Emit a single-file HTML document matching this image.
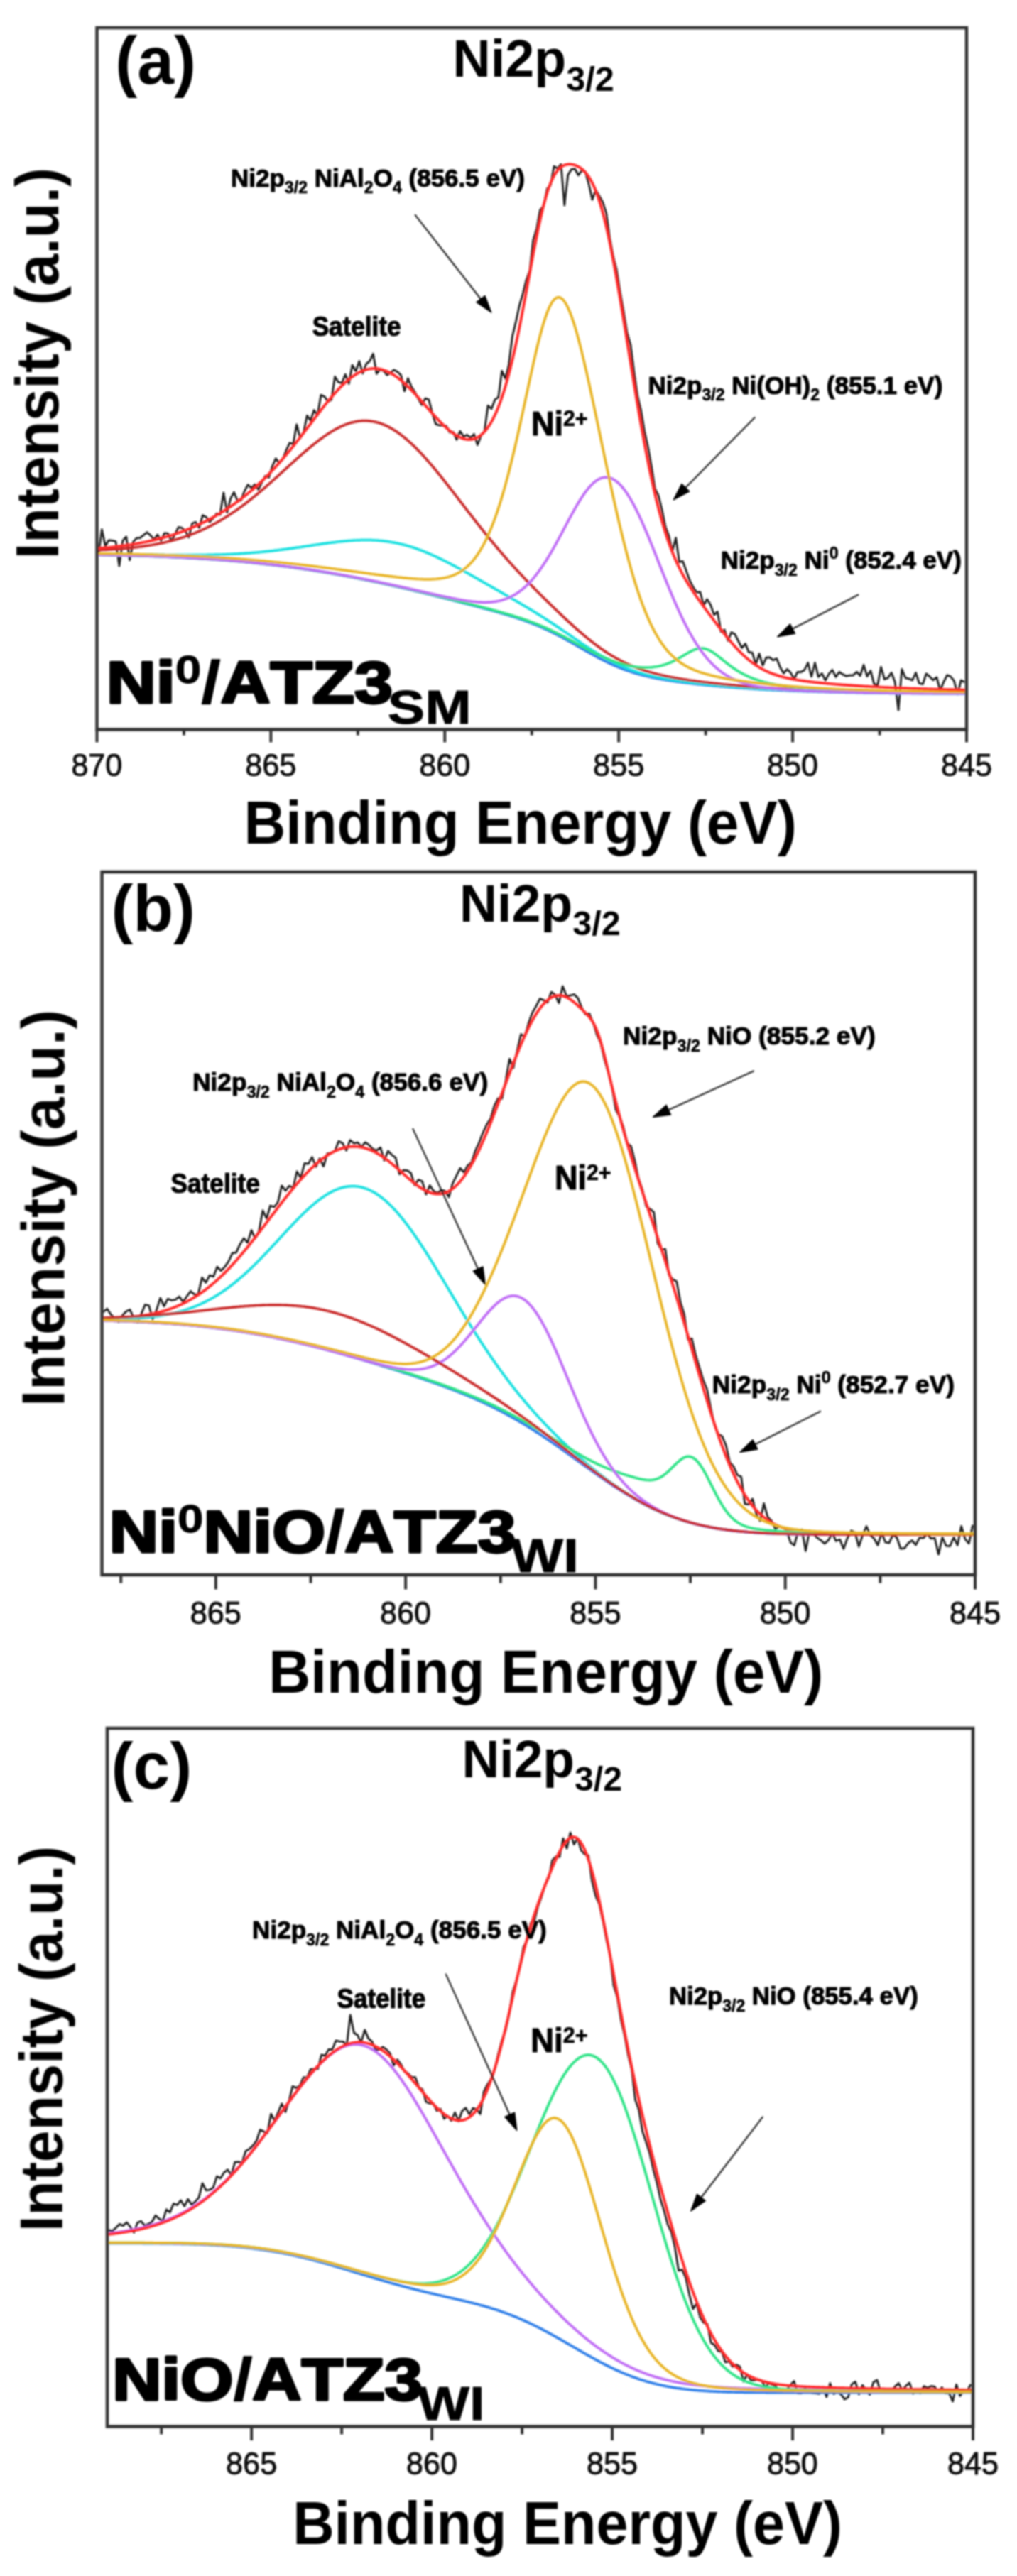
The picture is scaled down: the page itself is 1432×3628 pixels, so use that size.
<!DOCTYPE html><html><head><meta charset="utf-8"><style>html,body{margin:0;padding:0;background:#fff;overflow:hidden;}svg{display:block} text{font-family:"Liberation Sans",sans-serif;font-kerning:none;}</style></head><body>
<svg width="1432" height="3628" viewBox="0 0 1432 3628">
<defs><filter id="soft" x="0" y="0" width="1" height="1"><feGaussianBlur stdDeviation="0.8"/></filter></defs>
<rect width="1432" height="3628" fill="#fff"/>
<g filter="url(#soft)">
<g clip-path="url(#clipa)">
<path d="M138.5,782.7 L143.4,745.6 L148.3,769.1 L153.2,760.8 L158.1,761.3 L163.0,762.7 L167.9,797.0 L172.8,761.6 L177.7,755.9 L182.6,788.8 L187.5,763.3 L192.4,757.9 L197.3,757.7 L202.2,753.7 L207.1,749.7 L212.0,754.1 L216.9,760.0 L221.8,753.1 L226.7,761.5 L231.6,750.9 L236.5,751.4 L241.4,762.1 L246.3,752.6 L251.2,742.6 L256.1,743.5 L260.9,747.5 L265.8,756.8 L270.7,737.2 L275.6,735.4 L280.5,743.2 L285.4,725.8 L290.3,728.2 L295.2,735.1 L300.1,730.1 L305.0,723.4 L309.9,725.0 L314.8,694.0 L319.7,721.6 L324.6,702.4 L329.5,693.2 L334.4,705.2 L339.3,704.8 L344.2,691.8 L349.1,682.7 L354.0,687.3 L358.9,682.3 L363.8,689.5 L368.7,679.5 L373.6,670.3 L378.5,672.6 L383.4,656.9 L388.3,645.7 L393.2,652.3 L398.1,646.6 L403.0,634.4 L407.9,623.8 L412.8,625.8 L417.7,597.8 L422.6,616.9 L427.5,608.9 L432.4,585.3 L437.3,592.4 L442.2,577.7 L447.1,585.0 L452.0,556.2 L456.9,558.7 L461.8,565.4 L466.7,562.9 L471.6,530.5 L476.5,538.2 L481.4,539.6 L486.3,527.2 L491.2,540.3 L496.1,514.1 L501.0,522.9 L505.8,508.7 L510.7,525.9 L515.6,512.6 L520.5,508.6 L525.4,498.2 L530.3,526.3 L535.2,520.3 L540.1,522.4 L545.0,528.2 L549.9,525.0 L554.8,520.9 L559.7,523.8 L564.6,528.4 L569.5,550.9 L574.4,532.9 L579.3,544.8 L584.2,552.1 L589.1,561.9 L594.0,570.2 L598.9,561.1 L603.8,562.8 L608.7,582.2 L613.6,597.3 L618.5,598.8 L623.4,599.4 L628.3,599.8 L633.2,608.9 L638.1,608.3 L643.0,619.1 L647.9,607.3 L652.8,615.0 L657.7,612.6 L662.6,616.5 L667.5,611.5 L672.4,626.6 L677.3,613.4 L682.2,607.3 L687.1,571.3 L692.0,575.8 L696.9,562.9 L701.8,559.4 L706.7,522.3 L711.6,533.3 L716.5,513.7 L721.4,473.9 L726.3,453.6 L731.2,431.0 L736.1,414.4 L741.0,394.7 L745.9,381.0 L750.7,338.4 L755.6,322.5 L760.5,295.9 L765.4,289.8 L770.3,266.0 L775.2,260.7 L780.1,234.2 L785.0,237.5 L789.9,231.4 L794.8,289.0 L799.7,246.5 L804.6,238.5 L809.5,237.8 L814.4,246.7 L819.3,239.9 L824.2,242.1 L829.1,259.2 L834.0,281.1 L838.9,267.6 L843.8,276.0 L848.7,284.8 L853.6,300.2 L858.5,334.4 L863.4,360.7 L868.3,380.6 L873.2,411.4 L878.1,438.9 L883.0,469.0 L887.9,485.7 L892.8,524.0 L897.7,557.5 L902.6,578.4 L907.5,607.5 L912.4,629.8 L917.3,657.1 L922.2,688.2 L927.1,697.9 L932.0,717.9 L936.9,741.7 L941.8,754.8 L946.7,776.1 L951.6,757.5 L956.5,791.6 L961.4,790.4 L966.3,804.0 L971.2,817.7 L976.1,827.2 L981.0,834.1 L985.9,834.0 L990.8,852.5 L995.6,844.0 L1000.5,851.8 L1005.4,865.9 L1010.3,861.6 L1015.2,889.8 L1020.1,886.9 L1025.0,902.3 L1029.9,890.5 L1034.8,893.3 L1039.7,903.0 L1044.6,912.5 L1049.5,906.6 L1054.4,918.6 L1059.3,919.2 L1064.2,935.8 L1069.1,920.7 L1074.0,937.2 L1078.9,926.1 L1083.8,925.8 L1088.7,929.8 L1093.6,927.6 L1098.5,939.8 L1103.4,948.3 L1108.3,942.5 L1113.2,947.3 L1118.1,956.3 L1123.0,946.3 L1127.9,946.5 L1132.8,943.5 L1137.7,933.5 L1142.6,953.0 L1147.5,933.5 L1152.4,953.3 L1157.3,948.5 L1162.2,958.2 L1167.1,949.1 L1172.0,943.5 L1176.9,953.4 L1181.8,946.5 L1186.7,949.9 L1191.6,952.1 L1196.5,951.1 L1201.4,951.0 L1206.3,946.2 L1211.2,951.7 L1216.1,936.5 L1221.0,952.6 L1225.9,944.6 L1230.8,963.4 L1235.7,964.9 L1240.5,939.4 L1245.4,956.5 L1250.3,954.6 L1255.2,947.4 L1260.1,960.3 L1265.0,1000.0 L1269.9,942.4 L1274.8,954.6 L1279.7,955.8 L1284.6,958.0 L1289.5,947.5 L1294.4,962.5 L1299.3,963.6 L1304.2,948.8 L1309.1,952.9 L1314.0,957.7 L1318.9,953.9 L1323.8,972.6 L1328.7,960.5 L1333.6,950.9 L1338.5,952.8 L1343.4,958.8 L1348.3,977.8 L1353.2,958.1 L1358.1,960.7" fill="none" stroke="#1a1a1a" stroke-width="2.8" stroke-linejoin="round"/>
<path d="M137.5,781.4 L139.0,781.4 L140.5,781.5 L142.0,781.5 L143.5,781.5 L145.0,781.6 L146.5,781.6 L148.0,781.6 L149.5,781.6 L151.0,781.7 L152.5,781.7 L154.0,781.7 L155.5,781.8 L157.0,781.8 L158.5,781.8 L160.0,781.9 L161.5,781.9 L163.0,781.9 L164.5,782.0 L166.0,782.0 L167.5,782.0 L169.0,782.1 L170.5,782.1 L172.0,782.1 L173.5,782.2 L175.0,782.2 L176.5,782.3 L178.0,782.3 L179.5,782.3 L181.0,782.4 L182.5,782.4 L184.0,782.5 L185.5,782.5 L187.0,782.5 L188.5,782.6 L190.0,782.6 L191.5,782.7 L193.0,782.7 L194.5,782.8 L196.0,782.8 L197.5,782.9 L199.0,782.9 L200.5,782.9 L202.0,783.0 L203.5,783.0 L205.0,783.1 L206.5,783.1 L208.0,783.2 L209.5,783.2 L211.0,783.3 L212.5,783.4 L214.0,783.4 L215.5,783.5 L217.0,783.5 L218.5,783.6 L220.0,783.6 L221.5,783.7 L223.0,783.7 L224.5,783.8 L226.0,783.9 L227.5,783.9 L229.0,784.0 L230.5,784.0 L232.0,784.1 L233.5,784.2 L235.0,784.2 L236.5,784.3 L238.0,784.4 L239.5,784.4 L241.0,784.5 L242.5,784.6 L244.0,784.6 L245.5,784.7 L247.0,784.8 L248.5,784.8 L250.0,784.9 L251.5,785.0 L253.0,785.1 L254.5,785.1 L256.0,785.2 L257.5,785.3 L259.0,785.4 L260.5,785.4 L262.0,785.5 L263.5,785.6 L265.0,785.7 L266.5,785.8 L268.0,785.9 L269.5,785.9 L271.0,786.0 L272.5,786.1 L274.0,786.2 L275.5,786.3 L277.0,786.4 L278.5,786.5 L280.0,786.6 L281.5,786.6 L283.0,786.7 L284.5,786.8 L286.0,786.9 L287.5,787.0 L289.0,787.1 L290.5,787.2 L292.0,787.3 L293.5,787.4 L295.0,787.5 L296.5,787.6 L298.0,787.7 L299.5,787.8 L301.0,787.9 L302.5,788.0 L304.0,788.1 L305.5,788.3 L307.0,788.4 L308.5,788.5 L310.0,788.6 L311.5,788.7 L313.0,788.8 L314.5,788.9 L316.0,789.0 L317.5,789.2 L319.0,789.3 L320.5,789.4 L322.0,789.5 L323.5,789.7 L325.0,789.8 L326.5,789.9 L328.0,790.0 L329.5,790.2 L331.0,790.3 L332.5,790.4 L334.0,790.5 L335.5,790.7 L337.0,790.8 L338.5,790.9 L340.0,791.1 L341.5,791.2 L343.0,791.4 L344.5,791.5 L346.0,791.6 L347.5,791.8 L349.0,791.9 L350.5,792.1 L352.0,792.2 L353.5,792.4 L355.0,792.5 L356.5,792.7 L358.0,792.8 L359.5,793.0 L361.0,793.1 L362.5,793.3 L364.0,793.4 L365.5,793.6 L367.0,793.8 L368.5,793.9 L370.0,794.1 L371.5,794.3 L373.0,794.4 L374.5,794.6 L376.0,794.8 L377.5,794.9 L379.0,795.1 L380.5,795.3 L382.0,795.4 L383.5,795.6 L385.0,795.8 L386.5,796.0 L388.0,796.2 L389.5,796.3 L391.0,796.5 L392.5,796.7 L394.0,796.9 L395.5,797.1 L397.0,797.3 L398.5,797.5 L400.0,797.6 L401.5,797.8 L403.0,798.0 L404.5,798.2 L406.0,798.4 L407.5,798.6 L409.0,798.8 L410.5,799.0 L412.0,799.2 L413.5,799.4 L415.0,799.6 L416.5,799.8 L418.0,800.1 L419.5,800.3 L421.0,800.5 L422.5,800.7 L424.0,800.9 L425.5,801.1 L427.0,801.3 L428.5,801.6 L430.0,801.8 L431.5,802.0 L433.0,802.2 L434.5,802.5 L436.0,802.7 L437.5,802.9 L439.0,803.1 L440.5,803.4 L442.0,803.6 L443.5,803.8 L445.0,804.1 L446.5,804.3 L448.0,804.6 L449.5,804.8 L451.0,805.0 L452.5,805.3 L454.0,805.5 L455.5,805.8 L457.0,806.0 L458.5,806.3 L460.0,806.5 L461.5,806.8 L463.0,807.0 L464.5,807.3 L466.0,807.6 L467.5,807.8 L469.0,808.1 L470.5,808.3 L472.0,808.6 L473.5,808.9 L475.0,809.1 L476.5,809.4 L478.0,809.7 L479.5,809.9 L481.0,810.2 L482.5,810.5 L484.0,810.8 L485.5,811.0 L487.0,811.3 L488.5,811.6 L490.0,811.9 L491.5,812.2 L493.0,812.4 L494.5,812.7 L496.0,813.0 L497.5,813.3 L499.0,813.6 L500.5,813.9 L502.0,814.2 L503.5,814.5 L505.0,814.8 L506.5,815.1 L508.0,815.4 L509.5,815.7 L511.0,816.0 L512.5,816.3 L514.0,816.6 L515.5,816.9 L517.0,817.2 L518.5,817.5 L520.0,817.8 L521.5,818.1 L523.0,818.4 L524.5,818.7 L526.0,819.1 L527.5,819.4 L529.0,819.7 L530.5,820.0 L532.0,820.3 L533.5,820.6 L535.0,821.0 L536.5,821.3 L538.0,821.6 L539.5,821.9 L541.0,822.3 L542.5,822.6 L544.0,822.9 L545.5,823.3 L547.0,823.6 L548.5,823.9 L550.0,824.3 L551.5,824.6 L553.0,824.9 L554.5,825.3 L556.0,825.6 L557.5,825.9 L559.0,826.3 L560.5,826.6 L562.0,827.0 L563.5,827.3 L565.0,827.7 L566.5,828.0 L568.0,828.4 L569.5,828.7 L571.0,829.0 L572.5,829.4 L574.0,829.7 L575.5,830.1 L577.0,830.5 L578.5,830.8 L580.0,831.2 L581.5,831.5 L583.0,831.9 L584.5,832.2 L586.0,832.6 L587.5,833.0 L589.0,833.3 L590.5,833.7 L592.0,834.0 L593.5,834.4 L595.0,834.8 L596.5,835.1 L598.0,835.5 L599.5,835.9 L601.0,836.2 L602.5,836.6 L604.0,837.0 L605.5,837.3 L607.0,837.7 L608.5,838.1 L610.0,838.4 L611.5,838.8 L613.0,839.2 L614.5,839.6 L616.0,839.9 L617.5,840.3 L619.0,840.7 L620.5,841.1 L622.0,841.4 L623.5,841.8 L625.0,842.2 L626.5,842.6 L628.0,842.9 L629.5,843.3 L631.0,843.7 L632.5,844.1 L634.0,844.5 L635.5,844.8 L637.0,845.2 L638.5,845.6 L640.0,846.0 L641.5,846.4 L643.0,846.8 L644.5,847.1 L646.0,847.5 L647.5,847.9 L649.0,848.3 L650.5,848.7 L652.0,849.1 L653.5,849.5 L655.0,849.9 L656.5,850.2 L658.0,850.6 L659.5,851.0 L661.0,851.4 L662.5,851.8 L664.0,852.2 L665.5,852.6 L667.0,853.0 L668.5,853.4 L670.0,853.8 L671.5,854.2 L673.0,854.6 L674.5,855.0 L676.0,855.4 L677.5,855.8 L679.0,856.2 L680.5,856.6 L682.0,857.0 L683.5,857.4 L685.0,857.8 L686.5,858.2 L688.0,858.6 L689.5,859.0 L691.0,859.4 L692.5,859.8 L694.0,860.2 L695.5,860.6 L697.0,861.1 L698.5,861.5 L700.0,861.9 L701.5,862.3 L703.0,862.8 L704.5,863.2 L706.0,863.6 L707.5,864.1 L709.0,864.5 L710.5,864.9 L712.0,865.4 L713.5,865.8 L715.0,866.3 L716.5,866.7 L718.0,867.2 L719.5,867.7 L721.0,868.1 L722.5,868.6 L724.0,869.1 L725.5,869.6 L727.0,870.1 L728.5,870.6 L730.0,871.0 L731.5,871.6 L733.0,872.1 L734.5,872.6 L736.0,873.1 L737.5,873.6 L739.0,874.2 L740.5,874.7 L742.0,875.2 L743.5,875.8 L745.0,876.4 L746.5,876.9 L748.0,877.5 L749.5,878.1 L751.0,878.7 L752.5,879.3 L754.0,879.9 L755.5,880.5 L757.0,881.1 L758.5,881.8 L760.0,882.4 L761.5,883.0 L763.0,883.7 L764.5,884.4 L766.0,885.0 L767.5,885.7 L769.0,886.4 L770.5,887.1 L772.0,887.8 L773.5,888.5 L775.0,889.2 L776.5,890.0 L778.0,890.7 L779.5,891.5 L781.0,892.2 L782.5,893.0 L784.0,893.8 L785.5,894.5 L787.0,895.3 L788.5,896.1 L790.0,896.9 L791.5,897.7 L793.0,898.5 L794.5,899.3 L796.0,900.2 L797.5,901.0 L799.0,901.8 L800.5,902.6 L802.0,903.5 L803.5,904.3 L805.0,905.2 L806.5,906.0 L808.0,906.9 L809.5,907.7 L811.0,908.6 L812.5,909.5 L814.0,910.3 L815.5,911.2 L817.0,912.0 L818.5,912.9 L820.0,913.8 L821.5,914.6 L823.0,915.5 L824.5,916.3 L826.0,917.2 L827.5,918.0 L829.0,918.9 L830.5,919.7 L832.0,920.6 L833.5,921.4 L835.0,922.2 L836.5,923.0 L838.0,923.9 L839.5,924.7 L841.0,925.5 L842.5,926.3 L844.0,927.1 L845.5,927.8 L847.0,928.6 L848.5,929.4 L850.0,930.1 L851.5,930.9 L853.0,931.6 L854.5,932.4 L856.0,933.1 L857.5,933.8 L859.0,934.5 L860.5,935.2 L862.0,935.9 L863.5,936.5 L865.0,937.2 L866.5,937.8 L868.0,938.5 L869.5,939.1 L871.0,939.7 L872.5,940.3 L874.0,940.9 L875.5,941.5 L877.0,942.1 L878.5,942.7 L880.0,943.2 L881.5,943.7 L883.0,944.3 L884.5,944.8 L886.0,945.3 L887.5,945.8 L889.0,946.3 L890.5,946.8 L892.0,947.3 L893.5,947.7 L895.0,948.2 L896.5,948.6 L898.0,949.0 L899.5,949.5 L901.0,949.9 L902.5,950.3 L904.0,950.7 L905.5,951.1 L907.0,951.4 L908.5,951.8 L910.0,952.2 L911.5,952.5 L913.0,952.9 L914.5,953.2 L916.0,953.5 L917.5,953.9 L919.0,954.2 L920.5,954.5 L922.0,954.8 L923.5,955.1 L925.0,955.4 L926.5,955.7 L928.0,956.0 L929.5,956.2 L931.0,956.5 L932.5,956.8 L934.0,957.0 L935.5,957.3 L937.0,957.6 L938.5,957.8 L940.0,958.0 L941.5,958.3 L943.0,958.5 L944.5,958.8 L946.0,959.0 L947.5,959.2 L949.0,959.4 L950.5,959.6 L952.0,959.9 L953.5,960.1 L955.0,960.3 L956.5,960.5 L958.0,960.7 L959.5,960.9 L961.0,961.1 L962.5,961.3 L964.0,961.4 L965.5,961.6 L967.0,961.8 L968.5,962.0 L970.0,962.2 L971.5,962.4 L973.0,962.5 L974.5,962.7 L976.0,962.9 L977.5,963.1 L979.0,963.2 L980.5,963.4 L982.0,963.6 L983.5,963.7 L985.0,963.9 L986.5,964.0 L988.0,964.2 L989.5,964.3 L991.0,964.5 L992.5,964.7 L994.0,964.8 L995.5,965.0 L997.0,965.1 L998.5,965.2 L1000.0,965.4 L1001.5,965.5 L1003.0,965.7 L1004.5,965.8 L1006.0,966.0 L1007.5,966.1 L1009.0,966.2 L1010.5,966.4 L1012.0,966.5 L1013.5,966.6 L1015.0,966.8 L1016.5,966.9 L1018.0,967.0 L1019.5,967.1 L1021.0,967.3 L1022.5,967.4 L1024.0,967.5 L1025.5,967.6 L1027.0,967.8 L1028.5,967.9 L1030.0,968.0 L1031.5,968.1 L1033.0,968.2 L1034.5,968.3 L1036.0,968.5 L1037.5,968.6 L1039.0,968.7 L1040.5,968.8 L1042.0,968.9 L1043.5,969.0 L1045.0,969.1 L1046.5,969.2 L1048.0,969.3 L1049.5,969.4 L1051.0,969.5 L1052.5,969.6 L1054.0,969.7 L1055.5,969.8 L1057.0,969.9 L1058.5,970.0 L1060.0,970.1 L1061.5,970.2 L1063.0,970.3 L1064.5,970.4 L1066.0,970.5 L1067.5,970.6 L1069.0,970.7 L1070.5,970.8 L1072.0,970.9 L1073.5,970.9 L1075.0,971.0 L1076.5,971.1 L1078.0,971.2 L1079.5,971.3 L1081.0,971.4 L1082.5,971.4 L1084.0,971.5 L1085.5,971.6 L1087.0,971.7 L1088.5,971.8 L1090.0,971.8 L1091.5,971.9 L1093.0,972.0 L1094.5,972.1 L1096.0,972.1 L1097.5,972.2 L1099.0,972.3 L1100.5,972.3 L1102.0,972.4 L1103.5,972.5 L1105.0,972.5 L1106.5,972.6 L1108.0,972.7 L1109.5,972.7 L1111.0,972.8 L1112.5,972.9 L1114.0,972.9 L1115.5,973.0 L1117.0,973.1 L1118.5,973.1 L1120.0,973.2 L1121.5,973.2 L1123.0,973.3 L1124.5,973.4 L1126.0,973.4 L1127.5,973.5 L1129.0,973.5 L1130.5,973.6 L1132.0,973.6 L1133.5,973.7 L1135.0,973.7 L1136.5,973.8 L1138.0,973.9 L1139.5,973.9 L1141.0,974.0 L1142.5,974.0 L1144.0,974.0 L1145.5,974.1 L1147.0,974.1 L1148.5,974.2 L1150.0,974.2 L1151.5,974.3 L1153.0,974.3 L1154.5,974.4 L1156.0,974.4 L1157.5,974.5 L1159.0,974.5 L1160.5,974.5 L1162.0,974.6 L1163.5,974.6 L1165.0,974.7 L1166.5,974.7 L1168.0,974.8 L1169.5,974.8 L1171.0,974.8 L1172.5,974.9 L1174.0,974.9 L1175.5,974.9 L1177.0,975.0 L1178.5,975.0 L1180.0,975.0 L1181.5,975.1 L1183.0,975.1 L1184.5,975.2 L1186.0,975.2 L1187.5,975.2 L1189.0,975.2 L1190.5,975.3 L1192.0,975.3 L1193.5,975.3 L1195.0,975.4 L1196.5,975.4 L1198.0,975.4 L1199.5,975.5 L1201.0,975.5 L1202.5,975.5 L1204.0,975.5 L1205.5,975.6 L1207.0,975.6 L1208.5,975.6 L1210.0,975.7 L1211.5,975.7 L1213.0,975.7 L1214.5,975.7 L1216.0,975.8 L1217.5,975.8 L1219.0,975.8 L1220.5,975.8 L1222.0,975.9 L1223.5,975.9 L1225.0,975.9 L1226.5,975.9 L1228.0,975.9 L1229.5,976.0 L1231.0,976.0 L1232.5,976.0 L1234.0,976.0 L1235.5,976.0 L1237.0,976.1 L1238.5,976.1 L1240.0,976.1 L1241.5,976.1 L1243.0,976.1 L1244.5,976.2 L1246.0,976.2 L1247.5,976.2 L1249.0,976.2 L1250.5,976.2 L1252.0,976.3 L1253.5,976.3 L1255.0,976.3 L1256.5,976.3 L1258.0,976.3 L1259.5,976.3 L1261.0,976.3 L1262.5,976.4 L1264.0,976.4 L1265.5,976.4 L1267.0,976.4 L1268.5,976.4 L1270.0,976.4 L1271.5,976.4 L1273.0,976.5 L1274.5,976.5 L1276.0,976.5 L1277.5,976.5 L1279.0,976.5 L1280.5,976.5 L1282.0,976.5 L1283.5,976.6 L1285.0,976.6 L1286.5,976.6 L1288.0,976.6 L1289.5,976.6 L1291.0,976.6 L1292.5,976.6 L1294.0,976.6 L1295.5,976.6 L1297.0,976.7 L1298.5,976.7 L1300.0,976.7 L1301.5,976.7 L1303.0,976.7 L1304.5,976.7 L1306.0,976.7 L1307.5,976.7 L1309.0,976.7 L1310.5,976.7 L1312.0,976.7 L1313.5,976.8 L1315.0,976.8 L1316.5,976.8 L1318.0,976.8 L1319.5,976.8 L1321.0,976.8 L1322.5,976.8 L1324.0,976.8 L1325.5,976.8 L1327.0,976.8 L1328.5,976.8 L1330.0,976.8 L1331.5,976.8 L1333.0,976.8 L1334.5,976.9 L1336.0,976.9 L1337.5,976.9 L1339.0,976.9 L1340.5,976.9 L1342.0,976.9 L1343.5,976.9 L1345.0,976.9 L1346.5,976.9 L1348.0,976.9 L1349.5,976.9 L1351.0,976.9 L1352.5,976.9 L1354.0,976.9 L1355.5,976.9 L1357.0,976.9 L1358.5,976.9" fill="none" stroke="#2f7ee8" stroke-width="3.7"/>
<path d="M137.5,780.2 L139.0,780.3 L140.5,780.3 L142.0,780.3 L143.5,780.3 L145.0,780.3 L146.5,780.3 L148.0,780.4 L149.5,780.4 L151.0,780.4 L152.5,780.4 L154.0,780.4 L155.5,780.5 L157.0,780.5 L158.5,780.5 L160.0,780.5 L161.5,780.5 L163.0,780.5 L164.5,780.6 L166.0,780.6 L167.5,780.6 L169.0,780.6 L170.5,780.6 L172.0,780.7 L173.5,780.7 L175.0,780.7 L176.5,780.7 L178.0,780.7 L179.5,780.8 L181.0,780.8 L182.5,780.8 L184.0,780.8 L185.5,780.8 L187.0,780.9 L188.5,780.9 L190.0,780.9 L191.5,780.9 L193.0,781.0 L194.5,781.0 L196.0,781.0 L197.5,781.0 L199.0,781.0 L200.5,781.1 L202.0,781.1 L203.5,781.1 L205.0,781.1 L206.5,781.1 L208.0,781.2 L209.5,781.2 L211.0,781.2 L212.5,781.2 L214.0,781.2 L215.5,781.3 L217.0,781.3 L218.5,781.3 L220.0,781.3 L221.5,781.3 L223.0,781.3 L224.5,781.4 L226.0,781.4 L227.5,781.4 L229.0,781.4 L230.5,781.4 L232.0,781.4 L233.5,781.5 L235.0,781.5 L236.5,781.5 L238.0,781.5 L239.5,781.5 L241.0,781.5 L242.5,781.5 L244.0,781.6 L245.5,781.6 L247.0,781.6 L248.5,781.6 L250.0,781.6 L251.5,781.6 L253.0,781.6 L254.5,781.6 L256.0,781.6 L257.5,781.6 L259.0,781.6 L260.5,781.6 L262.0,781.6 L263.5,781.6 L265.0,781.6 L266.5,781.6 L268.0,781.6 L269.5,781.6 L271.0,781.6 L272.5,781.6 L274.0,781.6 L275.5,781.6 L277.0,781.6 L278.5,781.6 L280.0,781.6 L281.5,781.6 L283.0,781.6 L284.5,781.5 L286.0,781.5 L287.5,781.5 L289.0,781.5 L290.5,781.5 L292.0,781.4 L293.5,781.4 L295.0,781.4 L296.5,781.4 L298.0,781.3 L299.5,781.3 L301.0,781.3 L302.5,781.2 L304.0,781.2 L305.5,781.1 L307.0,781.1 L308.5,781.1 L310.0,781.0 L311.5,781.0 L313.0,780.9 L314.5,780.9 L316.0,780.8 L317.5,780.8 L319.0,780.7 L320.5,780.6 L322.0,780.6 L323.5,780.5 L325.0,780.4 L326.5,780.4 L328.0,780.3 L329.5,780.2 L331.0,780.1 L332.5,780.1 L334.0,780.0 L335.5,779.9 L337.0,779.8 L338.5,779.7 L340.0,779.6 L341.5,779.5 L343.0,779.4 L344.5,779.3 L346.0,779.2 L347.5,779.1 L349.0,779.0 L350.5,778.9 L352.0,778.8 L353.5,778.7 L355.0,778.5 L356.5,778.4 L358.0,778.3 L359.5,778.2 L361.0,778.0 L362.5,777.9 L364.0,777.8 L365.5,777.6 L367.0,777.5 L368.5,777.3 L370.0,777.2 L371.5,777.1 L373.0,776.9 L374.5,776.7 L376.0,776.6 L377.5,776.4 L379.0,776.3 L380.5,776.1 L382.0,775.9 L383.5,775.8 L385.0,775.6 L386.5,775.4 L388.0,775.2 L389.5,775.1 L391.0,774.9 L392.5,774.7 L394.0,774.5 L395.5,774.3 L397.0,774.1 L398.5,773.9 L400.0,773.7 L401.5,773.5 L403.0,773.3 L404.5,773.1 L406.0,772.9 L407.5,772.7 L409.0,772.5 L410.5,772.3 L412.0,772.1 L413.5,771.9 L415.0,771.7 L416.5,771.4 L418.0,771.2 L419.5,771.0 L421.0,770.8 L422.5,770.6 L424.0,770.4 L425.5,770.1 L427.0,769.9 L428.5,769.7 L430.0,769.5 L431.5,769.2 L433.0,769.0 L434.5,768.8 L436.0,768.6 L437.5,768.4 L439.0,768.1 L440.5,767.9 L442.0,767.7 L443.5,767.5 L445.0,767.2 L446.5,767.0 L448.0,766.8 L449.5,766.6 L451.0,766.4 L452.5,766.2 L454.0,765.9 L455.5,765.7 L457.0,765.5 L458.5,765.3 L460.0,765.1 L461.5,764.9 L463.0,764.7 L464.5,764.5 L466.0,764.3 L467.5,764.1 L469.0,763.9 L470.5,763.8 L472.0,763.6 L473.5,763.4 L475.0,763.2 L476.5,763.0 L478.0,762.9 L479.5,762.7 L481.0,762.6 L482.5,762.4 L484.0,762.3 L485.5,762.1 L487.0,762.0 L488.5,761.9 L490.0,761.7 L491.5,761.6 L493.0,761.5 L494.5,761.4 L496.0,761.3 L497.5,761.2 L499.0,761.1 L500.5,761.0 L502.0,760.9 L503.5,760.9 L505.0,760.8 L506.5,760.8 L508.0,760.7 L509.5,760.7 L511.0,760.7 L512.5,760.6 L514.0,760.6 L515.5,760.6 L517.0,760.6 L518.5,760.6 L520.0,760.7 L521.5,760.7 L523.0,760.7 L524.5,760.8 L526.0,760.9 L527.5,760.9 L529.0,761.0 L530.5,761.1 L532.0,761.2 L533.5,761.3 L535.0,761.5 L536.5,761.6 L538.0,761.7 L539.5,761.9 L541.0,762.1 L542.5,762.3 L544.0,762.4 L545.5,762.6 L547.0,762.9 L548.5,763.1 L550.0,763.3 L551.5,763.6 L553.0,763.8 L554.5,764.1 L556.0,764.4 L557.5,764.7 L559.0,765.0 L560.5,765.3 L562.0,765.7 L563.5,766.0 L565.0,766.4 L566.5,766.7 L568.0,767.1 L569.5,767.5 L571.0,767.9 L572.5,768.3 L574.0,768.8 L575.5,769.2 L577.0,769.6 L578.5,770.1 L580.0,770.6 L581.5,771.1 L583.0,771.6 L584.5,772.1 L586.0,772.6 L587.5,773.1 L589.0,773.7 L590.5,774.2 L592.0,774.8 L593.5,775.3 L595.0,775.9 L596.5,776.5 L598.0,777.1 L599.5,777.7 L601.0,778.3 L602.5,779.0 L604.0,779.6 L605.5,780.3 L607.0,780.9 L608.5,781.6 L610.0,782.3 L611.5,782.9 L613.0,783.6 L614.5,784.3 L616.0,785.0 L617.5,785.7 L619.0,786.5 L620.5,787.2 L622.0,787.9 L623.5,788.7 L625.0,789.4 L626.5,790.1 L628.0,790.9 L629.5,791.7 L631.0,792.4 L632.5,793.2 L634.0,794.0 L635.5,794.8 L637.0,795.6 L638.5,796.4 L640.0,797.2 L641.5,798.0 L643.0,798.8 L644.5,799.6 L646.0,800.4 L647.5,801.2 L649.0,802.0 L650.5,802.9 L652.0,803.7 L653.5,804.5 L655.0,805.4 L656.5,806.2 L658.0,807.0 L659.5,807.9 L661.0,808.7 L662.5,809.6 L664.0,810.4 L665.5,811.3 L667.0,812.1 L668.5,813.0 L670.0,813.8 L671.5,814.7 L673.0,815.5 L674.5,816.4 L676.0,817.2 L677.5,818.1 L679.0,819.0 L680.5,819.8 L682.0,820.7 L683.5,821.5 L685.0,822.4 L686.5,823.3 L688.0,824.1 L689.5,825.0 L691.0,825.8 L692.5,826.7 L694.0,827.6 L695.5,828.4 L697.0,829.3 L698.5,830.2 L700.0,831.0 L701.5,831.9 L703.0,832.7 L704.5,833.6 L706.0,834.5 L707.5,835.3 L709.0,836.2 L710.5,837.1 L712.0,837.9 L713.5,838.8 L715.0,839.7 L716.5,840.5 L718.0,841.4 L719.5,842.3 L721.0,843.1 L722.5,844.0 L724.0,844.9 L725.5,845.7 L727.0,846.6 L728.5,847.5 L730.0,848.4 L731.5,849.2 L733.0,850.1 L734.5,851.0 L736.0,851.9 L737.5,852.8 L739.0,853.7 L740.5,854.6 L742.0,855.5 L743.5,856.4 L745.0,857.3 L746.5,858.2 L748.0,859.1 L749.5,860.0 L751.0,860.9 L752.5,861.8 L754.0,862.8 L755.5,863.7 L757.0,864.6 L758.5,865.6 L760.0,866.5 L761.5,867.4 L763.0,868.4 L764.5,869.3 L766.0,870.3 L767.5,871.3 L769.0,872.2 L770.5,873.2 L772.0,874.2 L773.5,875.1 L775.0,876.1 L776.5,877.1 L778.0,878.1 L779.5,879.1 L781.0,880.1 L782.5,881.1 L784.0,882.1 L785.5,883.1 L787.0,884.1 L788.5,885.1 L790.0,886.2 L791.5,887.2 L793.0,888.2 L794.5,889.2 L796.0,890.3 L797.5,891.3 L799.0,892.3 L800.5,893.3 L802.0,894.4 L803.5,895.4 L805.0,896.4 L806.5,897.5 L808.0,898.5 L809.5,899.5 L811.0,900.6 L812.5,901.6 L814.0,902.6 L815.5,903.6 L817.0,904.7 L818.5,905.7 L820.0,906.7 L821.5,907.7 L823.0,908.7 L824.5,909.7 L826.0,910.7 L827.5,911.7 L829.0,912.6 L830.5,913.6 L832.0,914.6 L833.5,915.5 L835.0,916.5 L836.5,917.4 L838.0,918.4 L839.5,919.3 L841.0,920.2 L842.5,921.1 L844.0,922.0 L845.5,922.9 L847.0,923.8 L848.5,924.6 L850.0,925.5 L851.5,926.3 L853.0,927.2 L854.5,928.0 L856.0,928.8 L857.5,929.6 L859.0,930.4 L860.5,931.1 L862.0,931.9 L863.5,932.7 L865.0,933.4 L866.5,934.1 L868.0,934.8 L869.5,935.5 L871.0,936.2 L872.5,936.9 L874.0,937.6 L875.5,938.2 L877.0,938.8 L878.5,939.5 L880.0,940.1 L881.5,940.7 L883.0,941.3 L884.5,941.9 L886.0,942.4 L887.5,943.0 L889.0,943.5 L890.5,944.0 L892.0,944.6 L893.5,945.1 L895.0,945.6 L896.5,946.0 L898.0,946.5 L899.5,947.0 L901.0,947.4 L902.5,947.9 L904.0,948.3 L905.5,948.8 L907.0,949.2 L908.5,949.6 L910.0,950.0 L911.5,950.4 L913.0,950.7 L914.5,951.1 L916.0,951.5 L917.5,951.8 L919.0,952.2 L920.5,952.5 L922.0,952.9 L923.5,953.2 L925.0,953.5 L926.5,953.8 L928.0,954.1 L929.5,954.4 L931.0,954.7 L932.5,955.0 L934.0,955.3 L935.5,955.6 L937.0,955.9 L938.5,956.1 L940.0,956.4 L941.5,956.7 L943.0,956.9 L944.5,957.2 L946.0,957.4 L947.5,957.7 L949.0,957.9 L950.5,958.1 L952.0,958.4 L953.5,958.6 L955.0,958.8 L956.5,959.0 L958.0,959.2 L959.5,959.5 L961.0,959.7 L962.5,959.9 L964.0,960.1 L965.5,960.3 L967.0,960.5 L968.5,960.7 L970.0,960.9 L971.5,961.1 L973.0,961.3 L974.5,961.4 L976.0,961.6 L977.5,961.8 L979.0,962.0 L980.5,962.2 L982.0,962.3 L983.5,962.5 L985.0,962.7 L986.5,962.9 L988.0,963.0 L989.5,963.2 L991.0,963.4 L992.5,963.5 L994.0,963.7 L995.5,963.8 L997.0,964.0 L998.5,964.1 L1000.0,964.3 L1001.5,964.5 L1003.0,964.6 L1004.5,964.8 L1006.0,964.9 L1007.5,965.0 L1009.0,965.2 L1010.5,965.3 L1012.0,965.5 L1013.5,965.6 L1015.0,965.7 L1016.5,965.9 L1018.0,966.0 L1019.5,966.2 L1021.0,966.3 L1022.5,966.4 L1024.0,966.5 L1025.5,966.7 L1027.0,966.8 L1028.5,966.9 L1030.0,967.1 L1031.5,967.2 L1033.0,967.3 L1034.5,967.4 L1036.0,967.5 L1037.5,967.7 L1039.0,967.8 L1040.5,967.9 L1042.0,968.0 L1043.5,968.1 L1045.0,968.2 L1046.5,968.3 L1048.0,968.5 L1049.5,968.6 L1051.0,968.7 L1052.5,968.8 L1054.0,968.9 L1055.5,969.0 L1057.0,969.1 L1058.5,969.2 L1060.0,969.3 L1061.5,969.4 L1063.0,969.5 L1064.5,969.6 L1066.0,969.7 L1067.5,969.8 L1069.0,969.9 L1070.5,970.0 L1072.0,970.1 L1073.5,970.2 L1075.0,970.2 L1076.5,970.3 L1078.0,970.4 L1079.5,970.5 L1081.0,970.6 L1082.5,970.7 L1084.0,970.8 L1085.5,970.8 L1087.0,970.9 L1088.5,971.0 L1090.0,971.1 L1091.5,971.2 L1093.0,971.2 L1094.5,971.3 L1096.0,971.4 L1097.5,971.5 L1099.0,971.6 L1100.5,971.6 L1102.0,971.7 L1103.5,971.8 L1105.0,971.8 L1106.5,971.9 L1108.0,972.0 L1109.5,972.1 L1111.0,972.1 L1112.5,972.2 L1114.0,972.3 L1115.5,972.3 L1117.0,972.4 L1118.5,972.5 L1120.0,972.5 L1121.5,972.6 L1123.0,972.6 L1124.5,972.7 L1126.0,972.8 L1127.5,972.8 L1129.0,972.9 L1130.5,972.9 L1132.0,973.0 L1133.5,973.1 L1135.0,973.1 L1136.5,973.2 L1138.0,973.2 L1139.5,973.3 L1141.0,973.3 L1142.5,973.4 L1144.0,973.4 L1145.5,973.5 L1147.0,973.5 L1148.5,973.6 L1150.0,973.6 L1151.5,973.7 L1153.0,973.7 L1154.5,973.8 L1156.0,973.8 L1157.5,973.9 L1159.0,973.9 L1160.5,974.0 L1162.0,974.0 L1163.5,974.1 L1165.0,974.1 L1166.5,974.1 L1168.0,974.2 L1169.5,974.2 L1171.0,974.3 L1172.5,974.3 L1174.0,974.3 L1175.5,974.4 L1177.0,974.4 L1178.5,974.5 L1180.0,974.5 L1181.5,974.5 L1183.0,974.6 L1184.5,974.6 L1186.0,974.6 L1187.5,974.7 L1189.0,974.7 L1190.5,974.7 L1192.0,974.8 L1193.5,974.8 L1195.0,974.8 L1196.5,974.9 L1198.0,974.9 L1199.5,974.9 L1201.0,975.0 L1202.5,975.0 L1204.0,975.0 L1205.5,975.1 L1207.0,975.1 L1208.5,975.1 L1210.0,975.2 L1211.5,975.2 L1213.0,975.2 L1214.5,975.2 L1216.0,975.3 L1217.5,975.3 L1219.0,975.3 L1220.5,975.3 L1222.0,975.4 L1223.5,975.4 L1225.0,975.4 L1226.5,975.4 L1228.0,975.5 L1229.5,975.5 L1231.0,975.5 L1232.5,975.5 L1234.0,975.6 L1235.5,975.6 L1237.0,975.6 L1238.5,975.6 L1240.0,975.6 L1241.5,975.7 L1243.0,975.7 L1244.5,975.7 L1246.0,975.7 L1247.5,975.7 L1249.0,975.8 L1250.5,975.8 L1252.0,975.8 L1253.5,975.8 L1255.0,975.8 L1256.5,975.9 L1258.0,975.9 L1259.5,975.9 L1261.0,975.9 L1262.5,975.9 L1264.0,975.9 L1265.5,976.0 L1267.0,976.0 L1268.5,976.0 L1270.0,976.0 L1271.5,976.0 L1273.0,976.0 L1274.5,976.1 L1276.0,976.1 L1277.5,976.1 L1279.0,976.1 L1280.5,976.1 L1282.0,976.1 L1283.5,976.1 L1285.0,976.2 L1286.5,976.2 L1288.0,976.2 L1289.5,976.2 L1291.0,976.2 L1292.5,976.2 L1294.0,976.2 L1295.5,976.2 L1297.0,976.3 L1298.5,976.3 L1300.0,976.3 L1301.5,976.3 L1303.0,976.3 L1304.5,976.3 L1306.0,976.3 L1307.5,976.3 L1309.0,976.3 L1310.5,976.4 L1312.0,976.4 L1313.5,976.4 L1315.0,976.4 L1316.5,976.4 L1318.0,976.4 L1319.5,976.4 L1321.0,976.4 L1322.5,976.4 L1324.0,976.4 L1325.5,976.4 L1327.0,976.5 L1328.5,976.5 L1330.0,976.5 L1331.5,976.5 L1333.0,976.5 L1334.5,976.5 L1336.0,976.5 L1337.5,976.5 L1339.0,976.5 L1340.5,976.5 L1342.0,976.5 L1343.5,976.5 L1345.0,976.6 L1346.5,976.6 L1348.0,976.6 L1349.5,976.6 L1351.0,976.6 L1352.5,976.6 L1354.0,976.6 L1355.5,976.6 L1357.0,976.6 L1358.5,976.6" fill="none" stroke="#16e0e0" stroke-width="3.7" stroke-linejoin="round"/>
<path d="M137.5,774.9 L139.0,774.8 L140.5,774.7 L142.0,774.7 L143.5,774.6 L145.0,774.5 L146.5,774.4 L148.0,774.3 L149.5,774.3 L151.0,774.2 L152.5,774.1 L154.0,774.0 L155.5,773.9 L157.0,773.8 L158.5,773.7 L160.0,773.6 L161.5,773.5 L163.0,773.4 L164.5,773.3 L166.0,773.2 L167.5,773.1 L169.0,773.0 L170.5,772.8 L172.0,772.7 L173.5,772.6 L175.0,772.4 L176.5,772.3 L178.0,772.2 L179.5,772.0 L181.0,771.9 L182.5,771.7 L184.0,771.6 L185.5,771.4 L187.0,771.3 L188.5,771.1 L190.0,770.9 L191.5,770.7 L193.0,770.6 L194.5,770.4 L196.0,770.2 L197.5,770.0 L199.0,769.8 L200.5,769.6 L202.0,769.4 L203.5,769.2 L205.0,768.9 L206.5,768.7 L208.0,768.5 L209.5,768.2 L211.0,768.0 L212.5,767.7 L214.0,767.5 L215.5,767.2 L217.0,766.9 L218.5,766.7 L220.0,766.4 L221.5,766.1 L223.0,765.8 L224.5,765.5 L226.0,765.2 L227.5,764.9 L229.0,764.6 L230.5,764.2 L232.0,763.9 L233.5,763.5 L235.0,763.2 L236.5,762.8 L238.0,762.4 L239.5,762.1 L241.0,761.7 L242.5,761.3 L244.0,760.9 L245.5,760.5 L247.0,760.0 L248.5,759.6 L250.0,759.2 L251.5,758.7 L253.0,758.3 L254.5,757.8 L256.0,757.3 L257.5,756.9 L259.0,756.4 L260.5,755.9 L262.0,755.3 L263.5,754.8 L265.0,754.3 L266.5,753.7 L268.0,753.2 L269.5,752.6 L271.0,752.0 L272.5,751.5 L274.0,750.9 L275.5,750.3 L277.0,749.6 L278.5,749.0 L280.0,748.4 L281.5,747.7 L283.0,747.1 L284.5,746.4 L286.0,745.7 L287.5,745.0 L289.0,744.3 L290.5,743.6 L292.0,742.9 L293.5,742.1 L295.0,741.4 L296.5,740.6 L298.0,739.8 L299.5,739.0 L301.0,738.2 L302.5,737.4 L304.0,736.6 L305.5,735.8 L307.0,734.9 L308.5,734.1 L310.0,733.2 L311.5,732.3 L313.0,731.4 L314.5,730.5 L316.0,729.6 L317.5,728.7 L319.0,727.7 L320.5,726.8 L322.0,725.8 L323.5,724.8 L325.0,723.8 L326.5,722.8 L328.0,721.8 L329.5,720.8 L331.0,719.8 L332.5,718.7 L334.0,717.7 L335.5,716.6 L337.0,715.5 L338.5,714.4 L340.0,713.3 L341.5,712.2 L343.0,711.1 L344.5,710.0 L346.0,708.8 L347.5,707.7 L349.0,706.5 L350.5,705.3 L352.0,704.1 L353.5,703.0 L355.0,701.7 L356.5,700.5 L358.0,699.3 L359.5,698.1 L361.0,696.8 L362.5,695.6 L364.0,694.3 L365.5,693.1 L367.0,691.8 L368.5,690.5 L370.0,689.2 L371.5,688.0 L373.0,686.7 L374.5,685.3 L376.0,684.0 L377.5,682.7 L379.0,681.4 L380.5,680.1 L382.0,678.7 L383.5,677.4 L385.0,676.0 L386.5,674.7 L388.0,673.3 L389.5,672.0 L391.0,670.6 L392.5,669.3 L394.0,667.9 L395.5,666.5 L397.0,665.2 L398.5,663.8 L400.0,662.4 L401.5,661.1 L403.0,659.7 L404.5,658.3 L406.0,657.0 L407.5,655.6 L409.0,654.2 L410.5,652.9 L412.0,651.5 L413.5,650.1 L415.0,648.8 L416.5,647.4 L418.0,646.1 L419.5,644.8 L421.0,643.4 L422.5,642.1 L424.0,640.8 L425.5,639.5 L427.0,638.1 L428.5,636.8 L430.0,635.5 L431.5,634.3 L433.0,633.0 L434.5,631.7 L436.0,630.5 L437.5,629.2 L439.0,628.0 L440.5,626.8 L442.0,625.6 L443.5,624.4 L445.0,623.2 L446.5,622.0 L448.0,620.9 L449.5,619.7 L451.0,618.6 L452.5,617.5 L454.0,616.4 L455.5,615.3 L457.0,614.3 L458.5,613.3 L460.0,612.2 L461.5,611.2 L463.0,610.3 L464.5,609.3 L466.0,608.4 L467.5,607.5 L469.0,606.6 L470.5,605.7 L472.0,604.9 L473.5,604.0 L475.0,603.3 L476.5,602.5 L478.0,601.7 L479.5,601.0 L481.0,600.3 L482.5,599.7 L484.0,599.0 L485.5,598.4 L487.0,597.8 L488.5,597.3 L490.0,596.7 L491.5,596.2 L493.0,595.8 L494.5,595.3 L496.0,594.9 L497.5,594.6 L499.0,594.2 L500.5,593.9 L502.0,593.6 L503.5,593.4 L505.0,593.2 L506.5,593.0 L508.0,592.9 L509.5,592.7 L511.0,592.7 L512.5,592.6 L514.0,592.6 L515.5,592.6 L517.0,592.7 L518.5,592.8 L520.0,592.9 L521.5,593.1 L523.0,593.3 L524.5,593.5 L526.0,593.8 L527.5,594.1 L529.0,594.4 L530.5,594.8 L532.0,595.2 L533.5,595.6 L535.0,596.1 L536.5,596.6 L538.0,597.2 L539.5,597.8 L541.0,598.4 L542.5,599.0 L544.0,599.7 L545.5,600.4 L547.0,601.2 L548.5,602.0 L550.0,602.8 L551.5,603.6 L553.0,604.5 L554.5,605.5 L556.0,606.4 L557.5,607.4 L559.0,608.4 L560.5,609.4 L562.0,610.5 L563.5,611.6 L565.0,612.7 L566.5,613.9 L568.0,615.1 L569.5,616.3 L571.0,617.5 L572.5,618.8 L574.0,620.1 L575.5,621.4 L577.0,622.8 L578.5,624.2 L580.0,625.6 L581.5,627.0 L583.0,628.4 L584.5,629.9 L586.0,631.4 L587.5,632.9 L589.0,634.5 L590.5,636.0 L592.0,637.6 L593.5,639.2 L595.0,640.8 L596.5,642.5 L598.0,644.1 L599.5,645.8 L601.0,647.5 L602.5,649.2 L604.0,650.9 L605.5,652.6 L607.0,654.4 L608.5,656.2 L610.0,657.9 L611.5,659.7 L613.0,661.5 L614.5,663.4 L616.0,665.2 L617.5,667.0 L619.0,668.9 L620.5,670.7 L622.0,672.6 L623.5,674.5 L625.0,676.4 L626.5,678.3 L628.0,680.2 L629.5,682.1 L631.0,684.0 L632.5,685.9 L634.0,687.8 L635.5,689.8 L637.0,691.7 L638.5,693.6 L640.0,695.6 L641.5,697.5 L643.0,699.5 L644.5,701.4 L646.0,703.4 L647.5,705.3 L649.0,707.3 L650.5,709.2 L652.0,711.2 L653.5,713.1 L655.0,715.1 L656.5,717.0 L658.0,719.0 L659.5,720.9 L661.0,722.9 L662.5,724.8 L664.0,726.7 L665.5,728.7 L667.0,730.6 L668.5,732.5 L670.0,734.4 L671.5,736.4 L673.0,738.3 L674.5,740.2 L676.0,742.1 L677.5,744.0 L679.0,745.8 L680.5,747.7 L682.0,749.6 L683.5,751.5 L685.0,753.3 L686.5,755.2 L688.0,757.0 L689.5,758.9 L691.0,760.7 L692.5,762.5 L694.0,764.3 L695.5,766.1 L697.0,767.9 L698.5,769.7 L700.0,771.5 L701.5,773.3 L703.0,775.1 L704.5,776.8 L706.0,778.6 L707.5,780.3 L709.0,782.0 L710.5,783.8 L712.0,785.5 L713.5,787.2 L715.0,788.9 L716.5,790.6 L718.0,792.3 L719.5,793.9 L721.0,795.6 L722.5,797.3 L724.0,798.9 L725.5,800.5 L727.0,802.2 L728.5,803.8 L730.0,805.4 L731.5,807.0 L733.0,808.6 L734.5,810.2 L736.0,811.8 L737.5,813.4 L739.0,815.0 L740.5,816.6 L742.0,818.1 L743.5,819.7 L745.0,821.2 L746.5,822.8 L748.0,824.3 L749.5,825.9 L751.0,827.4 L752.5,828.9 L754.0,830.5 L755.5,832.0 L757.0,833.5 L758.5,835.0 L760.0,836.5 L761.5,838.0 L763.0,839.5 L764.5,841.0 L766.0,842.5 L767.5,843.9 L769.0,845.4 L770.5,846.9 L772.0,848.3 L773.5,849.8 L775.0,851.3 L776.5,852.7 L778.0,854.2 L779.5,855.6 L781.0,857.1 L782.5,858.5 L784.0,860.0 L785.5,861.4 L787.0,862.8 L788.5,864.2 L790.0,865.7 L791.5,867.1 L793.0,868.5 L794.5,869.9 L796.0,871.3 L797.5,872.7 L799.0,874.1 L800.5,875.5 L802.0,876.8 L803.5,878.2 L805.0,879.6 L806.5,880.9 L808.0,882.3 L809.5,883.6 L811.0,885.0 L812.5,886.3 L814.0,887.6 L815.5,888.9 L817.0,890.2 L818.5,891.5 L820.0,892.8 L821.5,894.1 L823.0,895.4 L824.5,896.6 L826.0,897.9 L827.5,899.1 L829.0,900.3 L830.5,901.5 L832.0,902.7 L833.5,903.9 L835.0,905.1 L836.5,906.2 L838.0,907.4 L839.5,908.5 L841.0,909.6 L842.5,910.7 L844.0,911.8 L845.5,912.9 L847.0,914.0 L848.5,915.0 L850.0,916.0 L851.5,917.1 L853.0,918.1 L854.5,919.1 L856.0,920.0 L857.5,921.0 L859.0,921.9 L860.5,922.9 L862.0,923.8 L863.5,924.7 L865.0,925.5 L866.5,926.4 L868.0,927.3 L869.5,928.1 L871.0,928.9 L872.5,929.7 L874.0,930.5 L875.5,931.3 L877.0,932.0 L878.5,932.8 L880.0,933.5 L881.5,934.2 L883.0,934.9 L884.5,935.6 L886.0,936.2 L887.5,936.9 L889.0,937.5 L890.5,938.2 L892.0,938.8 L893.5,939.4 L895.0,940.0 L896.5,940.5 L898.0,941.1 L899.5,941.6 L901.0,942.2 L902.5,942.7 L904.0,943.2 L905.5,943.7 L907.0,944.2 L908.5,944.7 L910.0,945.2 L911.5,945.6 L913.0,946.1 L914.5,946.5 L916.0,946.9 L917.5,947.3 L919.0,947.8 L920.5,948.2 L922.0,948.6 L923.5,948.9 L925.0,949.3 L926.5,949.7 L928.0,950.0 L929.5,950.4 L931.0,950.7 L932.5,951.1 L934.0,951.4 L935.5,951.7 L937.0,952.1 L938.5,952.4 L940.0,952.7 L941.5,953.0 L943.0,953.3 L944.5,953.6 L946.0,953.9 L947.5,954.2 L949.0,954.4 L950.5,954.7 L952.0,955.0 L953.5,955.2 L955.0,955.5 L956.5,955.7 L958.0,956.0 L959.5,956.2 L961.0,956.5 L962.5,956.7 L964.0,957.0 L965.5,957.2 L967.0,957.4 L968.5,957.6 L970.0,957.9 L971.5,958.1 L973.0,958.3 L974.5,958.5 L976.0,958.7 L977.5,958.9 L979.0,959.1 L980.5,959.3 L982.0,959.5 L983.5,959.7 L985.0,959.9 L986.5,960.1 L988.0,960.3 L989.5,960.5 L991.0,960.7 L992.5,960.9 L994.0,961.0 L995.5,961.2 L997.0,961.4 L998.5,961.6 L1000.0,961.8 L1001.5,961.9 L1003.0,962.1 L1004.5,962.3 L1006.0,962.4 L1007.5,962.6 L1009.0,962.7 L1010.5,962.9 L1012.0,963.1 L1013.5,963.2 L1015.0,963.4 L1016.5,963.5 L1018.0,963.7 L1019.5,963.8 L1021.0,964.0 L1022.5,964.1 L1024.0,964.3 L1025.5,964.4 L1027.0,964.6 L1028.5,964.7 L1030.0,964.8 L1031.5,965.0 L1033.0,965.1 L1034.5,965.2 L1036.0,965.4 L1037.5,965.5 L1039.0,965.6 L1040.5,965.8 L1042.0,965.9 L1043.5,966.0 L1045.0,966.1 L1046.5,966.3 L1048.0,966.4 L1049.5,966.5 L1051.0,966.6 L1052.5,966.7 L1054.0,966.9 L1055.5,967.0 L1057.0,967.1 L1058.5,967.2 L1060.0,967.3 L1061.5,967.4 L1063.0,967.5 L1064.5,967.6 L1066.0,967.8 L1067.5,967.9 L1069.0,968.0 L1070.5,968.1 L1072.0,968.2 L1073.5,968.3 L1075.0,968.4 L1076.5,968.5 L1078.0,968.6 L1079.5,968.7 L1081.0,968.8 L1082.5,968.9 L1084.0,968.9 L1085.5,969.0 L1087.0,969.1 L1088.5,969.2 L1090.0,969.3 L1091.5,969.4 L1093.0,969.5 L1094.5,969.6 L1096.0,969.7 L1097.5,969.7 L1099.0,969.8 L1100.5,969.9 L1102.0,970.0 L1103.5,970.1 L1105.0,970.2 L1106.5,970.2 L1108.0,970.3 L1109.5,970.4 L1111.0,970.5 L1112.5,970.5 L1114.0,970.6 L1115.5,970.7 L1117.0,970.8 L1118.5,970.8 L1120.0,970.9 L1121.5,971.0 L1123.0,971.0 L1124.5,971.1 L1126.0,971.2 L1127.5,971.2 L1129.0,971.3 L1130.5,971.4 L1132.0,971.4 L1133.5,971.5 L1135.0,971.6 L1136.5,971.6 L1138.0,971.7 L1139.5,971.8 L1141.0,971.8 L1142.5,971.9 L1144.0,971.9 L1145.5,972.0 L1147.0,972.1 L1148.5,972.1 L1150.0,972.2 L1151.5,972.2 L1153.0,972.3 L1154.5,972.3 L1156.0,972.4 L1157.5,972.4 L1159.0,972.5 L1160.5,972.5 L1162.0,972.6 L1163.5,972.6 L1165.0,972.7 L1166.5,972.7 L1168.0,972.8 L1169.5,972.8 L1171.0,972.9 L1172.5,972.9 L1174.0,973.0 L1175.5,973.0 L1177.0,973.1 L1178.5,973.1 L1180.0,973.1 L1181.5,973.2 L1183.0,973.2 L1184.5,973.3 L1186.0,973.3 L1187.5,973.4 L1189.0,973.4 L1190.5,973.4 L1192.0,973.5 L1193.5,973.5 L1195.0,973.6 L1196.5,973.6 L1198.0,973.6 L1199.5,973.7 L1201.0,973.7 L1202.5,973.7 L1204.0,973.8 L1205.5,973.8 L1207.0,973.8 L1208.5,973.9 L1210.0,973.9 L1211.5,973.9 L1213.0,974.0 L1214.5,974.0 L1216.0,974.0 L1217.5,974.1 L1219.0,974.1 L1220.5,974.1 L1222.0,974.2 L1223.5,974.2 L1225.0,974.2 L1226.5,974.3 L1228.0,974.3 L1229.5,974.3 L1231.0,974.3 L1232.5,974.4 L1234.0,974.4 L1235.5,974.4 L1237.0,974.5 L1238.5,974.5 L1240.0,974.5 L1241.5,974.5 L1243.0,974.6 L1244.5,974.6 L1246.0,974.6 L1247.5,974.6 L1249.0,974.7 L1250.5,974.7 L1252.0,974.7 L1253.5,974.7 L1255.0,974.7 L1256.5,974.8 L1258.0,974.8 L1259.5,974.8 L1261.0,974.8 L1262.5,974.9 L1264.0,974.9 L1265.5,974.9 L1267.0,974.9 L1268.5,974.9 L1270.0,975.0 L1271.5,975.0 L1273.0,975.0 L1274.5,975.0 L1276.0,975.0 L1277.5,975.0 L1279.0,975.1 L1280.5,975.1 L1282.0,975.1 L1283.5,975.1 L1285.0,975.1 L1286.5,975.2 L1288.0,975.2 L1289.5,975.2 L1291.0,975.2 L1292.5,975.2 L1294.0,975.2 L1295.5,975.3 L1297.0,975.3 L1298.5,975.3 L1300.0,975.3 L1301.5,975.3 L1303.0,975.3 L1304.5,975.3 L1306.0,975.4 L1307.5,975.4 L1309.0,975.4 L1310.5,975.4 L1312.0,975.4 L1313.5,975.4 L1315.0,975.4 L1316.5,975.5 L1318.0,975.5 L1319.5,975.5 L1321.0,975.5 L1322.5,975.5 L1324.0,975.5 L1325.5,975.5 L1327.0,975.5 L1328.5,975.5 L1330.0,975.6 L1331.5,975.6 L1333.0,975.6 L1334.5,975.6 L1336.0,975.6 L1337.5,975.6 L1339.0,975.6 L1340.5,975.6 L1342.0,975.6 L1343.5,975.7 L1345.0,975.7 L1346.5,975.7 L1348.0,975.7 L1349.5,975.7 L1351.0,975.7 L1352.5,975.7 L1354.0,975.7 L1355.5,975.7 L1357.0,975.7 L1358.5,975.8" fill="none" stroke="#c92a2a" stroke-width="3.7" stroke-linejoin="round"/>
<path d="M137.5,781.3 L139.0,781.3 L140.5,781.3 L142.0,781.4 L143.5,781.4 L145.0,781.4 L146.5,781.4 L148.0,781.5 L149.5,781.5 L151.0,781.5 L152.5,781.6 L154.0,781.6 L155.5,781.6 L157.0,781.7 L158.5,781.7 L160.0,781.7 L161.5,781.8 L163.0,781.8 L164.5,781.8 L166.0,781.9 L167.5,781.9 L169.0,781.9 L170.5,782.0 L172.0,782.0 L173.5,782.0 L175.0,782.1 L176.5,782.1 L178.0,782.1 L179.5,782.2 L181.0,782.2 L182.5,782.3 L184.0,782.3 L185.5,782.3 L187.0,782.4 L188.5,782.4 L190.0,782.5 L191.5,782.5 L193.0,782.6 L194.5,782.6 L196.0,782.7 L197.5,782.7 L199.0,782.7 L200.5,782.8 L202.0,782.8 L203.5,782.9 L205.0,782.9 L206.5,783.0 L208.0,783.0 L209.5,783.1 L211.0,783.1 L212.5,783.2 L214.0,783.2 L215.5,783.3 L217.0,783.4 L218.5,783.4 L220.0,783.5 L221.5,783.5 L223.0,783.6 L224.5,783.6 L226.0,783.7 L227.5,783.8 L229.0,783.8 L230.5,783.9 L232.0,783.9 L233.5,784.0 L235.0,784.1 L236.5,784.1 L238.0,784.2 L239.5,784.3 L241.0,784.3 L242.5,784.4 L244.0,784.5 L245.5,784.5 L247.0,784.6 L248.5,784.7 L250.0,784.7 L251.5,784.8 L253.0,784.9 L254.5,785.0 L256.0,785.0 L257.5,785.1 L259.0,785.2 L260.5,785.3 L262.0,785.3 L263.5,785.4 L265.0,785.5 L266.5,785.6 L268.0,785.7 L269.5,785.8 L271.0,785.8 L272.5,785.9 L274.0,786.0 L275.5,786.1 L277.0,786.2 L278.5,786.3 L280.0,786.4 L281.5,786.5 L283.0,786.5 L284.5,786.6 L286.0,786.7 L287.5,786.8 L289.0,786.9 L290.5,787.0 L292.0,787.1 L293.5,787.2 L295.0,787.3 L296.5,787.4 L298.0,787.5 L299.5,787.6 L301.0,787.7 L302.5,787.8 L304.0,787.9 L305.5,788.0 L307.0,788.2 L308.5,788.3 L310.0,788.4 L311.5,788.5 L313.0,788.6 L314.5,788.7 L316.0,788.8 L317.5,789.0 L319.0,789.1 L320.5,789.2 L322.0,789.3 L323.5,789.4 L325.0,789.6 L326.5,789.7 L328.0,789.8 L329.5,789.9 L331.0,790.1 L332.5,790.2 L334.0,790.3 L335.5,790.5 L337.0,790.6 L338.5,790.7 L340.0,790.9 L341.5,791.0 L343.0,791.1 L344.5,791.3 L346.0,791.4 L347.5,791.6 L349.0,791.7 L350.5,791.8 L352.0,792.0 L353.5,792.1 L355.0,792.3 L356.5,792.4 L358.0,792.6 L359.5,792.7 L361.0,792.9 L362.5,793.0 L364.0,793.2 L365.5,793.4 L367.0,793.5 L368.5,793.7 L370.0,793.8 L371.5,794.0 L373.0,794.2 L374.5,794.3 L376.0,794.5 L377.5,794.7 L379.0,794.8 L380.5,795.0 L382.0,795.2 L383.5,795.4 L385.0,795.5 L386.5,795.7 L388.0,795.9 L389.5,796.1 L391.0,796.2 L392.5,796.4 L394.0,796.6 L395.5,796.8 L397.0,797.0 L398.5,797.2 L400.0,797.4 L401.5,797.6 L403.0,797.8 L404.5,797.9 L406.0,798.1 L407.5,798.3 L409.0,798.5 L410.5,798.7 L412.0,798.9 L413.5,799.1 L415.0,799.4 L416.5,799.6 L418.0,799.8 L419.5,800.0 L421.0,800.2 L422.5,800.4 L424.0,800.6 L425.5,800.8 L427.0,801.0 L428.5,801.3 L430.0,801.5 L431.5,801.7 L433.0,801.9 L434.5,802.2 L436.0,802.4 L437.5,802.6 L439.0,802.8 L440.5,803.1 L442.0,803.3 L443.5,803.5 L445.0,803.8 L446.5,804.0 L448.0,804.2 L449.5,804.5 L451.0,804.7 L452.5,805.0 L454.0,805.2 L455.5,805.4 L457.0,805.7 L458.5,805.9 L460.0,806.2 L461.5,806.4 L463.0,806.7 L464.5,807.0 L466.0,807.2 L467.5,807.5 L469.0,807.7 L470.5,808.0 L472.0,808.2 L473.5,808.5 L475.0,808.8 L476.5,809.0 L478.0,809.3 L479.5,809.6 L481.0,809.8 L482.5,810.1 L484.0,810.4 L485.5,810.7 L487.0,810.9 L488.5,811.2 L490.0,811.5 L491.5,811.8 L493.0,812.1 L494.5,812.3 L496.0,812.6 L497.5,812.9 L499.0,813.2 L500.5,813.5 L502.0,813.8 L503.5,814.1 L505.0,814.4 L506.5,814.7 L508.0,815.0 L509.5,815.3 L511.0,815.6 L512.5,815.9 L514.0,816.2 L515.5,816.5 L517.0,816.8 L518.5,817.1 L520.0,817.4 L521.5,817.7 L523.0,818.0 L524.5,818.3 L526.0,818.6 L527.5,818.9 L529.0,819.2 L530.5,819.6 L532.0,819.9 L533.5,820.2 L535.0,820.5 L536.5,820.8 L538.0,821.1 L539.5,821.5 L541.0,821.8 L542.5,822.1 L544.0,822.4 L545.5,822.8 L547.0,823.1 L548.5,823.4 L550.0,823.8 L551.5,824.1 L553.0,824.4 L554.5,824.8 L556.0,825.1 L557.5,825.4 L559.0,825.8 L560.5,826.1 L562.0,826.4 L563.5,826.8 L565.0,827.1 L566.5,827.5 L568.0,827.8 L569.5,828.2 L571.0,828.5 L572.5,828.8 L574.0,829.2 L575.5,829.5 L577.0,829.9 L578.5,830.2 L580.0,830.6 L581.5,830.9 L583.0,831.3 L584.5,831.7 L586.0,832.0 L587.5,832.4 L589.0,832.7 L590.5,833.1 L592.0,833.4 L593.5,833.8 L595.0,834.2 L596.5,834.5 L598.0,834.9 L599.5,835.2 L601.0,835.6 L602.5,836.0 L604.0,836.3 L605.5,836.7 L607.0,837.1 L608.5,837.4 L610.0,837.8 L611.5,838.1 L613.0,838.5 L614.5,838.9 L616.0,839.3 L617.5,839.6 L619.0,840.0 L620.5,840.4 L622.0,840.7 L623.5,841.1 L625.0,841.5 L626.5,841.8 L628.0,842.2 L629.5,842.6 L631.0,843.0 L632.5,843.3 L634.0,843.7 L635.5,844.1 L637.0,844.5 L638.5,844.8 L640.0,845.2 L641.5,845.6 L643.0,846.0 L644.5,846.4 L646.0,846.7 L647.5,847.1 L649.0,847.5 L650.5,847.9 L652.0,848.2 L653.5,848.6 L655.0,849.0 L656.5,849.4 L658.0,849.8 L659.5,850.2 L661.0,850.5 L662.5,850.9 L664.0,851.3 L665.5,851.7 L667.0,852.1 L668.5,852.5 L670.0,852.8 L671.5,853.2 L673.0,853.6 L674.5,854.0 L676.0,854.4 L677.5,854.8 L679.0,855.2 L680.5,855.6 L682.0,856.0 L683.5,856.4 L685.0,856.7 L686.5,857.1 L688.0,857.5 L689.5,857.9 L691.0,858.3 L692.5,858.7 L694.0,859.2 L695.5,859.6 L697.0,860.0 L698.5,860.4 L700.0,860.8 L701.5,861.2 L703.0,861.6 L704.5,862.0 L706.0,862.5 L707.5,862.9 L709.0,863.3 L710.5,863.7 L712.0,864.2 L713.5,864.6 L715.0,865.0 L716.5,865.5 L718.0,865.9 L719.5,866.4 L721.0,866.8 L722.5,867.3 L724.0,867.8 L725.5,868.2 L727.0,868.7 L728.5,869.2 L730.0,869.7 L731.5,870.1 L733.0,870.6 L734.5,871.1 L736.0,871.6 L737.5,872.2 L739.0,872.7 L740.5,873.2 L742.0,873.7 L743.5,874.3 L745.0,874.8 L746.5,875.4 L748.0,875.9 L749.5,876.5 L751.0,877.0 L752.5,877.6 L754.0,878.2 L755.5,878.8 L757.0,879.4 L758.5,880.0 L760.0,880.6 L761.5,881.3 L763.0,881.9 L764.5,882.5 L766.0,883.2 L767.5,883.8 L769.0,884.5 L770.5,885.2 L772.0,885.9 L773.5,886.5 L775.0,887.2 L776.5,887.9 L778.0,888.7 L779.5,889.4 L781.0,890.1 L782.5,890.8 L784.0,891.6 L785.5,892.3 L787.0,893.1 L788.5,893.8 L790.0,894.6 L791.5,895.4 L793.0,896.1 L794.5,896.9 L796.0,897.7 L797.5,898.5 L799.0,899.3 L800.5,900.1 L802.0,900.9 L803.5,901.7 L805.0,902.5 L806.5,903.3 L808.0,904.1 L809.5,904.9 L811.0,905.8 L812.5,906.6 L814.0,907.4 L815.5,908.2 L817.0,909.0 L818.5,909.8 L820.0,910.6 L821.5,911.4 L823.0,912.2 L824.5,913.0 L826.0,913.8 L827.5,914.6 L829.0,915.4 L830.5,916.2 L832.0,917.0 L833.5,917.7 L835.0,918.5 L836.5,919.3 L838.0,920.0 L839.5,920.7 L841.0,921.5 L842.5,922.2 L844.0,922.9 L845.5,923.6 L847.0,924.3 L848.5,925.0 L850.0,925.7 L851.5,926.3 L853.0,927.0 L854.5,927.6 L856.0,928.2 L857.5,928.8 L859.0,929.4 L860.5,930.0 L862.0,930.6 L863.5,931.1 L865.0,931.7 L866.5,932.2 L868.0,932.7 L869.5,933.2 L871.0,933.7 L872.5,934.2 L874.0,934.6 L875.5,935.1 L877.0,935.5 L878.5,935.9 L880.0,936.3 L881.5,936.6 L883.0,937.0 L884.5,937.3 L886.0,937.7 L887.5,938.0 L889.0,938.2 L890.5,938.5 L892.0,938.7 L893.5,939.0 L895.0,939.2 L896.5,939.4 L898.0,939.5 L899.5,939.7 L901.0,939.8 L902.5,939.9 L904.0,940.0 L905.5,940.1 L907.0,940.1 L908.5,940.1 L910.0,940.1 L911.5,940.1 L913.0,940.0 L914.5,940.0 L916.0,939.9 L917.5,939.8 L919.0,939.6 L920.5,939.4 L922.0,939.2 L923.5,939.0 L925.0,938.8 L926.5,938.5 L928.0,938.2 L929.5,937.8 L931.0,937.5 L932.5,937.1 L934.0,936.6 L935.5,936.2 L937.0,935.7 L938.5,935.2 L940.0,934.6 L941.5,934.1 L943.0,933.5 L944.5,932.8 L946.0,932.2 L947.5,931.5 L949.0,930.7 L950.5,930.0 L952.0,929.2 L953.5,928.4 L955.0,927.6 L956.5,926.7 L958.0,925.9 L959.5,925.0 L961.0,924.1 L962.5,923.2 L964.0,922.3 L965.5,921.4 L967.0,920.5 L968.5,919.6 L970.0,918.8 L971.5,918.0 L973.0,917.2 L974.5,916.4 L976.0,915.8 L977.5,915.1 L979.0,914.6 L980.5,914.1 L982.0,913.7 L983.5,913.4 L985.0,913.2 L986.5,913.0 L988.0,913.0 L989.5,913.1 L991.0,913.3 L992.5,913.6 L994.0,914.0 L995.5,914.5 L997.0,915.1 L998.5,915.8 L1000.0,916.5 L1001.5,917.4 L1003.0,918.3 L1004.5,919.3 L1006.0,920.3 L1007.5,921.4 L1009.0,922.5 L1010.5,923.7 L1012.0,924.9 L1013.5,926.1 L1015.0,927.3 L1016.5,928.5 L1018.0,929.7 L1019.5,930.9 L1021.0,932.1 L1022.5,933.3 L1024.0,934.5 L1025.5,935.7 L1027.0,936.8 L1028.5,937.9 L1030.0,939.0 L1031.5,940.1 L1033.0,941.1 L1034.5,942.2 L1036.0,943.1 L1037.5,944.1 L1039.0,945.0 L1040.5,946.0 L1042.0,946.8 L1043.5,947.7 L1045.0,948.5 L1046.5,949.3 L1048.0,950.1 L1049.5,950.8 L1051.0,951.5 L1052.5,952.2 L1054.0,952.9 L1055.5,953.6 L1057.0,954.2 L1058.5,954.8 L1060.0,955.4 L1061.5,956.0 L1063.0,956.5 L1064.5,957.0 L1066.0,957.5 L1067.5,958.0 L1069.0,958.5 L1070.5,959.0 L1072.0,959.4 L1073.5,959.8 L1075.0,960.3 L1076.5,960.7 L1078.0,961.0 L1079.5,961.4 L1081.0,961.8 L1082.5,962.1 L1084.0,962.5 L1085.5,962.8 L1087.0,963.1 L1088.5,963.4 L1090.0,963.7 L1091.5,964.0 L1093.0,964.3 L1094.5,964.5 L1096.0,964.8 L1097.5,965.0 L1099.0,965.3 L1100.5,965.5 L1102.0,965.8 L1103.5,966.0 L1105.0,966.2 L1106.5,966.4 L1108.0,966.6 L1109.5,966.8 L1111.0,967.0 L1112.5,967.2 L1114.0,967.4 L1115.5,967.6 L1117.0,967.8 L1118.5,967.9 L1120.0,968.1 L1121.5,968.3 L1123.0,968.4 L1124.5,968.6 L1126.0,968.7 L1127.5,968.9 L1129.0,969.0 L1130.5,969.2 L1132.0,969.3 L1133.5,969.4 L1135.0,969.6 L1136.5,969.7 L1138.0,969.8 L1139.5,970.0 L1141.0,970.1 L1142.5,970.2 L1144.0,970.3 L1145.5,970.4 L1147.0,970.5 L1148.5,970.7 L1150.0,970.8 L1151.5,970.9 L1153.0,971.0 L1154.5,971.1 L1156.0,971.2 L1157.5,971.3 L1159.0,971.4 L1160.5,971.5 L1162.0,971.5 L1163.5,971.6 L1165.0,971.7 L1166.5,971.8 L1168.0,971.9 L1169.5,972.0 L1171.0,972.1 L1172.5,972.1 L1174.0,972.2 L1175.5,972.3 L1177.0,972.4 L1178.5,972.5 L1180.0,972.5 L1181.5,972.6 L1183.0,972.7 L1184.5,972.7 L1186.0,972.8 L1187.5,972.9 L1189.0,972.9 L1190.5,973.0 L1192.0,973.1 L1193.5,973.1 L1195.0,973.2 L1196.5,973.3 L1198.0,973.3 L1199.5,973.4 L1201.0,973.4 L1202.5,973.5 L1204.0,973.5 L1205.5,973.6 L1207.0,973.6 L1208.5,973.7 L1210.0,973.7 L1211.5,973.8 L1213.0,973.8 L1214.5,973.9 L1216.0,973.9 L1217.5,974.0 L1219.0,974.0 L1220.5,974.1 L1222.0,974.1 L1223.5,974.2 L1225.0,974.2 L1226.5,974.3 L1228.0,974.3 L1229.5,974.3 L1231.0,974.4 L1232.5,974.4 L1234.0,974.5 L1235.5,974.5 L1237.0,974.5 L1238.5,974.6 L1240.0,974.6 L1241.5,974.7 L1243.0,974.7 L1244.5,974.7 L1246.0,974.8 L1247.5,974.8 L1249.0,974.8 L1250.5,974.9 L1252.0,974.9 L1253.5,974.9 L1255.0,975.0 L1256.5,975.0 L1258.0,975.0 L1259.5,975.0 L1261.0,975.1 L1262.5,975.1 L1264.0,975.1 L1265.5,975.2 L1267.0,975.2 L1268.5,975.2 L1270.0,975.2 L1271.5,975.3 L1273.0,975.3 L1274.5,975.3 L1276.0,975.3 L1277.5,975.4 L1279.0,975.4 L1280.5,975.4 L1282.0,975.4 L1283.5,975.5 L1285.0,975.5 L1286.5,975.5 L1288.0,975.5 L1289.5,975.5 L1291.0,975.6 L1292.5,975.6 L1294.0,975.6 L1295.5,975.6 L1297.0,975.6 L1298.5,975.7 L1300.0,975.7 L1301.5,975.7 L1303.0,975.7 L1304.5,975.7 L1306.0,975.8 L1307.5,975.8 L1309.0,975.8 L1310.5,975.8 L1312.0,975.8 L1313.5,975.8 L1315.0,975.9 L1316.5,975.9 L1318.0,975.9 L1319.5,975.9 L1321.0,975.9 L1322.5,975.9 L1324.0,976.0 L1325.5,976.0 L1327.0,976.0 L1328.5,976.0 L1330.0,976.0 L1331.5,976.0 L1333.0,976.0 L1334.5,976.1 L1336.0,976.1 L1337.5,976.1 L1339.0,976.1 L1340.5,976.1 L1342.0,976.1 L1343.5,976.1 L1345.0,976.1 L1346.5,976.2 L1348.0,976.2 L1349.5,976.2 L1351.0,976.2 L1352.5,976.2 L1354.0,976.2 L1355.5,976.2 L1357.0,976.2 L1358.5,976.2" fill="none" stroke="#2fe386" stroke-width="3.7" stroke-linejoin="round"/>
<path d="M137.5,781.2 L139.0,781.3 L140.5,781.3 L142.0,781.3 L143.5,781.3 L145.0,781.4 L146.5,781.4 L148.0,781.4 L149.5,781.5 L151.0,781.5 L152.5,781.5 L154.0,781.6 L155.5,781.6 L157.0,781.6 L158.5,781.6 L160.0,781.7 L161.5,781.7 L163.0,781.7 L164.5,781.8 L166.0,781.8 L167.5,781.8 L169.0,781.9 L170.5,781.9 L172.0,782.0 L173.5,782.0 L175.0,782.0 L176.5,782.1 L178.0,782.1 L179.5,782.1 L181.0,782.2 L182.5,782.2 L184.0,782.3 L185.5,782.3 L187.0,782.3 L188.5,782.4 L190.0,782.4 L191.5,782.5 L193.0,782.5 L194.5,782.6 L196.0,782.6 L197.5,782.6 L199.0,782.7 L200.5,782.7 L202.0,782.8 L203.5,782.8 L205.0,782.9 L206.5,782.9 L208.0,783.0 L209.5,783.0 L211.0,783.1 L212.5,783.1 L214.0,783.2 L215.5,783.2 L217.0,783.3 L218.5,783.4 L220.0,783.4 L221.5,783.5 L223.0,783.5 L224.5,783.6 L226.0,783.6 L227.5,783.7 L229.0,783.8 L230.5,783.8 L232.0,783.9 L233.5,783.9 L235.0,784.0 L236.5,784.1 L238.0,784.1 L239.5,784.2 L241.0,784.3 L242.5,784.3 L244.0,784.4 L245.5,784.5 L247.0,784.5 L248.5,784.6 L250.0,784.7 L251.5,784.7 L253.0,784.8 L254.5,784.9 L256.0,785.0 L257.5,785.0 L259.0,785.1 L260.5,785.2 L262.0,785.3 L263.5,785.4 L265.0,785.4 L266.5,785.5 L268.0,785.6 L269.5,785.7 L271.0,785.8 L272.5,785.8 L274.0,785.9 L275.5,786.0 L277.0,786.1 L278.5,786.2 L280.0,786.3 L281.5,786.4 L283.0,786.5 L284.5,786.6 L286.0,786.6 L287.5,786.7 L289.0,786.8 L290.5,786.9 L292.0,787.0 L293.5,787.1 L295.0,787.2 L296.5,787.3 L298.0,787.4 L299.5,787.5 L301.0,787.6 L302.5,787.7 L304.0,787.9 L305.5,788.0 L307.0,788.1 L308.5,788.2 L310.0,788.3 L311.5,788.4 L313.0,788.5 L314.5,788.6 L316.0,788.7 L317.5,788.9 L319.0,789.0 L320.5,789.1 L322.0,789.2 L323.5,789.3 L325.0,789.5 L326.5,789.6 L328.0,789.7 L329.5,789.8 L331.0,790.0 L332.5,790.1 L334.0,790.2 L335.5,790.3 L337.0,790.5 L338.5,790.6 L340.0,790.7 L341.5,790.9 L343.0,791.0 L344.5,791.2 L346.0,791.3 L347.5,791.4 L349.0,791.6 L350.5,791.7 L352.0,791.9 L353.5,792.0 L355.0,792.2 L356.5,792.3 L358.0,792.5 L359.5,792.6 L361.0,792.8 L362.5,792.9 L364.0,793.1 L365.5,793.2 L367.0,793.4 L368.5,793.5 L370.0,793.7 L371.5,793.9 L373.0,794.0 L374.5,794.2 L376.0,794.4 L377.5,794.5 L379.0,794.7 L380.5,794.9 L382.0,795.0 L383.5,795.2 L385.0,795.4 L386.5,795.6 L388.0,795.7 L389.5,795.9 L391.0,796.1 L392.5,796.3 L394.0,796.5 L395.5,796.6 L397.0,796.8 L398.5,797.0 L400.0,797.2 L401.5,797.4 L403.0,797.6 L404.5,797.8 L406.0,798.0 L407.5,798.2 L409.0,798.4 L410.5,798.6 L412.0,798.8 L413.5,799.0 L415.0,799.2 L416.5,799.4 L418.0,799.6 L419.5,799.8 L421.0,800.0 L422.5,800.2 L424.0,800.4 L425.5,800.6 L427.0,800.8 L428.5,801.1 L430.0,801.3 L431.5,801.5 L433.0,801.7 L434.5,801.9 L436.0,802.2 L437.5,802.4 L439.0,802.6 L440.5,802.8 L442.0,803.1 L443.5,803.3 L445.0,803.5 L446.5,803.8 L448.0,804.0 L449.5,804.2 L451.0,804.5 L452.5,804.7 L454.0,805.0 L455.5,805.2 L457.0,805.5 L458.5,805.7 L460.0,805.9 L461.5,806.2 L463.0,806.4 L464.5,806.7 L466.0,806.9 L467.5,807.2 L469.0,807.5 L470.5,807.7 L472.0,808.0 L473.5,808.2 L475.0,808.5 L476.5,808.8 L478.0,809.0 L479.5,809.3 L481.0,809.6 L482.5,809.8 L484.0,810.1 L485.5,810.4 L487.0,810.6 L488.5,810.9 L490.0,811.2 L491.5,811.5 L493.0,811.7 L494.5,812.0 L496.0,812.3 L497.5,812.6 L499.0,812.9 L500.5,813.2 L502.0,813.4 L503.5,813.7 L505.0,814.0 L506.5,814.3 L508.0,814.6 L509.5,814.9 L511.0,815.2 L512.5,815.5 L514.0,815.8 L515.5,816.1 L517.0,816.4 L518.5,816.7 L520.0,817.0 L521.5,817.3 L523.0,817.6 L524.5,817.9 L526.0,818.2 L527.5,818.5 L529.0,818.8 L530.5,819.1 L532.0,819.4 L533.5,819.7 L535.0,820.1 L536.5,820.4 L538.0,820.7 L539.5,821.0 L541.0,821.3 L542.5,821.6 L544.0,822.0 L545.5,822.3 L547.0,822.6 L548.5,822.9 L550.0,823.2 L551.5,823.6 L553.0,823.9 L554.5,824.2 L556.0,824.5 L557.5,824.9 L559.0,825.2 L560.5,825.5 L562.0,825.9 L563.5,826.2 L565.0,826.5 L566.5,826.9 L568.0,827.2 L569.5,827.5 L571.0,827.9 L572.5,828.2 L574.0,828.5 L575.5,828.9 L577.0,829.2 L578.5,829.6 L580.0,829.9 L581.5,830.2 L583.0,830.6 L584.5,830.9 L586.0,831.3 L587.5,831.6 L589.0,831.9 L590.5,832.3 L592.0,832.6 L593.5,833.0 L595.0,833.3 L596.5,833.6 L598.0,834.0 L599.5,834.3 L601.0,834.7 L602.5,835.0 L604.0,835.3 L605.5,835.7 L607.0,836.0 L608.5,836.4 L610.0,836.7 L611.5,837.0 L613.0,837.4 L614.5,837.7 L616.0,838.1 L617.5,838.4 L619.0,838.7 L620.5,839.1 L622.0,839.4 L623.5,839.7 L625.0,840.0 L626.5,840.4 L628.0,840.7 L629.5,841.0 L631.0,841.3 L632.5,841.6 L634.0,841.9 L635.5,842.3 L637.0,842.6 L638.5,842.9 L640.0,843.2 L641.5,843.4 L643.0,843.7 L644.5,844.0 L646.0,844.3 L647.5,844.6 L649.0,844.8 L650.5,845.1 L652.0,845.3 L653.5,845.6 L655.0,845.8 L656.5,846.1 L658.0,846.3 L659.5,846.5 L661.0,846.7 L662.5,846.9 L664.0,847.1 L665.5,847.3 L667.0,847.4 L668.5,847.6 L670.0,847.7 L671.5,847.8 L673.0,848.0 L674.5,848.1 L676.0,848.1 L677.5,848.2 L679.0,848.3 L680.5,848.3 L682.0,848.3 L683.5,848.3 L685.0,848.3 L686.5,848.2 L688.0,848.2 L689.5,848.1 L691.0,848.0 L692.5,847.9 L694.0,847.7 L695.5,847.5 L697.0,847.3 L698.5,847.1 L700.0,846.8 L701.5,846.5 L703.0,846.2 L704.5,845.9 L706.0,845.5 L707.5,845.1 L709.0,844.6 L710.5,844.1 L712.0,843.6 L713.5,843.0 L715.0,842.4 L716.5,841.8 L718.0,841.1 L719.5,840.4 L721.0,839.6 L722.5,838.8 L724.0,838.0 L725.5,837.1 L727.0,836.2 L728.5,835.2 L730.0,834.1 L731.5,833.1 L733.0,831.9 L734.5,830.8 L736.0,829.5 L737.5,828.3 L739.0,826.9 L740.5,825.6 L742.0,824.1 L743.5,822.6 L745.0,821.1 L746.5,819.5 L748.0,817.9 L749.5,816.2 L751.0,814.4 L752.5,812.6 L754.0,810.8 L755.5,808.9 L757.0,806.9 L758.5,804.9 L760.0,802.8 L761.5,800.7 L763.0,798.5 L764.5,796.3 L766.0,794.1 L767.5,791.8 L769.0,789.4 L770.5,787.0 L772.0,784.6 L773.5,782.1 L775.0,779.5 L776.5,777.0 L778.0,774.4 L779.5,771.7 L781.0,769.1 L782.5,766.4 L784.0,763.7 L785.5,760.9 L787.0,758.2 L788.5,755.4 L790.0,752.6 L791.5,749.8 L793.0,746.9 L794.5,744.1 L796.0,741.3 L797.5,738.5 L799.0,735.6 L800.5,732.8 L802.0,730.0 L803.5,727.3 L805.0,724.5 L806.5,721.8 L808.0,719.1 L809.5,716.4 L811.0,713.8 L812.5,711.2 L814.0,708.7 L815.5,706.2 L817.0,703.8 L818.5,701.5 L820.0,699.2 L821.5,696.9 L823.0,694.8 L824.5,692.7 L826.0,690.8 L827.5,688.9 L829.0,687.0 L830.5,685.3 L832.0,683.7 L833.5,682.2 L835.0,680.7 L836.5,679.4 L838.0,678.2 L839.5,677.1 L841.0,676.1 L842.5,675.2 L844.0,674.4 L845.5,673.8 L847.0,673.2 L848.5,672.8 L850.0,672.5 L851.5,672.3 L853.0,672.2 L854.5,672.3 L856.0,672.4 L857.5,672.7 L859.0,673.1 L860.5,673.6 L862.0,674.3 L863.5,675.0 L865.0,675.9 L866.5,676.9 L868.0,678.0 L869.5,679.2 L871.0,680.6 L872.5,682.0 L874.0,683.6 L875.5,685.2 L877.0,687.0 L878.5,688.9 L880.0,690.9 L881.5,693.0 L883.0,695.2 L884.5,697.5 L886.0,699.9 L887.5,702.4 L889.0,705.0 L890.5,707.6 L892.0,710.4 L893.5,713.2 L895.0,716.1 L896.5,719.1 L898.0,722.2 L899.5,725.3 L901.0,728.5 L902.5,731.8 L904.0,735.1 L905.5,738.5 L907.0,741.9 L908.5,745.4 L910.0,748.9 L911.5,752.5 L913.0,756.1 L914.5,759.7 L916.0,763.4 L917.5,767.1 L919.0,770.8 L920.5,774.6 L922.0,778.3 L923.5,782.1 L925.0,785.9 L926.5,789.7 L928.0,793.5 L929.5,797.2 L931.0,801.0 L932.5,804.8 L934.0,808.6 L935.5,812.3 L937.0,816.0 L938.5,819.8 L940.0,823.4 L941.5,827.1 L943.0,830.7 L944.5,834.3 L946.0,837.9 L947.5,841.4 L949.0,844.9 L950.5,848.4 L952.0,851.8 L953.5,855.2 L955.0,858.5 L956.5,861.8 L958.0,865.0 L959.5,868.1 L961.0,871.3 L962.5,874.3 L964.0,877.3 L965.5,880.3 L967.0,883.2 L968.5,886.1 L970.0,888.8 L971.5,891.6 L973.0,894.2 L974.5,896.8 L976.0,899.4 L977.5,901.9 L979.0,904.3 L980.5,906.7 L982.0,909.0 L983.5,911.2 L985.0,913.4 L986.5,915.6 L988.0,917.7 L989.5,919.7 L991.0,921.6 L992.5,923.5 L994.0,925.4 L995.5,927.2 L997.0,928.9 L998.5,930.6 L1000.0,932.2 L1001.5,933.8 L1003.0,935.3 L1004.5,936.8 L1006.0,938.2 L1007.5,939.6 L1009.0,940.9 L1010.5,942.2 L1012.0,943.5 L1013.5,944.6 L1015.0,945.8 L1016.5,946.9 L1018.0,948.0 L1019.5,949.0 L1021.0,950.0 L1022.5,950.9 L1024.0,951.9 L1025.5,952.7 L1027.0,953.6 L1028.5,954.4 L1030.0,955.2 L1031.5,955.9 L1033.0,956.6 L1034.5,957.3 L1036.0,958.0 L1037.5,958.6 L1039.0,959.2 L1040.5,959.8 L1042.0,960.4 L1043.5,960.9 L1045.0,961.4 L1046.5,961.9 L1048.0,962.4 L1049.5,962.8 L1051.0,963.3 L1052.5,963.7 L1054.0,964.1 L1055.5,964.5 L1057.0,964.8 L1058.5,965.2 L1060.0,965.5 L1061.5,965.8 L1063.0,966.1 L1064.5,966.4 L1066.0,966.7 L1067.5,967.0 L1069.0,967.2 L1070.5,967.5 L1072.0,967.7 L1073.5,967.9 L1075.0,968.2 L1076.5,968.4 L1078.0,968.6 L1079.5,968.8 L1081.0,969.0 L1082.5,969.1 L1084.0,969.3 L1085.5,969.5 L1087.0,969.6 L1088.5,969.8 L1090.0,969.9 L1091.5,970.1 L1093.0,970.2 L1094.5,970.4 L1096.0,970.5 L1097.5,970.6 L1099.0,970.7 L1100.5,970.9 L1102.0,971.0 L1103.5,971.1 L1105.0,971.2 L1106.5,971.3 L1108.0,971.4 L1109.5,971.5 L1111.0,971.6 L1112.5,971.7 L1114.0,971.8 L1115.5,971.9 L1117.0,971.9 L1118.5,972.0 L1120.0,972.1 L1121.5,972.2 L1123.0,972.3 L1124.5,972.4 L1126.0,972.4 L1127.5,972.5 L1129.0,972.6 L1130.5,972.6 L1132.0,972.7 L1133.5,972.8 L1135.0,972.8 L1136.5,972.9 L1138.0,973.0 L1139.5,973.0 L1141.0,973.1 L1142.5,973.2 L1144.0,973.2 L1145.5,973.3 L1147.0,973.3 L1148.5,973.4 L1150.0,973.5 L1151.5,973.5 L1153.0,973.6 L1154.5,973.6 L1156.0,973.7 L1157.5,973.7 L1159.0,973.8 L1160.5,973.8 L1162.0,973.9 L1163.5,973.9 L1165.0,974.0 L1166.5,974.0 L1168.0,974.1 L1169.5,974.1 L1171.0,974.1 L1172.5,974.2 L1174.0,974.2 L1175.5,974.3 L1177.0,974.3 L1178.5,974.4 L1180.0,974.4 L1181.5,974.4 L1183.0,974.5 L1184.5,974.5 L1186.0,974.6 L1187.5,974.6 L1189.0,974.6 L1190.5,974.7 L1192.0,974.7 L1193.5,974.7 L1195.0,974.8 L1196.5,974.8 L1198.0,974.8 L1199.5,974.9 L1201.0,974.9 L1202.5,974.9 L1204.0,975.0 L1205.5,975.0 L1207.0,975.0 L1208.5,975.1 L1210.0,975.1 L1211.5,975.1 L1213.0,975.2 L1214.5,975.2 L1216.0,975.2 L1217.5,975.3 L1219.0,975.3 L1220.5,975.3 L1222.0,975.3 L1223.5,975.4 L1225.0,975.4 L1226.5,975.4 L1228.0,975.4 L1229.5,975.5 L1231.0,975.5 L1232.5,975.5 L1234.0,975.5 L1235.5,975.6 L1237.0,975.6 L1238.5,975.6 L1240.0,975.6 L1241.5,975.7 L1243.0,975.7 L1244.5,975.7 L1246.0,975.7 L1247.5,975.7 L1249.0,975.8 L1250.5,975.8 L1252.0,975.8 L1253.5,975.8 L1255.0,975.8 L1256.5,975.9 L1258.0,975.9 L1259.5,975.9 L1261.0,975.9 L1262.5,975.9 L1264.0,976.0 L1265.5,976.0 L1267.0,976.0 L1268.5,976.0 L1270.0,976.0 L1271.5,976.0 L1273.0,976.1 L1274.5,976.1 L1276.0,976.1 L1277.5,976.1 L1279.0,976.1 L1280.5,976.1 L1282.0,976.1 L1283.5,976.2 L1285.0,976.2 L1286.5,976.2 L1288.0,976.2 L1289.5,976.2 L1291.0,976.2 L1292.5,976.2 L1294.0,976.3 L1295.5,976.3 L1297.0,976.3 L1298.5,976.3 L1300.0,976.3 L1301.5,976.3 L1303.0,976.3 L1304.5,976.3 L1306.0,976.4 L1307.5,976.4 L1309.0,976.4 L1310.5,976.4 L1312.0,976.4 L1313.5,976.4 L1315.0,976.4 L1316.5,976.4 L1318.0,976.4 L1319.5,976.4 L1321.0,976.5 L1322.5,976.5 L1324.0,976.5 L1325.5,976.5 L1327.0,976.5 L1328.5,976.5 L1330.0,976.5 L1331.5,976.5 L1333.0,976.5 L1334.5,976.5 L1336.0,976.5 L1337.5,976.6 L1339.0,976.6 L1340.5,976.6 L1342.0,976.6 L1343.5,976.6 L1345.0,976.6 L1346.5,976.6 L1348.0,976.6 L1349.5,976.6 L1351.0,976.6 L1352.5,976.6 L1354.0,976.6 L1355.5,976.6 L1357.0,976.7 L1358.5,976.7" fill="none" stroke="#bf6cf5" stroke-width="3.7" stroke-linejoin="round"/>
<path d="M137.5,779.7 L139.0,779.7 L140.5,779.7 L142.0,779.8 L143.5,779.8 L145.0,779.8 L146.5,779.8 L148.0,779.8 L149.5,779.9 L151.0,779.9 L152.5,779.9 L154.0,779.9 L155.5,779.9 L157.0,780.0 L158.5,780.0 L160.0,780.0 L161.5,780.0 L163.0,780.1 L164.5,780.1 L166.0,780.1 L167.5,780.1 L169.0,780.2 L170.5,780.2 L172.0,780.2 L173.5,780.3 L175.0,780.3 L176.5,780.3 L178.0,780.3 L179.5,780.4 L181.0,780.4 L182.5,780.4 L184.0,780.5 L185.5,780.5 L187.0,780.5 L188.5,780.6 L190.0,780.6 L191.5,780.6 L193.0,780.7 L194.5,780.7 L196.0,780.7 L197.5,780.8 L199.0,780.8 L200.5,780.8 L202.0,780.9 L203.5,780.9 L205.0,781.0 L206.5,781.0 L208.0,781.0 L209.5,781.1 L211.0,781.1 L212.5,781.2 L214.0,781.2 L215.5,781.2 L217.0,781.3 L218.5,781.3 L220.0,781.4 L221.5,781.4 L223.0,781.5 L224.5,781.5 L226.0,781.6 L227.5,781.6 L229.0,781.7 L230.5,781.7 L232.0,781.8 L233.5,781.8 L235.0,781.9 L236.5,781.9 L238.0,782.0 L239.5,782.0 L241.0,782.1 L242.5,782.1 L244.0,782.2 L245.5,782.2 L247.0,782.3 L248.5,782.3 L250.0,782.4 L251.5,782.5 L253.0,782.5 L254.5,782.6 L256.0,782.6 L257.5,782.7 L259.0,782.8 L260.5,782.8 L262.0,782.9 L263.5,783.0 L265.0,783.0 L266.5,783.1 L268.0,783.2 L269.5,783.2 L271.0,783.3 L272.5,783.4 L274.0,783.4 L275.5,783.5 L277.0,783.6 L278.5,783.7 L280.0,783.7 L281.5,783.8 L283.0,783.9 L284.5,784.0 L286.0,784.0 L287.5,784.1 L289.0,784.2 L290.5,784.3 L292.0,784.4 L293.5,784.4 L295.0,784.5 L296.5,784.6 L298.0,784.7 L299.5,784.8 L301.0,784.9 L302.5,785.0 L304.0,785.0 L305.5,785.1 L307.0,785.2 L308.5,785.3 L310.0,785.4 L311.5,785.5 L313.0,785.6 L314.5,785.7 L316.0,785.8 L317.5,785.9 L319.0,786.0 L320.5,786.1 L322.0,786.2 L323.5,786.3 L325.0,786.4 L326.5,786.5 L328.0,786.6 L329.5,786.7 L331.0,786.8 L332.5,786.9 L334.0,787.0 L335.5,787.1 L337.0,787.2 L338.5,787.4 L340.0,787.5 L341.5,787.6 L343.0,787.7 L344.5,787.8 L346.0,787.9 L347.5,788.0 L349.0,788.2 L350.5,788.3 L352.0,788.4 L353.5,788.5 L355.0,788.6 L356.5,788.8 L358.0,788.9 L359.5,789.0 L361.0,789.1 L362.5,789.3 L364.0,789.4 L365.5,789.5 L367.0,789.7 L368.5,789.8 L370.0,789.9 L371.5,790.1 L373.0,790.2 L374.5,790.3 L376.0,790.5 L377.5,790.6 L379.0,790.8 L380.5,790.9 L382.0,791.0 L383.5,791.2 L385.0,791.3 L386.5,791.5 L388.0,791.6 L389.5,791.8 L391.0,791.9 L392.5,792.1 L394.0,792.2 L395.5,792.4 L397.0,792.5 L398.5,792.7 L400.0,792.8 L401.5,793.0 L403.0,793.1 L404.5,793.3 L406.0,793.5 L407.5,793.6 L409.0,793.8 L410.5,793.9 L412.0,794.1 L413.5,794.3 L415.0,794.4 L416.5,794.6 L418.0,794.8 L419.5,794.9 L421.0,795.1 L422.5,795.3 L424.0,795.5 L425.5,795.6 L427.0,795.8 L428.5,796.0 L430.0,796.1 L431.5,796.3 L433.0,796.5 L434.5,796.7 L436.0,796.9 L437.5,797.0 L439.0,797.2 L440.5,797.4 L442.0,797.6 L443.5,797.8 L445.0,797.9 L446.5,798.1 L448.0,798.3 L449.5,798.5 L451.0,798.7 L452.5,798.9 L454.0,799.1 L455.5,799.3 L457.0,799.4 L458.5,799.6 L460.0,799.8 L461.5,800.0 L463.0,800.2 L464.5,800.4 L466.0,800.6 L467.5,800.8 L469.0,801.0 L470.5,801.2 L472.0,801.4 L473.5,801.6 L475.0,801.8 L476.5,802.0 L478.0,802.2 L479.5,802.4 L481.0,802.6 L482.5,802.8 L484.0,803.0 L485.5,803.2 L487.0,803.4 L488.5,803.6 L490.0,803.8 L491.5,804.0 L493.0,804.2 L494.5,804.4 L496.0,804.6 L497.5,804.8 L499.0,805.0 L500.5,805.2 L502.0,805.4 L503.5,805.6 L505.0,805.8 L506.5,806.0 L508.0,806.2 L509.5,806.4 L511.0,806.6 L512.5,806.8 L514.0,807.0 L515.5,807.2 L517.0,807.5 L518.5,807.7 L520.0,807.9 L521.5,808.1 L523.0,808.3 L524.5,808.5 L526.0,808.7 L527.5,808.9 L529.0,809.1 L530.5,809.3 L532.0,809.5 L533.5,809.6 L535.0,809.8 L536.5,810.0 L538.0,810.2 L539.5,810.4 L541.0,810.6 L542.5,810.8 L544.0,811.0 L545.5,811.2 L547.0,811.4 L548.5,811.6 L550.0,811.7 L551.5,811.9 L553.0,812.1 L554.5,812.3 L556.0,812.4 L557.5,812.6 L559.0,812.8 L560.5,813.0 L562.0,813.1 L563.5,813.3 L565.0,813.4 L566.5,813.6 L568.0,813.8 L569.5,813.9 L571.0,814.1 L572.5,814.2 L574.0,814.3 L575.5,814.5 L577.0,814.6 L578.5,814.7 L580.0,814.8 L581.5,815.0 L583.0,815.1 L584.5,815.2 L586.0,815.3 L587.5,815.4 L589.0,815.5 L590.5,815.5 L592.0,815.6 L593.5,815.7 L595.0,815.7 L596.5,815.8 L598.0,815.8 L599.5,815.8 L601.0,815.8 L602.5,815.8 L604.0,815.8 L605.5,815.8 L607.0,815.8 L608.5,815.7 L610.0,815.7 L611.5,815.6 L613.0,815.5 L614.5,815.4 L616.0,815.2 L617.5,815.1 L619.0,814.9 L620.5,814.7 L622.0,814.5 L623.5,814.2 L625.0,814.0 L626.5,813.7 L628.0,813.3 L629.5,813.0 L631.0,812.6 L632.5,812.2 L634.0,811.7 L635.5,811.2 L637.0,810.7 L638.5,810.1 L640.0,809.5 L641.5,808.8 L643.0,808.1 L644.5,807.3 L646.0,806.5 L647.5,805.6 L649.0,804.7 L650.5,803.7 L652.0,802.7 L653.5,801.6 L655.0,800.4 L656.5,799.1 L658.0,797.8 L659.5,796.4 L661.0,795.0 L662.5,793.4 L664.0,791.8 L665.5,790.1 L667.0,788.3 L668.5,786.4 L670.0,784.4 L671.5,782.3 L673.0,780.1 L674.5,777.8 L676.0,775.4 L677.5,772.9 L679.0,770.3 L680.5,767.6 L682.0,764.8 L683.5,761.8 L685.0,758.8 L686.5,755.6 L688.0,752.3 L689.5,748.8 L691.0,745.3 L692.5,741.6 L694.0,737.7 L695.5,733.8 L697.0,729.7 L698.5,725.5 L700.0,721.2 L701.5,716.7 L703.0,712.1 L704.5,707.3 L706.0,702.4 L707.5,697.4 L709.0,692.3 L710.5,687.0 L712.0,681.6 L713.5,676.1 L715.0,670.5 L716.5,664.7 L718.0,658.8 L719.5,652.8 L721.0,646.7 L722.5,640.5 L724.0,634.2 L725.5,627.8 L727.0,621.3 L728.5,614.7 L730.0,608.0 L731.5,601.3 L733.0,594.5 L734.5,587.7 L736.0,580.8 L737.5,573.9 L739.0,566.9 L740.5,559.9 L742.0,553.0 L743.5,546.0 L745.0,539.1 L746.5,532.2 L748.0,525.3 L749.5,518.6 L751.0,511.9 L752.5,505.3 L754.0,498.8 L755.5,492.4 L757.0,486.2 L758.5,480.2 L760.0,474.3 L761.5,468.7 L763.0,463.2 L764.5,458.0 L766.0,453.1 L767.5,448.4 L769.0,444.1 L770.5,440.0 L772.0,436.3 L773.5,432.8 L775.0,429.8 L776.5,427.1 L778.0,424.7 L779.5,422.8 L781.0,421.2 L782.5,420.0 L784.0,419.2 L785.5,418.8 L787.0,418.7 L788.5,419.1 L790.0,419.8 L791.5,420.9 L793.0,422.4 L794.5,424.3 L796.0,426.5 L797.5,429.0 L799.0,431.9 L800.5,435.0 L802.0,438.5 L803.5,442.3 L805.0,446.4 L806.5,450.7 L808.0,455.2 L809.5,460.0 L811.0,465.1 L812.5,470.3 L814.0,475.7 L815.5,481.3 L817.0,487.1 L818.5,493.1 L820.0,499.1 L821.5,505.4 L823.0,511.7 L824.5,518.2 L826.0,524.7 L827.5,531.4 L829.0,538.1 L830.5,544.9 L832.0,551.8 L833.5,558.8 L835.0,565.8 L836.5,572.8 L838.0,579.9 L839.5,587.0 L841.0,594.2 L842.5,601.3 L844.0,608.5 L845.5,615.7 L847.0,622.8 L848.5,630.0 L850.0,637.1 L851.5,644.3 L853.0,651.4 L854.5,658.4 L856.0,665.5 L857.5,672.5 L859.0,679.4 L860.5,686.4 L862.0,693.2 L863.5,700.0 L865.0,706.7 L866.5,713.4 L868.0,720.0 L869.5,726.5 L871.0,733.0 L872.5,739.3 L874.0,745.6 L875.5,751.8 L877.0,757.9 L878.5,763.9 L880.0,769.8 L881.5,775.6 L883.0,781.3 L884.5,786.8 L886.0,792.3 L887.5,797.7 L889.0,803.0 L890.5,808.1 L892.0,813.2 L893.5,818.1 L895.0,822.9 L896.5,827.6 L898.0,832.2 L899.5,836.7 L901.0,841.0 L902.5,845.3 L904.0,849.4 L905.5,853.4 L907.0,857.3 L908.5,861.0 L910.0,864.7 L911.5,868.3 L913.0,871.7 L914.5,875.0 L916.0,878.3 L917.5,881.4 L919.0,884.4 L920.5,887.3 L922.0,890.1 L923.5,892.8 L925.0,895.4 L926.5,897.9 L928.0,900.4 L929.5,902.7 L931.0,905.0 L932.5,907.1 L934.0,909.2 L935.5,911.2 L937.0,913.1 L938.5,915.0 L940.0,916.7 L941.5,918.4 L943.0,920.0 L944.5,921.6 L946.0,923.1 L947.5,924.5 L949.0,925.9 L950.5,927.2 L952.0,928.5 L953.5,929.7 L955.0,930.9 L956.5,932.0 L958.0,933.1 L959.5,934.1 L961.0,935.1 L962.5,936.0 L964.0,936.9 L965.5,937.8 L967.0,938.6 L968.5,939.4 L970.0,940.2 L971.5,940.9 L973.0,941.6 L974.5,942.3 L976.0,942.9 L977.5,943.6 L979.0,944.2 L980.5,944.8 L982.0,945.3 L983.5,945.9 L985.0,946.4 L986.5,946.9 L988.0,947.4 L989.5,947.9 L991.0,948.3 L992.5,948.8 L994.0,949.2 L995.5,949.6 L997.0,950.0 L998.5,950.4 L1000.0,950.8 L1001.5,951.2 L1003.0,951.6 L1004.5,951.9 L1006.0,952.3 L1007.5,952.6 L1009.0,953.0 L1010.5,953.3 L1012.0,953.6 L1013.5,953.9 L1015.0,954.2 L1016.5,954.5 L1018.0,954.8 L1019.5,955.1 L1021.0,955.4 L1022.5,955.6 L1024.0,955.9 L1025.5,956.2 L1027.0,956.4 L1028.5,956.7 L1030.0,956.9 L1031.5,957.2 L1033.0,957.4 L1034.5,957.7 L1036.0,957.9 L1037.5,958.1 L1039.0,958.4 L1040.5,958.6 L1042.0,958.8 L1043.5,959.0 L1045.0,959.3 L1046.5,959.5 L1048.0,959.7 L1049.5,959.9 L1051.0,960.1 L1052.5,960.3 L1054.0,960.5 L1055.5,960.7 L1057.0,960.9 L1058.5,961.1 L1060.0,961.3 L1061.5,961.4 L1063.0,961.6 L1064.5,961.8 L1066.0,962.0 L1067.5,962.2 L1069.0,962.3 L1070.5,962.5 L1072.0,962.7 L1073.5,962.8 L1075.0,963.0 L1076.5,963.2 L1078.0,963.3 L1079.5,963.5 L1081.0,963.7 L1082.5,963.8 L1084.0,964.0 L1085.5,964.1 L1087.0,964.3 L1088.5,964.4 L1090.0,964.6 L1091.5,964.7 L1093.0,964.8 L1094.5,965.0 L1096.0,965.1 L1097.5,965.3 L1099.0,965.4 L1100.5,965.5 L1102.0,965.6 L1103.5,965.8 L1105.0,965.9 L1106.5,966.0 L1108.0,966.2 L1109.5,966.3 L1111.0,966.4 L1112.5,966.5 L1114.0,966.6 L1115.5,966.8 L1117.0,966.9 L1118.5,967.0 L1120.0,967.1 L1121.5,967.2 L1123.0,967.3 L1124.5,967.4 L1126.0,967.5 L1127.5,967.6 L1129.0,967.7 L1130.5,967.8 L1132.0,968.0 L1133.5,968.1 L1135.0,968.2 L1136.5,968.2 L1138.0,968.3 L1139.5,968.4 L1141.0,968.5 L1142.5,968.6 L1144.0,968.7 L1145.5,968.8 L1147.0,968.9 L1148.5,969.0 L1150.0,969.1 L1151.5,969.2 L1153.0,969.3 L1154.5,969.3 L1156.0,969.4 L1157.5,969.5 L1159.0,969.6 L1160.5,969.7 L1162.0,969.7 L1163.5,969.8 L1165.0,969.9 L1166.5,970.0 L1168.0,970.0 L1169.5,970.1 L1171.0,970.2 L1172.5,970.3 L1174.0,970.3 L1175.5,970.4 L1177.0,970.5 L1178.5,970.5 L1180.0,970.6 L1181.5,970.7 L1183.0,970.8 L1184.5,970.8 L1186.0,970.9 L1187.5,970.9 L1189.0,971.0 L1190.5,971.1 L1192.0,971.1 L1193.5,971.2 L1195.0,971.3 L1196.5,971.3 L1198.0,971.4 L1199.5,971.4 L1201.0,971.5 L1202.5,971.5 L1204.0,971.6 L1205.5,971.7 L1207.0,971.7 L1208.5,971.8 L1210.0,971.8 L1211.5,971.9 L1213.0,971.9 L1214.5,972.0 L1216.0,972.0 L1217.5,972.1 L1219.0,972.1 L1220.5,972.2 L1222.0,972.2 L1223.5,972.3 L1225.0,972.3 L1226.5,972.4 L1228.0,972.4 L1229.5,972.4 L1231.0,972.5 L1232.5,972.5 L1234.0,972.6 L1235.5,972.6 L1237.0,972.7 L1238.5,972.7 L1240.0,972.7 L1241.5,972.8 L1243.0,972.8 L1244.5,972.9 L1246.0,972.9 L1247.5,972.9 L1249.0,973.0 L1250.5,973.0 L1252.0,973.1 L1253.5,973.1 L1255.0,973.1 L1256.5,973.2 L1258.0,973.2 L1259.5,973.2 L1261.0,973.3 L1262.5,973.3 L1264.0,973.3 L1265.5,973.4 L1267.0,973.4 L1268.5,973.4 L1270.0,973.5 L1271.5,973.5 L1273.0,973.5 L1274.5,973.6 L1276.0,973.6 L1277.5,973.6 L1279.0,973.6 L1280.5,973.7 L1282.0,973.7 L1283.5,973.7 L1285.0,973.8 L1286.5,973.8 L1288.0,973.8 L1289.5,973.8 L1291.0,973.9 L1292.5,973.9 L1294.0,973.9 L1295.5,974.0 L1297.0,974.0 L1298.5,974.0 L1300.0,974.0 L1301.5,974.1 L1303.0,974.1 L1304.5,974.1 L1306.0,974.1 L1307.5,974.1 L1309.0,974.2 L1310.5,974.2 L1312.0,974.2 L1313.5,974.2 L1315.0,974.3 L1316.5,974.3 L1318.0,974.3 L1319.5,974.3 L1321.0,974.3 L1322.5,974.4 L1324.0,974.4 L1325.5,974.4 L1327.0,974.4 L1328.5,974.5 L1330.0,974.5 L1331.5,974.5 L1333.0,974.5 L1334.5,974.5 L1336.0,974.5 L1337.5,974.6 L1339.0,974.6 L1340.5,974.6 L1342.0,974.6 L1343.5,974.6 L1345.0,974.7 L1346.5,974.7 L1348.0,974.7 L1349.5,974.7 L1351.0,974.7 L1352.5,974.7 L1354.0,974.8 L1355.5,974.8 L1357.0,974.8 L1358.5,974.8" fill="none" stroke="#e8b426" stroke-width="3.7" stroke-linejoin="round"/>
<path d="M137.5,772.4 L139.0,772.3 L140.5,772.2 L142.0,772.1 L143.5,771.9 L145.0,771.8 L146.5,771.7 L148.0,771.5 L149.5,771.4 L151.0,771.2 L152.5,771.1 L154.0,770.9 L155.5,770.8 L157.0,770.6 L158.5,770.5 L160.0,770.3 L161.5,770.1 L163.0,770.0 L164.5,769.8 L166.0,769.6 L167.5,769.4 L169.0,769.2 L170.5,769.0 L172.0,768.8 L173.5,768.6 L175.0,768.4 L176.5,768.2 L178.0,768.0 L179.5,767.8 L181.0,767.6 L182.5,767.3 L184.0,767.1 L185.5,766.9 L187.0,766.6 L188.5,766.4 L190.0,766.1 L191.5,765.9 L193.0,765.6 L194.5,765.3 L196.0,765.1 L197.5,764.8 L199.0,764.5 L200.5,764.2 L202.0,763.9 L203.5,763.6 L205.0,763.3 L206.5,763.0 L208.0,762.7 L209.5,762.3 L211.0,762.0 L212.5,761.7 L214.0,761.3 L215.5,761.0 L217.0,760.6 L218.5,760.3 L220.0,759.9 L221.5,759.5 L223.0,759.1 L224.5,758.7 L226.0,758.3 L227.5,757.9 L229.0,757.5 L230.5,757.1 L232.0,756.7 L233.5,756.2 L235.0,755.8 L236.5,755.3 L238.0,754.9 L239.5,754.4 L241.0,754.0 L242.5,753.5 L244.0,753.0 L245.5,752.5 L247.0,752.0 L248.5,751.5 L250.0,751.0 L251.5,750.4 L253.0,749.9 L254.5,749.4 L256.0,748.8 L257.5,748.2 L259.0,747.7 L260.5,747.1 L262.0,746.5 L263.5,745.9 L265.0,745.3 L266.5,744.7 L268.0,744.1 L269.5,743.5 L271.0,742.8 L272.5,742.2 L274.0,741.5 L275.5,740.8 L277.0,740.2 L278.5,739.5 L280.0,738.8 L281.5,738.1 L283.0,737.4 L284.5,736.6 L286.0,735.9 L287.5,735.2 L289.0,734.4 L290.5,733.7 L292.0,732.9 L293.5,732.1 L295.0,731.3 L296.5,730.5 L298.0,729.7 L299.5,728.9 L301.0,728.0 L302.5,727.2 L304.0,726.3 L305.5,725.4 L307.0,724.6 L308.5,723.7 L310.0,722.8 L311.5,721.9 L313.0,720.9 L314.5,720.0 L316.0,719.1 L317.5,718.1 L319.0,717.1 L320.5,716.1 L322.0,715.1 L323.5,714.1 L325.0,713.1 L326.5,712.1 L328.0,711.0 L329.5,710.0 L331.0,708.9 L332.5,707.8 L334.0,706.7 L335.5,705.6 L337.0,704.5 L338.5,703.4 L340.0,702.2 L341.5,701.1 L343.0,699.9 L344.5,698.7 L346.0,697.5 L347.5,696.3 L349.0,695.0 L350.5,693.8 L352.0,692.5 L353.5,691.3 L355.0,690.0 L356.5,688.7 L358.0,687.3 L359.5,686.0 L361.0,684.6 L362.5,683.3 L364.0,681.9 L365.5,680.5 L367.0,679.1 L368.5,677.7 L370.0,676.2 L371.5,674.8 L373.0,673.3 L374.5,671.8 L376.0,670.3 L377.5,668.8 L379.0,667.2 L380.5,665.7 L382.0,664.1 L383.5,662.5 L385.0,660.9 L386.5,659.3 L388.0,657.6 L389.5,656.0 L391.0,654.3 L392.5,652.7 L394.0,651.0 L395.5,649.2 L397.0,647.5 L398.5,645.8 L400.0,644.0 L401.5,642.2 L403.0,640.5 L404.5,638.7 L406.0,636.8 L407.5,635.0 L409.0,633.2 L410.5,631.3 L412.0,629.5 L413.5,627.6 L415.0,625.7 L416.5,623.8 L418.0,621.9 L419.5,620.0 L421.0,618.1 L422.5,616.1 L424.0,614.2 L425.5,612.2 L427.0,610.3 L428.5,608.3 L430.0,606.3 L431.5,604.4 L433.0,602.4 L434.5,600.4 L436.0,598.5 L437.5,596.5 L439.0,594.5 L440.5,592.5 L442.0,590.5 L443.5,588.6 L445.0,586.6 L446.5,584.6 L448.0,582.7 L449.5,580.7 L451.0,578.8 L452.5,576.9 L454.0,574.9 L455.5,573.0 L457.0,571.1 L458.5,569.3 L460.0,567.4 L461.5,565.5 L463.0,563.7 L464.5,561.9 L466.0,560.1 L467.5,558.4 L469.0,556.6 L470.5,554.9 L472.0,553.2 L473.5,551.5 L475.0,549.9 L476.5,548.3 L478.0,546.7 L479.5,545.2 L481.0,543.6 L482.5,542.2 L484.0,540.7 L485.5,539.3 L487.0,538.0 L488.5,536.6 L490.0,535.3 L491.5,534.1 L493.0,532.9 L494.5,531.7 L496.0,530.6 L497.5,529.6 L499.0,528.5 L500.5,527.6 L502.0,526.6 L503.5,525.8 L505.0,524.9 L506.5,524.2 L508.0,523.4 L509.5,522.8 L511.0,522.2 L512.5,521.6 L514.0,521.1 L515.5,520.6 L517.0,520.2 L518.5,519.9 L520.0,519.6 L521.5,519.4 L523.0,519.2 L524.5,519.1 L526.0,519.0 L527.5,519.0 L529.0,519.1 L530.5,519.2 L532.0,519.3 L533.5,519.5 L535.0,519.8 L536.5,520.1 L538.0,520.5 L539.5,521.0 L541.0,521.5 L542.5,522.0 L544.0,522.6 L545.5,523.2 L547.0,523.9 L548.5,524.7 L550.0,525.5 L551.5,526.3 L553.0,527.2 L554.5,528.2 L556.0,529.2 L557.5,530.2 L559.0,531.3 L560.5,532.4 L562.0,533.6 L563.5,534.8 L565.0,536.0 L566.5,537.3 L568.0,538.6 L569.5,539.9 L571.0,541.3 L572.5,542.7 L574.0,544.2 L575.5,545.7 L577.0,547.2 L578.5,548.7 L580.0,550.2 L581.5,551.8 L583.0,553.4 L584.5,555.0 L586.0,556.6 L587.5,558.3 L589.0,559.9 L590.5,561.6 L592.0,563.3 L593.5,565.0 L595.0,566.7 L596.5,568.4 L598.0,570.1 L599.5,571.8 L601.0,573.5 L602.5,575.2 L604.0,576.9 L605.5,578.6 L607.0,580.3 L608.5,582.0 L610.0,583.6 L611.5,585.3 L613.0,586.9 L614.5,588.5 L616.0,590.1 L617.5,591.7 L619.0,593.3 L620.5,594.8 L622.0,596.3 L623.5,597.8 L625.0,599.3 L626.5,600.7 L628.0,602.0 L629.5,603.4 L631.0,604.7 L632.5,606.0 L634.0,607.2 L635.5,608.3 L637.0,609.5 L638.5,610.5 L640.0,611.6 L641.5,612.5 L643.0,613.4 L644.5,614.3 L646.0,615.1 L647.5,615.8 L649.0,616.5 L650.5,617.1 L652.0,617.6 L653.5,618.0 L655.0,618.4 L656.5,618.7 L658.0,618.9 L659.5,619.0 L661.0,619.0 L662.5,618.9 L664.0,618.7 L665.5,618.5 L667.0,618.1 L668.5,617.6 L670.0,617.1 L671.5,616.4 L673.0,615.6 L674.5,614.6 L676.0,613.6 L677.5,612.4 L679.0,611.1 L680.5,609.7 L682.0,608.1 L683.5,606.4 L685.0,604.6 L686.5,602.6 L688.0,600.4 L689.5,598.1 L691.0,595.7 L692.5,593.1 L694.0,590.3 L695.5,587.3 L697.0,584.2 L698.5,580.9 L700.0,577.4 L701.5,573.8 L703.0,569.9 L704.5,565.9 L706.0,561.7 L707.5,557.2 L709.0,552.6 L710.5,547.8 L712.0,542.8 L713.5,537.6 L715.0,532.2 L716.5,526.6 L718.0,520.9 L719.5,514.9 L721.0,508.7 L722.5,502.3 L724.0,495.8 L725.5,489.0 L727.0,482.1 L728.5,475.0 L730.0,467.8 L731.5,460.4 L733.0,452.8 L734.5,445.2 L736.0,437.4 L737.5,429.5 L739.0,421.5 L740.5,413.5 L742.0,405.4 L743.5,397.2 L745.0,389.1 L746.5,381.0 L748.0,372.9 L749.5,364.8 L751.0,356.9 L752.5,349.0 L754.0,341.3 L755.5,333.8 L757.0,326.4 L758.5,319.2 L760.0,312.2 L761.5,305.5 L763.0,299.1 L764.5,292.9 L766.0,287.1 L767.5,281.5 L769.0,276.2 L770.5,271.3 L772.0,266.7 L773.5,262.5 L775.0,258.5 L776.5,254.9 L778.0,251.6 L779.5,248.6 L781.0,245.9 L782.5,243.5 L784.0,241.4 L785.5,239.5 L787.0,237.8 L788.5,236.4 L790.0,235.2 L791.5,234.2 L793.0,233.3 L794.5,232.7 L796.0,232.1 L797.5,231.8 L799.0,231.5 L800.5,231.4 L802.0,231.3 L803.5,231.4 L805.0,231.6 L806.5,231.8 L808.0,232.2 L809.5,232.6 L811.0,233.2 L812.5,233.8 L814.0,234.6 L815.5,235.4 L817.0,236.3 L818.5,237.4 L820.0,238.6 L821.5,240.0 L823.0,241.4 L824.5,243.1 L826.0,244.9 L827.5,246.9 L829.0,249.0 L830.5,251.4 L832.0,254.0 L833.5,256.8 L835.0,259.8 L836.5,263.1 L838.0,266.6 L839.5,270.4 L841.0,274.4 L842.5,278.7 L844.0,283.3 L845.5,288.1 L847.0,293.3 L848.5,298.7 L850.0,304.3 L851.5,310.2 L853.0,316.4 L854.5,322.9 L856.0,329.6 L857.5,336.5 L859.0,343.7 L860.5,351.1 L862.0,358.7 L863.5,366.6 L865.0,374.6 L866.5,382.8 L868.0,391.1 L869.5,399.6 L871.0,408.3 L872.5,417.0 L874.0,425.9 L875.5,434.9 L877.0,444.0 L878.5,453.1 L880.0,462.2 L881.5,471.5 L883.0,480.7 L884.5,489.9 L886.0,499.2 L887.5,508.4 L889.0,517.6 L890.5,526.8 L892.0,535.9 L893.5,545.0 L895.0,554.0 L896.5,562.9 L898.0,571.7 L899.5,580.4 L901.0,589.0 L902.5,597.5 L904.0,605.9 L905.5,614.2 L907.0,622.3 L908.5,630.2 L910.0,638.0 L911.5,645.7 L913.0,653.2 L914.5,660.5 L916.0,667.7 L917.5,674.7 L919.0,681.6 L920.5,688.2 L922.0,694.7 L923.5,701.0 L925.0,707.2 L926.5,713.1 L928.0,718.9 L929.5,724.6 L931.0,730.0 L932.5,735.3 L934.0,740.4 L935.5,745.4 L937.0,750.2 L938.5,754.8 L940.0,759.3 L941.5,763.6 L943.0,767.8 L944.5,771.9 L946.0,775.8 L947.5,779.5 L949.0,783.2 L950.5,786.7 L952.0,790.1 L953.5,793.4 L955.0,796.6 L956.5,799.7 L958.0,802.7 L959.5,805.6 L961.0,808.5 L962.5,811.2 L964.0,813.9 L965.5,816.5 L967.0,819.0 L968.5,821.5 L970.0,824.0 L971.5,826.3 L973.0,828.7 L974.5,831.0 L976.0,833.2 L977.5,835.5 L979.0,837.7 L980.5,839.8 L982.0,842.0 L983.5,844.1 L985.0,846.2 L986.5,848.3 L988.0,850.4 L989.5,852.5 L991.0,854.5 L992.5,856.6 L994.0,858.6 L995.5,860.6 L997.0,862.7 L998.5,864.7 L1000.0,866.7 L1001.5,868.7 L1003.0,870.7 L1004.5,872.7 L1006.0,874.7 L1007.5,876.7 L1009.0,878.7 L1010.5,880.7 L1012.0,882.6 L1013.5,884.6 L1015.0,886.5 L1016.5,888.4 L1018.0,890.4 L1019.5,892.3 L1021.0,894.1 L1022.5,896.0 L1024.0,897.9 L1025.5,899.7 L1027.0,901.5 L1028.5,903.3 L1030.0,905.0 L1031.5,906.8 L1033.0,908.5 L1034.5,910.2 L1036.0,911.8 L1037.5,913.4 L1039.0,915.0 L1040.5,916.6 L1042.0,918.1 L1043.5,919.6 L1045.0,921.1 L1046.5,922.5 L1048.0,923.9 L1049.5,925.3 L1051.0,926.6 L1052.5,927.9 L1054.0,929.1 L1055.5,930.4 L1057.0,931.6 L1058.5,932.7 L1060.0,933.8 L1061.5,934.9 L1063.0,935.9 L1064.5,937.0 L1066.0,937.9 L1067.5,938.9 L1069.0,939.8 L1070.5,940.7 L1072.0,941.5 L1073.5,942.4 L1075.0,943.2 L1076.5,943.9 L1078.0,944.7 L1079.5,945.4 L1081.0,946.1 L1082.5,946.7 L1084.0,947.4 L1085.5,948.0 L1087.0,948.6 L1088.5,949.1 L1090.0,949.7 L1091.5,950.2 L1093.0,950.7 L1094.5,951.2 L1096.0,951.6 L1097.5,952.1 L1099.0,952.5 L1100.5,952.9 L1102.0,953.3 L1103.5,953.7 L1105.0,954.1 L1106.5,954.4 L1108.0,954.8 L1109.5,955.1 L1111.0,955.4 L1112.5,955.7 L1114.0,956.0 L1115.5,956.3 L1117.0,956.6 L1118.5,956.9 L1120.0,957.1 L1121.5,957.4 L1123.0,957.7 L1124.5,957.9 L1126.0,958.1 L1127.5,958.4 L1129.0,958.6 L1130.5,958.8 L1132.0,959.0 L1133.5,959.2 L1135.0,959.4 L1136.5,959.6 L1138.0,959.8 L1139.5,960.0 L1141.0,960.2 L1142.5,960.4 L1144.0,960.5 L1145.5,960.7 L1147.0,960.9 L1148.5,961.1 L1150.0,961.2 L1151.5,961.4 L1153.0,961.5 L1154.5,961.7 L1156.0,961.8 L1157.5,962.0 L1159.0,962.1 L1160.5,962.3 L1162.0,962.4 L1163.5,962.6 L1165.0,962.7 L1166.5,962.8 L1168.0,963.0 L1169.5,963.1 L1171.0,963.2 L1172.5,963.4 L1174.0,963.5 L1175.5,963.6 L1177.0,963.8 L1178.5,963.9 L1180.0,964.0 L1181.5,964.1 L1183.0,964.2 L1184.5,964.4 L1186.0,964.5 L1187.5,964.6 L1189.0,964.7 L1190.5,964.8 L1192.0,964.9 L1193.5,965.0 L1195.0,965.1 L1196.5,965.2 L1198.0,965.3 L1199.5,965.4 L1201.0,965.5 L1202.5,965.6 L1204.0,965.7 L1205.5,965.8 L1207.0,965.9 L1208.5,966.0 L1210.0,966.1 L1211.5,966.2 L1213.0,966.3 L1214.5,966.4 L1216.0,966.5 L1217.5,966.6 L1219.0,966.7 L1220.5,966.8 L1222.0,966.8 L1223.5,966.9 L1225.0,967.0 L1226.5,967.1 L1228.0,967.2 L1229.5,967.3 L1231.0,967.3 L1232.5,967.4 L1234.0,967.5 L1235.5,967.6 L1237.0,967.6 L1238.5,967.7 L1240.0,967.8 L1241.5,967.9 L1243.0,967.9 L1244.5,968.0 L1246.0,968.1 L1247.5,968.2 L1249.0,968.2 L1250.5,968.3 L1252.0,968.4 L1253.5,968.4 L1255.0,968.5 L1256.5,968.6 L1258.0,968.6 L1259.5,968.7 L1261.0,968.7 L1262.5,968.8 L1264.0,968.9 L1265.5,968.9 L1267.0,969.0 L1268.5,969.1 L1270.0,969.1 L1271.5,969.2 L1273.0,969.2 L1274.5,969.3 L1276.0,969.3 L1277.5,969.4 L1279.0,969.5 L1280.5,969.5 L1282.0,969.6 L1283.5,969.6 L1285.0,969.7 L1286.5,969.7 L1288.0,969.8 L1289.5,969.8 L1291.0,969.9 L1292.5,969.9 L1294.0,970.0 L1295.5,970.0 L1297.0,970.1 L1298.5,970.1 L1300.0,970.2 L1301.5,970.2 L1303.0,970.3 L1304.5,970.3 L1306.0,970.4 L1307.5,970.4 L1309.0,970.5 L1310.5,970.5 L1312.0,970.5 L1313.5,970.6 L1315.0,970.6 L1316.5,970.7 L1318.0,970.7 L1319.5,970.8 L1321.0,970.8 L1322.5,970.8 L1324.0,970.9 L1325.5,970.9 L1327.0,971.0 L1328.5,971.0 L1330.0,971.0 L1331.5,971.1 L1333.0,971.1 L1334.5,971.2 L1336.0,971.2 L1337.5,971.2 L1339.0,971.3 L1340.5,971.3 L1342.0,971.3 L1343.5,971.4 L1345.0,971.4 L1346.5,971.4 L1348.0,971.5 L1349.5,971.5 L1351.0,971.5 L1352.5,971.6 L1354.0,971.6 L1355.5,971.6 L1357.0,971.7 L1358.5,971.7" fill="none" stroke="#ff2a2a" stroke-width="3.9000000000000004" stroke-linejoin="round"/>
</g>
<defs><clipPath id="clipa"><rect x="136.5" y="39" width="1224.5" height="988.5"/></clipPath></defs>
<rect x="136.5" y="39" width="1224.5" height="988.5" fill="none" stroke="#333" stroke-width="4.5"/>
<line x1="1361.00" y1="1027.5" x2="1361.00" y2="1045.5" stroke="#333" stroke-width="4"/>
<g transform="translate(1324.90,1092.55) scale(1,1.0259)" fill="#111" >
<text x="0.00" y="0.00" font-size="43.23" font-weight="normal" stroke="#111" stroke-width="0.90" stroke-linejoin="round" xml:space="preserve">845</text>
</g>
<line x1="1238.55" y1="1027.5" x2="1238.55" y2="1035.5" stroke="#333" stroke-width="4"/>
<line x1="1116.10" y1="1027.5" x2="1116.10" y2="1045.5" stroke="#333" stroke-width="4"/>
<g transform="translate(1080.01,1092.55) scale(1,1.0292)" fill="#111" >
<text x="0.00" y="0.00" font-size="43.09" font-weight="normal" stroke="#111" stroke-width="0.90" stroke-linejoin="round" xml:space="preserve">850</text>
</g>
<line x1="993.65" y1="1027.5" x2="993.65" y2="1035.5" stroke="#333" stroke-width="4"/>
<line x1="871.20" y1="1027.5" x2="871.20" y2="1045.5" stroke="#333" stroke-width="4"/>
<g transform="translate(835.10,1092.55) scale(1,1.0259)" fill="#111" >
<text x="0.00" y="0.00" font-size="43.23" font-weight="normal" stroke="#111" stroke-width="0.90" stroke-linejoin="round" xml:space="preserve">855</text>
</g>
<line x1="748.75" y1="1027.5" x2="748.75" y2="1035.5" stroke="#333" stroke-width="4"/>
<line x1="626.30" y1="1027.5" x2="626.30" y2="1045.5" stroke="#333" stroke-width="4"/>
<g transform="translate(590.21,1092.55) scale(1,1.0292)" fill="#111" >
<text x="0.00" y="0.00" font-size="43.09" font-weight="normal" stroke="#111" stroke-width="0.90" stroke-linejoin="round" xml:space="preserve">860</text>
</g>
<line x1="503.85" y1="1027.5" x2="503.85" y2="1035.5" stroke="#333" stroke-width="4"/>
<line x1="381.40" y1="1027.5" x2="381.40" y2="1045.5" stroke="#333" stroke-width="4"/>
<g transform="translate(345.30,1092.55) scale(1,1.0259)" fill="#111" >
<text x="0.00" y="0.00" font-size="43.23" font-weight="normal" stroke="#111" stroke-width="0.90" stroke-linejoin="round" xml:space="preserve">865</text>
</g>
<line x1="258.95" y1="1027.5" x2="258.95" y2="1035.5" stroke="#333" stroke-width="4"/>
<line x1="136.50" y1="1027.5" x2="136.50" y2="1045.5" stroke="#333" stroke-width="4"/>
<g transform="translate(100.41,1092.55) scale(1,1.0292)" fill="#111" >
<text x="0.00" y="0.00" font-size="43.09" font-weight="normal" stroke="#111" stroke-width="0.90" stroke-linejoin="round" xml:space="preserve">870</text>
</g>
<g transform="translate(162.35,117.60) scale(1,1.0138)" fill="#000" >
<text x="0.00" y="0.00" font-size="93.07" font-weight="bold" xml:space="preserve">(a)</text>
</g>
<g transform="translate(637.61,107.80) scale(1,1.0076)" fill="#000" >
<text x="0.00" y="0.00" font-size="73.65" font-weight="bold" xml:space="preserve">Ni2p</text>
<text x="159.59" y="19.73" font-size="48.61" font-weight="bold" xml:space="preserve">3/2</text>
</g>
<g transform="translate(324.97,262.75) scale(1,1.0095)" fill="#000" >
<text x="0.00" y="0.00" font-size="35.03" font-weight="bold" stroke="#000" stroke-width="1.10" stroke-linejoin="round" xml:space="preserve">Ni2p</text>
<text x="75.91" y="9.37" font-size="23.12" font-weight="bold" stroke="#000" stroke-width="0.70" stroke-linejoin="round" xml:space="preserve">3/2</text>
<text x="108.05" y="0.00" font-size="35.03" font-weight="bold" stroke="#000" stroke-width="1.10" stroke-linejoin="round" xml:space="preserve"> NiAl</text>
<text x="187.84" y="9.37" font-size="23.12" font-weight="bold" stroke="#000" stroke-width="0.70" stroke-linejoin="round" xml:space="preserve">2</text>
<text x="200.70" y="0.00" font-size="35.03" font-weight="bold" stroke="#000" stroke-width="1.10" stroke-linejoin="round" xml:space="preserve">O</text>
<text x="227.94" y="9.37" font-size="23.12" font-weight="bold" stroke="#000" stroke-width="0.70" stroke-linejoin="round" xml:space="preserve">4</text>
<text x="240.80" y="0.00" font-size="35.03" font-weight="bold" stroke="#000" stroke-width="1.10" stroke-linejoin="round" xml:space="preserve"> (856.5 eV)</text>
</g>
<g transform="translate(439.70,472.95) scale(1,1.0909)" fill="#000" >
<text x="0.00" y="0.00" font-size="35.07" font-weight="bold" stroke="#000" stroke-width="1.10" stroke-linejoin="round" xml:space="preserve">Satelite</text>
</g>
<g transform="translate(747.92,613.05) scale(1,1.0500)" fill="#000" >
<text x="0.00" y="0.00" font-size="45.13" font-weight="bold" stroke="#000" stroke-width="1.10" stroke-linejoin="round" xml:space="preserve">Ni</text>
<text x="45.13" y="-12.47" font-size="30.24" font-weight="bold" stroke="#000" stroke-width="0.70" stroke-linejoin="round" xml:space="preserve">2+</text>
</g>
<g transform="translate(912.57,554.95) scale(1,1.0097)" fill="#000" >
<text x="0.00" y="0.00" font-size="35.02" font-weight="bold" stroke="#000" stroke-width="1.10" stroke-linejoin="round" xml:space="preserve">Ni2p</text>
<text x="75.89" y="9.36" font-size="23.11" font-weight="bold" stroke="#000" stroke-width="0.70" stroke-linejoin="round" xml:space="preserve">3/2</text>
<text x="108.02" y="0.00" font-size="35.02" font-weight="bold" stroke="#000" stroke-width="1.10" stroke-linejoin="round" xml:space="preserve"> Ni(OH)</text>
<text x="228.63" y="9.36" font-size="23.11" font-weight="bold" stroke="#000" stroke-width="0.70" stroke-linejoin="round" xml:space="preserve">2</text>
<text x="241.49" y="0.00" font-size="35.02" font-weight="bold" stroke="#000" stroke-width="1.10" stroke-linejoin="round" xml:space="preserve"> (855.1 eV)</text>
</g>
<g transform="translate(1014.67,801.25) scale(1,1.0085)" fill="#000" >
<text x="0.00" y="0.00" font-size="35.07" font-weight="bold" stroke="#000" stroke-width="1.10" stroke-linejoin="round" xml:space="preserve">Ni2p</text>
<text x="75.99" y="9.39" font-size="23.14" font-weight="bold" stroke="#000" stroke-width="0.70" stroke-linejoin="round" xml:space="preserve">3/2</text>
<text x="108.16" y="0.00" font-size="35.07" font-weight="bold" stroke="#000" stroke-width="1.10" stroke-linejoin="round" xml:space="preserve"> Ni</text>
<text x="152.96" y="-13.91" font-size="23.14" font-weight="bold" stroke="#000" stroke-width="0.70" stroke-linejoin="round" xml:space="preserve">0</text>
<text x="165.83" y="0.00" font-size="35.07" font-weight="bold" stroke="#000" stroke-width="1.10" stroke-linejoin="round" xml:space="preserve"> (852.4 eV)</text>
</g>
<g transform="translate(149.79,989.60) scale(1,0.8514)" fill="#000" >
<text x="0.00" y="0.00" font-size="97.02" font-weight="bold" stroke="#000" stroke-width="4.00" stroke-linejoin="round" xml:space="preserve">Ni</text>
<text x="97.02" y="-32.25" font-size="65.98" font-weight="bold" stroke="#000" stroke-width="1.00" stroke-linejoin="round" xml:space="preserve">0</text>
<text x="133.72" y="0.00" font-size="97.02" font-weight="bold" stroke="#000" stroke-width="1.50" stroke-linejoin="round" xml:space="preserve">/</text>
<text x="160.67" y="0.00" font-size="97.02" font-weight="bold" stroke="#000" stroke-width="4.00" stroke-linejoin="round" xml:space="preserve">ATZ3</text>
<text x="396.04" y="34.19" font-size="78.59" font-weight="bold" stroke="#000" stroke-width="1.00" stroke-linejoin="round" xml:space="preserve">SM</text>
</g>
<g transform="translate(343.40,1187.50) scale(1,1.0494)" fill="#000" >
<text x="0.00" y="0.00" font-size="81.48" font-weight="bold" xml:space="preserve">Binding Energy (eV)</text>
</g>
<line x1="584.7" y1="302.9" x2="678.2" y2="422.7" stroke="#222" stroke-width="2.2" stroke-linecap="round"/><path d="M691.7,440.0 L671.0,425.7 L682.8,416.5 Z" fill="#000" stroke="#000" stroke-width="1.5" stroke-linejoin="round"/>
<line x1="1062.7" y1="588.1" x2="963.9" y2="688.2" stroke="#222" stroke-width="2.2" stroke-linecap="round"/><path d="M948.4,703.9 L959.9,681.6 L970.6,692.1 Z" fill="#000" stroke="#000" stroke-width="1.5" stroke-linejoin="round"/>
<line x1="1208.3" y1="837.7" x2="1114.2" y2="886.6" stroke="#222" stroke-width="2.2" stroke-linecap="round"/><path d="M1094.7,896.7 L1112.5,879.0 L1119.5,892.3 Z" fill="#000" stroke="#000" stroke-width="1.5" stroke-linejoin="round"/>
<g transform="translate(81.8,782) rotate(-90)"><g transform="translate(-5.29,0.00) scale(1,1.0509)" fill="#000" >
<text x="0.00" y="0.00" font-size="81.37" font-weight="bold" xml:space="preserve">Intensity (a.u.)</text>
</g></g>
<g clip-path="url(#clipb)">
<path d="M145.5,1847.8 L150.8,1843.2 L156.2,1851.5 L161.5,1856.4 L166.9,1861.7 L172.2,1852.9 L177.6,1847.0 L182.9,1844.5 L188.3,1856.1 L193.6,1862.4 L199.0,1850.6 L204.3,1837.5 L209.6,1838.6 L215.0,1857.8 L220.3,1845.2 L225.7,1828.2 L231.0,1839.7 L236.4,1829.2 L241.7,1831.5 L247.1,1830.4 L252.4,1826.1 L257.8,1833.6 L263.1,1825.8 L268.4,1818.5 L273.8,1823.1 L279.1,1822.9 L284.5,1799.3 L289.8,1806.3 L295.2,1796.1 L300.5,1798.0 L305.9,1784.3 L311.2,1789.8 L316.6,1784.1 L321.9,1776.5 L327.3,1764.8 L332.6,1764.1 L337.9,1752.4 L343.3,1743.9 L348.6,1750.1 L354.0,1732.7 L359.3,1744.1 L364.7,1733.6 L370.0,1704.9 L375.4,1716.0 L380.7,1698.0 L386.1,1700.0 L391.4,1693.0 L396.7,1669.8 L402.1,1677.0 L407.4,1670.1 L412.8,1673.3 L418.1,1649.8 L423.5,1659.1 L428.8,1638.5 L434.2,1639.1 L439.5,1629.8 L444.9,1643.2 L450.2,1631.6 L455.5,1642.6 L460.9,1624.9 L466.2,1623.5 L471.6,1620.9 L476.9,1607.2 L482.3,1609.9 L487.6,1620.2 L493.0,1605.7 L498.3,1610.3 L503.7,1609.1 L509.0,1615.2 L514.3,1608.9 L519.7,1612.7 L525.0,1618.4 L530.4,1620.4 L535.7,1616.2 L541.1,1634.3 L546.4,1621.0 L551.8,1626.5 L557.1,1630.7 L562.5,1653.7 L567.8,1648.2 L573.2,1648.3 L578.5,1652.0 L583.8,1669.1 L589.2,1661.6 L594.5,1663.8 L599.9,1682.1 L605.2,1669.5 L610.6,1677.6 L615.9,1680.3 L621.3,1676.1 L626.6,1677.4 L632.0,1685.8 L637.3,1667.0 L642.6,1656.1 L648.0,1645.3 L653.3,1651.1 L658.7,1641.5 L664.0,1637.0 L669.4,1620.7 L674.7,1609.3 L680.1,1595.1 L685.4,1583.8 L690.8,1575.6 L696.1,1557.3 L701.4,1546.8 L706.8,1547.2 L712.1,1521.8 L717.5,1491.4 L722.8,1504.1 L728.2,1479.8 L733.5,1456.7 L738.9,1459.5 L744.2,1441.3 L749.6,1426.2 L754.9,1417.1 L760.2,1406.6 L765.6,1408.6 L770.9,1411.8 L776.3,1397.2 L781.6,1401.2 L787.0,1412.6 L792.3,1389.0 L797.7,1403.1 L803.0,1402.1 L808.4,1400.5 L813.7,1405.8 L819.1,1419.3 L824.4,1428.6 L829.7,1427.3 L835.1,1440.2 L840.4,1457.2 L845.8,1468.9 L851.1,1492.6 L856.5,1510.4 L861.8,1531.9 L867.2,1563.2 L872.5,1573.1 L877.9,1587.8 L883.2,1610.2 L888.5,1614.3 L893.9,1635.4 L899.2,1660.5 L904.6,1675.5 L909.9,1699.1 L915.3,1702.8 L920.6,1707.1 L926.0,1750.5 L931.3,1759.9 L936.7,1759.2 L942.0,1795.5 L947.3,1801.9 L952.7,1804.7 L958.0,1833.6 L963.4,1851.0 L968.7,1886.1 L974.1,1885.4 L979.4,1908.1 L984.8,1926.2 L990.1,1943.4 L995.5,1956.8 L1000.8,1983.2 L1006.1,2007.1 L1011.5,2019.8 L1016.8,2022.9 L1022.2,2035.7 L1027.5,2059.4 L1032.9,2065.4 L1038.2,2077.5 L1043.6,2079.7 L1048.9,2118.2 L1054.3,2118.5 L1059.6,2110.9 L1065.0,2132.7 L1070.3,2142.1 L1075.6,2117.4 L1081.0,2136.7 L1086.3,2141.8 L1091.7,2153.4 L1097.0,2150.1 L1102.4,2151.7 L1107.7,2155.2 L1113.1,2172.3 L1118.4,2176.4 L1123.8,2156.3 L1129.1,2154.3 L1134.4,2184.3 L1139.8,2155.9 L1145.1,2160.0 L1150.5,2165.6 L1155.8,2169.4 L1161.2,2174.0 L1166.5,2169.1 L1171.9,2159.1 L1177.2,2170.3 L1182.6,2168.3 L1187.9,2181.4 L1193.2,2166.3 L1198.6,2155.8 L1203.9,2158.2 L1209.3,2178.2 L1214.6,2162.3 L1220.0,2149.8 L1225.3,2162.0 L1230.7,2166.7 L1236.0,2176.2 L1241.4,2158.6 L1246.7,2172.1 L1252.0,2173.1 L1257.4,2161.2 L1262.7,2165.3 L1268.1,2181.0 L1273.4,2180.6 L1278.8,2173.7 L1284.1,2169.5 L1289.5,2175.9 L1294.8,2165.7 L1300.2,2166.1 L1305.5,2160.0 L1310.9,2166.9 L1316.2,2166.2 L1321.5,2189.1 L1326.9,2165.3 L1332.2,2177.1 L1337.6,2177.5 L1342.9,2165.4 L1348.3,2176.3 L1353.6,2149.5 L1359.0,2167.7 L1364.3,2173.8 L1369.7,2147.7" fill="none" stroke="#1a1a1a" stroke-width="2.8" stroke-linejoin="round"/>
<path d="M144.5,1859.8 L146.0,1859.8 L147.5,1859.9 L149.0,1859.9 L150.5,1859.9 L152.0,1860.0 L153.5,1860.0 L155.0,1860.1 L156.5,1860.1 L158.0,1860.2 L159.5,1860.2 L161.0,1860.3 L162.5,1860.3 L164.0,1860.3 L165.5,1860.4 L167.0,1860.4 L168.5,1860.5 L170.0,1860.6 L171.5,1860.6 L173.0,1860.7 L174.5,1860.7 L176.0,1860.8 L177.5,1860.8 L179.0,1860.9 L180.5,1860.9 L182.0,1861.0 L183.5,1861.1 L185.0,1861.1 L186.5,1861.2 L188.0,1861.3 L189.5,1861.3 L191.0,1861.4 L192.5,1861.5 L194.0,1861.5 L195.5,1861.6 L197.0,1861.7 L198.5,1861.7 L200.0,1861.8 L201.5,1861.9 L203.0,1862.0 L204.5,1862.0 L206.0,1862.1 L207.5,1862.2 L209.0,1862.3 L210.5,1862.3 L212.0,1862.4 L213.5,1862.5 L215.0,1862.6 L216.5,1862.7 L218.0,1862.8 L219.5,1862.9 L221.0,1862.9 L222.5,1863.0 L224.0,1863.1 L225.5,1863.2 L227.0,1863.3 L228.5,1863.4 L230.0,1863.5 L231.5,1863.6 L233.0,1863.7 L234.5,1863.8 L236.0,1863.9 L237.5,1864.0 L239.0,1864.1 L240.5,1864.2 L242.0,1864.4 L243.5,1864.5 L245.0,1864.6 L246.5,1864.7 L248.0,1864.8 L249.5,1864.9 L251.0,1865.0 L252.5,1865.2 L254.0,1865.3 L255.5,1865.4 L257.0,1865.5 L258.5,1865.7 L260.0,1865.8 L261.5,1865.9 L263.0,1866.1 L264.5,1866.2 L266.0,1866.3 L267.5,1866.5 L269.0,1866.6 L270.5,1866.7 L272.0,1866.9 L273.5,1867.0 L275.0,1867.2 L276.5,1867.3 L278.0,1867.5 L279.5,1867.6 L281.0,1867.8 L282.5,1867.9 L284.0,1868.1 L285.5,1868.3 L287.0,1868.4 L288.5,1868.6 L290.0,1868.7 L291.5,1868.9 L293.0,1869.1 L294.5,1869.3 L296.0,1869.4 L297.5,1869.6 L299.0,1869.8 L300.5,1870.0 L302.0,1870.1 L303.5,1870.3 L305.0,1870.5 L306.5,1870.7 L308.0,1870.9 L309.5,1871.1 L311.0,1871.3 L312.5,1871.5 L314.0,1871.7 L315.5,1871.9 L317.0,1872.1 L318.5,1872.3 L320.0,1872.5 L321.5,1872.7 L323.0,1872.9 L324.5,1873.1 L326.0,1873.3 L327.5,1873.5 L329.0,1873.7 L330.5,1874.0 L332.0,1874.2 L333.5,1874.4 L335.0,1874.6 L336.5,1874.9 L338.0,1875.1 L339.5,1875.3 L341.0,1875.6 L342.5,1875.8 L344.0,1876.0 L345.5,1876.3 L347.0,1876.5 L348.5,1876.8 L350.0,1877.0 L351.5,1877.3 L353.0,1877.5 L354.5,1877.8 L356.0,1878.0 L357.5,1878.3 L359.0,1878.6 L360.5,1878.8 L362.0,1879.1 L363.5,1879.4 L365.0,1879.6 L366.5,1879.9 L368.0,1880.2 L369.5,1880.4 L371.0,1880.7 L372.5,1881.0 L374.0,1881.3 L375.5,1881.6 L377.0,1881.9 L378.5,1882.2 L380.0,1882.4 L381.5,1882.7 L383.0,1883.0 L384.5,1883.3 L386.0,1883.6 L387.5,1883.9 L389.0,1884.2 L390.5,1884.6 L392.0,1884.9 L393.5,1885.2 L395.0,1885.5 L396.5,1885.8 L398.0,1886.1 L399.5,1886.4 L401.0,1886.8 L402.5,1887.1 L404.0,1887.4 L405.5,1887.8 L407.0,1888.1 L408.5,1888.4 L410.0,1888.8 L411.5,1889.1 L413.0,1889.4 L414.5,1889.8 L416.0,1890.1 L417.5,1890.5 L419.0,1890.8 L420.5,1891.2 L422.0,1891.5 L423.5,1891.9 L425.0,1892.2 L426.5,1892.6 L428.0,1892.9 L429.5,1893.3 L431.0,1893.7 L432.5,1894.0 L434.0,1894.4 L435.5,1894.8 L437.0,1895.1 L438.5,1895.5 L440.0,1895.9 L441.5,1896.3 L443.0,1896.6 L444.5,1897.0 L446.0,1897.4 L447.5,1897.8 L449.0,1898.2 L450.5,1898.5 L452.0,1898.9 L453.5,1899.3 L455.0,1899.7 L456.5,1900.1 L458.0,1900.5 L459.5,1900.9 L461.0,1901.3 L462.5,1901.7 L464.0,1902.1 L465.5,1902.5 L467.0,1902.9 L468.5,1903.3 L470.0,1903.7 L471.5,1904.1 L473.0,1904.6 L474.5,1905.0 L476.0,1905.4 L477.5,1905.8 L479.0,1906.2 L480.5,1906.6 L482.0,1907.0 L483.5,1907.5 L485.0,1907.9 L486.5,1908.3 L488.0,1908.7 L489.5,1909.2 L491.0,1909.6 L492.5,1910.0 L494.0,1910.5 L495.5,1910.9 L497.0,1911.3 L498.5,1911.8 L500.0,1912.2 L501.5,1912.6 L503.0,1913.1 L504.5,1913.5 L506.0,1913.9 L507.5,1914.4 L509.0,1914.8 L510.5,1915.3 L512.0,1915.7 L513.5,1916.2 L515.0,1916.6 L516.5,1917.1 L518.0,1917.5 L519.5,1918.0 L521.0,1918.4 L522.5,1918.9 L524.0,1919.3 L525.5,1919.8 L527.0,1920.2 L528.5,1920.7 L530.0,1921.1 L531.5,1921.6 L533.0,1922.1 L534.5,1922.5 L536.0,1923.0 L537.5,1923.4 L539.0,1923.9 L540.5,1924.4 L542.0,1924.8 L543.5,1925.3 L545.0,1925.8 L546.5,1926.2 L548.0,1926.7 L549.5,1927.2 L551.0,1927.6 L552.5,1928.1 L554.0,1928.6 L555.5,1929.1 L557.0,1929.5 L558.5,1930.0 L560.0,1930.5 L561.5,1931.0 L563.0,1931.5 L564.5,1931.9 L566.0,1932.4 L567.5,1932.9 L569.0,1933.4 L570.5,1933.9 L572.0,1934.4 L573.5,1934.8 L575.0,1935.3 L576.5,1935.8 L578.0,1936.3 L579.5,1936.8 L581.0,1937.3 L582.5,1937.8 L584.0,1938.3 L585.5,1938.8 L587.0,1939.3 L588.5,1939.8 L590.0,1940.3 L591.5,1940.8 L593.0,1941.3 L594.5,1941.8 L596.0,1942.3 L597.5,1942.8 L599.0,1943.4 L600.5,1943.9 L602.0,1944.4 L603.5,1944.9 L605.0,1945.4 L606.5,1946.0 L608.0,1946.5 L609.5,1947.0 L611.0,1947.5 L612.5,1948.1 L614.0,1948.6 L615.5,1949.1 L617.0,1949.7 L618.5,1950.2 L620.0,1950.8 L621.5,1951.3 L623.0,1951.8 L624.5,1952.4 L626.0,1952.9 L627.5,1953.5 L629.0,1954.1 L630.5,1954.6 L632.0,1955.2 L633.5,1955.8 L635.0,1956.3 L636.5,1956.9 L638.0,1957.5 L639.5,1958.0 L641.0,1958.6 L642.5,1959.2 L644.0,1959.8 L645.5,1960.4 L647.0,1961.0 L648.5,1961.6 L650.0,1962.2 L651.5,1962.8 L653.0,1963.4 L654.5,1964.0 L656.0,1964.6 L657.5,1965.3 L659.0,1965.9 L660.5,1966.5 L662.0,1967.2 L663.5,1967.8 L665.0,1968.4 L666.5,1969.1 L668.0,1969.7 L669.5,1970.4 L671.0,1971.1 L672.5,1971.7 L674.0,1972.4 L675.5,1973.1 L677.0,1973.7 L678.5,1974.4 L680.0,1975.1 L681.5,1975.8 L683.0,1976.5 L684.5,1977.2 L686.0,1977.9 L687.5,1978.6 L689.0,1979.4 L690.5,1980.1 L692.0,1980.8 L693.5,1981.5 L695.0,1982.3 L696.5,1983.0 L698.0,1983.8 L699.5,1984.5 L701.0,1985.3 L702.5,1986.1 L704.0,1986.9 L705.5,1987.6 L707.0,1988.4 L708.5,1989.2 L710.0,1990.0 L711.5,1990.8 L713.0,1991.6 L714.5,1992.4 L716.0,1993.3 L717.5,1994.1 L719.0,1994.9 L720.5,1995.7 L722.0,1996.6 L723.5,1997.4 L725.0,1998.3 L726.5,1999.2 L728.0,2000.0 L729.5,2000.9 L731.0,2001.8 L732.5,2002.7 L734.0,2003.5 L735.5,2004.4 L737.0,2005.3 L738.5,2006.3 L740.0,2007.2 L741.5,2008.1 L743.0,2009.0 L744.5,2009.9 L746.0,2010.9 L747.5,2011.8 L749.0,2012.8 L750.5,2013.7 L752.0,2014.7 L753.5,2015.6 L755.0,2016.6 L756.5,2017.6 L758.0,2018.5 L759.5,2019.5 L761.0,2020.5 L762.5,2021.5 L764.0,2022.5 L765.5,2023.5 L767.0,2024.5 L768.5,2025.5 L770.0,2026.5 L771.5,2027.6 L773.0,2028.6 L774.5,2029.6 L776.0,2030.6 L777.5,2031.7 L779.0,2032.7 L780.5,2033.7 L782.0,2034.8 L783.5,2035.8 L785.0,2036.9 L786.5,2037.9 L788.0,2039.0 L789.5,2040.1 L791.0,2041.1 L792.5,2042.2 L794.0,2043.3 L795.5,2044.3 L797.0,2045.4 L798.5,2046.5 L800.0,2047.5 L801.5,2048.6 L803.0,2049.7 L804.5,2050.8 L806.0,2051.9 L807.5,2052.9 L809.0,2054.0 L810.5,2055.1 L812.0,2056.2 L813.5,2057.3 L815.0,2058.4 L816.5,2059.4 L818.0,2060.5 L819.5,2061.6 L821.0,2062.7 L822.5,2063.8 L824.0,2064.9 L825.5,2065.9 L827.0,2067.0 L828.5,2068.1 L830.0,2069.2 L831.5,2070.2 L833.0,2071.3 L834.5,2072.4 L836.0,2073.4 L837.5,2074.5 L839.0,2075.6 L840.5,2076.6 L842.0,2077.7 L843.5,2078.7 L845.0,2079.8 L846.5,2080.8 L848.0,2081.9 L849.5,2082.9 L851.0,2084.0 L852.5,2085.0 L854.0,2086.0 L855.5,2087.0 L857.0,2088.1 L858.5,2089.1 L860.0,2090.1 L861.5,2091.1 L863.0,2092.1 L864.5,2093.1 L866.0,2094.1 L867.5,2095.0 L869.0,2096.0 L870.5,2097.0 L872.0,2098.0 L873.5,2098.9 L875.0,2099.9 L876.5,2100.8 L878.0,2101.7 L879.5,2102.7 L881.0,2103.6 L882.5,2104.5 L884.0,2105.4 L885.5,2106.3 L887.0,2107.2 L888.5,2108.1 L890.0,2109.0 L891.5,2109.9 L893.0,2110.7 L894.5,2111.6 L896.0,2112.5 L897.5,2113.3 L899.0,2114.1 L900.5,2115.0 L902.0,2115.8 L903.5,2116.6 L905.0,2117.4 L906.5,2118.2 L908.0,2119.0 L909.5,2119.8 L911.0,2120.5 L912.5,2121.3 L914.0,2122.0 L915.5,2122.8 L917.0,2123.5 L918.5,2124.2 L920.0,2125.0 L921.5,2125.7 L923.0,2126.4 L924.5,2127.1 L926.0,2127.8 L927.5,2128.4 L929.0,2129.1 L930.5,2129.7 L932.0,2130.4 L933.5,2131.0 L935.0,2131.7 L936.5,2132.3 L938.0,2132.9 L939.5,2133.5 L941.0,2134.1 L942.5,2134.7 L944.0,2135.3 L945.5,2135.8 L947.0,2136.4 L948.5,2136.9 L950.0,2137.5 L951.5,2138.0 L953.0,2138.5 L954.5,2139.1 L956.0,2139.6 L957.5,2140.1 L959.0,2140.6 L960.5,2141.0 L962.0,2141.5 L963.5,2142.0 L965.0,2142.4 L966.5,2142.9 L968.0,2143.3 L969.5,2143.8 L971.0,2144.2 L972.5,2144.6 L974.0,2145.0 L975.5,2145.4 L977.0,2145.8 L978.5,2146.2 L980.0,2146.6 L981.5,2147.0 L983.0,2147.3 L984.5,2147.7 L986.0,2148.0 L987.5,2148.4 L989.0,2148.7 L990.5,2149.1 L992.0,2149.4 L993.5,2149.7 L995.0,2150.0 L996.5,2150.3 L998.0,2150.6 L999.5,2150.9 L1001.0,2151.2 L1002.5,2151.5 L1004.0,2151.7 L1005.5,2152.0 L1007.0,2152.3 L1008.5,2152.5 L1010.0,2152.8 L1011.5,2153.0 L1013.0,2153.2 L1014.5,2153.5 L1016.0,2153.7 L1017.5,2153.9 L1019.0,2154.1 L1020.5,2154.3 L1022.0,2154.5 L1023.5,2154.7 L1025.0,2154.9 L1026.5,2155.1 L1028.0,2155.3 L1029.5,2155.5 L1031.0,2155.7 L1032.5,2155.8 L1034.0,2156.0 L1035.5,2156.2 L1037.0,2156.3 L1038.5,2156.5 L1040.0,2156.6 L1041.5,2156.8 L1043.0,2156.9 L1044.5,2157.1 L1046.0,2157.2 L1047.5,2157.3 L1049.0,2157.4 L1050.5,2157.6 L1052.0,2157.7 L1053.5,2157.8 L1055.0,2157.9 L1056.5,2158.0 L1058.0,2158.1 L1059.5,2158.2 L1061.0,2158.3 L1062.5,2158.4 L1064.0,2158.5 L1065.5,2158.6 L1067.0,2158.7 L1068.5,2158.8 L1070.0,2158.9 L1071.5,2159.0 L1073.0,2159.0 L1074.5,2159.1 L1076.0,2159.2 L1077.5,2159.3 L1079.0,2159.3 L1080.5,2159.4 L1082.0,2159.5 L1083.5,2159.5 L1085.0,2159.6 L1086.5,2159.7 L1088.0,2159.7 L1089.5,2159.8 L1091.0,2159.8 L1092.5,2159.9 L1094.0,2159.9 L1095.5,2160.0 L1097.0,2160.0 L1098.5,2160.1 L1100.0,2160.1 L1101.5,2160.2 L1103.0,2160.2 L1104.5,2160.2 L1106.0,2160.3 L1107.5,2160.3 L1109.0,2160.3 L1110.5,2160.4 L1112.0,2160.4 L1113.5,2160.4 L1115.0,2160.5 L1116.5,2160.5 L1118.0,2160.5 L1119.5,2160.6 L1121.0,2160.6 L1122.5,2160.6 L1124.0,2160.6 L1125.5,2160.7 L1127.0,2160.7 L1128.5,2160.7 L1130.0,2160.7 L1131.5,2160.7 L1133.0,2160.8 L1134.5,2160.8 L1136.0,2160.8 L1137.5,2160.8 L1139.0,2160.8 L1140.5,2160.9 L1142.0,2160.9 L1143.5,2160.9 L1145.0,2160.9 L1146.5,2160.9 L1148.0,2160.9 L1149.5,2160.9 L1151.0,2161.0 L1152.5,2161.0 L1154.0,2161.0 L1155.5,2161.0 L1157.0,2161.0 L1158.5,2161.0 L1160.0,2161.0 L1161.5,2161.0 L1163.0,2161.0 L1164.5,2161.0 L1166.0,2161.0 L1167.5,2161.1 L1169.0,2161.1 L1170.5,2161.1 L1172.0,2161.1 L1173.5,2161.1 L1175.0,2161.1 L1176.5,2161.1 L1178.0,2161.1 L1179.5,2161.1 L1181.0,2161.1 L1182.5,2161.1 L1184.0,2161.1 L1185.5,2161.1 L1187.0,2161.1 L1188.5,2161.1 L1190.0,2161.1 L1191.5,2161.1 L1193.0,2161.2 L1194.5,2161.2 L1196.0,2161.2 L1197.5,2161.2 L1199.0,2161.2 L1200.5,2161.2 L1202.0,2161.2 L1203.5,2161.2 L1205.0,2161.2 L1206.5,2161.2 L1208.0,2161.2 L1209.5,2161.2 L1211.0,2161.2 L1212.5,2161.2 L1214.0,2161.2 L1215.5,2161.2 L1217.0,2161.2 L1218.5,2161.2 L1220.0,2161.2 L1221.5,2161.2 L1223.0,2161.2 L1224.5,2161.2 L1226.0,2161.2 L1227.5,2161.2 L1229.0,2161.2 L1230.5,2161.2 L1232.0,2161.2 L1233.5,2161.2 L1235.0,2161.2 L1236.5,2161.2 L1238.0,2161.2 L1239.5,2161.2 L1241.0,2161.2 L1242.5,2161.2 L1244.0,2161.2 L1245.5,2161.2 L1247.0,2161.2 L1248.5,2161.2 L1250.0,2161.2 L1251.5,2161.2 L1253.0,2161.2 L1254.5,2161.2 L1256.0,2161.2 L1257.5,2161.2 L1259.0,2161.2 L1260.5,2161.2 L1262.0,2161.2 L1263.5,2161.2 L1265.0,2161.2 L1266.5,2161.2 L1268.0,2161.2 L1269.5,2161.2 L1271.0,2161.2 L1272.5,2161.2 L1274.0,2161.2 L1275.5,2161.2 L1277.0,2161.2 L1278.5,2161.2 L1280.0,2161.2 L1281.5,2161.2 L1283.0,2161.2 L1284.5,2161.2 L1286.0,2161.2 L1287.5,2161.2 L1289.0,2161.2 L1290.5,2161.2 L1292.0,2161.2 L1293.5,2161.2 L1295.0,2161.2 L1296.5,2161.2 L1298.0,2161.2 L1299.5,2161.2 L1301.0,2161.2 L1302.5,2161.2 L1304.0,2161.2 L1305.5,2161.2 L1307.0,2161.2 L1308.5,2161.2 L1310.0,2161.2 L1311.5,2161.2 L1313.0,2161.2 L1314.5,2161.2 L1316.0,2161.2 L1317.5,2161.2 L1319.0,2161.2 L1320.5,2161.2 L1322.0,2161.2 L1323.5,2161.2 L1325.0,2161.2 L1326.5,2161.2 L1328.0,2161.2 L1329.5,2161.2 L1331.0,2161.2 L1332.5,2161.2 L1334.0,2161.2 L1335.5,2161.2 L1337.0,2161.2 L1338.5,2161.2 L1340.0,2161.2 L1341.5,2161.2 L1343.0,2161.2 L1344.5,2161.2 L1346.0,2161.2 L1347.5,2161.2 L1349.0,2161.2 L1350.5,2161.2 L1352.0,2161.2 L1353.5,2161.2 L1355.0,2161.2 L1356.5,2161.2 L1358.0,2161.2 L1359.5,2161.2 L1361.0,2161.2 L1362.5,2161.2 L1364.0,2161.2 L1365.5,2161.2 L1367.0,2161.2 L1368.5,2161.2 L1370.0,2161.2 L1371.5,2161.2" fill="none" stroke="#2f7ee8" stroke-width="3.7"/>
<path d="M144.5,1857.3 L146.0,1857.2 L147.5,1857.2 L149.0,1857.1 L150.5,1857.1 L152.0,1857.0 L153.5,1857.0 L155.0,1856.9 L156.5,1856.9 L158.0,1856.8 L159.5,1856.7 L161.0,1856.7 L162.5,1856.6 L164.0,1856.5 L165.5,1856.4 L167.0,1856.3 L168.5,1856.2 L170.0,1856.1 L171.5,1856.0 L173.0,1855.9 L174.5,1855.8 L176.0,1855.7 L177.5,1855.6 L179.0,1855.4 L180.5,1855.3 L182.0,1855.2 L183.5,1855.0 L185.0,1854.9 L186.5,1854.7 L188.0,1854.6 L189.5,1854.4 L191.0,1854.2 L192.5,1854.0 L194.0,1853.8 L195.5,1853.6 L197.0,1853.4 L198.5,1853.2 L200.0,1853.0 L201.5,1852.8 L203.0,1852.5 L204.5,1852.3 L206.0,1852.0 L207.5,1851.8 L209.0,1851.5 L210.5,1851.2 L212.0,1850.9 L213.5,1850.6 L215.0,1850.3 L216.5,1850.0 L218.0,1849.6 L219.5,1849.3 L221.0,1848.9 L222.5,1848.5 L224.0,1848.2 L225.5,1847.8 L227.0,1847.4 L228.5,1846.9 L230.0,1846.5 L231.5,1846.1 L233.0,1845.6 L234.5,1845.1 L236.0,1844.6 L237.5,1844.1 L239.0,1843.6 L240.5,1843.1 L242.0,1842.5 L243.5,1842.0 L245.0,1841.4 L246.5,1840.8 L248.0,1840.2 L249.5,1839.6 L251.0,1838.9 L252.5,1838.3 L254.0,1837.6 L255.5,1836.9 L257.0,1836.2 L258.5,1835.5 L260.0,1834.7 L261.5,1834.0 L263.0,1833.2 L264.5,1832.4 L266.0,1831.6 L267.5,1830.8 L269.0,1829.9 L270.5,1829.0 L272.0,1828.1 L273.5,1827.2 L275.0,1826.3 L276.5,1825.3 L278.0,1824.4 L279.5,1823.4 L281.0,1822.4 L282.5,1821.3 L284.0,1820.3 L285.5,1819.2 L287.0,1818.1 L288.5,1817.0 L290.0,1815.9 L291.5,1814.7 L293.0,1813.5 L294.5,1812.4 L296.0,1811.1 L297.5,1809.9 L299.0,1808.6 L300.5,1807.4 L302.0,1806.1 L303.5,1804.8 L305.0,1803.4 L306.5,1802.1 L308.0,1800.7 L309.5,1799.3 L311.0,1797.9 L312.5,1796.4 L314.0,1795.0 L315.5,1793.5 L317.0,1792.0 L318.5,1790.5 L320.0,1788.9 L321.5,1787.4 L323.0,1785.8 L324.5,1784.2 L326.0,1782.6 L327.5,1780.9 L329.0,1779.3 L330.5,1777.6 L332.0,1776.0 L333.5,1774.3 L335.0,1772.5 L336.5,1770.8 L338.0,1769.1 L339.5,1767.3 L341.0,1765.5 L342.5,1763.7 L344.0,1761.9 L345.5,1760.1 L347.0,1758.3 L348.5,1756.4 L350.0,1754.6 L351.5,1752.7 L353.0,1750.8 L354.5,1748.9 L356.0,1747.0 L357.5,1745.1 L359.0,1743.2 L360.5,1741.3 L362.0,1739.3 L363.5,1737.4 L365.0,1735.4 L366.5,1733.5 L368.0,1731.5 L369.5,1729.6 L371.0,1727.6 L372.5,1725.6 L374.0,1723.6 L375.5,1721.7 L377.0,1719.7 L378.5,1717.7 L380.0,1715.7 L381.5,1713.7 L383.0,1711.7 L384.5,1709.8 L386.0,1707.8 L387.5,1705.8 L389.0,1703.8 L390.5,1701.9 L392.0,1699.9 L393.5,1697.9 L395.0,1696.0 L396.5,1694.0 L398.0,1692.1 L399.5,1690.2 L401.0,1688.3 L402.5,1686.4 L404.0,1684.5 L405.5,1682.6 L407.0,1680.7 L408.5,1678.9 L410.0,1677.0 L411.5,1675.2 L413.0,1673.4 L414.5,1671.6 L416.0,1669.8 L417.5,1668.0 L419.0,1666.3 L420.5,1664.5 L422.0,1662.8 L423.5,1661.1 L425.0,1659.5 L426.5,1657.8 L428.0,1656.2 L429.5,1654.6 L431.0,1653.0 L432.5,1651.4 L434.0,1649.9 L435.5,1648.4 L437.0,1646.9 L438.5,1645.4 L440.0,1644.0 L441.5,1642.6 L443.0,1641.2 L444.5,1639.9 L446.0,1638.6 L447.5,1637.3 L449.0,1636.0 L450.5,1634.8 L452.0,1633.6 L453.5,1632.5 L455.0,1631.3 L456.5,1630.3 L458.0,1629.2 L459.5,1628.2 L461.0,1627.2 L462.5,1626.2 L464.0,1625.3 L465.5,1624.4 L467.0,1623.6 L468.5,1622.8 L470.0,1622.0 L471.5,1621.3 L473.0,1620.6 L474.5,1619.9 L476.0,1619.3 L477.5,1618.7 L479.0,1618.1 L480.5,1617.6 L482.0,1617.2 L483.5,1616.8 L485.0,1616.4 L486.5,1616.0 L488.0,1615.7 L489.5,1615.5 L491.0,1615.2 L492.5,1615.1 L494.0,1614.9 L495.5,1614.8 L497.0,1614.8 L498.5,1614.7 L500.0,1614.8 L501.5,1614.8 L503.0,1614.9 L504.5,1615.1 L506.0,1615.3 L507.5,1615.5 L509.0,1615.8 L510.5,1616.1 L512.0,1616.4 L513.5,1616.8 L515.0,1617.3 L516.5,1617.7 L518.0,1618.3 L519.5,1618.8 L521.0,1619.4 L522.5,1620.0 L524.0,1620.7 L525.5,1621.4 L527.0,1622.1 L528.5,1622.9 L530.0,1623.7 L531.5,1624.6 L533.0,1625.5 L534.5,1626.4 L536.0,1627.3 L537.5,1628.3 L539.0,1629.3 L540.5,1630.4 L542.0,1631.5 L543.5,1632.6 L545.0,1633.7 L546.5,1634.8 L548.0,1636.0 L549.5,1637.2 L551.0,1638.4 L552.5,1639.7 L554.0,1640.9 L555.5,1642.2 L557.0,1643.5 L558.5,1644.8 L560.0,1646.1 L561.5,1647.4 L563.0,1648.8 L564.5,1650.1 L566.0,1651.4 L567.5,1652.8 L569.0,1654.1 L570.5,1655.4 L572.0,1656.8 L573.5,1658.1 L575.0,1659.4 L576.5,1660.7 L578.0,1662.0 L579.5,1663.2 L581.0,1664.5 L582.5,1665.7 L584.0,1666.9 L585.5,1668.0 L587.0,1669.2 L588.5,1670.3 L590.0,1671.3 L591.5,1672.3 L593.0,1673.3 L594.5,1674.3 L596.0,1675.1 L597.5,1676.0 L599.0,1676.8 L600.5,1677.5 L602.0,1678.2 L603.5,1678.9 L605.0,1679.4 L606.5,1679.9 L608.0,1680.4 L609.5,1680.8 L611.0,1681.1 L612.5,1681.3 L614.0,1681.5 L615.5,1681.6 L617.0,1681.6 L618.5,1681.6 L620.0,1681.5 L621.5,1681.3 L623.0,1681.0 L624.5,1680.6 L626.0,1680.2 L627.5,1679.7 L629.0,1679.1 L630.5,1678.4 L632.0,1677.6 L633.5,1676.7 L635.0,1675.8 L636.5,1674.7 L638.0,1673.6 L639.5,1672.4 L641.0,1671.1 L642.5,1669.7 L644.0,1668.2 L645.5,1666.6 L647.0,1665.0 L648.5,1663.2 L650.0,1661.4 L651.5,1659.4 L653.0,1657.4 L654.5,1655.3 L656.0,1653.1 L657.5,1650.9 L659.0,1648.5 L660.5,1646.1 L662.0,1643.5 L663.5,1640.9 L665.0,1638.3 L666.5,1635.5 L668.0,1632.7 L669.5,1629.7 L671.0,1626.8 L672.5,1623.7 L674.0,1620.6 L675.5,1617.4 L677.0,1614.1 L678.5,1610.8 L680.0,1607.4 L681.5,1604.0 L683.0,1600.5 L684.5,1596.9 L686.0,1593.3 L687.5,1589.7 L689.0,1586.0 L690.5,1582.3 L692.0,1578.5 L693.5,1574.7 L695.0,1570.8 L696.5,1567.0 L698.0,1563.1 L699.5,1559.1 L701.0,1555.2 L702.5,1551.2 L704.0,1547.2 L705.5,1543.2 L707.0,1539.2 L708.5,1535.2 L710.0,1531.2 L711.5,1527.2 L713.0,1523.2 L714.5,1519.2 L716.0,1515.3 L717.5,1511.3 L719.0,1507.4 L720.5,1503.4 L722.0,1499.6 L723.5,1495.7 L725.0,1491.9 L726.5,1488.1 L728.0,1484.4 L729.5,1480.7 L731.0,1477.0 L732.5,1473.4 L734.0,1469.9 L735.5,1466.4 L737.0,1463.0 L738.5,1459.6 L740.0,1456.4 L741.5,1453.1 L743.0,1450.0 L744.5,1447.0 L746.0,1444.0 L747.5,1441.1 L749.0,1438.3 L750.5,1435.6 L752.0,1432.9 L753.5,1430.4 L755.0,1428.0 L756.5,1425.6 L758.0,1423.4 L759.5,1421.3 L761.0,1419.2 L762.5,1417.3 L764.0,1415.5 L765.5,1413.8 L767.0,1412.2 L768.5,1410.8 L770.0,1409.4 L771.5,1408.1 L773.0,1407.0 L774.5,1406.0 L776.0,1405.1 L777.5,1404.3 L779.0,1403.6 L780.5,1403.1 L782.0,1402.6 L783.5,1402.3 L785.0,1402.1 L786.5,1402.0 L788.0,1402.0 L789.5,1402.1 L791.0,1402.4 L792.5,1402.7 L794.0,1403.1 L795.5,1403.7 L797.0,1404.3 L798.5,1405.0 L800.0,1405.8 L801.5,1406.7 L803.0,1407.6 L804.5,1408.7 L806.0,1409.7 L807.5,1410.9 L809.0,1412.1 L810.5,1413.4 L812.0,1414.7 L813.5,1416.0 L815.0,1417.4 L816.5,1418.8 L818.0,1420.2 L819.5,1421.6 L821.0,1423.1 L822.5,1424.5 L824.0,1426.1 L825.5,1427.6 L827.0,1429.2 L828.5,1430.9 L830.0,1432.7 L831.5,1434.7 L833.0,1436.8 L834.5,1439.2 L836.0,1441.8 L837.5,1444.7 L839.0,1448.0 L840.5,1451.6 L842.0,1455.6 L843.5,1460.0 L845.0,1464.7 L846.5,1469.8 L848.0,1475.2 L849.5,1480.8 L851.0,1486.6 L852.5,1492.6 L854.0,1498.7 L855.5,1504.9 L857.0,1511.1 L858.5,1517.3 L860.0,1523.5 L861.5,1529.6 L863.0,1535.7 L864.5,1541.7 L866.0,1547.6 L867.5,1553.5 L869.0,1559.3 L870.5,1565.0 L872.0,1570.6 L873.5,1576.1 L875.0,1581.6 L876.5,1587.0 L878.0,1592.3 L879.5,1597.6 L881.0,1602.8 L882.5,1607.9 L884.0,1613.0 L885.5,1618.1 L887.0,1623.0 L888.5,1628.0 L890.0,1632.8 L891.5,1637.7 L893.0,1642.5 L894.5,1647.2 L896.0,1652.0 L897.5,1656.7 L899.0,1661.3 L900.5,1666.0 L902.0,1670.6 L903.5,1675.2 L905.0,1679.8 L906.5,1684.3 L908.0,1688.8 L909.5,1693.4 L911.0,1697.9 L912.5,1702.4 L914.0,1706.9 L915.5,1711.4 L917.0,1715.9 L918.5,1720.4 L920.0,1724.9 L921.5,1729.4 L923.0,1733.9 L924.5,1738.5 L926.0,1743.0 L927.5,1747.5 L929.0,1752.1 L930.5,1756.7 L932.0,1761.3 L933.5,1765.9 L935.0,1770.6 L936.5,1775.2 L938.0,1779.9 L939.5,1784.6 L941.0,1789.3 L942.5,1794.1 L944.0,1798.9 L945.5,1803.7 L947.0,1808.6 L948.5,1813.4 L950.0,1818.3 L951.5,1823.2 L953.0,1828.2 L954.5,1833.1 L956.0,1838.1 L957.5,1843.2 L959.0,1848.2 L960.5,1853.3 L962.0,1858.3 L963.5,1863.4 L965.0,1868.5 L966.5,1873.7 L968.0,1878.8 L969.5,1884.0 L971.0,1889.1 L972.5,1894.3 L974.0,1899.5 L975.5,1904.6 L977.0,1909.8 L978.5,1915.0 L980.0,1920.1 L981.5,1925.3 L983.0,1930.4 L984.5,1935.5 L986.0,1940.6 L987.5,1945.7 L989.0,1950.7 L990.5,1955.8 L992.0,1960.8 L993.5,1965.7 L995.0,1970.7 L996.5,1975.5 L998.0,1980.4 L999.5,1985.2 L1001.0,1989.9 L1002.5,1994.6 L1004.0,1999.3 L1005.5,2003.9 L1007.0,2008.4 L1008.5,2012.9 L1010.0,2017.3 L1011.5,2021.7 L1013.0,2026.0 L1014.5,2030.2 L1016.0,2034.3 L1017.5,2038.4 L1019.0,2042.4 L1020.5,2046.3 L1022.0,2050.2 L1023.5,2053.9 L1025.0,2057.6 L1026.5,2061.3 L1028.0,2064.8 L1029.5,2068.3 L1031.0,2071.6 L1032.5,2074.9 L1034.0,2078.1 L1035.5,2081.3 L1037.0,2084.3 L1038.5,2087.3 L1040.0,2090.2 L1041.5,2093.0 L1043.0,2095.7 L1044.5,2098.4 L1046.0,2100.9 L1047.5,2103.4 L1049.0,2105.8 L1050.5,2108.2 L1052.0,2110.4 L1053.5,2112.6 L1055.0,2114.7 L1056.5,2116.8 L1058.0,2118.7 L1059.5,2120.6 L1061.0,2122.5 L1062.5,2124.2 L1064.0,2125.9 L1065.5,2127.5 L1067.0,2129.1 L1068.5,2130.6 L1070.0,2132.1 L1071.5,2133.4 L1073.0,2134.8 L1074.5,2136.1 L1076.0,2137.3 L1077.5,2138.4 L1079.0,2139.6 L1080.5,2140.6 L1082.0,2141.7 L1083.5,2142.6 L1085.0,2143.6 L1086.5,2144.5 L1088.0,2145.3 L1089.5,2146.1 L1091.0,2146.9 L1092.5,2147.6 L1094.0,2148.3 L1095.5,2149.0 L1097.0,2149.6 L1098.5,2150.2 L1100.0,2150.8 L1101.5,2151.3 L1103.0,2151.8 L1104.5,2152.3 L1106.0,2152.8 L1107.5,2153.2 L1109.0,2153.6 L1110.5,2154.0 L1112.0,2154.4 L1113.5,2154.8 L1115.0,2155.1 L1116.5,2155.4 L1118.0,2155.7 L1119.5,2156.0 L1121.0,2156.3 L1122.5,2156.5 L1124.0,2156.7 L1125.5,2157.0 L1127.0,2157.2 L1128.5,2157.4 L1130.0,2157.6 L1131.5,2157.8 L1133.0,2157.9 L1134.5,2158.1 L1136.0,2158.2 L1137.5,2158.4 L1139.0,2158.5 L1140.5,2158.6 L1142.0,2158.7 L1143.5,2158.9 L1145.0,2159.0 L1146.5,2159.1 L1148.0,2159.2 L1149.5,2159.2 L1151.0,2159.3 L1152.5,2159.4 L1154.0,2159.5 L1155.5,2159.6 L1157.0,2159.6 L1158.5,2159.7 L1160.0,2159.7 L1161.5,2159.8 L1163.0,2159.8 L1164.5,2159.9 L1166.0,2159.9 L1167.5,2160.0 L1169.0,2160.0 L1170.5,2160.1 L1172.0,2160.1 L1173.5,2160.1 L1175.0,2160.2 L1176.5,2160.2 L1178.0,2160.2 L1179.5,2160.3 L1181.0,2160.3 L1182.5,2160.3 L1184.0,2160.3 L1185.5,2160.4 L1187.0,2160.4 L1188.5,2160.4 L1190.0,2160.4 L1191.5,2160.4 L1193.0,2160.4 L1194.5,2160.5 L1196.0,2160.5 L1197.5,2160.5 L1199.0,2160.5 L1200.5,2160.5 L1202.0,2160.5 L1203.5,2160.5 L1205.0,2160.6 L1206.5,2160.6 L1208.0,2160.6 L1209.5,2160.6 L1211.0,2160.6 L1212.5,2160.6 L1214.0,2160.6 L1215.5,2160.6 L1217.0,2160.6 L1218.5,2160.6 L1220.0,2160.7 L1221.5,2160.7 L1223.0,2160.7 L1224.5,2160.7 L1226.0,2160.7 L1227.5,2160.7 L1229.0,2160.7 L1230.5,2160.7 L1232.0,2160.7 L1233.5,2160.7 L1235.0,2160.7 L1236.5,2160.7 L1238.0,2160.7 L1239.5,2160.7 L1241.0,2160.7 L1242.5,2160.7 L1244.0,2160.7 L1245.5,2160.7 L1247.0,2160.7 L1248.5,2160.8 L1250.0,2160.8 L1251.5,2160.8 L1253.0,2160.8 L1254.5,2160.8 L1256.0,2160.8 L1257.5,2160.8 L1259.0,2160.8 L1260.5,2160.8 L1262.0,2160.8 L1263.5,2160.8 L1265.0,2160.8 L1266.5,2160.8 L1268.0,2160.8 L1269.5,2160.8 L1271.0,2160.8 L1272.5,2160.8 L1274.0,2160.8 L1275.5,2160.8 L1277.0,2160.8 L1278.5,2160.8 L1280.0,2160.8 L1281.5,2160.8 L1283.0,2160.8 L1284.5,2160.8 L1286.0,2160.8 L1287.5,2160.8 L1289.0,2160.8 L1290.5,2160.8 L1292.0,2160.8 L1293.5,2160.8 L1295.0,2160.8 L1296.5,2160.8 L1298.0,2160.8 L1299.5,2160.8 L1301.0,2160.8 L1302.5,2160.9 L1304.0,2160.9 L1305.5,2160.9 L1307.0,2160.9 L1308.5,2160.9 L1310.0,2160.9 L1311.5,2160.9 L1313.0,2160.9 L1314.5,2160.9 L1316.0,2160.9 L1317.5,2160.9 L1319.0,2160.9 L1320.5,2160.9 L1322.0,2160.9 L1323.5,2160.9 L1325.0,2160.9 L1326.5,2160.9 L1328.0,2160.9 L1329.5,2160.9 L1331.0,2160.9 L1332.5,2160.9 L1334.0,2160.9 L1335.5,2160.9 L1337.0,2160.9 L1338.5,2160.9 L1340.0,2160.9 L1341.5,2160.9 L1343.0,2160.9 L1344.5,2160.9 L1346.0,2160.9 L1347.5,2160.9 L1349.0,2160.9 L1350.5,2160.9 L1352.0,2160.9 L1353.5,2160.9 L1355.0,2160.9 L1356.5,2160.9 L1358.0,2160.9 L1359.5,2160.9 L1361.0,2160.9 L1362.5,2160.9 L1364.0,2160.9 L1365.5,2160.9 L1367.0,2160.9 L1368.5,2160.9 L1370.0,2160.9 L1371.5,2160.9" fill="none" stroke="#ff2a2a" stroke-width="3.9000000000000004" stroke-linejoin="round"/>
<path d="M144.5,1858.5 L146.0,1858.5 L147.5,1858.5 L149.0,1858.4 L150.5,1858.4 L152.0,1858.4 L153.5,1858.4 L155.0,1858.4 L156.5,1858.3 L158.0,1858.3 L159.5,1858.3 L161.0,1858.2 L162.5,1858.2 L164.0,1858.2 L165.5,1858.1 L167.0,1858.1 L168.5,1858.0 L170.0,1858.0 L171.5,1857.9 L173.0,1857.9 L174.5,1857.8 L176.0,1857.8 L177.5,1857.7 L179.0,1857.6 L180.5,1857.6 L182.0,1857.5 L183.5,1857.4 L185.0,1857.3 L186.5,1857.2 L188.0,1857.1 L189.5,1857.1 L191.0,1857.0 L192.5,1856.9 L194.0,1856.7 L195.5,1856.6 L197.0,1856.5 L198.5,1856.4 L200.0,1856.3 L201.5,1856.1 L203.0,1856.0 L204.5,1855.9 L206.0,1855.7 L207.5,1855.6 L209.0,1855.4 L210.5,1855.2 L212.0,1855.1 L213.5,1854.9 L215.0,1854.7 L216.5,1854.5 L218.0,1854.3 L219.5,1854.1 L221.0,1853.9 L222.5,1853.7 L224.0,1853.5 L225.5,1853.2 L227.0,1853.0 L228.5,1852.7 L230.0,1852.5 L231.5,1852.2 L233.0,1851.9 L234.5,1851.6 L236.0,1851.3 L237.5,1851.0 L239.0,1850.7 L240.5,1850.4 L242.0,1850.1 L243.5,1849.7 L245.0,1849.4 L246.5,1849.0 L248.0,1848.6 L249.5,1848.2 L251.0,1847.8 L252.5,1847.4 L254.0,1847.0 L255.5,1846.6 L257.0,1846.1 L258.5,1845.7 L260.0,1845.2 L261.5,1844.7 L263.0,1844.2 L264.5,1843.7 L266.0,1843.2 L267.5,1842.7 L269.0,1842.1 L270.5,1841.6 L272.0,1841.0 L273.5,1840.4 L275.0,1839.8 L276.5,1839.2 L278.0,1838.6 L279.5,1837.9 L281.0,1837.3 L282.5,1836.6 L284.0,1835.9 L285.5,1835.2 L287.0,1834.5 L288.5,1833.7 L290.0,1833.0 L291.5,1832.2 L293.0,1831.4 L294.5,1830.6 L296.0,1829.8 L297.5,1829.0 L299.0,1828.1 L300.5,1827.3 L302.0,1826.4 L303.5,1825.5 L305.0,1824.6 L306.5,1823.6 L308.0,1822.7 L309.5,1821.7 L311.0,1820.7 L312.5,1819.7 L314.0,1818.7 L315.5,1817.7 L317.0,1816.6 L318.5,1815.6 L320.0,1814.5 L321.5,1813.4 L323.0,1812.3 L324.5,1811.1 L326.0,1810.0 L327.5,1808.8 L329.0,1807.7 L330.5,1806.5 L332.0,1805.2 L333.5,1804.0 L335.0,1802.8 L336.5,1801.5 L338.0,1800.2 L339.5,1798.9 L341.0,1797.6 L342.5,1796.3 L344.0,1794.9 L345.5,1793.6 L347.0,1792.2 L348.5,1790.8 L350.0,1789.4 L351.5,1788.0 L353.0,1786.6 L354.5,1785.2 L356.0,1783.7 L357.5,1782.3 L359.0,1780.8 L360.5,1779.3 L362.0,1777.8 L363.5,1776.3 L365.0,1774.8 L366.5,1773.2 L368.0,1771.7 L369.5,1770.1 L371.0,1768.6 L372.5,1767.0 L374.0,1765.4 L375.5,1763.9 L377.0,1762.3 L378.5,1760.7 L380.0,1759.1 L381.5,1757.5 L383.0,1755.8 L384.5,1754.2 L386.0,1752.6 L387.5,1751.0 L389.0,1749.4 L390.5,1747.7 L392.0,1746.1 L393.5,1744.5 L395.0,1742.8 L396.5,1741.2 L398.0,1739.6 L399.5,1738.0 L401.0,1736.3 L402.5,1734.7 L404.0,1733.1 L405.5,1731.5 L407.0,1729.9 L408.5,1728.3 L410.0,1726.7 L411.5,1725.1 L413.0,1723.5 L414.5,1721.9 L416.0,1720.4 L417.5,1718.8 L419.0,1717.3 L420.5,1715.8 L422.0,1714.3 L423.5,1712.8 L425.0,1711.3 L426.5,1709.8 L428.0,1708.3 L429.5,1706.9 L431.0,1705.5 L432.5,1704.1 L434.0,1702.7 L435.5,1701.3 L437.0,1700.0 L438.5,1698.7 L440.0,1697.4 L441.5,1696.1 L443.0,1694.8 L444.5,1693.6 L446.0,1692.4 L447.5,1691.2 L449.0,1690.0 L450.5,1688.9 L452.0,1687.8 L453.5,1686.7 L455.0,1685.7 L456.5,1684.7 L458.0,1683.7 L459.5,1682.8 L461.0,1681.8 L462.5,1680.9 L464.0,1680.1 L465.5,1679.3 L467.0,1678.5 L468.5,1677.7 L470.0,1677.0 L471.5,1676.3 L473.0,1675.7 L474.5,1675.1 L476.0,1674.5 L477.5,1674.0 L479.0,1673.5 L480.5,1673.0 L482.0,1672.6 L483.5,1672.2 L485.0,1671.9 L486.5,1671.6 L488.0,1671.3 L489.5,1671.1 L491.0,1670.9 L492.5,1670.8 L494.0,1670.7 L495.5,1670.6 L497.0,1670.6 L498.5,1670.7 L500.0,1670.7 L501.5,1670.9 L503.0,1671.0 L504.5,1671.2 L506.0,1671.5 L507.5,1671.8 L509.0,1672.1 L510.5,1672.5 L512.0,1672.9 L513.5,1673.4 L515.0,1673.9 L516.5,1674.4 L518.0,1675.0 L519.5,1675.7 L521.0,1676.4 L522.5,1677.1 L524.0,1677.9 L525.5,1678.7 L527.0,1679.5 L528.5,1680.4 L530.0,1681.4 L531.5,1682.3 L533.0,1683.4 L534.5,1684.4 L536.0,1685.5 L537.5,1686.7 L539.0,1687.9 L540.5,1689.1 L542.0,1690.4 L543.5,1691.7 L545.0,1693.0 L546.5,1694.4 L548.0,1695.8 L549.5,1697.3 L551.0,1698.8 L552.5,1700.3 L554.0,1701.9 L555.5,1703.5 L557.0,1705.1 L558.5,1706.8 L560.0,1708.5 L561.5,1710.2 L563.0,1712.0 L564.5,1713.8 L566.0,1715.6 L567.5,1717.5 L569.0,1719.4 L570.5,1721.3 L572.0,1723.3 L573.5,1725.2 L575.0,1727.2 L576.5,1729.3 L578.0,1731.3 L579.5,1733.4 L581.0,1735.5 L582.5,1737.7 L584.0,1739.8 L585.5,1742.0 L587.0,1744.2 L588.5,1746.4 L590.0,1748.6 L591.5,1750.9 L593.0,1753.2 L594.5,1755.5 L596.0,1757.8 L597.5,1760.1 L599.0,1762.4 L600.5,1764.8 L602.0,1767.2 L603.5,1769.5 L605.0,1771.9 L606.5,1774.4 L608.0,1776.8 L609.5,1779.2 L611.0,1781.6 L612.5,1784.1 L614.0,1786.6 L615.5,1789.0 L617.0,1791.5 L618.5,1794.0 L620.0,1796.5 L621.5,1798.9 L623.0,1801.4 L624.5,1803.9 L626.0,1806.4 L627.5,1808.9 L629.0,1811.4 L630.5,1813.9 L632.0,1816.4 L633.5,1819.0 L635.0,1821.5 L636.5,1824.0 L638.0,1826.5 L639.5,1829.0 L641.0,1831.5 L642.5,1834.0 L644.0,1836.5 L645.5,1838.9 L647.0,1841.4 L648.5,1843.9 L650.0,1846.4 L651.5,1848.8 L653.0,1851.3 L654.5,1853.7 L656.0,1856.2 L657.5,1858.6 L659.0,1861.1 L660.5,1863.5 L662.0,1865.9 L663.5,1868.3 L665.0,1870.7 L666.5,1873.1 L668.0,1875.4 L669.5,1877.8 L671.0,1880.2 L672.5,1882.5 L674.0,1884.8 L675.5,1887.2 L677.0,1889.5 L678.5,1891.8 L680.0,1894.0 L681.5,1896.3 L683.0,1898.6 L684.5,1900.8 L686.0,1903.1 L687.5,1905.3 L689.0,1907.5 L690.5,1909.7 L692.0,1911.9 L693.5,1914.1 L695.0,1916.2 L696.5,1918.4 L698.0,1920.5 L699.5,1922.6 L701.0,1924.7 L702.5,1926.8 L704.0,1928.9 L705.5,1931.0 L707.0,1933.0 L708.5,1935.1 L710.0,1937.1 L711.5,1939.1 L713.0,1941.1 L714.5,1943.1 L716.0,1945.1 L717.5,1947.0 L719.0,1949.0 L720.5,1950.9 L722.0,1952.8 L723.5,1954.8 L725.0,1956.7 L726.5,1958.5 L728.0,1960.4 L729.5,1962.3 L731.0,1964.1 L732.5,1966.0 L734.0,1967.8 L735.5,1969.6 L737.0,1971.4 L738.5,1973.2 L740.0,1975.0 L741.5,1976.7 L743.0,1978.5 L744.5,1980.2 L746.0,1982.0 L747.5,1983.7 L749.0,1985.4 L750.5,1987.1 L752.0,1988.8 L753.5,1990.5 L755.0,1992.1 L756.5,1993.8 L758.0,1995.4 L759.5,1997.1 L761.0,1998.7 L762.5,2000.3 L764.0,2001.9 L765.5,2003.5 L767.0,2005.1 L768.5,2006.7 L770.0,2008.3 L771.5,2009.8 L773.0,2011.4 L774.5,2012.9 L776.0,2014.5 L777.5,2016.0 L779.0,2017.5 L780.5,2019.0 L782.0,2020.5 L783.5,2022.0 L785.0,2023.5 L786.5,2025.0 L788.0,2026.4 L789.5,2027.9 L791.0,2029.3 L792.5,2030.8 L794.0,2032.2 L795.5,2033.6 L797.0,2035.1 L798.5,2036.5 L800.0,2037.9 L801.5,2039.3 L803.0,2040.7 L804.5,2042.0 L806.0,2043.4 L807.5,2044.8 L809.0,2046.1 L810.5,2047.5 L812.0,2048.8 L813.5,2050.2 L815.0,2051.5 L816.5,2052.8 L818.0,2054.1 L819.5,2055.4 L821.0,2056.7 L822.5,2058.0 L824.0,2059.3 L825.5,2060.6 L827.0,2061.9 L828.5,2063.1 L830.0,2064.4 L831.5,2065.6 L833.0,2066.9 L834.5,2068.1 L836.0,2069.3 L837.5,2070.6 L839.0,2071.8 L840.5,2073.0 L842.0,2074.2 L843.5,2075.4 L845.0,2076.5 L846.5,2077.7 L848.0,2078.9 L849.5,2080.0 L851.0,2081.2 L852.5,2082.3 L854.0,2083.4 L855.5,2084.6 L857.0,2085.7 L858.5,2086.8 L860.0,2087.9 L861.5,2089.0 L863.0,2090.1 L864.5,2091.1 L866.0,2092.2 L867.5,2093.3 L869.0,2094.3 L870.5,2095.3 L872.0,2096.4 L873.5,2097.4 L875.0,2098.4 L876.5,2099.4 L878.0,2100.4 L879.5,2101.4 L881.0,2102.4 L882.5,2103.4 L884.0,2104.3 L885.5,2105.3 L887.0,2106.2 L888.5,2107.1 L890.0,2108.1 L891.5,2109.0 L893.0,2109.9 L894.5,2110.8 L896.0,2111.7 L897.5,2112.5 L899.0,2113.4 L900.5,2114.3 L902.0,2115.1 L903.5,2116.0 L905.0,2116.8 L906.5,2117.6 L908.0,2118.4 L909.5,2119.2 L911.0,2120.0 L912.5,2120.8 L914.0,2121.6 L915.5,2122.4 L917.0,2123.1 L918.5,2123.9 L920.0,2124.6 L921.5,2125.3 L923.0,2126.0 L924.5,2126.7 L926.0,2127.4 L927.5,2128.1 L929.0,2128.8 L930.5,2129.5 L932.0,2130.1 L933.5,2130.8 L935.0,2131.4 L936.5,2132.1 L938.0,2132.7 L939.5,2133.3 L941.0,2133.9 L942.5,2134.5 L944.0,2135.1 L945.5,2135.7 L947.0,2136.2 L948.5,2136.8 L950.0,2137.3 L951.5,2137.9 L953.0,2138.4 L954.5,2138.9 L956.0,2139.5 L957.5,2140.0 L959.0,2140.5 L960.5,2140.9 L962.0,2141.4 L963.5,2141.9 L965.0,2142.4 L966.5,2142.8 L968.0,2143.3 L969.5,2143.7 L971.0,2144.1 L972.5,2144.6 L974.0,2145.0 L975.5,2145.4 L977.0,2145.8 L978.5,2146.2 L980.0,2146.5 L981.5,2146.9 L983.0,2147.3 L984.5,2147.7 L986.0,2148.0 L987.5,2148.4 L989.0,2148.7 L990.5,2149.0 L992.0,2149.4 L993.5,2149.7 L995.0,2150.0 L996.5,2150.3 L998.0,2150.6 L999.5,2150.9 L1001.0,2151.2 L1002.5,2151.4 L1004.0,2151.7 L1005.5,2152.0 L1007.0,2152.2 L1008.5,2152.5 L1010.0,2152.7 L1011.5,2153.0 L1013.0,2153.2 L1014.5,2153.5 L1016.0,2153.7 L1017.5,2153.9 L1019.0,2154.1 L1020.5,2154.3 L1022.0,2154.5 L1023.5,2154.7 L1025.0,2154.9 L1026.5,2155.1 L1028.0,2155.3 L1029.5,2155.5 L1031.0,2155.7 L1032.5,2155.8 L1034.0,2156.0 L1035.5,2156.2 L1037.0,2156.3 L1038.5,2156.5 L1040.0,2156.6 L1041.5,2156.8 L1043.0,2156.9 L1044.5,2157.1 L1046.0,2157.2 L1047.5,2157.3 L1049.0,2157.4 L1050.5,2157.6 L1052.0,2157.7 L1053.5,2157.8 L1055.0,2157.9 L1056.5,2158.0 L1058.0,2158.1 L1059.5,2158.2 L1061.0,2158.3 L1062.5,2158.4 L1064.0,2158.5 L1065.5,2158.6 L1067.0,2158.7 L1068.5,2158.8 L1070.0,2158.9 L1071.5,2159.0 L1073.0,2159.0 L1074.5,2159.1 L1076.0,2159.2 L1077.5,2159.3 L1079.0,2159.3 L1080.5,2159.4 L1082.0,2159.5 L1083.5,2159.5 L1085.0,2159.6 L1086.5,2159.7 L1088.0,2159.7 L1089.5,2159.8 L1091.0,2159.8 L1092.5,2159.9 L1094.0,2159.9 L1095.5,2160.0 L1097.0,2160.0 L1098.5,2160.1 L1100.0,2160.1 L1101.5,2160.1 L1103.0,2160.2 L1104.5,2160.2 L1106.0,2160.3 L1107.5,2160.3 L1109.0,2160.3 L1110.5,2160.4 L1112.0,2160.4 L1113.5,2160.4 L1115.0,2160.5 L1116.5,2160.5 L1118.0,2160.5 L1119.5,2160.6 L1121.0,2160.6 L1122.5,2160.6 L1124.0,2160.6 L1125.5,2160.7 L1127.0,2160.7 L1128.5,2160.7 L1130.0,2160.7 L1131.5,2160.7 L1133.0,2160.8 L1134.5,2160.8 L1136.0,2160.8 L1137.5,2160.8 L1139.0,2160.8 L1140.5,2160.9 L1142.0,2160.9 L1143.5,2160.9 L1145.0,2160.9 L1146.5,2160.9 L1148.0,2160.9 L1149.5,2160.9 L1151.0,2161.0 L1152.5,2161.0 L1154.0,2161.0 L1155.5,2161.0 L1157.0,2161.0 L1158.5,2161.0 L1160.0,2161.0 L1161.5,2161.0 L1163.0,2161.0 L1164.5,2161.0 L1166.0,2161.0 L1167.5,2161.1 L1169.0,2161.1 L1170.5,2161.1 L1172.0,2161.1 L1173.5,2161.1 L1175.0,2161.1 L1176.5,2161.1 L1178.0,2161.1 L1179.5,2161.1 L1181.0,2161.1 L1182.5,2161.1 L1184.0,2161.1 L1185.5,2161.1 L1187.0,2161.1 L1188.5,2161.1 L1190.0,2161.1 L1191.5,2161.1 L1193.0,2161.2 L1194.5,2161.2 L1196.0,2161.2 L1197.5,2161.2 L1199.0,2161.2 L1200.5,2161.2 L1202.0,2161.2 L1203.5,2161.2 L1205.0,2161.2 L1206.5,2161.2 L1208.0,2161.2 L1209.5,2161.2 L1211.0,2161.2 L1212.5,2161.2 L1214.0,2161.2 L1215.5,2161.2 L1217.0,2161.2 L1218.5,2161.2 L1220.0,2161.2 L1221.5,2161.2 L1223.0,2161.2 L1224.5,2161.2 L1226.0,2161.2 L1227.5,2161.2 L1229.0,2161.2 L1230.5,2161.2 L1232.0,2161.2 L1233.5,2161.2 L1235.0,2161.2 L1236.5,2161.2 L1238.0,2161.2 L1239.5,2161.2 L1241.0,2161.2 L1242.5,2161.2 L1244.0,2161.2 L1245.5,2161.2 L1247.0,2161.2 L1248.5,2161.2 L1250.0,2161.2 L1251.5,2161.2 L1253.0,2161.2 L1254.5,2161.2 L1256.0,2161.2 L1257.5,2161.2 L1259.0,2161.2 L1260.5,2161.2 L1262.0,2161.2 L1263.5,2161.2 L1265.0,2161.2 L1266.5,2161.2 L1268.0,2161.2 L1269.5,2161.2 L1271.0,2161.2 L1272.5,2161.2 L1274.0,2161.2 L1275.5,2161.2 L1277.0,2161.2 L1278.5,2161.2 L1280.0,2161.2 L1281.5,2161.2 L1283.0,2161.2 L1284.5,2161.2 L1286.0,2161.2 L1287.5,2161.2 L1289.0,2161.2 L1290.5,2161.2 L1292.0,2161.2 L1293.5,2161.2 L1295.0,2161.2 L1296.5,2161.2 L1298.0,2161.2 L1299.5,2161.2 L1301.0,2161.2 L1302.5,2161.2 L1304.0,2161.2 L1305.5,2161.2 L1307.0,2161.2 L1308.5,2161.2 L1310.0,2161.2 L1311.5,2161.2 L1313.0,2161.2 L1314.5,2161.2 L1316.0,2161.2 L1317.5,2161.2 L1319.0,2161.2 L1320.5,2161.2 L1322.0,2161.2 L1323.5,2161.2 L1325.0,2161.2 L1326.5,2161.2 L1328.0,2161.2 L1329.5,2161.2 L1331.0,2161.2 L1332.5,2161.2 L1334.0,2161.2 L1335.5,2161.2 L1337.0,2161.2 L1338.5,2161.2 L1340.0,2161.2 L1341.5,2161.2 L1343.0,2161.2 L1344.5,2161.2 L1346.0,2161.2 L1347.5,2161.2 L1349.0,2161.2 L1350.5,2161.2 L1352.0,2161.2 L1353.5,2161.2 L1355.0,2161.2 L1356.5,2161.2 L1358.0,2161.2 L1359.5,2161.2 L1361.0,2161.2 L1362.5,2161.2 L1364.0,2161.2 L1365.5,2161.2 L1367.0,2161.2 L1368.5,2161.2 L1370.0,2161.2 L1371.5,2161.2" fill="none" stroke="#16e0e0" stroke-width="3.7" stroke-linejoin="round"/>
<path d="M144.5,1859.5 L146.0,1859.6 L147.5,1859.6 L149.0,1859.7 L150.5,1859.7 L152.0,1859.7 L153.5,1859.8 L155.0,1859.8 L156.5,1859.9 L158.0,1859.9 L159.5,1860.0 L161.0,1860.0 L162.5,1860.1 L164.0,1860.1 L165.5,1860.1 L167.0,1860.2 L168.5,1860.2 L170.0,1860.3 L171.5,1860.4 L173.0,1860.4 L174.5,1860.5 L176.0,1860.5 L177.5,1860.6 L179.0,1860.6 L180.5,1860.7 L182.0,1860.7 L183.5,1860.8 L185.0,1860.9 L186.5,1860.9 L188.0,1861.0 L189.5,1861.1 L191.0,1861.1 L192.5,1861.2 L194.0,1861.3 L195.5,1861.3 L197.0,1861.4 L198.5,1861.5 L200.0,1861.5 L201.5,1861.6 L203.0,1861.7 L204.5,1861.8 L206.0,1861.8 L207.5,1861.9 L209.0,1862.0 L210.5,1862.1 L212.0,1862.1 L213.5,1862.2 L215.0,1862.3 L216.5,1862.4 L218.0,1862.5 L219.5,1862.6 L221.0,1862.7 L222.5,1862.7 L224.0,1862.8 L225.5,1862.9 L227.0,1863.0 L228.5,1863.1 L230.0,1863.2 L231.5,1863.3 L233.0,1863.4 L234.5,1863.5 L236.0,1863.6 L237.5,1863.7 L239.0,1863.8 L240.5,1863.9 L242.0,1864.0 L243.5,1864.2 L245.0,1864.3 L246.5,1864.4 L248.0,1864.5 L249.5,1864.6 L251.0,1864.7 L252.5,1864.8 L254.0,1865.0 L255.5,1865.1 L257.0,1865.2 L258.5,1865.3 L260.0,1865.5 L261.5,1865.6 L263.0,1865.7 L264.5,1865.9 L266.0,1866.0 L267.5,1866.1 L269.0,1866.3 L270.5,1866.4 L272.0,1866.6 L273.5,1866.7 L275.0,1866.8 L276.5,1867.0 L278.0,1867.1 L279.5,1867.3 L281.0,1867.4 L282.5,1867.6 L284.0,1867.7 L285.5,1867.9 L287.0,1868.1 L288.5,1868.2 L290.0,1868.4 L291.5,1868.6 L293.0,1868.7 L294.5,1868.9 L296.0,1869.1 L297.5,1869.2 L299.0,1869.4 L300.5,1869.6 L302.0,1869.8 L303.5,1869.9 L305.0,1870.1 L306.5,1870.3 L308.0,1870.5 L309.5,1870.7 L311.0,1870.9 L312.5,1871.1 L314.0,1871.3 L315.5,1871.5 L317.0,1871.7 L318.5,1871.9 L320.0,1872.1 L321.5,1872.3 L323.0,1872.5 L324.5,1872.7 L326.0,1872.9 L327.5,1873.1 L329.0,1873.3 L330.5,1873.5 L332.0,1873.8 L333.5,1874.0 L335.0,1874.2 L336.5,1874.4 L338.0,1874.7 L339.5,1874.9 L341.0,1875.1 L342.5,1875.4 L344.0,1875.6 L345.5,1875.8 L347.0,1876.1 L348.5,1876.3 L350.0,1876.6 L351.5,1876.8 L353.0,1877.1 L354.5,1877.3 L356.0,1877.6 L357.5,1877.8 L359.0,1878.1 L360.5,1878.4 L362.0,1878.6 L363.5,1878.9 L365.0,1879.2 L366.5,1879.4 L368.0,1879.7 L369.5,1880.0 L371.0,1880.3 L372.5,1880.5 L374.0,1880.8 L375.5,1881.1 L377.0,1881.4 L378.5,1881.7 L380.0,1882.0 L381.5,1882.3 L383.0,1882.5 L384.5,1882.8 L386.0,1883.1 L387.5,1883.4 L389.0,1883.7 L390.5,1884.0 L392.0,1884.4 L393.5,1884.7 L395.0,1885.0 L396.5,1885.3 L398.0,1885.6 L399.5,1885.9 L401.0,1886.2 L402.5,1886.6 L404.0,1886.9 L405.5,1887.2 L407.0,1887.5 L408.5,1887.9 L410.0,1888.2 L411.5,1888.5 L413.0,1888.9 L414.5,1889.2 L416.0,1889.6 L417.5,1889.9 L419.0,1890.2 L420.5,1890.6 L422.0,1890.9 L423.5,1891.3 L425.0,1891.6 L426.5,1892.0 L428.0,1892.3 L429.5,1892.7 L431.0,1893.1 L432.5,1893.4 L434.0,1893.8 L435.5,1894.2 L437.0,1894.5 L438.5,1894.9 L440.0,1895.3 L441.5,1895.6 L443.0,1896.0 L444.5,1896.4 L446.0,1896.8 L447.5,1897.1 L449.0,1897.5 L450.5,1897.9 L452.0,1898.3 L453.5,1898.7 L455.0,1899.1 L456.5,1899.5 L458.0,1899.8 L459.5,1900.2 L461.0,1900.6 L462.5,1901.0 L464.0,1901.4 L465.5,1901.8 L467.0,1902.2 L468.5,1902.6 L470.0,1903.0 L471.5,1903.4 L473.0,1903.8 L474.5,1904.2 L476.0,1904.7 L477.5,1905.1 L479.0,1905.5 L480.5,1905.9 L482.0,1906.3 L483.5,1906.7 L485.0,1907.1 L486.5,1907.6 L488.0,1908.0 L489.5,1908.4 L491.0,1908.8 L492.5,1909.2 L494.0,1909.7 L495.5,1910.1 L497.0,1910.5 L498.5,1911.0 L500.0,1911.4 L501.5,1911.8 L503.0,1912.2 L504.5,1912.7 L506.0,1913.1 L507.5,1913.5 L509.0,1914.0 L510.5,1914.4 L512.0,1914.9 L513.5,1915.3 L515.0,1915.7 L516.5,1916.2 L518.0,1916.6 L519.5,1917.1 L521.0,1917.5 L522.5,1918.0 L524.0,1918.4 L525.5,1918.9 L527.0,1919.3 L528.5,1919.7 L530.0,1920.2 L531.5,1920.7 L533.0,1921.1 L534.5,1921.6 L536.0,1922.0 L537.5,1922.5 L539.0,1922.9 L540.5,1923.4 L542.0,1923.8 L543.5,1924.3 L545.0,1924.8 L546.5,1925.2 L548.0,1925.7 L549.5,1926.1 L551.0,1926.6 L552.5,1927.1 L554.0,1927.5 L555.5,1928.0 L557.0,1928.5 L558.5,1928.9 L560.0,1929.4 L561.5,1929.9 L563.0,1930.3 L564.5,1930.8 L566.0,1931.3 L567.5,1931.8 L569.0,1932.2 L570.5,1932.7 L572.0,1933.2 L573.5,1933.7 L575.0,1934.1 L576.5,1934.6 L578.0,1935.1 L579.5,1935.6 L581.0,1936.1 L582.5,1936.6 L584.0,1937.0 L585.5,1937.5 L587.0,1938.0 L588.5,1938.5 L590.0,1939.0 L591.5,1939.5 L593.0,1940.0 L594.5,1940.5 L596.0,1941.0 L597.5,1941.5 L599.0,1942.0 L600.5,1942.5 L602.0,1943.0 L603.5,1943.5 L605.0,1944.0 L606.5,1944.5 L608.0,1945.0 L609.5,1945.5 L611.0,1946.0 L612.5,1946.6 L614.0,1947.1 L615.5,1947.6 L617.0,1948.1 L618.5,1948.6 L620.0,1949.2 L621.5,1949.7 L623.0,1950.2 L624.5,1950.8 L626.0,1951.3 L627.5,1951.8 L629.0,1952.4 L630.5,1952.9 L632.0,1953.5 L633.5,1954.0 L635.0,1954.6 L636.5,1955.1 L638.0,1955.7 L639.5,1956.2 L641.0,1956.8 L642.5,1957.4 L644.0,1957.9 L645.5,1958.5 L647.0,1959.1 L648.5,1959.7 L650.0,1960.3 L651.5,1960.8 L653.0,1961.4 L654.5,1962.0 L656.0,1962.6 L657.5,1963.2 L659.0,1963.8 L660.5,1964.4 L662.0,1965.0 L663.5,1965.6 L665.0,1966.3 L666.5,1966.9 L668.0,1967.5 L669.5,1968.1 L671.0,1968.8 L672.5,1969.4 L674.0,1970.1 L675.5,1970.7 L677.0,1971.4 L678.5,1972.0 L680.0,1972.7 L681.5,1973.3 L683.0,1974.0 L684.5,1974.7 L686.0,1975.4 L687.5,1976.0 L689.0,1976.7 L690.5,1977.4 L692.0,1978.1 L693.5,1978.8 L695.0,1979.5 L696.5,1980.2 L698.0,1980.9 L699.5,1981.7 L701.0,1982.4 L702.5,1983.1 L704.0,1983.9 L705.5,1984.6 L707.0,1985.3 L708.5,1986.1 L710.0,1986.8 L711.5,1987.6 L713.0,1988.4 L714.5,1989.1 L716.0,1989.9 L717.5,1990.7 L719.0,1991.5 L720.5,1992.3 L722.0,1993.1 L723.5,1993.9 L725.0,1994.7 L726.5,1995.5 L728.0,1996.3 L729.5,1997.1 L731.0,1997.9 L732.5,1998.8 L734.0,1999.6 L735.5,2000.4 L737.0,2001.3 L738.5,2002.1 L740.0,2003.0 L741.5,2003.8 L743.0,2004.7 L744.5,2005.5 L746.0,2006.4 L747.5,2007.3 L749.0,2008.1 L750.5,2009.0 L752.0,2009.9 L753.5,2010.8 L755.0,2011.7 L756.5,2012.5 L758.0,2013.4 L759.5,2014.3 L761.0,2015.2 L762.5,2016.1 L764.0,2017.0 L765.5,2017.9 L767.0,2018.9 L768.5,2019.8 L770.0,2020.7 L771.5,2021.6 L773.0,2022.5 L774.5,2023.4 L776.0,2024.3 L777.5,2025.3 L779.0,2026.2 L780.5,2027.1 L782.0,2028.0 L783.5,2028.9 L785.0,2029.9 L786.5,2030.8 L788.0,2031.7 L789.5,2032.6 L791.0,2033.5 L792.5,2034.5 L794.0,2035.4 L795.5,2036.3 L797.0,2037.2 L798.5,2038.1 L800.0,2039.0 L801.5,2039.9 L803.0,2040.8 L804.5,2041.7 L806.0,2042.6 L807.5,2043.5 L809.0,2044.4 L810.5,2045.3 L812.0,2046.2 L813.5,2047.0 L815.0,2047.9 L816.5,2048.8 L818.0,2049.6 L819.5,2050.5 L821.0,2051.3 L822.5,2052.1 L824.0,2053.0 L825.5,2053.8 L827.0,2054.6 L828.5,2055.4 L830.0,2056.2 L831.5,2057.0 L833.0,2057.7 L834.5,2058.5 L836.0,2059.3 L837.5,2060.0 L839.0,2060.7 L840.5,2061.5 L842.0,2062.2 L843.5,2062.9 L845.0,2063.6 L846.5,2064.3 L848.0,2064.9 L849.5,2065.6 L851.0,2066.3 L852.5,2066.9 L854.0,2067.5 L855.5,2068.1 L857.0,2068.8 L858.5,2069.4 L860.0,2069.9 L861.5,2070.5 L863.0,2071.1 L864.5,2071.6 L866.0,2072.2 L867.5,2072.7 L869.0,2073.2 L870.5,2073.8 L872.0,2074.3 L873.5,2074.8 L875.0,2075.3 L876.5,2075.8 L878.0,2076.2 L879.5,2076.7 L881.0,2077.2 L882.5,2077.7 L884.0,2078.1 L885.5,2078.6 L887.0,2079.0 L888.5,2079.5 L890.0,2079.9 L891.5,2080.3 L893.0,2080.8 L894.5,2081.2 L896.0,2081.6 L897.5,2082.0 L899.0,2082.4 L900.5,2082.7 L902.0,2083.1 L903.5,2083.4 L905.0,2083.7 L906.5,2083.9 L908.0,2084.1 L909.5,2084.3 L911.0,2084.5 L912.5,2084.5 L914.0,2084.6 L915.5,2084.6 L917.0,2084.5 L918.5,2084.3 L920.0,2084.1 L921.5,2083.8 L923.0,2083.4 L924.5,2083.0 L926.0,2082.4 L927.5,2081.8 L929.0,2081.1 L930.5,2080.3 L932.0,2079.4 L933.5,2078.4 L935.0,2077.3 L936.5,2076.1 L938.0,2074.9 L939.5,2073.6 L941.0,2072.3 L942.5,2070.9 L944.0,2069.4 L945.5,2067.9 L947.0,2066.4 L948.5,2064.9 L950.0,2063.4 L951.5,2061.9 L953.0,2060.5 L954.5,2059.1 L956.0,2057.8 L957.5,2056.5 L959.0,2055.4 L960.5,2054.3 L962.0,2053.4 L963.5,2052.7 L965.0,2052.1 L966.5,2051.6 L968.0,2051.3 L969.5,2051.3 L971.0,2051.4 L972.5,2051.7 L974.0,2052.2 L975.5,2052.9 L977.0,2053.8 L978.5,2054.9 L980.0,2056.2 L981.5,2057.8 L983.0,2059.5 L984.5,2061.3 L986.0,2063.4 L987.5,2065.6 L989.0,2067.9 L990.5,2070.4 L992.0,2073.0 L993.5,2075.7 L995.0,2078.5 L996.5,2081.4 L998.0,2084.3 L999.5,2087.3 L1001.0,2090.3 L1002.5,2093.2 L1004.0,2096.2 L1005.5,2099.2 L1007.0,2102.1 L1008.5,2105.0 L1010.0,2107.9 L1011.5,2110.6 L1013.0,2113.3 L1014.5,2115.9 L1016.0,2118.4 L1017.5,2120.9 L1019.0,2123.2 L1020.5,2125.4 L1022.0,2127.5 L1023.5,2129.5 L1025.0,2131.4 L1026.5,2133.2 L1028.0,2134.9 L1029.5,2136.5 L1031.0,2138.0 L1032.5,2139.4 L1034.0,2140.7 L1035.5,2141.9 L1037.0,2143.0 L1038.5,2144.0 L1040.0,2145.0 L1041.5,2145.9 L1043.0,2146.7 L1044.5,2147.4 L1046.0,2148.1 L1047.5,2148.8 L1049.0,2149.4 L1050.5,2149.9 L1052.0,2150.4 L1053.5,2150.9 L1055.0,2151.3 L1056.5,2151.7 L1058.0,2152.0 L1059.5,2152.4 L1061.0,2152.7 L1062.5,2153.0 L1064.0,2153.2 L1065.5,2153.5 L1067.0,2153.7 L1068.5,2153.9 L1070.0,2154.1 L1071.5,2154.3 L1073.0,2154.5 L1074.5,2154.7 L1076.0,2154.9 L1077.5,2155.0 L1079.0,2155.2 L1080.5,2155.3 L1082.0,2155.4 L1083.5,2155.6 L1085.0,2155.7 L1086.5,2155.8 L1088.0,2155.9 L1089.5,2156.1 L1091.0,2156.2 L1092.5,2156.3 L1094.0,2156.4 L1095.5,2156.5 L1097.0,2156.6 L1098.5,2156.7 L1100.0,2156.8 L1101.5,2156.9 L1103.0,2156.9 L1104.5,2157.0 L1106.0,2157.1 L1107.5,2157.2 L1109.0,2157.3 L1110.5,2157.3 L1112.0,2157.4 L1113.5,2157.5 L1115.0,2157.6 L1116.5,2157.6 L1118.0,2157.7 L1119.5,2157.8 L1121.0,2157.8 L1122.5,2157.9 L1124.0,2157.9 L1125.5,2158.0 L1127.0,2158.0 L1128.5,2158.1 L1130.0,2158.2 L1131.5,2158.2 L1133.0,2158.3 L1134.5,2158.3 L1136.0,2158.4 L1137.5,2158.4 L1139.0,2158.5 L1140.5,2158.5 L1142.0,2158.5 L1143.5,2158.6 L1145.0,2158.6 L1146.5,2158.7 L1148.0,2158.7 L1149.5,2158.7 L1151.0,2158.8 L1152.5,2158.8 L1154.0,2158.8 L1155.5,2158.9 L1157.0,2158.9 L1158.5,2159.0 L1160.0,2159.0 L1161.5,2159.0 L1163.0,2159.0 L1164.5,2159.1 L1166.0,2159.1 L1167.5,2159.1 L1169.0,2159.2 L1170.5,2159.2 L1172.0,2159.2 L1173.5,2159.2 L1175.0,2159.3 L1176.5,2159.3 L1178.0,2159.3 L1179.5,2159.3 L1181.0,2159.4 L1182.5,2159.4 L1184.0,2159.4 L1185.5,2159.4 L1187.0,2159.5 L1188.5,2159.5 L1190.0,2159.5 L1191.5,2159.5 L1193.0,2159.5 L1194.5,2159.6 L1196.0,2159.6 L1197.5,2159.6 L1199.0,2159.6 L1200.5,2159.6 L1202.0,2159.7 L1203.5,2159.7 L1205.0,2159.7 L1206.5,2159.7 L1208.0,2159.7 L1209.5,2159.7 L1211.0,2159.8 L1212.5,2159.8 L1214.0,2159.8 L1215.5,2159.8 L1217.0,2159.8 L1218.5,2159.8 L1220.0,2159.8 L1221.5,2159.9 L1223.0,2159.9 L1224.5,2159.9 L1226.0,2159.9 L1227.5,2159.9 L1229.0,2159.9 L1230.5,2159.9 L1232.0,2159.9 L1233.5,2160.0 L1235.0,2160.0 L1236.5,2160.0 L1238.0,2160.0 L1239.5,2160.0 L1241.0,2160.0 L1242.5,2160.0 L1244.0,2160.0 L1245.5,2160.0 L1247.0,2160.1 L1248.5,2160.1 L1250.0,2160.1 L1251.5,2160.1 L1253.0,2160.1 L1254.5,2160.1 L1256.0,2160.1 L1257.5,2160.1 L1259.0,2160.1 L1260.5,2160.1 L1262.0,2160.2 L1263.5,2160.2 L1265.0,2160.2 L1266.5,2160.2 L1268.0,2160.2 L1269.5,2160.2 L1271.0,2160.2 L1272.5,2160.2 L1274.0,2160.2 L1275.5,2160.2 L1277.0,2160.2 L1278.5,2160.3 L1280.0,2160.3 L1281.5,2160.3 L1283.0,2160.3 L1284.5,2160.3 L1286.0,2160.3 L1287.5,2160.3 L1289.0,2160.3 L1290.5,2160.3 L1292.0,2160.3 L1293.5,2160.3 L1295.0,2160.3 L1296.5,2160.3 L1298.0,2160.3 L1299.5,2160.4 L1301.0,2160.4 L1302.5,2160.4 L1304.0,2160.4 L1305.5,2160.4 L1307.0,2160.4 L1308.5,2160.4 L1310.0,2160.4 L1311.5,2160.4 L1313.0,2160.4 L1314.5,2160.4 L1316.0,2160.4 L1317.5,2160.4 L1319.0,2160.4 L1320.5,2160.4 L1322.0,2160.4 L1323.5,2160.5 L1325.0,2160.5 L1326.5,2160.5 L1328.0,2160.5 L1329.5,2160.5 L1331.0,2160.5 L1332.5,2160.5 L1334.0,2160.5 L1335.5,2160.5 L1337.0,2160.5 L1338.5,2160.5 L1340.0,2160.5 L1341.5,2160.5 L1343.0,2160.5 L1344.5,2160.5 L1346.0,2160.5 L1347.5,2160.5 L1349.0,2160.5 L1350.5,2160.5 L1352.0,2160.5 L1353.5,2160.6 L1355.0,2160.6 L1356.5,2160.6 L1358.0,2160.6 L1359.5,2160.6 L1361.0,2160.6 L1362.5,2160.6 L1364.0,2160.6 L1365.5,2160.6 L1367.0,2160.6 L1368.5,2160.6 L1370.0,2160.6 L1371.5,2160.6" fill="none" stroke="#2fe386" stroke-width="3.7" stroke-linejoin="round"/>
<path d="M144.5,1859.8 L146.0,1859.8 L147.5,1859.9 L149.0,1859.9 L150.5,1859.9 L152.0,1860.0 L153.5,1860.0 L155.0,1860.1 L156.5,1860.1 L158.0,1860.2 L159.5,1860.2 L161.0,1860.3 L162.5,1860.3 L164.0,1860.3 L165.5,1860.4 L167.0,1860.4 L168.5,1860.5 L170.0,1860.6 L171.5,1860.6 L173.0,1860.7 L174.5,1860.7 L176.0,1860.8 L177.5,1860.8 L179.0,1860.9 L180.5,1860.9 L182.0,1861.0 L183.5,1861.1 L185.0,1861.1 L186.5,1861.2 L188.0,1861.3 L189.5,1861.3 L191.0,1861.4 L192.5,1861.5 L194.0,1861.5 L195.5,1861.6 L197.0,1861.7 L198.5,1861.7 L200.0,1861.8 L201.5,1861.9 L203.0,1862.0 L204.5,1862.0 L206.0,1862.1 L207.5,1862.2 L209.0,1862.3 L210.5,1862.3 L212.0,1862.4 L213.5,1862.5 L215.0,1862.6 L216.5,1862.7 L218.0,1862.8 L219.5,1862.9 L221.0,1862.9 L222.5,1863.0 L224.0,1863.1 L225.5,1863.2 L227.0,1863.3 L228.5,1863.4 L230.0,1863.5 L231.5,1863.6 L233.0,1863.7 L234.5,1863.8 L236.0,1863.9 L237.5,1864.0 L239.0,1864.1 L240.5,1864.2 L242.0,1864.4 L243.5,1864.5 L245.0,1864.6 L246.5,1864.7 L248.0,1864.8 L249.5,1864.9 L251.0,1865.0 L252.5,1865.2 L254.0,1865.3 L255.5,1865.4 L257.0,1865.5 L258.5,1865.7 L260.0,1865.8 L261.5,1865.9 L263.0,1866.1 L264.5,1866.2 L266.0,1866.3 L267.5,1866.5 L269.0,1866.6 L270.5,1866.7 L272.0,1866.9 L273.5,1867.0 L275.0,1867.2 L276.5,1867.3 L278.0,1867.5 L279.5,1867.6 L281.0,1867.8 L282.5,1867.9 L284.0,1868.1 L285.5,1868.3 L287.0,1868.4 L288.5,1868.6 L290.0,1868.7 L291.5,1868.9 L293.0,1869.1 L294.5,1869.3 L296.0,1869.4 L297.5,1869.6 L299.0,1869.8 L300.5,1870.0 L302.0,1870.1 L303.5,1870.3 L305.0,1870.5 L306.5,1870.7 L308.0,1870.9 L309.5,1871.1 L311.0,1871.3 L312.5,1871.5 L314.0,1871.7 L315.5,1871.9 L317.0,1872.1 L318.5,1872.3 L320.0,1872.5 L321.5,1872.7 L323.0,1872.9 L324.5,1873.1 L326.0,1873.3 L327.5,1873.5 L329.0,1873.7 L330.5,1874.0 L332.0,1874.2 L333.5,1874.4 L335.0,1874.6 L336.5,1874.9 L338.0,1875.1 L339.5,1875.3 L341.0,1875.6 L342.5,1875.8 L344.0,1876.0 L345.5,1876.3 L347.0,1876.5 L348.5,1876.8 L350.0,1877.0 L351.5,1877.3 L353.0,1877.5 L354.5,1877.8 L356.0,1878.0 L357.5,1878.3 L359.0,1878.6 L360.5,1878.8 L362.0,1879.1 L363.5,1879.4 L365.0,1879.6 L366.5,1879.9 L368.0,1880.2 L369.5,1880.4 L371.0,1880.7 L372.5,1881.0 L374.0,1881.3 L375.5,1881.6 L377.0,1881.9 L378.5,1882.2 L380.0,1882.4 L381.5,1882.7 L383.0,1883.0 L384.5,1883.3 L386.0,1883.6 L387.5,1883.9 L389.0,1884.2 L390.5,1884.6 L392.0,1884.9 L393.5,1885.2 L395.0,1885.5 L396.5,1885.8 L398.0,1886.1 L399.5,1886.4 L401.0,1886.8 L402.5,1887.1 L404.0,1887.4 L405.5,1887.8 L407.0,1888.1 L408.5,1888.4 L410.0,1888.8 L411.5,1889.1 L413.0,1889.4 L414.5,1889.8 L416.0,1890.1 L417.5,1890.5 L419.0,1890.8 L420.5,1891.2 L422.0,1891.5 L423.5,1891.9 L425.0,1892.2 L426.5,1892.6 L428.0,1892.9 L429.5,1893.3 L431.0,1893.7 L432.5,1894.0 L434.0,1894.4 L435.5,1894.8 L437.0,1895.1 L438.5,1895.5 L440.0,1895.9 L441.5,1896.3 L443.0,1896.6 L444.5,1897.0 L446.0,1897.4 L447.5,1897.8 L449.0,1898.2 L450.5,1898.5 L452.0,1898.9 L453.5,1899.3 L455.0,1899.7 L456.5,1900.1 L458.0,1900.5 L459.5,1900.9 L461.0,1901.3 L462.5,1901.7 L464.0,1902.1 L465.5,1902.5 L467.0,1902.9 L468.5,1903.3 L470.0,1903.7 L471.5,1904.1 L473.0,1904.5 L474.5,1904.9 L476.0,1905.3 L477.5,1905.8 L479.0,1906.2 L480.5,1906.6 L482.0,1907.0 L483.5,1907.4 L485.0,1907.8 L486.5,1908.3 L488.0,1908.7 L489.5,1909.1 L491.0,1909.5 L492.5,1909.9 L494.0,1910.4 L495.5,1910.8 L497.0,1911.2 L498.5,1911.6 L500.0,1912.0 L501.5,1912.5 L503.0,1912.9 L504.5,1913.3 L506.0,1913.7 L507.5,1914.2 L509.0,1914.6 L510.5,1915.0 L512.0,1915.4 L513.5,1915.8 L515.0,1916.2 L516.5,1916.7 L518.0,1917.1 L519.5,1917.5 L521.0,1917.9 L522.5,1918.3 L524.0,1918.7 L525.5,1919.1 L527.0,1919.5 L528.5,1919.9 L530.0,1920.3 L531.5,1920.7 L533.0,1921.1 L534.5,1921.5 L536.0,1921.9 L537.5,1922.2 L539.0,1922.6 L540.5,1923.0 L542.0,1923.3 L543.5,1923.7 L545.0,1924.0 L546.5,1924.4 L548.0,1924.7 L549.5,1925.0 L551.0,1925.3 L552.5,1925.7 L554.0,1926.0 L555.5,1926.2 L557.0,1926.5 L558.5,1926.8 L560.0,1927.0 L561.5,1927.3 L563.0,1927.5 L564.5,1927.7 L566.0,1927.9 L567.5,1928.1 L569.0,1928.3 L570.5,1928.4 L572.0,1928.5 L573.5,1928.7 L575.0,1928.8 L576.5,1928.8 L578.0,1928.9 L579.5,1928.9 L581.0,1928.9 L582.5,1928.9 L584.0,1928.9 L585.5,1928.8 L587.0,1928.7 L588.5,1928.6 L590.0,1928.5 L591.5,1928.3 L593.0,1928.1 L594.5,1927.9 L596.0,1927.7 L597.5,1927.4 L599.0,1927.0 L600.5,1926.7 L602.0,1926.3 L603.5,1925.9 L605.0,1925.4 L606.5,1924.9 L608.0,1924.4 L609.5,1923.8 L611.0,1923.2 L612.5,1922.6 L614.0,1921.9 L615.5,1921.2 L617.0,1920.4 L618.5,1919.6 L620.0,1918.8 L621.5,1917.9 L623.0,1916.9 L624.5,1916.0 L626.0,1915.0 L627.5,1913.9 L629.0,1912.8 L630.5,1911.7 L632.0,1910.5 L633.5,1909.2 L635.0,1908.0 L636.5,1906.7 L638.0,1905.3 L639.5,1903.9 L641.0,1902.5 L642.5,1901.1 L644.0,1899.6 L645.5,1898.0 L647.0,1896.5 L648.5,1894.9 L650.0,1893.2 L651.5,1891.6 L653.0,1889.9 L654.5,1888.1 L656.0,1886.4 L657.5,1884.6 L659.0,1882.8 L660.5,1881.0 L662.0,1879.2 L663.5,1877.3 L665.0,1875.5 L666.5,1873.6 L668.0,1871.7 L669.5,1869.9 L671.0,1868.0 L672.5,1866.1 L674.0,1864.2 L675.5,1862.4 L677.0,1860.5 L678.5,1858.6 L680.0,1856.8 L681.5,1855.0 L683.0,1853.2 L684.5,1851.4 L686.0,1849.7 L687.5,1848.0 L689.0,1846.3 L690.5,1844.7 L692.0,1843.1 L693.5,1841.6 L695.0,1840.1 L696.5,1838.6 L698.0,1837.2 L699.5,1835.9 L701.0,1834.6 L702.5,1833.4 L704.0,1832.3 L705.5,1831.2 L707.0,1830.3 L708.5,1829.3 L710.0,1828.5 L711.5,1827.8 L713.0,1827.1 L714.5,1826.5 L716.0,1826.0 L717.5,1825.7 L719.0,1825.4 L720.5,1825.1 L722.0,1825.0 L723.5,1825.0 L725.0,1825.1 L726.5,1825.3 L728.0,1825.6 L729.5,1826.0 L731.0,1826.5 L732.5,1827.1 L734.0,1827.8 L735.5,1828.7 L737.0,1829.6 L738.5,1830.6 L740.0,1831.8 L741.5,1833.0 L743.0,1834.4 L744.5,1835.8 L746.0,1837.4 L747.5,1839.0 L749.0,1840.8 L750.5,1842.7 L752.0,1844.6 L753.5,1846.7 L755.0,1848.8 L756.5,1851.1 L758.0,1853.4 L759.5,1855.8 L761.0,1858.3 L762.5,1860.9 L764.0,1863.6 L765.5,1866.3 L767.0,1869.1 L768.5,1872.0 L770.0,1875.0 L771.5,1878.0 L773.0,1881.1 L774.5,1884.2 L776.0,1887.4 L777.5,1890.6 L779.0,1893.9 L780.5,1897.3 L782.0,1900.7 L783.5,1904.1 L785.0,1907.5 L786.5,1911.0 L788.0,1914.6 L789.5,1918.1 L791.0,1921.7 L792.5,1925.2 L794.0,1928.8 L795.5,1932.4 L797.0,1936.1 L798.5,1939.7 L800.0,1943.3 L801.5,1946.9 L803.0,1950.5 L804.5,1954.2 L806.0,1957.8 L807.5,1961.3 L809.0,1964.9 L810.5,1968.5 L812.0,1972.0 L813.5,1975.5 L815.0,1979.0 L816.5,1982.5 L818.0,1985.9 L819.5,1989.3 L821.0,1992.7 L822.5,1996.0 L824.0,1999.3 L825.5,2002.6 L827.0,2005.8 L828.5,2009.0 L830.0,2012.1 L831.5,2015.2 L833.0,2018.3 L834.5,2021.3 L836.0,2024.2 L837.5,2027.2 L839.0,2030.0 L840.5,2032.9 L842.0,2035.6 L843.5,2038.4 L845.0,2041.1 L846.5,2043.7 L848.0,2046.3 L849.5,2048.8 L851.0,2051.3 L852.5,2053.8 L854.0,2056.1 L855.5,2058.5 L857.0,2060.8 L858.5,2063.0 L860.0,2065.2 L861.5,2067.4 L863.0,2069.5 L864.5,2071.6 L866.0,2073.6 L867.5,2075.6 L869.0,2077.5 L870.5,2079.4 L872.0,2081.2 L873.5,2083.1 L875.0,2084.8 L876.5,2086.5 L878.0,2088.2 L879.5,2089.9 L881.0,2091.5 L882.5,2093.1 L884.0,2094.6 L885.5,2096.1 L887.0,2097.6 L888.5,2099.0 L890.0,2100.4 L891.5,2101.8 L893.0,2103.1 L894.5,2104.4 L896.0,2105.7 L897.5,2106.9 L899.0,2108.1 L900.5,2109.3 L902.0,2110.5 L903.5,2111.6 L905.0,2112.7 L906.5,2113.8 L908.0,2114.9 L909.5,2115.9 L911.0,2117.0 L912.5,2117.9 L914.0,2118.9 L915.5,2119.9 L917.0,2120.8 L918.5,2121.7 L920.0,2122.6 L921.5,2123.5 L923.0,2124.3 L924.5,2125.1 L926.0,2126.0 L927.5,2126.8 L929.0,2127.5 L930.5,2128.3 L932.0,2129.1 L933.5,2129.8 L935.0,2130.5 L936.5,2131.2 L938.0,2131.9 L939.5,2132.6 L941.0,2133.3 L942.5,2133.9 L944.0,2134.5 L945.5,2135.2 L947.0,2135.8 L948.5,2136.4 L950.0,2137.0 L951.5,2137.5 L953.0,2138.1 L954.5,2138.7 L956.0,2139.2 L957.5,2139.7 L959.0,2140.2 L960.5,2140.8 L962.0,2141.3 L963.5,2141.7 L965.0,2142.2 L966.5,2142.7 L968.0,2143.1 L969.5,2143.6 L971.0,2144.0 L972.5,2144.5 L974.0,2144.9 L975.5,2145.3 L977.0,2145.7 L978.5,2146.1 L980.0,2146.5 L981.5,2146.9 L983.0,2147.3 L984.5,2147.6 L986.0,2148.0 L987.5,2148.3 L989.0,2148.7 L990.5,2149.0 L992.0,2149.3 L993.5,2149.7 L995.0,2150.0 L996.5,2150.3 L998.0,2150.6 L999.5,2150.9 L1001.0,2151.2 L1002.5,2151.4 L1004.0,2151.7 L1005.5,2152.0 L1007.0,2152.2 L1008.5,2152.5 L1010.0,2152.7 L1011.5,2153.0 L1013.0,2153.2 L1014.5,2153.5 L1016.0,2153.7 L1017.5,2153.9 L1019.0,2154.1 L1020.5,2154.3 L1022.0,2154.5 L1023.5,2154.7 L1025.0,2154.9 L1026.5,2155.1 L1028.0,2155.3 L1029.5,2155.5 L1031.0,2155.7 L1032.5,2155.8 L1034.0,2156.0 L1035.5,2156.2 L1037.0,2156.3 L1038.5,2156.5 L1040.0,2156.6 L1041.5,2156.8 L1043.0,2156.9 L1044.5,2157.1 L1046.0,2157.2 L1047.5,2157.3 L1049.0,2157.4 L1050.5,2157.6 L1052.0,2157.7 L1053.5,2157.8 L1055.0,2157.9 L1056.5,2158.0 L1058.0,2158.1 L1059.5,2158.2 L1061.0,2158.3 L1062.5,2158.4 L1064.0,2158.5 L1065.5,2158.6 L1067.0,2158.7 L1068.5,2158.8 L1070.0,2158.9 L1071.5,2159.0 L1073.0,2159.0 L1074.5,2159.1 L1076.0,2159.2 L1077.5,2159.3 L1079.0,2159.3 L1080.5,2159.4 L1082.0,2159.5 L1083.5,2159.5 L1085.0,2159.6 L1086.5,2159.7 L1088.0,2159.7 L1089.5,2159.8 L1091.0,2159.8 L1092.5,2159.9 L1094.0,2159.9 L1095.5,2160.0 L1097.0,2160.0 L1098.5,2160.1 L1100.0,2160.1 L1101.5,2160.2 L1103.0,2160.2 L1104.5,2160.2 L1106.0,2160.3 L1107.5,2160.3 L1109.0,2160.3 L1110.5,2160.4 L1112.0,2160.4 L1113.5,2160.4 L1115.0,2160.5 L1116.5,2160.5 L1118.0,2160.5 L1119.5,2160.6 L1121.0,2160.6 L1122.5,2160.6 L1124.0,2160.6 L1125.5,2160.7 L1127.0,2160.7 L1128.5,2160.7 L1130.0,2160.7 L1131.5,2160.7 L1133.0,2160.8 L1134.5,2160.8 L1136.0,2160.8 L1137.5,2160.8 L1139.0,2160.8 L1140.5,2160.9 L1142.0,2160.9 L1143.5,2160.9 L1145.0,2160.9 L1146.5,2160.9 L1148.0,2160.9 L1149.5,2160.9 L1151.0,2161.0 L1152.5,2161.0 L1154.0,2161.0 L1155.5,2161.0 L1157.0,2161.0 L1158.5,2161.0 L1160.0,2161.0 L1161.5,2161.0 L1163.0,2161.0 L1164.5,2161.0 L1166.0,2161.0 L1167.5,2161.1 L1169.0,2161.1 L1170.5,2161.1 L1172.0,2161.1 L1173.5,2161.1 L1175.0,2161.1 L1176.5,2161.1 L1178.0,2161.1 L1179.5,2161.1 L1181.0,2161.1 L1182.5,2161.1 L1184.0,2161.1 L1185.5,2161.1 L1187.0,2161.1 L1188.5,2161.1 L1190.0,2161.1 L1191.5,2161.1 L1193.0,2161.2 L1194.5,2161.2 L1196.0,2161.2 L1197.5,2161.2 L1199.0,2161.2 L1200.5,2161.2 L1202.0,2161.2 L1203.5,2161.2 L1205.0,2161.2 L1206.5,2161.2 L1208.0,2161.2 L1209.5,2161.2 L1211.0,2161.2 L1212.5,2161.2 L1214.0,2161.2 L1215.5,2161.2 L1217.0,2161.2 L1218.5,2161.2 L1220.0,2161.2 L1221.5,2161.2 L1223.0,2161.2 L1224.5,2161.2 L1226.0,2161.2 L1227.5,2161.2 L1229.0,2161.2 L1230.5,2161.2 L1232.0,2161.2 L1233.5,2161.2 L1235.0,2161.2 L1236.5,2161.2 L1238.0,2161.2 L1239.5,2161.2 L1241.0,2161.2 L1242.5,2161.2 L1244.0,2161.2 L1245.5,2161.2 L1247.0,2161.2 L1248.5,2161.2 L1250.0,2161.2 L1251.5,2161.2 L1253.0,2161.2 L1254.5,2161.2 L1256.0,2161.2 L1257.5,2161.2 L1259.0,2161.2 L1260.5,2161.2 L1262.0,2161.2 L1263.5,2161.2 L1265.0,2161.2 L1266.5,2161.2 L1268.0,2161.2 L1269.5,2161.2 L1271.0,2161.2 L1272.5,2161.2 L1274.0,2161.2 L1275.5,2161.2 L1277.0,2161.2 L1278.5,2161.2 L1280.0,2161.2 L1281.5,2161.2 L1283.0,2161.2 L1284.5,2161.2 L1286.0,2161.2 L1287.5,2161.2 L1289.0,2161.2 L1290.5,2161.2 L1292.0,2161.2 L1293.5,2161.2 L1295.0,2161.2 L1296.5,2161.2 L1298.0,2161.2 L1299.5,2161.2 L1301.0,2161.2 L1302.5,2161.2 L1304.0,2161.2 L1305.5,2161.2 L1307.0,2161.2 L1308.5,2161.2 L1310.0,2161.2 L1311.5,2161.2 L1313.0,2161.2 L1314.5,2161.2 L1316.0,2161.2 L1317.5,2161.2 L1319.0,2161.2 L1320.5,2161.2 L1322.0,2161.2 L1323.5,2161.2 L1325.0,2161.2 L1326.5,2161.2 L1328.0,2161.2 L1329.5,2161.2 L1331.0,2161.2 L1332.5,2161.2 L1334.0,2161.2 L1335.5,2161.2 L1337.0,2161.2 L1338.5,2161.2 L1340.0,2161.2 L1341.5,2161.2 L1343.0,2161.2 L1344.5,2161.2 L1346.0,2161.2 L1347.5,2161.2 L1349.0,2161.2 L1350.5,2161.2 L1352.0,2161.2 L1353.5,2161.2 L1355.0,2161.2 L1356.5,2161.2 L1358.0,2161.2 L1359.5,2161.2 L1361.0,2161.2 L1362.5,2161.2 L1364.0,2161.2 L1365.5,2161.2 L1367.0,2161.2 L1368.5,2161.2 L1370.0,2161.2 L1371.5,2161.2" fill="none" stroke="#bf6cf5" stroke-width="3.7" stroke-linejoin="round"/>
<path d="M144.5,1856.1 L146.0,1856.1 L147.5,1856.0 L149.0,1856.0 L150.5,1855.9 L152.0,1855.9 L153.5,1855.8 L155.0,1855.8 L156.5,1855.7 L158.0,1855.6 L159.5,1855.6 L161.0,1855.5 L162.5,1855.5 L164.0,1855.4 L165.5,1855.3 L167.0,1855.3 L168.5,1855.2 L170.0,1855.1 L171.5,1855.1 L173.0,1855.0 L174.5,1854.9 L176.0,1854.9 L177.5,1854.8 L179.0,1854.7 L180.5,1854.6 L182.0,1854.5 L183.5,1854.5 L185.0,1854.4 L186.5,1854.3 L188.0,1854.2 L189.5,1854.1 L191.0,1854.0 L192.5,1854.0 L194.0,1853.9 L195.5,1853.8 L197.0,1853.7 L198.5,1853.6 L200.0,1853.5 L201.5,1853.4 L203.0,1853.3 L204.5,1853.2 L206.0,1853.1 L207.5,1853.0 L209.0,1852.9 L210.5,1852.8 L212.0,1852.7 L213.5,1852.5 L215.0,1852.4 L216.5,1852.3 L218.0,1852.2 L219.5,1852.1 L221.0,1852.0 L222.5,1851.9 L224.0,1851.7 L225.5,1851.6 L227.0,1851.5 L228.5,1851.4 L230.0,1851.2 L231.5,1851.1 L233.0,1851.0 L234.5,1850.8 L236.0,1850.7 L237.5,1850.6 L239.0,1850.4 L240.5,1850.3 L242.0,1850.2 L243.5,1850.0 L245.0,1849.9 L246.5,1849.7 L248.0,1849.6 L249.5,1849.4 L251.0,1849.3 L252.5,1849.2 L254.0,1849.0 L255.5,1848.9 L257.0,1848.7 L258.5,1848.6 L260.0,1848.4 L261.5,1848.2 L263.0,1848.1 L264.5,1847.9 L266.0,1847.8 L267.5,1847.6 L269.0,1847.5 L270.5,1847.3 L272.0,1847.1 L273.5,1847.0 L275.0,1846.8 L276.5,1846.7 L278.0,1846.5 L279.5,1846.3 L281.0,1846.2 L282.5,1846.0 L284.0,1845.8 L285.5,1845.7 L287.0,1845.5 L288.5,1845.3 L290.0,1845.2 L291.5,1845.0 L293.0,1844.9 L294.5,1844.7 L296.0,1844.5 L297.5,1844.4 L299.0,1844.2 L300.5,1844.0 L302.0,1843.9 L303.5,1843.7 L305.0,1843.5 L306.5,1843.4 L308.0,1843.2 L309.5,1843.1 L311.0,1842.9 L312.5,1842.7 L314.0,1842.6 L315.5,1842.4 L317.0,1842.3 L318.5,1842.1 L320.0,1842.0 L321.5,1841.8 L323.0,1841.7 L324.5,1841.5 L326.0,1841.4 L327.5,1841.2 L329.0,1841.1 L330.5,1840.9 L332.0,1840.8 L333.5,1840.6 L335.0,1840.5 L336.5,1840.4 L338.0,1840.2 L339.5,1840.1 L341.0,1840.0 L342.5,1839.9 L344.0,1839.7 L345.5,1839.6 L347.0,1839.5 L348.5,1839.4 L350.0,1839.3 L351.5,1839.2 L353.0,1839.1 L354.5,1839.0 L356.0,1838.9 L357.5,1838.8 L359.0,1838.7 L360.5,1838.6 L362.0,1838.5 L363.5,1838.5 L365.0,1838.4 L366.5,1838.3 L368.0,1838.3 L369.5,1838.2 L371.0,1838.1 L372.5,1838.1 L374.0,1838.0 L375.5,1838.0 L377.0,1838.0 L378.5,1837.9 L380.0,1837.9 L381.5,1837.9 L383.0,1837.9 L384.5,1837.9 L386.0,1837.8 L387.5,1837.8 L389.0,1837.8 L390.5,1837.9 L392.0,1837.9 L393.5,1837.9 L395.0,1837.9 L396.5,1838.0 L398.0,1838.0 L399.5,1838.0 L401.0,1838.1 L402.5,1838.2 L404.0,1838.2 L405.5,1838.3 L407.0,1838.4 L408.5,1838.5 L410.0,1838.6 L411.5,1838.7 L413.0,1838.8 L414.5,1838.9 L416.0,1839.0 L417.5,1839.1 L419.0,1839.3 L420.5,1839.4 L422.0,1839.6 L423.5,1839.7 L425.0,1839.9 L426.5,1840.0 L428.0,1840.2 L429.5,1840.4 L431.0,1840.6 L432.5,1840.8 L434.0,1841.0 L435.5,1841.2 L437.0,1841.5 L438.5,1841.7 L440.0,1841.9 L441.5,1842.2 L443.0,1842.4 L444.5,1842.7 L446.0,1843.0 L447.5,1843.3 L449.0,1843.6 L450.5,1843.9 L452.0,1844.2 L453.5,1844.5 L455.0,1844.8 L456.5,1845.1 L458.0,1845.5 L459.5,1845.8 L461.0,1846.2 L462.5,1846.5 L464.0,1846.9 L465.5,1847.3 L467.0,1847.7 L468.5,1848.1 L470.0,1848.5 L471.5,1848.9 L473.0,1849.3 L474.5,1849.7 L476.0,1850.2 L477.5,1850.6 L479.0,1851.1 L480.5,1851.5 L482.0,1852.0 L483.5,1852.5 L485.0,1853.0 L486.5,1853.5 L488.0,1854.0 L489.5,1854.5 L491.0,1855.0 L492.5,1855.5 L494.0,1856.0 L495.5,1856.6 L497.0,1857.1 L498.5,1857.7 L500.0,1858.3 L501.5,1858.8 L503.0,1859.4 L504.5,1860.0 L506.0,1860.6 L507.5,1861.2 L509.0,1861.8 L510.5,1862.4 L512.0,1863.0 L513.5,1863.6 L515.0,1864.3 L516.5,1864.9 L518.0,1865.6 L519.5,1866.2 L521.0,1866.9 L522.5,1867.5 L524.0,1868.2 L525.5,1868.9 L527.0,1869.6 L528.5,1870.2 L530.0,1870.9 L531.5,1871.6 L533.0,1872.4 L534.5,1873.1 L536.0,1873.8 L537.5,1874.5 L539.0,1875.2 L540.5,1876.0 L542.0,1876.7 L543.5,1877.5 L545.0,1878.2 L546.5,1879.0 L548.0,1879.7 L549.5,1880.5 L551.0,1881.2 L552.5,1882.0 L554.0,1882.8 L555.5,1883.6 L557.0,1884.4 L558.5,1885.2 L560.0,1886.0 L561.5,1886.8 L563.0,1887.6 L564.5,1888.4 L566.0,1889.2 L567.5,1890.0 L569.0,1890.8 L570.5,1891.6 L572.0,1892.4 L573.5,1893.3 L575.0,1894.1 L576.5,1894.9 L578.0,1895.8 L579.5,1896.6 L581.0,1897.5 L582.5,1898.3 L584.0,1899.2 L585.5,1900.0 L587.0,1900.9 L588.5,1901.7 L590.0,1902.6 L591.5,1903.4 L593.0,1904.3 L594.5,1905.2 L596.0,1906.0 L597.5,1906.9 L599.0,1907.8 L600.5,1908.7 L602.0,1909.5 L603.5,1910.4 L605.0,1911.3 L606.5,1912.2 L608.0,1913.1 L609.5,1914.0 L611.0,1914.9 L612.5,1915.8 L614.0,1916.7 L615.5,1917.5 L617.0,1918.4 L618.5,1919.3 L620.0,1920.2 L621.5,1921.2 L623.0,1922.1 L624.5,1923.0 L626.0,1923.9 L627.5,1924.8 L629.0,1925.7 L630.5,1926.6 L632.0,1927.5 L633.5,1928.4 L635.0,1929.4 L636.5,1930.3 L638.0,1931.2 L639.5,1932.1 L641.0,1933.0 L642.5,1934.0 L644.0,1934.9 L645.5,1935.8 L647.0,1936.8 L648.5,1937.7 L650.0,1938.6 L651.5,1939.6 L653.0,1940.5 L654.5,1941.4 L656.0,1942.4 L657.5,1943.3 L659.0,1944.3 L660.5,1945.2 L662.0,1946.2 L663.5,1947.1 L665.0,1948.1 L666.5,1949.0 L668.0,1950.0 L669.5,1951.0 L671.0,1951.9 L672.5,1952.9 L674.0,1953.8 L675.5,1954.8 L677.0,1955.8 L678.5,1956.7 L680.0,1957.7 L681.5,1958.7 L683.0,1959.7 L684.5,1960.7 L686.0,1961.6 L687.5,1962.6 L689.0,1963.6 L690.5,1964.6 L692.0,1965.6 L693.5,1966.6 L695.0,1967.6 L696.5,1968.6 L698.0,1969.6 L699.5,1970.6 L701.0,1971.6 L702.5,1972.6 L704.0,1973.6 L705.5,1974.7 L707.0,1975.7 L708.5,1976.7 L710.0,1977.7 L711.5,1978.7 L713.0,1979.8 L714.5,1980.8 L716.0,1981.8 L717.5,1982.9 L719.0,1983.9 L720.5,1985.0 L722.0,1986.0 L723.5,1987.1 L725.0,1988.1 L726.5,1989.2 L728.0,1990.3 L729.5,1991.3 L731.0,1992.4 L732.5,1993.5 L734.0,1994.5 L735.5,1995.6 L737.0,1996.7 L738.5,1997.8 L740.0,1998.9 L741.5,1999.9 L743.0,2001.0 L744.5,2002.1 L746.0,2003.2 L747.5,2004.3 L749.0,2005.4 L750.5,2006.5 L752.0,2007.6 L753.5,2008.7 L755.0,2009.9 L756.5,2011.0 L758.0,2012.1 L759.5,2013.2 L761.0,2014.3 L762.5,2015.5 L764.0,2016.6 L765.5,2017.7 L767.0,2018.9 L768.5,2020.0 L770.0,2021.1 L771.5,2022.3 L773.0,2023.4 L774.5,2024.5 L776.0,2025.7 L777.5,2026.8 L779.0,2028.0 L780.5,2029.1 L782.0,2030.3 L783.5,2031.4 L785.0,2032.6 L786.5,2033.7 L788.0,2034.9 L789.5,2036.0 L791.0,2037.2 L792.5,2038.4 L794.0,2039.5 L795.5,2040.7 L797.0,2041.8 L798.5,2043.0 L800.0,2044.1 L801.5,2045.3 L803.0,2046.5 L804.5,2047.6 L806.0,2048.8 L807.5,2049.9 L809.0,2051.1 L810.5,2052.2 L812.0,2053.4 L813.5,2054.5 L815.0,2055.7 L816.5,2056.8 L818.0,2058.0 L819.5,2059.1 L821.0,2060.3 L822.5,2061.4 L824.0,2062.6 L825.5,2063.7 L827.0,2064.8 L828.5,2066.0 L830.0,2067.1 L831.5,2068.2 L833.0,2069.3 L834.5,2070.5 L836.0,2071.6 L837.5,2072.7 L839.0,2073.8 L840.5,2074.9 L842.0,2076.0 L843.5,2077.1 L845.0,2078.2 L846.5,2079.3 L848.0,2080.3 L849.5,2081.4 L851.0,2082.5 L852.5,2083.6 L854.0,2084.6 L855.5,2085.7 L857.0,2086.7 L858.5,2087.8 L860.0,2088.8 L861.5,2089.9 L863.0,2090.9 L864.5,2091.9 L866.0,2092.9 L867.5,2093.9 L869.0,2094.9 L870.5,2095.9 L872.0,2096.9 L873.5,2097.9 L875.0,2098.9 L876.5,2099.9 L878.0,2100.8 L879.5,2101.8 L881.0,2102.7 L882.5,2103.7 L884.0,2104.6 L885.5,2105.5 L887.0,2106.4 L888.5,2107.3 L890.0,2108.2 L891.5,2109.1 L893.0,2110.0 L894.5,2110.9 L896.0,2111.8 L897.5,2112.6 L899.0,2113.5 L900.5,2114.3 L902.0,2115.2 L903.5,2116.0 L905.0,2116.8 L906.5,2117.6 L908.0,2118.4 L909.5,2119.2 L911.0,2120.0 L912.5,2120.8 L914.0,2121.5 L915.5,2122.3 L917.0,2123.0 L918.5,2123.8 L920.0,2124.5 L921.5,2125.2 L923.0,2125.9 L924.5,2126.6 L926.0,2127.3 L927.5,2128.0 L929.0,2128.7 L930.5,2129.3 L932.0,2130.0 L933.5,2130.6 L935.0,2131.3 L936.5,2131.9 L938.0,2132.5 L939.5,2133.1 L941.0,2133.7 L942.5,2134.3 L944.0,2134.9 L945.5,2135.5 L947.0,2136.1 L948.5,2136.6 L950.0,2137.2 L951.5,2137.7 L953.0,2138.2 L954.5,2138.8 L956.0,2139.3 L957.5,2139.8 L959.0,2140.3 L960.5,2140.8 L962.0,2141.2 L963.5,2141.7 L965.0,2142.2 L966.5,2142.6 L968.0,2143.1 L969.5,2143.5 L971.0,2143.9 L972.5,2144.4 L974.0,2144.8 L975.5,2145.2 L977.0,2145.6 L978.5,2146.0 L980.0,2146.4 L981.5,2146.7 L983.0,2147.1 L984.5,2147.5 L986.0,2147.8 L987.5,2148.2 L989.0,2148.5 L990.5,2148.8 L992.0,2149.2 L993.5,2149.5 L995.0,2149.8 L996.5,2150.1 L998.0,2150.4 L999.5,2150.7 L1001.0,2151.0 L1002.5,2151.3 L1004.0,2151.5 L1005.5,2151.8 L1007.0,2152.1 L1008.5,2152.3 L1010.0,2152.6 L1011.5,2152.8 L1013.0,2153.1 L1014.5,2153.3 L1016.0,2153.5 L1017.5,2153.7 L1019.0,2154.0 L1020.5,2154.2 L1022.0,2154.4 L1023.5,2154.6 L1025.0,2154.8 L1026.5,2155.0 L1028.0,2155.1 L1029.5,2155.3 L1031.0,2155.5 L1032.5,2155.7 L1034.0,2155.8 L1035.5,2156.0 L1037.0,2156.2 L1038.5,2156.3 L1040.0,2156.5 L1041.5,2156.6 L1043.0,2156.8 L1044.5,2156.9 L1046.0,2157.0 L1047.5,2157.2 L1049.0,2157.3 L1050.5,2157.4 L1052.0,2157.5 L1053.5,2157.7 L1055.0,2157.8 L1056.5,2157.9 L1058.0,2158.0 L1059.5,2158.1 L1061.0,2158.2 L1062.5,2158.3 L1064.0,2158.4 L1065.5,2158.5 L1067.0,2158.6 L1068.5,2158.7 L1070.0,2158.7 L1071.5,2158.8 L1073.0,2158.9 L1074.5,2159.0 L1076.0,2159.1 L1077.5,2159.1 L1079.0,2159.2 L1080.5,2159.3 L1082.0,2159.3 L1083.5,2159.4 L1085.0,2159.5 L1086.5,2159.5 L1088.0,2159.6 L1089.5,2159.6 L1091.0,2159.7 L1092.5,2159.7 L1094.0,2159.8 L1095.5,2159.8 L1097.0,2159.9 L1098.5,2159.9 L1100.0,2160.0 L1101.5,2160.0 L1103.0,2160.1 L1104.5,2160.1 L1106.0,2160.1 L1107.5,2160.2 L1109.0,2160.2 L1110.5,2160.3 L1112.0,2160.3 L1113.5,2160.3 L1115.0,2160.4 L1116.5,2160.4 L1118.0,2160.4 L1119.5,2160.4 L1121.0,2160.5 L1122.5,2160.5 L1124.0,2160.5 L1125.5,2160.5 L1127.0,2160.6 L1128.5,2160.6 L1130.0,2160.6 L1131.5,2160.6 L1133.0,2160.7 L1134.5,2160.7 L1136.0,2160.7 L1137.5,2160.7 L1139.0,2160.7 L1140.5,2160.7 L1142.0,2160.8 L1143.5,2160.8 L1145.0,2160.8 L1146.5,2160.8 L1148.0,2160.8 L1149.5,2160.8 L1151.0,2160.8 L1152.5,2160.9 L1154.0,2160.9 L1155.5,2160.9 L1157.0,2160.9 L1158.5,2160.9 L1160.0,2160.9 L1161.5,2160.9 L1163.0,2160.9 L1164.5,2160.9 L1166.0,2160.9 L1167.5,2161.0 L1169.0,2161.0 L1170.5,2161.0 L1172.0,2161.0 L1173.5,2161.0 L1175.0,2161.0 L1176.5,2161.0 L1178.0,2161.0 L1179.5,2161.0 L1181.0,2161.0 L1182.5,2161.0 L1184.0,2161.0 L1185.5,2161.0 L1187.0,2161.0 L1188.5,2161.0 L1190.0,2161.0 L1191.5,2161.1 L1193.0,2161.1 L1194.5,2161.1 L1196.0,2161.1 L1197.5,2161.1 L1199.0,2161.1 L1200.5,2161.1 L1202.0,2161.1 L1203.5,2161.1 L1205.0,2161.1 L1206.5,2161.1 L1208.0,2161.1 L1209.5,2161.1 L1211.0,2161.1 L1212.5,2161.1 L1214.0,2161.1 L1215.5,2161.1 L1217.0,2161.1 L1218.5,2161.1 L1220.0,2161.1 L1221.5,2161.1 L1223.0,2161.1 L1224.5,2161.1 L1226.0,2161.1 L1227.5,2161.1 L1229.0,2161.1 L1230.5,2161.1 L1232.0,2161.1 L1233.5,2161.1 L1235.0,2161.1 L1236.5,2161.1 L1238.0,2161.1 L1239.5,2161.1 L1241.0,2161.1 L1242.5,2161.1 L1244.0,2161.1 L1245.5,2161.1 L1247.0,2161.1 L1248.5,2161.1 L1250.0,2161.1 L1251.5,2161.1 L1253.0,2161.1 L1254.5,2161.1 L1256.0,2161.1 L1257.5,2161.1 L1259.0,2161.1 L1260.5,2161.1 L1262.0,2161.1 L1263.5,2161.1 L1265.0,2161.1 L1266.5,2161.1 L1268.0,2161.1 L1269.5,2161.1 L1271.0,2161.1 L1272.5,2161.1 L1274.0,2161.1 L1275.5,2161.2 L1277.0,2161.2 L1278.5,2161.2 L1280.0,2161.2 L1281.5,2161.2 L1283.0,2161.2 L1284.5,2161.2 L1286.0,2161.2 L1287.5,2161.2 L1289.0,2161.2 L1290.5,2161.2 L1292.0,2161.2 L1293.5,2161.2 L1295.0,2161.2 L1296.5,2161.2 L1298.0,2161.2 L1299.5,2161.2 L1301.0,2161.2 L1302.5,2161.2 L1304.0,2161.2 L1305.5,2161.2 L1307.0,2161.2 L1308.5,2161.2 L1310.0,2161.2 L1311.5,2161.2 L1313.0,2161.2 L1314.5,2161.2 L1316.0,2161.2 L1317.5,2161.2 L1319.0,2161.2 L1320.5,2161.2 L1322.0,2161.2 L1323.5,2161.2 L1325.0,2161.2 L1326.5,2161.2 L1328.0,2161.2 L1329.5,2161.2 L1331.0,2161.2 L1332.5,2161.2 L1334.0,2161.2 L1335.5,2161.2 L1337.0,2161.2 L1338.5,2161.2 L1340.0,2161.2 L1341.5,2161.2 L1343.0,2161.2 L1344.5,2161.2 L1346.0,2161.2 L1347.5,2161.2 L1349.0,2161.2 L1350.5,2161.2 L1352.0,2161.2 L1353.5,2161.2 L1355.0,2161.2 L1356.5,2161.2 L1358.0,2161.2 L1359.5,2161.2 L1361.0,2161.2 L1362.5,2161.2 L1364.0,2161.2 L1365.5,2161.2 L1367.0,2161.2 L1368.5,2161.2 L1370.0,2161.2 L1371.5,2161.2" fill="none" stroke="#c92a2a" stroke-width="3.7" stroke-linejoin="round"/>
<path d="M144.5,1859.1 L146.0,1859.1 L147.5,1859.1 L149.0,1859.2 L150.5,1859.2 L152.0,1859.2 L153.5,1859.3 L155.0,1859.3 L156.5,1859.4 L158.0,1859.4 L159.5,1859.4 L161.0,1859.5 L162.5,1859.5 L164.0,1859.6 L165.5,1859.6 L167.0,1859.7 L168.5,1859.7 L170.0,1859.8 L171.5,1859.8 L173.0,1859.9 L174.5,1859.9 L176.0,1860.0 L177.5,1860.0 L179.0,1860.1 L180.5,1860.1 L182.0,1860.2 L183.5,1860.3 L185.0,1860.3 L186.5,1860.4 L188.0,1860.4 L189.5,1860.5 L191.0,1860.6 L192.5,1860.6 L194.0,1860.7 L195.5,1860.7 L197.0,1860.8 L198.5,1860.9 L200.0,1861.0 L201.5,1861.0 L203.0,1861.1 L204.5,1861.2 L206.0,1861.2 L207.5,1861.3 L209.0,1861.4 L210.5,1861.5 L212.0,1861.5 L213.5,1861.6 L215.0,1861.7 L216.5,1861.8 L218.0,1861.9 L219.5,1862.0 L221.0,1862.0 L222.5,1862.1 L224.0,1862.2 L225.5,1862.3 L227.0,1862.4 L228.5,1862.5 L230.0,1862.6 L231.5,1862.7 L233.0,1862.8 L234.5,1862.9 L236.0,1863.0 L237.5,1863.1 L239.0,1863.2 L240.5,1863.3 L242.0,1863.4 L243.5,1863.5 L245.0,1863.6 L246.5,1863.7 L248.0,1863.8 L249.5,1863.9 L251.0,1864.0 L252.5,1864.2 L254.0,1864.3 L255.5,1864.4 L257.0,1864.5 L258.5,1864.6 L260.0,1864.8 L261.5,1864.9 L263.0,1865.0 L264.5,1865.1 L266.0,1865.3 L267.5,1865.4 L269.0,1865.5 L270.5,1865.7 L272.0,1865.8 L273.5,1866.0 L275.0,1866.1 L276.5,1866.2 L278.0,1866.4 L279.5,1866.5 L281.0,1866.7 L282.5,1866.8 L284.0,1867.0 L285.5,1867.1 L287.0,1867.3 L288.5,1867.4 L290.0,1867.6 L291.5,1867.8 L293.0,1867.9 L294.5,1868.1 L296.0,1868.3 L297.5,1868.4 L299.0,1868.6 L300.5,1868.8 L302.0,1868.9 L303.5,1869.1 L305.0,1869.3 L306.5,1869.5 L308.0,1869.7 L309.5,1869.8 L311.0,1870.0 L312.5,1870.2 L314.0,1870.4 L315.5,1870.6 L317.0,1870.8 L318.5,1871.0 L320.0,1871.2 L321.5,1871.4 L323.0,1871.6 L324.5,1871.8 L326.0,1872.0 L327.5,1872.2 L329.0,1872.4 L330.5,1872.6 L332.0,1872.8 L333.5,1873.1 L335.0,1873.3 L336.5,1873.5 L338.0,1873.7 L339.5,1873.9 L341.0,1874.2 L342.5,1874.4 L344.0,1874.6 L345.5,1874.9 L347.0,1875.1 L348.5,1875.3 L350.0,1875.6 L351.5,1875.8 L353.0,1876.1 L354.5,1876.3 L356.0,1876.6 L357.5,1876.8 L359.0,1877.1 L360.5,1877.3 L362.0,1877.6 L363.5,1877.8 L365.0,1878.1 L366.5,1878.4 L368.0,1878.6 L369.5,1878.9 L371.0,1879.2 L372.5,1879.4 L374.0,1879.7 L375.5,1880.0 L377.0,1880.3 L378.5,1880.5 L380.0,1880.8 L381.5,1881.1 L383.0,1881.4 L384.5,1881.7 L386.0,1882.0 L387.5,1882.3 L389.0,1882.6 L390.5,1882.9 L392.0,1883.2 L393.5,1883.5 L395.0,1883.8 L396.5,1884.1 L398.0,1884.4 L399.5,1884.7 L401.0,1885.0 L402.5,1885.3 L404.0,1885.6 L405.5,1885.9 L407.0,1886.3 L408.5,1886.6 L410.0,1886.9 L411.5,1887.2 L413.0,1887.5 L414.5,1887.9 L416.0,1888.2 L417.5,1888.5 L419.0,1888.9 L420.5,1889.2 L422.0,1889.5 L423.5,1889.9 L425.0,1890.2 L426.5,1890.6 L428.0,1890.9 L429.5,1891.3 L431.0,1891.6 L432.5,1892.0 L434.0,1892.3 L435.5,1892.7 L437.0,1893.0 L438.5,1893.4 L440.0,1893.7 L441.5,1894.1 L443.0,1894.4 L444.5,1894.8 L446.0,1895.2 L447.5,1895.5 L449.0,1895.9 L450.5,1896.3 L452.0,1896.6 L453.5,1897.0 L455.0,1897.4 L456.5,1897.8 L458.0,1898.1 L459.5,1898.5 L461.0,1898.9 L462.5,1899.3 L464.0,1899.6 L465.5,1900.0 L467.0,1900.4 L468.5,1900.8 L470.0,1901.2 L471.5,1901.5 L473.0,1901.9 L474.5,1902.3 L476.0,1902.7 L477.5,1903.1 L479.0,1903.5 L480.5,1903.8 L482.0,1904.2 L483.5,1904.6 L485.0,1905.0 L486.5,1905.4 L488.0,1905.8 L489.5,1906.1 L491.0,1906.5 L492.5,1906.9 L494.0,1907.3 L495.5,1907.7 L497.0,1908.1 L498.5,1908.4 L500.0,1908.8 L501.5,1909.2 L503.0,1909.6 L504.5,1909.9 L506.0,1910.3 L507.5,1910.7 L509.0,1911.1 L510.5,1911.4 L512.0,1911.8 L513.5,1912.2 L515.0,1912.5 L516.5,1912.9 L518.0,1913.2 L519.5,1913.6 L521.0,1913.9 L522.5,1914.3 L524.0,1914.6 L525.5,1914.9 L527.0,1915.3 L528.5,1915.6 L530.0,1915.9 L531.5,1916.2 L533.0,1916.5 L534.5,1916.8 L536.0,1917.1 L537.5,1917.4 L539.0,1917.7 L540.5,1917.9 L542.0,1918.2 L543.5,1918.5 L545.0,1918.7 L546.5,1918.9 L548.0,1919.2 L549.5,1919.4 L551.0,1919.6 L552.5,1919.8 L554.0,1919.9 L555.5,1920.1 L557.0,1920.2 L558.5,1920.4 L560.0,1920.5 L561.5,1920.6 L563.0,1920.7 L564.5,1920.7 L566.0,1920.8 L567.5,1920.8 L569.0,1920.8 L570.5,1920.8 L572.0,1920.8 L573.5,1920.8 L575.0,1920.7 L576.5,1920.6 L578.0,1920.5 L579.5,1920.4 L581.0,1920.2 L582.5,1920.0 L584.0,1919.8 L585.5,1919.6 L587.0,1919.3 L588.5,1919.0 L590.0,1918.7 L591.5,1918.3 L593.0,1917.9 L594.5,1917.5 L596.0,1917.0 L597.5,1916.5 L599.0,1916.0 L600.5,1915.5 L602.0,1914.9 L603.5,1914.2 L605.0,1913.6 L606.5,1912.9 L608.0,1912.1 L609.5,1911.3 L611.0,1910.5 L612.5,1909.6 L614.0,1908.7 L615.5,1907.8 L617.0,1906.8 L618.5,1905.7 L620.0,1904.6 L621.5,1903.5 L623.0,1902.3 L624.5,1901.1 L626.0,1899.8 L627.5,1898.5 L629.0,1897.1 L630.5,1895.7 L632.0,1894.3 L633.5,1892.8 L635.0,1891.2 L636.5,1889.6 L638.0,1887.9 L639.5,1886.2 L641.0,1884.5 L642.5,1882.7 L644.0,1880.8 L645.5,1878.9 L647.0,1876.9 L648.5,1874.9 L650.0,1872.8 L651.5,1870.7 L653.0,1868.6 L654.5,1866.3 L656.0,1864.1 L657.5,1861.8 L659.0,1859.4 L660.5,1857.0 L662.0,1854.5 L663.5,1852.0 L665.0,1849.4 L666.5,1846.8 L668.0,1844.1 L669.5,1841.4 L671.0,1838.7 L672.5,1835.9 L674.0,1833.0 L675.5,1830.1 L677.0,1827.2 L678.5,1824.2 L680.0,1821.1 L681.5,1818.1 L683.0,1814.9 L684.5,1811.8 L686.0,1808.6 L687.5,1805.3 L689.0,1802.0 L690.5,1798.7 L692.0,1795.3 L693.5,1791.9 L695.0,1788.4 L696.5,1785.0 L698.0,1781.4 L699.5,1777.9 L701.0,1774.3 L702.5,1770.6 L704.0,1767.0 L705.5,1763.3 L707.0,1759.6 L708.5,1755.8 L710.0,1752.0 L711.5,1748.2 L713.0,1744.4 L714.5,1740.5 L716.0,1736.6 L717.5,1732.7 L719.0,1728.7 L720.5,1724.8 L722.0,1720.8 L723.5,1716.8 L725.0,1712.8 L726.5,1708.7 L728.0,1704.7 L729.5,1700.6 L731.0,1696.6 L732.5,1692.5 L734.0,1688.4 L735.5,1684.3 L737.0,1680.2 L738.5,1676.1 L740.0,1672.0 L741.5,1667.9 L743.0,1663.8 L744.5,1659.8 L746.0,1655.7 L747.5,1651.6 L749.0,1647.6 L750.5,1643.5 L752.0,1639.5 L753.5,1635.5 L755.0,1631.5 L756.5,1627.6 L758.0,1623.6 L759.5,1619.8 L761.0,1615.9 L762.5,1612.1 L764.0,1608.3 L765.5,1604.5 L767.0,1600.8 L768.5,1597.2 L770.0,1593.6 L771.5,1590.0 L773.0,1586.5 L774.5,1583.1 L776.0,1579.7 L777.5,1576.4 L779.0,1573.2 L780.5,1570.1 L782.0,1567.0 L783.5,1564.0 L785.0,1561.0 L786.5,1558.2 L788.0,1555.5 L789.5,1552.8 L791.0,1550.2 L792.5,1547.8 L794.0,1545.4 L795.5,1543.2 L797.0,1541.0 L798.5,1539.0 L800.0,1537.0 L801.5,1535.2 L803.0,1533.5 L804.5,1531.9 L806.0,1530.5 L807.5,1529.2 L809.0,1528.0 L810.5,1526.9 L812.0,1526.0 L813.5,1525.2 L815.0,1524.5 L816.5,1524.0 L818.0,1523.6 L819.5,1523.4 L821.0,1523.3 L822.5,1523.3 L824.0,1523.5 L825.5,1523.9 L827.0,1524.4 L828.5,1525.0 L830.0,1525.8 L831.5,1526.8 L833.0,1527.9 L834.5,1529.1 L836.0,1530.5 L837.5,1532.0 L839.0,1533.7 L840.5,1535.6 L842.0,1537.6 L843.5,1539.7 L845.0,1542.0 L846.5,1544.5 L848.0,1547.1 L849.5,1549.8 L851.0,1552.7 L852.5,1555.7 L854.0,1558.8 L855.5,1562.1 L857.0,1565.5 L858.5,1569.1 L860.0,1572.8 L861.5,1576.6 L863.0,1580.5 L864.5,1584.6 L866.0,1588.8 L867.5,1593.1 L869.0,1597.5 L870.5,1602.0 L872.0,1606.6 L873.5,1611.4 L875.0,1616.2 L876.5,1621.1 L878.0,1626.2 L879.5,1631.3 L881.0,1636.5 L882.5,1641.8 L884.0,1647.2 L885.5,1652.6 L887.0,1658.1 L888.5,1663.7 L890.0,1669.4 L891.5,1675.1 L893.0,1680.9 L894.5,1686.7 L896.0,1692.6 L897.5,1698.5 L899.0,1704.5 L900.5,1710.5 L902.0,1716.6 L903.5,1722.7 L905.0,1728.8 L906.5,1734.9 L908.0,1741.1 L909.5,1747.3 L911.0,1753.5 L912.5,1759.7 L914.0,1765.9 L915.5,1772.1 L917.0,1778.4 L918.5,1784.6 L920.0,1790.8 L921.5,1797.0 L923.0,1803.2 L924.5,1809.4 L926.0,1815.6 L927.5,1821.7 L929.0,1827.8 L930.5,1833.9 L932.0,1840.0 L933.5,1846.0 L935.0,1852.0 L936.5,1858.0 L938.0,1863.9 L939.5,1869.8 L941.0,1875.7 L942.5,1881.5 L944.0,1887.2 L945.5,1892.9 L947.0,1898.6 L948.5,1904.2 L950.0,1909.7 L951.5,1915.2 L953.0,1920.6 L954.5,1926.0 L956.0,1931.3 L957.5,1936.5 L959.0,1941.7 L960.5,1946.8 L962.0,1951.8 L963.5,1956.8 L965.0,1961.7 L966.5,1966.6 L968.0,1971.3 L969.5,1976.0 L971.0,1980.6 L972.5,1985.2 L974.0,1989.7 L975.5,1994.1 L977.0,1998.4 L978.5,2002.7 L980.0,2006.8 L981.5,2010.9 L983.0,2015.0 L984.5,2018.9 L986.0,2022.8 L987.5,2026.6 L989.0,2030.4 L990.5,2034.0 L992.0,2037.6 L993.5,2041.1 L995.0,2044.6 L996.5,2047.9 L998.0,2051.2 L999.5,2054.4 L1001.0,2057.6 L1002.5,2060.7 L1004.0,2063.7 L1005.5,2066.6 L1007.0,2069.5 L1008.5,2072.3 L1010.0,2075.0 L1011.5,2077.7 L1013.0,2080.3 L1014.5,2082.8 L1016.0,2085.3 L1017.5,2087.7 L1019.0,2090.0 L1020.5,2092.3 L1022.0,2094.5 L1023.5,2096.7 L1025.0,2098.8 L1026.5,2100.8 L1028.0,2102.8 L1029.5,2104.7 L1031.0,2106.6 L1032.5,2108.4 L1034.0,2110.2 L1035.5,2111.9 L1037.0,2113.6 L1038.5,2115.2 L1040.0,2116.8 L1041.5,2118.3 L1043.0,2119.7 L1044.5,2121.2 L1046.0,2122.6 L1047.5,2123.9 L1049.0,2125.2 L1050.5,2126.4 L1052.0,2127.6 L1053.5,2128.8 L1055.0,2130.0 L1056.5,2131.1 L1058.0,2132.1 L1059.5,2133.1 L1061.0,2134.1 L1062.5,2135.1 L1064.0,2136.0 L1065.5,2136.9 L1067.0,2137.7 L1068.5,2138.6 L1070.0,2139.4 L1071.5,2140.1 L1073.0,2140.9 L1074.5,2141.6 L1076.0,2142.3 L1077.5,2143.0 L1079.0,2143.6 L1080.5,2144.2 L1082.0,2144.8 L1083.5,2145.4 L1085.0,2145.9 L1086.5,2146.5 L1088.0,2147.0 L1089.5,2147.5 L1091.0,2147.9 L1092.5,2148.4 L1094.0,2148.8 L1095.5,2149.2 L1097.0,2149.6 L1098.5,2150.0 L1100.0,2150.4 L1101.5,2150.7 L1103.0,2151.1 L1104.5,2151.4 L1106.0,2151.7 L1107.5,2152.0 L1109.0,2152.3 L1110.5,2152.6 L1112.0,2152.9 L1113.5,2153.1 L1115.0,2153.4 L1116.5,2153.6 L1118.0,2153.8 L1119.5,2154.0 L1121.0,2154.2 L1122.5,2154.4 L1124.0,2154.6 L1125.5,2154.8 L1127.0,2155.0 L1128.5,2155.2 L1130.0,2155.3 L1131.5,2155.5 L1133.0,2155.6 L1134.5,2155.8 L1136.0,2155.9 L1137.5,2156.0 L1139.0,2156.2 L1140.5,2156.3 L1142.0,2156.4 L1143.5,2156.5 L1145.0,2156.6 L1146.5,2156.7 L1148.0,2156.8 L1149.5,2156.9 L1151.0,2157.0 L1152.5,2157.1 L1154.0,2157.2 L1155.5,2157.2 L1157.0,2157.3 L1158.5,2157.4 L1160.0,2157.5 L1161.5,2157.5 L1163.0,2157.6 L1164.5,2157.7 L1166.0,2157.7 L1167.5,2157.8 L1169.0,2157.8 L1170.5,2157.9 L1172.0,2157.9 L1173.5,2158.0 L1175.0,2158.0 L1176.5,2158.1 L1178.0,2158.1 L1179.5,2158.2 L1181.0,2158.2 L1182.5,2158.3 L1184.0,2158.3 L1185.5,2158.3 L1187.0,2158.4 L1188.5,2158.4 L1190.0,2158.5 L1191.5,2158.5 L1193.0,2158.5 L1194.5,2158.5 L1196.0,2158.6 L1197.5,2158.6 L1199.0,2158.6 L1200.5,2158.7 L1202.0,2158.7 L1203.5,2158.7 L1205.0,2158.7 L1206.5,2158.8 L1208.0,2158.8 L1209.5,2158.8 L1211.0,2158.8 L1212.5,2158.9 L1214.0,2158.9 L1215.5,2158.9 L1217.0,2158.9 L1218.5,2159.0 L1220.0,2159.0 L1221.5,2159.0 L1223.0,2159.0 L1224.5,2159.0 L1226.0,2159.1 L1227.5,2159.1 L1229.0,2159.1 L1230.5,2159.1 L1232.0,2159.1 L1233.5,2159.1 L1235.0,2159.2 L1236.5,2159.2 L1238.0,2159.2 L1239.5,2159.2 L1241.0,2159.2 L1242.5,2159.2 L1244.0,2159.3 L1245.5,2159.3 L1247.0,2159.3 L1248.5,2159.3 L1250.0,2159.3 L1251.5,2159.3 L1253.0,2159.3 L1254.5,2159.4 L1256.0,2159.4 L1257.5,2159.4 L1259.0,2159.4 L1260.5,2159.4 L1262.0,2159.4 L1263.5,2159.4 L1265.0,2159.4 L1266.5,2159.5 L1268.0,2159.5 L1269.5,2159.5 L1271.0,2159.5 L1272.5,2159.5 L1274.0,2159.5 L1275.5,2159.5 L1277.0,2159.5 L1278.5,2159.5 L1280.0,2159.6 L1281.5,2159.6 L1283.0,2159.6 L1284.5,2159.6 L1286.0,2159.6 L1287.5,2159.6 L1289.0,2159.6 L1290.5,2159.6 L1292.0,2159.6 L1293.5,2159.7 L1295.0,2159.7 L1296.5,2159.7 L1298.0,2159.7 L1299.5,2159.7 L1301.0,2159.7 L1302.5,2159.7 L1304.0,2159.7 L1305.5,2159.7 L1307.0,2159.7 L1308.5,2159.7 L1310.0,2159.8 L1311.5,2159.8 L1313.0,2159.8 L1314.5,2159.8 L1316.0,2159.8 L1317.5,2159.8 L1319.0,2159.8 L1320.5,2159.8 L1322.0,2159.8 L1323.5,2159.8 L1325.0,2159.8 L1326.5,2159.8 L1328.0,2159.9 L1329.5,2159.9 L1331.0,2159.9 L1332.5,2159.9 L1334.0,2159.9 L1335.5,2159.9 L1337.0,2159.9 L1338.5,2159.9 L1340.0,2159.9 L1341.5,2159.9 L1343.0,2159.9 L1344.5,2159.9 L1346.0,2159.9 L1347.5,2160.0 L1349.0,2160.0 L1350.5,2160.0 L1352.0,2160.0 L1353.5,2160.0 L1355.0,2160.0 L1356.5,2160.0 L1358.0,2160.0 L1359.5,2160.0 L1361.0,2160.0 L1362.5,2160.0 L1364.0,2160.0 L1365.5,2160.0 L1367.0,2160.0 L1368.5,2160.1 L1370.0,2160.1 L1371.5,2160.1" fill="none" stroke="#e8b426" stroke-width="3.7" stroke-linejoin="round"/>
</g>
<defs><clipPath id="clipb"><rect x="143.5" y="1228" width="1229.5" height="990"/></clipPath></defs>
<rect x="143.5" y="1228" width="1229.5" height="990" fill="none" stroke="#333" stroke-width="4.5"/>
<line x1="1373.00" y1="2218" x2="1373.00" y2="2238.6" stroke="#333" stroke-width="4"/>
<g transform="translate(1336.90,2286.55) scale(1,1.0259)" fill="#111" >
<text x="0.00" y="0.00" font-size="43.23" font-weight="normal" stroke="#111" stroke-width="0.90" stroke-linejoin="round" xml:space="preserve">845</text>
</g>
<line x1="1239.36" y1="2218" x2="1239.36" y2="2229.6" stroke="#333" stroke-width="4"/>
<line x1="1105.72" y1="2218" x2="1105.72" y2="2238.6" stroke="#333" stroke-width="4"/>
<g transform="translate(1069.63,2286.55) scale(1,1.0292)" fill="#111" >
<text x="0.00" y="0.00" font-size="43.09" font-weight="normal" stroke="#111" stroke-width="0.90" stroke-linejoin="round" xml:space="preserve">850</text>
</g>
<line x1="972.08" y1="2218" x2="972.08" y2="2229.6" stroke="#333" stroke-width="4"/>
<line x1="838.43" y1="2218" x2="838.43" y2="2238.6" stroke="#333" stroke-width="4"/>
<g transform="translate(802.34,2286.55) scale(1,1.0259)" fill="#111" >
<text x="0.00" y="0.00" font-size="43.23" font-weight="normal" stroke="#111" stroke-width="0.90" stroke-linejoin="round" xml:space="preserve">855</text>
</g>
<line x1="704.79" y1="2218" x2="704.79" y2="2229.6" stroke="#333" stroke-width="4"/>
<line x1="571.15" y1="2218" x2="571.15" y2="2238.6" stroke="#333" stroke-width="4"/>
<g transform="translate(535.06,2286.55) scale(1,1.0292)" fill="#111" >
<text x="0.00" y="0.00" font-size="43.09" font-weight="normal" stroke="#111" stroke-width="0.90" stroke-linejoin="round" xml:space="preserve">860</text>
</g>
<line x1="437.51" y1="2218" x2="437.51" y2="2229.6" stroke="#333" stroke-width="4"/>
<line x1="303.87" y1="2218" x2="303.87" y2="2238.6" stroke="#333" stroke-width="4"/>
<g transform="translate(267.77,2286.55) scale(1,1.0259)" fill="#111" >
<text x="0.00" y="0.00" font-size="43.23" font-weight="normal" stroke="#111" stroke-width="0.90" stroke-linejoin="round" xml:space="preserve">865</text>
</g>
<line x1="170.23" y1="2218" x2="170.23" y2="2229.6" stroke="#333" stroke-width="4"/>
<g transform="translate(156.57,1310.60) scale(1,1.0023)" fill="#000" >
<text x="0.00" y="0.00" font-size="92.54" font-weight="bold" xml:space="preserve">(b)</text>
</g>
<g transform="translate(646.92,1297.60) scale(1,1.0089)" fill="#000" >
<text x="0.00" y="0.00" font-size="73.55" font-weight="bold" xml:space="preserve">Ni2p</text>
<text x="159.37" y="19.68" font-size="48.54" font-weight="bold" xml:space="preserve">3/2</text>
</g>
<g transform="translate(877.06,1471.45) scale(1,1.0027)" fill="#000" >
<text x="0.00" y="0.00" font-size="35.27" font-weight="bold" stroke="#000" stroke-width="1.10" stroke-linejoin="round" xml:space="preserve">Ni2p</text>
<text x="76.43" y="9.50" font-size="23.28" font-weight="bold" stroke="#000" stroke-width="0.70" stroke-linejoin="round" xml:space="preserve">3/2</text>
<text x="108.78" y="0.00" font-size="35.27" font-weight="bold" stroke="#000" stroke-width="1.10" stroke-linejoin="round" xml:space="preserve"> NiO (855.2 eV)</text>
</g>
<g transform="translate(271.16,1536.45) scale(1,1.0046)" fill="#000" >
<text x="0.00" y="0.00" font-size="35.20" font-weight="bold" stroke="#000" stroke-width="1.10" stroke-linejoin="round" xml:space="preserve">Ni2p</text>
<text x="76.28" y="9.46" font-size="23.23" font-weight="bold" stroke="#000" stroke-width="0.70" stroke-linejoin="round" xml:space="preserve">3/2</text>
<text x="108.57" y="0.00" font-size="35.20" font-weight="bold" stroke="#000" stroke-width="1.10" stroke-linejoin="round" xml:space="preserve"> NiAl</text>
<text x="188.76" y="9.46" font-size="23.23" font-weight="bold" stroke="#000" stroke-width="0.70" stroke-linejoin="round" xml:space="preserve">2</text>
<text x="201.68" y="0.00" font-size="35.20" font-weight="bold" stroke="#000" stroke-width="1.10" stroke-linejoin="round" xml:space="preserve">O</text>
<text x="229.05" y="9.46" font-size="23.23" font-weight="bold" stroke="#000" stroke-width="0.70" stroke-linejoin="round" xml:space="preserve">4</text>
<text x="241.97" y="0.00" font-size="35.20" font-weight="bold" stroke="#000" stroke-width="1.10" stroke-linejoin="round" xml:space="preserve"> (856.6 eV)</text>
</g>
<g transform="translate(240.59,1680.45) scale(1,1.0874)" fill="#000" >
<text x="0.00" y="0.00" font-size="35.19" font-weight="bold" stroke="#000" stroke-width="1.10" stroke-linejoin="round" xml:space="preserve">Satelite</text>
</g>
<g transform="translate(780.92,1675.15) scale(1,1.0500)" fill="#000" >
<text x="0.00" y="0.00" font-size="45.13" font-weight="bold" stroke="#000" stroke-width="1.10" stroke-linejoin="round" xml:space="preserve">Ni</text>
<text x="45.13" y="-12.47" font-size="30.24" font-weight="bold" stroke="#000" stroke-width="0.70" stroke-linejoin="round" xml:space="preserve">2+</text>
</g>
<g transform="translate(1002.86,1962.45) scale(1,1.0031)" fill="#000" >
<text x="0.00" y="0.00" font-size="35.25" font-weight="bold" stroke="#000" stroke-width="1.10" stroke-linejoin="round" xml:space="preserve">Ni2p</text>
<text x="76.40" y="9.49" font-size="23.27" font-weight="bold" stroke="#000" stroke-width="0.70" stroke-linejoin="round" xml:space="preserve">3/2</text>
<text x="108.74" y="0.00" font-size="35.25" font-weight="bold" stroke="#000" stroke-width="1.10" stroke-linejoin="round" xml:space="preserve"> Ni</text>
<text x="153.79" y="-14.06" font-size="23.27" font-weight="bold" stroke="#000" stroke-width="0.70" stroke-linejoin="round" xml:space="preserve">0</text>
<text x="166.72" y="0.00" font-size="35.25" font-weight="bold" stroke="#000" stroke-width="1.10" stroke-linejoin="round" xml:space="preserve"> (852.7 eV)</text>
</g>
<g transform="translate(153.52,2185.50) scale(1,0.8554)" fill="#000" >
<text x="0.00" y="0.00" font-size="96.57" font-weight="bold" stroke="#000" stroke-width="4.00" stroke-linejoin="round" xml:space="preserve">Ni</text>
<text x="96.57" y="-31.95" font-size="65.67" font-weight="bold" stroke="#000" stroke-width="1.00" stroke-linejoin="round" xml:space="preserve">0</text>
<text x="133.09" y="0.00" font-size="96.57" font-weight="bold" stroke="#000" stroke-width="4.00" stroke-linejoin="round" xml:space="preserve">NiO</text>
<text x="304.77" y="0.00" font-size="96.57" font-weight="bold" stroke="#000" stroke-width="1.50" stroke-linejoin="round" xml:space="preserve">/</text>
<text x="331.60" y="0.00" font-size="96.57" font-weight="bold" stroke="#000" stroke-width="4.00" stroke-linejoin="round" xml:space="preserve">ATZ3</text>
<text x="565.86" y="33.87" font-size="78.22" font-weight="bold" stroke="#000" stroke-width="1.00" stroke-linejoin="round" xml:space="preserve">WI</text>
</g>
<g transform="translate(378.29,2384.40) scale(1,1.0464)" fill="#000" >
<text x="0.00" y="0.00" font-size="81.72" font-weight="bold" xml:space="preserve">Binding Energy (eV)</text>
</g>
<line x1="1061.0" y1="1508.6" x2="939.5" y2="1564.1" stroke="#222" stroke-width="2.2" stroke-linecap="round"/><path d="M919.5,1573.2 L938.2,1556.4 L944.4,1570.1 Z" fill="#000" stroke="#000" stroke-width="1.5" stroke-linejoin="round"/>
<line x1="581.4" y1="1589.9" x2="673.9" y2="1789.0" stroke="#222" stroke-width="2.2" stroke-linecap="round"/><path d="M683.2,1808.9 L666.3,1790.3 L679.9,1784.0 Z" fill="#000" stroke="#000" stroke-width="1.5" stroke-linejoin="round"/>
<line x1="1155.0" y1="1987.8" x2="1061.5" y2="2035.3" stroke="#222" stroke-width="2.2" stroke-linecap="round"/><path d="M1041.9,2045.3 L1059.9,2027.7 L1066.7,2041.1 Z" fill="#000" stroke="#000" stroke-width="1.5" stroke-linejoin="round"/>
<g transform="translate(90.2,1975.4) rotate(-90)"><g transform="translate(-5.36,0.00) scale(1,1.0368)" fill="#000" >
<text x="0.00" y="0.00" font-size="82.48" font-weight="bold" xml:space="preserve">Intensity (a.u.)</text>
</g></g>
<g clip-path="url(#clipc)">
<path d="M153.0,3140.8 L158.1,3142.2 L163.2,3137.5 L168.2,3132.4 L173.3,3134.6 L178.4,3130.0 L183.5,3136.4 L188.6,3144.3 L193.6,3130.4 L198.7,3128.3 L203.8,3134.7 L208.9,3132.4 L214.0,3129.2 L219.0,3120.3 L224.1,3124.9 L229.2,3128.1 L234.3,3111.8 L239.3,3115.9 L244.4,3103.5 L249.5,3105.4 L254.6,3098.9 L259.7,3107.4 L264.7,3097.2 L269.8,3104.9 L274.9,3100.8 L280.0,3094.9 L285.1,3074.9 L290.1,3084.8 L295.2,3084.2 L300.3,3081.0 L305.4,3065.1 L310.5,3067.9 L315.5,3059.6 L320.6,3055.8 L325.7,3063.7 L330.8,3045.2 L335.9,3045.0 L340.9,3045.7 L346.0,3029.5 L351.1,3026.6 L356.2,3021.9 L361.2,3015.2 L366.3,2999.6 L371.4,3002.1 L376.5,3004.3 L381.6,2977.2 L386.6,2987.1 L391.7,2975.0 L396.8,2962.8 L401.9,2974.4 L407.0,2958.9 L412.0,2938.4 L417.1,2940.6 L422.2,2937.5 L427.3,2925.8 L432.4,2925.7 L437.4,2914.4 L442.5,2913.8 L447.6,2913.8 L452.7,2893.9 L457.8,2895.3 L462.8,2886.4 L467.9,2886.6 L473.0,2873.9 L478.1,2875.1 L483.1,2875.3 L488.2,2881.0 L493.3,2838.0 L498.4,2863.0 L503.5,2866.3 L508.5,2876.6 L513.6,2858.9 L518.7,2870.9 L523.8,2875.4 L528.9,2887.4 L533.9,2886.5 L539.0,2882.9 L544.1,2886.6 L549.2,2891.9 L554.3,2909.1 L559.3,2900.6 L564.4,2907.0 L569.5,2917.4 L574.6,2920.1 L579.7,2925.7 L584.7,2925.6 L589.8,2939.6 L594.9,2942.9 L600.0,2960.3 L605.0,2962.3 L610.1,2962.9 L615.2,2972.8 L620.3,2970.3 L625.4,2984.0 L630.4,2980.0 L635.5,2986.7 L640.6,2975.3 L645.7,2987.5 L650.8,2972.8 L655.8,2968.8 L660.9,2977.9 L666.0,2969.2 L671.1,2970.6 L676.2,2977.3 L681.2,2946.0 L686.3,2935.9 L691.4,2928.1 L696.5,2914.6 L701.6,2892.6 L706.6,2873.8 L711.7,2860.1 L716.8,2837.7 L721.9,2805.0 L726.9,2790.0 L732.0,2769.7 L737.1,2742.1 L742.2,2732.8 L747.3,2708.0 L752.3,2705.4 L757.4,2685.6 L762.5,2671.5 L767.6,2653.9 L772.7,2644.9 L777.7,2619.9 L782.8,2614.8 L787.9,2615.3 L793.0,2589.2 L798.1,2603.3 L803.1,2581.1 L808.2,2597.6 L813.3,2588.8 L818.4,2606.2 L823.5,2611.4 L828.5,2613.1 L833.6,2649.2 L838.7,2670.2 L843.8,2681.8 L848.8,2704.6 L853.9,2731.8 L859.0,2753.7 L864.1,2796.3 L869.2,2813.0 L874.2,2844.2 L879.3,2866.3 L884.4,2893.9 L889.5,2915.0 L894.6,2957.4 L899.6,2971.3 L904.7,3001.7 L909.8,3016.7 L914.9,3032.8 L920.0,3055.8 L925.0,3074.1 L930.1,3097.5 L935.2,3113.9 L940.3,3133.0 L945.4,3143.7 L950.4,3165.2 L955.5,3197.9 L960.6,3196.6 L965.7,3208.2 L970.7,3231.5 L975.8,3251.9 L980.9,3244.0 L986.0,3264.0 L991.1,3271.5 L996.1,3273.2 L1001.2,3299.5 L1006.3,3302.8 L1011.4,3311.2 L1016.5,3312.4 L1021.5,3327.0 L1026.6,3325.5 L1031.7,3333.1 L1036.8,3330.5 L1041.9,3333.3 L1046.9,3354.2 L1052.0,3344.0 L1057.1,3352.3 L1062.2,3352.3 L1067.3,3351.4 L1072.3,3352.6 L1077.4,3361.9 L1082.5,3356.6 L1087.6,3358.7 L1092.6,3360.7 L1097.7,3369.5 L1102.8,3366.7 L1107.9,3365.1 L1113.0,3359.0 L1118.0,3353.6 L1123.1,3370.3 L1128.2,3370.7 L1133.3,3363.2 L1138.4,3368.2 L1143.4,3370.1 L1148.5,3370.6 L1153.6,3371.4 L1158.7,3362.0 L1163.8,3375.9 L1168.8,3356.7 L1173.9,3371.6 L1179.0,3369.1 L1184.1,3371.9 L1189.2,3379.1 L1194.2,3376.4 L1199.3,3358.1 L1204.4,3354.4 L1209.5,3372.0 L1214.5,3359.3 L1219.6,3366.4 L1224.7,3372.5 L1229.8,3355.2 L1234.9,3352.0 L1239.9,3368.6 L1245.0,3367.2 L1250.1,3365.3 L1255.2,3367.3 L1260.3,3361.1 L1265.3,3356.6 L1270.4,3366.1 L1275.5,3360.5 L1280.6,3355.9 L1285.7,3371.0 L1290.7,3367.1 L1295.8,3370.4 L1300.9,3360.7 L1306.0,3363.0 L1311.1,3360.7 L1316.1,3361.5 L1321.2,3369.2 L1326.3,3362.4 L1331.4,3370.4 L1336.4,3370.3 L1341.5,3382.1 L1346.6,3358.3 L1351.7,3374.3 L1356.8,3367.4 L1361.8,3368.0 L1366.9,3358.0" fill="none" stroke="#1a1a1a" stroke-width="2.8" stroke-linejoin="round"/>
<path d="M152.0,3159.4 L153.5,3159.4 L155.0,3159.4 L156.5,3159.4 L158.0,3159.4 L159.5,3159.4 L161.0,3159.4 L162.5,3159.4 L164.0,3159.4 L165.5,3159.4 L167.0,3159.4 L168.5,3159.4 L170.0,3159.4 L171.5,3159.4 L173.0,3159.4 L174.5,3159.4 L176.0,3159.4 L177.5,3159.4 L179.0,3159.4 L180.5,3159.4 L182.0,3159.5 L183.5,3159.5 L185.0,3159.5 L186.5,3159.5 L188.0,3159.5 L189.5,3159.5 L191.0,3159.5 L192.5,3159.5 L194.0,3159.5 L195.5,3159.5 L197.0,3159.5 L198.5,3159.5 L200.0,3159.5 L201.5,3159.6 L203.0,3159.6 L204.5,3159.6 L206.0,3159.6 L207.5,3159.6 L209.0,3159.6 L210.5,3159.6 L212.0,3159.6 L213.5,3159.6 L215.0,3159.7 L216.5,3159.7 L218.0,3159.7 L219.5,3159.7 L221.0,3159.7 L222.5,3159.7 L224.0,3159.7 L225.5,3159.8 L227.0,3159.8 L228.5,3159.8 L230.0,3159.8 L231.5,3159.8 L233.0,3159.9 L234.5,3159.9 L236.0,3159.9 L237.5,3159.9 L239.0,3159.9 L240.5,3160.0 L242.0,3160.0 L243.5,3160.0 L245.0,3160.1 L246.5,3160.1 L248.0,3160.1 L249.5,3160.1 L251.0,3160.2 L252.5,3160.2 L254.0,3160.2 L255.5,3160.3 L257.0,3160.3 L258.5,3160.3 L260.0,3160.4 L261.5,3160.4 L263.0,3160.5 L264.5,3160.5 L266.0,3160.5 L267.5,3160.6 L269.0,3160.6 L270.5,3160.7 L272.0,3160.7 L273.5,3160.8 L275.0,3160.8 L276.5,3160.9 L278.0,3160.9 L279.5,3161.0 L281.0,3161.0 L282.5,3161.1 L284.0,3161.1 L285.5,3161.2 L287.0,3161.3 L288.5,3161.3 L290.0,3161.4 L291.5,3161.5 L293.0,3161.5 L294.5,3161.6 L296.0,3161.7 L297.5,3161.8 L299.0,3161.8 L300.5,3161.9 L302.0,3162.0 L303.5,3162.1 L305.0,3162.2 L306.5,3162.3 L308.0,3162.4 L309.5,3162.4 L311.0,3162.5 L312.5,3162.6 L314.0,3162.7 L315.5,3162.8 L317.0,3162.9 L318.5,3163.1 L320.0,3163.2 L321.5,3163.3 L323.0,3163.4 L324.5,3163.5 L326.0,3163.6 L327.5,3163.8 L329.0,3163.9 L330.5,3164.0 L332.0,3164.1 L333.5,3164.3 L335.0,3164.4 L336.5,3164.6 L338.0,3164.7 L339.5,3164.9 L341.0,3165.0 L342.5,3165.2 L344.0,3165.3 L345.5,3165.5 L347.0,3165.6 L348.5,3165.8 L350.0,3166.0 L351.5,3166.1 L353.0,3166.3 L354.5,3166.5 L356.0,3166.7 L357.5,3166.9 L359.0,3167.1 L360.5,3167.3 L362.0,3167.4 L363.5,3167.6 L365.0,3167.9 L366.5,3168.1 L368.0,3168.3 L369.5,3168.5 L371.0,3168.7 L372.5,3168.9 L374.0,3169.2 L375.5,3169.4 L377.0,3169.6 L378.5,3169.9 L380.0,3170.1 L381.5,3170.3 L383.0,3170.6 L384.5,3170.8 L386.0,3171.1 L387.5,3171.4 L389.0,3171.6 L390.5,3171.9 L392.0,3172.2 L393.5,3172.4 L395.0,3172.7 L396.5,3173.0 L398.0,3173.3 L399.5,3173.6 L401.0,3173.9 L402.5,3174.2 L404.0,3174.5 L405.5,3174.8 L407.0,3175.1 L408.5,3175.4 L410.0,3175.7 L411.5,3176.0 L413.0,3176.4 L414.5,3176.7 L416.0,3177.0 L417.5,3177.4 L419.0,3177.7 L420.5,3178.1 L422.0,3178.4 L423.5,3178.8 L425.0,3179.1 L426.5,3179.5 L428.0,3179.8 L429.5,3180.2 L431.0,3180.6 L432.5,3180.9 L434.0,3181.3 L435.5,3181.7 L437.0,3182.1 L438.5,3182.4 L440.0,3182.8 L441.5,3183.2 L443.0,3183.6 L444.5,3184.0 L446.0,3184.4 L447.5,3184.8 L449.0,3185.2 L450.5,3185.6 L452.0,3186.0 L453.5,3186.5 L455.0,3186.9 L456.5,3187.3 L458.0,3187.7 L459.5,3188.1 L461.0,3188.6 L462.5,3189.0 L464.0,3189.4 L465.5,3189.8 L467.0,3190.3 L468.5,3190.7 L470.0,3191.2 L471.5,3191.6 L473.0,3192.0 L474.5,3192.5 L476.0,3192.9 L477.5,3193.4 L479.0,3193.8 L480.5,3194.3 L482.0,3194.7 L483.5,3195.2 L485.0,3195.6 L486.5,3196.1 L488.0,3196.5 L489.5,3197.0 L491.0,3197.4 L492.5,3197.9 L494.0,3198.4 L495.5,3198.8 L497.0,3199.3 L498.5,3199.7 L500.0,3200.2 L501.5,3200.7 L503.0,3201.1 L504.5,3201.6 L506.0,3202.0 L507.5,3202.5 L509.0,3203.0 L510.5,3203.4 L512.0,3203.9 L513.5,3204.3 L515.0,3204.8 L516.5,3205.2 L518.0,3205.7 L519.5,3206.2 L521.0,3206.6 L522.5,3207.1 L524.0,3207.5 L525.5,3208.0 L527.0,3208.4 L528.5,3208.9 L530.0,3209.3 L531.5,3209.8 L533.0,3210.2 L534.5,3210.7 L536.0,3211.1 L537.5,3211.6 L539.0,3212.0 L540.5,3212.4 L542.0,3212.9 L543.5,3213.3 L545.0,3213.7 L546.5,3214.2 L548.0,3214.6 L549.5,3215.0 L551.0,3215.5 L552.5,3215.9 L554.0,3216.3 L555.5,3216.7 L557.0,3217.1 L558.5,3217.6 L560.0,3218.0 L561.5,3218.4 L563.0,3218.8 L564.5,3219.2 L566.0,3219.6 L567.5,3220.0 L569.0,3220.4 L570.5,3220.8 L572.0,3221.2 L573.5,3221.6 L575.0,3222.0 L576.5,3222.4 L578.0,3222.8 L579.5,3223.1 L581.0,3223.5 L582.5,3223.9 L584.0,3224.3 L585.5,3224.7 L587.0,3225.0 L588.5,3225.4 L590.0,3225.8 L591.5,3226.2 L593.0,3226.5 L594.5,3226.9 L596.0,3227.2 L597.5,3227.6 L599.0,3228.0 L600.5,3228.3 L602.0,3228.7 L603.5,3229.0 L605.0,3229.4 L606.5,3229.7 L608.0,3230.1 L609.5,3230.4 L611.0,3230.8 L612.5,3231.1 L614.0,3231.5 L615.5,3231.8 L617.0,3232.2 L618.5,3232.5 L620.0,3232.8 L621.5,3233.2 L623.0,3233.5 L624.5,3233.9 L626.0,3234.2 L627.5,3234.6 L629.0,3234.9 L630.5,3235.2 L632.0,3235.6 L633.5,3235.9 L635.0,3236.3 L636.5,3236.6 L638.0,3236.9 L639.5,3237.3 L641.0,3237.6 L642.5,3238.0 L644.0,3238.3 L645.5,3238.7 L647.0,3239.0 L648.5,3239.4 L650.0,3239.7 L651.5,3240.1 L653.0,3240.4 L654.5,3240.8 L656.0,3241.2 L657.5,3241.5 L659.0,3241.9 L660.5,3242.3 L662.0,3242.6 L663.5,3243.0 L665.0,3243.4 L666.5,3243.8 L668.0,3244.2 L669.5,3244.6 L671.0,3244.9 L672.5,3245.3 L674.0,3245.7 L675.5,3246.2 L677.0,3246.6 L678.5,3247.0 L680.0,3247.4 L681.5,3247.8 L683.0,3248.2 L684.5,3248.7 L686.0,3249.1 L687.5,3249.6 L689.0,3250.0 L690.5,3250.5 L692.0,3250.9 L693.5,3251.4 L695.0,3251.9 L696.5,3252.3 L698.0,3252.8 L699.5,3253.3 L701.0,3253.8 L702.5,3254.3 L704.0,3254.8 L705.5,3255.4 L707.0,3255.9 L708.5,3256.4 L710.0,3256.9 L711.5,3257.5 L713.0,3258.0 L714.5,3258.6 L716.0,3259.2 L717.5,3259.7 L719.0,3260.3 L720.5,3260.9 L722.0,3261.5 L723.5,3262.1 L725.0,3262.7 L726.5,3263.3 L728.0,3263.9 L729.5,3264.6 L731.0,3265.2 L732.5,3265.8 L734.0,3266.5 L735.5,3267.2 L737.0,3267.8 L738.5,3268.5 L740.0,3269.2 L741.5,3269.9 L743.0,3270.6 L744.5,3271.3 L746.0,3272.0 L747.5,3272.7 L749.0,3273.4 L750.5,3274.1 L752.0,3274.9 L753.5,3275.6 L755.0,3276.4 L756.5,3277.1 L758.0,3277.9 L759.5,3278.7 L761.0,3279.4 L762.5,3280.2 L764.0,3281.0 L765.5,3281.8 L767.0,3282.6 L768.5,3283.4 L770.0,3284.2 L771.5,3285.0 L773.0,3285.8 L774.5,3286.6 L776.0,3287.5 L777.5,3288.3 L779.0,3289.1 L780.5,3290.0 L782.0,3290.8 L783.5,3291.7 L785.0,3292.5 L786.5,3293.4 L788.0,3294.2 L789.5,3295.1 L791.0,3295.9 L792.5,3296.8 L794.0,3297.7 L795.5,3298.5 L797.0,3299.4 L798.5,3300.3 L800.0,3301.1 L801.5,3302.0 L803.0,3302.9 L804.5,3303.7 L806.0,3304.6 L807.5,3305.5 L809.0,3306.4 L810.5,3307.2 L812.0,3308.1 L813.5,3309.0 L815.0,3309.8 L816.5,3310.7 L818.0,3311.6 L819.5,3312.4 L821.0,3313.3 L822.5,3314.2 L824.0,3315.0 L825.5,3315.9 L827.0,3316.7 L828.5,3317.6 L830.0,3318.4 L831.5,3319.2 L833.0,3320.1 L834.5,3320.9 L836.0,3321.7 L837.5,3322.6 L839.0,3323.4 L840.5,3324.2 L842.0,3325.0 L843.5,3325.8 L845.0,3326.6 L846.5,3327.4 L848.0,3328.2 L849.5,3329.0 L851.0,3329.7 L852.5,3330.5 L854.0,3331.3 L855.5,3332.0 L857.0,3332.8 L858.5,3333.5 L860.0,3334.2 L861.5,3334.9 L863.0,3335.7 L864.5,3336.4 L866.0,3337.1 L867.5,3337.8 L869.0,3338.5 L870.5,3339.1 L872.0,3339.8 L873.5,3340.5 L875.0,3341.1 L876.5,3341.8 L878.0,3342.4 L879.5,3343.0 L881.0,3343.6 L882.5,3344.2 L884.0,3344.8 L885.5,3345.4 L887.0,3346.0 L888.5,3346.6 L890.0,3347.2 L891.5,3347.7 L893.0,3348.3 L894.5,3348.8 L896.0,3349.3 L897.5,3349.9 L899.0,3350.4 L900.5,3350.9 L902.0,3351.4 L903.5,3351.9 L905.0,3352.3 L906.5,3352.8 L908.0,3353.3 L909.5,3353.7 L911.0,3354.2 L912.5,3354.6 L914.0,3355.0 L915.5,3355.4 L917.0,3355.8 L918.5,3356.2 L920.0,3356.6 L921.5,3357.0 L923.0,3357.4 L924.5,3357.8 L926.0,3358.1 L927.5,3358.5 L929.0,3358.8 L930.5,3359.1 L932.0,3359.5 L933.5,3359.8 L935.0,3360.1 L936.5,3360.4 L938.0,3360.7 L939.5,3361.0 L941.0,3361.3 L942.5,3361.5 L944.0,3361.8 L945.5,3362.1 L947.0,3362.3 L948.5,3362.6 L950.0,3362.8 L951.5,3363.0 L953.0,3363.3 L954.5,3363.5 L956.0,3363.7 L957.5,3363.9 L959.0,3364.1 L960.5,3364.3 L962.0,3364.5 L963.5,3364.7 L965.0,3364.9 L966.5,3365.0 L968.0,3365.2 L969.5,3365.4 L971.0,3365.5 L972.5,3365.7 L974.0,3365.8 L975.5,3366.0 L977.0,3366.1 L978.5,3366.3 L980.0,3366.4 L981.5,3366.5 L983.0,3366.7 L984.5,3366.8 L986.0,3366.9 L987.5,3367.0 L989.0,3367.1 L990.5,3367.2 L992.0,3367.3 L993.5,3367.4 L995.0,3367.5 L996.5,3367.6 L998.0,3367.7 L999.5,3367.8 L1001.0,3367.8 L1002.5,3367.9 L1004.0,3368.0 L1005.5,3368.1 L1007.0,3368.1 L1008.5,3368.2 L1010.0,3368.3 L1011.5,3368.3 L1013.0,3368.4 L1014.5,3368.5 L1016.0,3368.5 L1017.5,3368.6 L1019.0,3368.6 L1020.5,3368.7 L1022.0,3368.7 L1023.5,3368.8 L1025.0,3368.8 L1026.5,3368.8 L1028.0,3368.9 L1029.5,3368.9 L1031.0,3369.0 L1032.5,3369.0 L1034.0,3369.0 L1035.5,3369.1 L1037.0,3369.1 L1038.5,3369.1 L1040.0,3369.1 L1041.5,3369.2 L1043.0,3369.2 L1044.5,3369.2 L1046.0,3369.2 L1047.5,3369.3 L1049.0,3369.3 L1050.5,3369.3 L1052.0,3369.3 L1053.5,3369.3 L1055.0,3369.4 L1056.5,3369.4 L1058.0,3369.4 L1059.5,3369.4 L1061.0,3369.4 L1062.5,3369.4 L1064.0,3369.5 L1065.5,3369.5 L1067.0,3369.5 L1068.5,3369.5 L1070.0,3369.5 L1071.5,3369.5 L1073.0,3369.5 L1074.5,3369.5 L1076.0,3369.5 L1077.5,3369.5 L1079.0,3369.6 L1080.5,3369.6 L1082.0,3369.6 L1083.5,3369.6 L1085.0,3369.6 L1086.5,3369.6 L1088.0,3369.6 L1089.5,3369.6 L1091.0,3369.6 L1092.5,3369.6 L1094.0,3369.6 L1095.5,3369.6 L1097.0,3369.6 L1098.5,3369.6 L1100.0,3369.6 L1101.5,3369.6 L1103.0,3369.6 L1104.5,3369.6 L1106.0,3369.6 L1107.5,3369.6 L1109.0,3369.7 L1110.5,3369.7 L1112.0,3369.7 L1113.5,3369.7 L1115.0,3369.7 L1116.5,3369.7 L1118.0,3369.7 L1119.5,3369.7 L1121.0,3369.7 L1122.5,3369.7 L1124.0,3369.7 L1125.5,3369.7 L1127.0,3369.7 L1128.5,3369.7 L1130.0,3369.7 L1131.5,3369.7 L1133.0,3369.7 L1134.5,3369.7 L1136.0,3369.7 L1137.5,3369.7 L1139.0,3369.7 L1140.5,3369.7 L1142.0,3369.7 L1143.5,3369.7 L1145.0,3369.7 L1146.5,3369.7 L1148.0,3369.7 L1149.5,3369.7 L1151.0,3369.7 L1152.5,3369.7 L1154.0,3369.7 L1155.5,3369.7 L1157.0,3369.7 L1158.5,3369.7 L1160.0,3369.7 L1161.5,3369.7 L1163.0,3369.7 L1164.5,3369.7 L1166.0,3369.7 L1167.5,3369.7 L1169.0,3369.7 L1170.5,3369.7 L1172.0,3369.7 L1173.5,3369.7 L1175.0,3369.7 L1176.5,3369.7 L1178.0,3369.7 L1179.5,3369.7 L1181.0,3369.7 L1182.5,3369.7 L1184.0,3369.7 L1185.5,3369.7 L1187.0,3369.7 L1188.5,3369.7 L1190.0,3369.7 L1191.5,3369.7 L1193.0,3369.7 L1194.5,3369.7 L1196.0,3369.7 L1197.5,3369.7 L1199.0,3369.7 L1200.5,3369.7 L1202.0,3369.7 L1203.5,3369.7 L1205.0,3369.7 L1206.5,3369.7 L1208.0,3369.7 L1209.5,3369.7 L1211.0,3369.7 L1212.5,3369.7 L1214.0,3369.7 L1215.5,3369.7 L1217.0,3369.7 L1218.5,3369.7 L1220.0,3369.7 L1221.5,3369.7 L1223.0,3369.7 L1224.5,3369.7 L1226.0,3369.7 L1227.5,3369.7 L1229.0,3369.7 L1230.5,3369.7 L1232.0,3369.7 L1233.5,3369.7 L1235.0,3369.7 L1236.5,3369.7 L1238.0,3369.7 L1239.5,3369.7 L1241.0,3369.7 L1242.5,3369.7 L1244.0,3369.7 L1245.5,3369.7 L1247.0,3369.7 L1248.5,3369.7 L1250.0,3369.7 L1251.5,3369.7 L1253.0,3369.7 L1254.5,3369.7 L1256.0,3369.7 L1257.5,3369.7 L1259.0,3369.7 L1260.5,3369.7 L1262.0,3369.7 L1263.5,3369.7 L1265.0,3369.7 L1266.5,3369.7 L1268.0,3369.7 L1269.5,3369.7 L1271.0,3369.7 L1272.5,3369.7 L1274.0,3369.7 L1275.5,3369.7 L1277.0,3369.7 L1278.5,3369.7 L1280.0,3369.7 L1281.5,3369.7 L1283.0,3369.7 L1284.5,3369.7 L1286.0,3369.7 L1287.5,3369.7 L1289.0,3369.7 L1290.5,3369.7 L1292.0,3369.7 L1293.5,3369.7 L1295.0,3369.7 L1296.5,3369.7 L1298.0,3369.7 L1299.5,3369.7 L1301.0,3369.7 L1302.5,3369.7 L1304.0,3369.7 L1305.5,3369.7 L1307.0,3369.7 L1308.5,3369.7 L1310.0,3369.7 L1311.5,3369.7 L1313.0,3369.7 L1314.5,3369.7 L1316.0,3369.7 L1317.5,3369.7 L1319.0,3369.7 L1320.5,3369.7 L1322.0,3369.7 L1323.5,3369.7 L1325.0,3369.7 L1326.5,3369.7 L1328.0,3369.7 L1329.5,3369.7 L1331.0,3369.7 L1332.5,3369.7 L1334.0,3369.7 L1335.5,3369.7 L1337.0,3369.7 L1338.5,3369.7 L1340.0,3369.7 L1341.5,3369.7 L1343.0,3369.7 L1344.5,3369.7 L1346.0,3369.7 L1347.5,3369.7 L1349.0,3369.7 L1350.5,3369.7 L1352.0,3369.7 L1353.5,3369.7 L1355.0,3369.7 L1356.5,3369.7 L1358.0,3369.7 L1359.5,3369.7 L1361.0,3369.7 L1362.5,3369.7 L1364.0,3369.7 L1365.5,3369.7 L1367.0,3369.7 L1368.5,3369.7" fill="none" stroke="#2f7ee8" stroke-width="3.7"/>
<path d="M152.0,3145.5 L153.5,3145.3 L155.0,3145.2 L156.5,3145.0 L158.0,3144.8 L159.5,3144.6 L161.0,3144.4 L162.5,3144.2 L164.0,3144.0 L165.5,3143.8 L167.0,3143.6 L168.5,3143.4 L170.0,3143.1 L171.5,3142.9 L173.0,3142.7 L174.5,3142.4 L176.0,3142.2 L177.5,3141.9 L179.0,3141.7 L180.5,3141.4 L182.0,3141.1 L183.5,3140.9 L185.0,3140.6 L186.5,3140.3 L188.0,3140.0 L189.5,3139.7 L191.0,3139.4 L192.5,3139.1 L194.0,3138.8 L195.5,3138.4 L197.0,3138.1 L198.5,3137.7 L200.0,3137.4 L201.5,3137.0 L203.0,3136.7 L204.5,3136.3 L206.0,3135.9 L207.5,3135.5 L209.0,3135.1 L210.5,3134.7 L212.0,3134.3 L213.5,3133.8 L215.0,3133.4 L216.5,3132.9 L218.0,3132.5 L219.5,3132.0 L221.0,3131.5 L222.5,3131.0 L224.0,3130.5 L225.5,3130.0 L227.0,3129.5 L228.5,3129.0 L230.0,3128.4 L231.5,3127.9 L233.0,3127.3 L234.5,3126.7 L236.0,3126.1 L237.5,3125.5 L239.0,3124.9 L240.5,3124.3 L242.0,3123.6 L243.5,3123.0 L245.0,3122.3 L246.5,3121.6 L248.0,3120.9 L249.5,3120.2 L251.0,3119.5 L252.5,3118.8 L254.0,3118.0 L255.5,3117.3 L257.0,3116.5 L258.5,3115.7 L260.0,3114.9 L261.5,3114.1 L263.0,3113.2 L264.5,3112.4 L266.0,3111.5 L267.5,3110.6 L269.0,3109.7 L270.5,3108.8 L272.0,3107.9 L273.5,3106.9 L275.0,3106.0 L276.5,3105.0 L278.0,3104.0 L279.5,3103.0 L281.0,3101.9 L282.5,3100.9 L284.0,3099.8 L285.5,3098.8 L287.0,3097.7 L288.5,3096.5 L290.0,3095.4 L291.5,3094.3 L293.0,3093.1 L294.5,3091.9 L296.0,3090.7 L297.5,3089.5 L299.0,3088.2 L300.5,3087.0 L302.0,3085.7 L303.5,3084.4 L305.0,3083.1 L306.5,3081.8 L308.0,3080.4 L309.5,3079.1 L311.0,3077.7 L312.5,3076.3 L314.0,3074.9 L315.5,3073.5 L317.0,3072.0 L318.5,3070.5 L320.0,3069.0 L321.5,3067.5 L323.0,3066.0 L324.5,3064.5 L326.0,3062.9 L327.5,3061.4 L329.0,3059.8 L330.5,3058.2 L332.0,3056.5 L333.5,3054.9 L335.0,3053.2 L336.5,3051.6 L338.0,3049.9 L339.5,3048.2 L341.0,3046.4 L342.5,3044.7 L344.0,3042.9 L345.5,3041.2 L347.0,3039.4 L348.5,3037.6 L350.0,3035.8 L351.5,3034.0 L353.0,3032.1 L354.5,3030.3 L356.0,3028.4 L357.5,3026.5 L359.0,3024.6 L360.5,3022.7 L362.0,3020.8 L363.5,3018.9 L365.0,3017.0 L366.5,3015.0 L368.0,3013.0 L369.5,3011.1 L371.0,3009.1 L372.5,3007.1 L374.0,3005.1 L375.5,3003.1 L377.0,3001.1 L378.5,2999.1 L380.0,2997.1 L381.5,2995.0 L383.0,2993.0 L384.5,2991.0 L386.0,2988.9 L387.5,2986.9 L389.0,2984.8 L390.5,2982.8 L392.0,2980.7 L393.5,2978.7 L395.0,2976.6 L396.5,2974.6 L398.0,2972.5 L399.5,2970.4 L401.0,2968.4 L402.5,2966.3 L404.0,2964.3 L405.5,2962.3 L407.0,2960.2 L408.5,2958.2 L410.0,2956.2 L411.5,2954.1 L413.0,2952.1 L414.5,2950.1 L416.0,2948.1 L417.5,2946.2 L419.0,2944.2 L420.5,2942.2 L422.0,2940.3 L423.5,2938.4 L425.0,2936.4 L426.5,2934.5 L428.0,2932.7 L429.5,2930.8 L431.0,2928.9 L432.5,2927.1 L434.0,2925.3 L435.5,2923.5 L437.0,2921.7 L438.5,2920.0 L440.0,2918.3 L441.5,2916.6 L443.0,2914.9 L444.5,2913.2 L446.0,2911.6 L447.5,2910.0 L449.0,2908.5 L450.5,2906.9 L452.0,2905.4 L453.5,2904.0 L455.0,2902.5 L456.5,2901.1 L458.0,2899.8 L459.5,2898.4 L461.0,2897.1 L462.5,2895.9 L464.0,2894.7 L465.5,2893.5 L467.0,2892.4 L468.5,2891.3 L470.0,2890.2 L471.5,2889.2 L473.0,2888.3 L474.5,2887.3 L476.0,2886.5 L477.5,2885.6 L479.0,2884.9 L480.5,2884.1 L482.0,2883.5 L483.5,2882.8 L485.0,2882.2 L486.5,2881.7 L488.0,2881.2 L489.5,2880.8 L491.0,2880.4 L492.5,2880.1 L494.0,2879.9 L495.5,2879.6 L497.0,2879.5 L498.5,2879.4 L500.0,2879.3 L501.5,2879.4 L503.0,2879.4 L504.5,2879.5 L506.0,2879.7 L507.5,2880.0 L509.0,2880.3 L510.5,2880.6 L512.0,2881.0 L513.5,2881.5 L515.0,2882.0 L516.5,2882.6 L518.0,2883.2 L519.5,2883.9 L521.0,2884.6 L522.5,2885.4 L524.0,2886.3 L525.5,2887.2 L527.0,2888.2 L528.5,2889.2 L530.0,2890.3 L531.5,2891.4 L533.0,2892.6 L534.5,2893.8 L536.0,2895.1 L537.5,2896.4 L539.0,2897.8 L540.5,2899.2 L542.0,2900.7 L543.5,2902.2 L545.0,2903.8 L546.5,2905.4 L548.0,2907.1 L549.5,2908.8 L551.0,2910.5 L552.5,2912.3 L554.0,2914.2 L555.5,2916.1 L557.0,2918.0 L558.5,2919.9 L560.0,2921.9 L561.5,2923.9 L563.0,2926.0 L564.5,2928.1 L566.0,2930.2 L567.5,2932.4 L569.0,2934.6 L570.5,2936.8 L572.0,2939.1 L573.5,2941.3 L575.0,2943.6 L576.5,2946.0 L578.0,2948.3 L579.5,2950.7 L581.0,2953.1 L582.5,2955.6 L584.0,2958.0 L585.5,2960.5 L587.0,2963.0 L588.5,2965.5 L590.0,2968.0 L591.5,2970.5 L593.0,2973.1 L594.5,2975.7 L596.0,2978.2 L597.5,2980.8 L599.0,2983.4 L600.5,2986.1 L602.0,2988.7 L603.5,2991.3 L605.0,2994.0 L606.5,2996.6 L608.0,2999.3 L609.5,3002.0 L611.0,3004.6 L612.5,3007.3 L614.0,3010.0 L615.5,3012.7 L617.0,3015.4 L618.5,3018.1 L620.0,3020.7 L621.5,3023.4 L623.0,3026.1 L624.5,3028.8 L626.0,3031.5 L627.5,3034.2 L629.0,3036.9 L630.5,3039.6 L632.0,3042.2 L633.5,3044.9 L635.0,3047.6 L636.5,3050.2 L638.0,3052.9 L639.5,3055.5 L641.0,3058.2 L642.5,3060.8 L644.0,3063.4 L645.5,3066.1 L647.0,3068.7 L648.5,3071.3 L650.0,3073.9 L651.5,3076.5 L653.0,3079.0 L654.5,3081.6 L656.0,3084.2 L657.5,3086.7 L659.0,3089.2 L660.5,3091.8 L662.0,3094.3 L663.5,3096.8 L665.0,3099.3 L666.5,3101.7 L668.0,3104.2 L669.5,3106.6 L671.0,3109.1 L672.5,3111.5 L674.0,3113.9 L675.5,3116.3 L677.0,3118.7 L678.5,3121.1 L680.0,3123.5 L681.5,3125.8 L683.0,3128.1 L684.5,3130.5 L686.0,3132.8 L687.5,3135.1 L689.0,3137.3 L690.5,3139.6 L692.0,3141.9 L693.5,3144.1 L695.0,3146.3 L696.5,3148.5 L698.0,3150.7 L699.5,3152.9 L701.0,3155.1 L702.5,3157.2 L704.0,3159.4 L705.5,3161.5 L707.0,3163.6 L708.5,3165.7 L710.0,3167.8 L711.5,3169.9 L713.0,3172.0 L714.5,3174.0 L716.0,3176.1 L717.5,3178.1 L719.0,3180.1 L720.5,3182.1 L722.0,3184.1 L723.5,3186.0 L725.0,3188.0 L726.5,3190.0 L728.0,3191.9 L729.5,3193.8 L731.0,3195.7 L732.5,3197.6 L734.0,3199.5 L735.5,3201.4 L737.0,3203.2 L738.5,3205.1 L740.0,3206.9 L741.5,3208.8 L743.0,3210.6 L744.5,3212.4 L746.0,3214.2 L747.5,3215.9 L749.0,3217.7 L750.5,3219.5 L752.0,3221.2 L753.5,3222.9 L755.0,3224.7 L756.5,3226.4 L758.0,3228.1 L759.5,3229.8 L761.0,3231.5 L762.5,3233.1 L764.0,3234.8 L765.5,3236.4 L767.0,3238.1 L768.5,3239.7 L770.0,3241.3 L771.5,3242.9 L773.0,3244.5 L774.5,3246.1 L776.0,3247.7 L777.5,3249.3 L779.0,3250.8 L780.5,3252.4 L782.0,3253.9 L783.5,3255.4 L785.0,3256.9 L786.5,3258.4 L788.0,3259.9 L789.5,3261.4 L791.0,3262.9 L792.5,3264.3 L794.0,3265.8 L795.5,3267.2 L797.0,3268.7 L798.5,3270.1 L800.0,3271.5 L801.5,3272.9 L803.0,3274.3 L804.5,3275.6 L806.0,3277.0 L807.5,3278.4 L809.0,3279.7 L810.5,3281.0 L812.0,3282.4 L813.5,3283.7 L815.0,3285.0 L816.5,3286.3 L818.0,3287.5 L819.5,3288.8 L821.0,3290.1 L822.5,3291.3 L824.0,3292.6 L825.5,3293.8 L827.0,3295.0 L828.5,3296.2 L830.0,3297.4 L831.5,3298.6 L833.0,3299.7 L834.5,3300.9 L836.0,3302.0 L837.5,3303.1 L839.0,3304.3 L840.5,3305.4 L842.0,3306.5 L843.5,3307.5 L845.0,3308.6 L846.5,3309.7 L848.0,3310.7 L849.5,3311.8 L851.0,3312.8 L852.5,3313.8 L854.0,3314.8 L855.5,3315.8 L857.0,3316.7 L858.5,3317.7 L860.0,3318.6 L861.5,3319.6 L863.0,3320.5 L864.5,3321.4 L866.0,3322.3 L867.5,3323.2 L869.0,3324.1 L870.5,3324.9 L872.0,3325.8 L873.5,3326.6 L875.0,3327.5 L876.5,3328.3 L878.0,3329.1 L879.5,3329.9 L881.0,3330.6 L882.5,3331.4 L884.0,3332.1 L885.5,3332.9 L887.0,3333.6 L888.5,3334.3 L890.0,3335.0 L891.5,3335.7 L893.0,3336.4 L894.5,3337.1 L896.0,3337.7 L897.5,3338.4 L899.0,3339.0 L900.5,3339.6 L902.0,3340.2 L903.5,3340.8 L905.0,3341.4 L906.5,3342.0 L908.0,3342.6 L909.5,3343.1 L911.0,3343.7 L912.5,3344.2 L914.0,3344.7 L915.5,3345.2 L917.0,3345.7 L918.5,3346.2 L920.0,3346.7 L921.5,3347.2 L923.0,3347.7 L924.5,3348.1 L926.0,3348.6 L927.5,3349.0 L929.0,3349.4 L930.5,3349.8 L932.0,3350.2 L933.5,3350.6 L935.0,3351.0 L936.5,3351.4 L938.0,3351.8 L939.5,3352.1 L941.0,3352.5 L942.5,3352.8 L944.0,3353.1 L945.5,3353.5 L947.0,3353.8 L948.5,3354.1 L950.0,3354.4 L951.5,3354.7 L953.0,3355.0 L954.5,3355.3 L956.0,3355.6 L957.5,3355.8 L959.0,3356.1 L960.5,3356.3 L962.0,3356.6 L963.5,3356.8 L965.0,3357.1 L966.5,3357.3 L968.0,3357.5 L969.5,3357.7 L971.0,3358.0 L972.5,3358.2 L974.0,3358.4 L975.5,3358.6 L977.0,3358.7 L978.5,3358.9 L980.0,3359.1 L981.5,3359.3 L983.0,3359.5 L984.5,3359.6 L986.0,3359.8 L987.5,3359.9 L989.0,3360.1 L990.5,3360.2 L992.0,3360.4 L993.5,3360.5 L995.0,3360.7 L996.5,3360.8 L998.0,3360.9 L999.5,3361.0 L1001.0,3361.2 L1002.5,3361.3 L1004.0,3361.4 L1005.5,3361.5 L1007.0,3361.6 L1008.5,3361.7 L1010.0,3361.8 L1011.5,3361.9 L1013.0,3362.0 L1014.5,3362.1 L1016.0,3362.2 L1017.5,3362.3 L1019.0,3362.4 L1020.5,3362.5 L1022.0,3362.6 L1023.5,3362.6 L1025.0,3362.7 L1026.5,3362.8 L1028.0,3362.9 L1029.5,3362.9 L1031.0,3363.0 L1032.5,3363.1 L1034.0,3363.1 L1035.5,3363.2 L1037.0,3363.3 L1038.5,3363.3 L1040.0,3363.4 L1041.5,3363.4 L1043.0,3363.5 L1044.5,3363.6 L1046.0,3363.6 L1047.5,3363.7 L1049.0,3363.7 L1050.5,3363.8 L1052.0,3363.8 L1053.5,3363.9 L1055.0,3363.9 L1056.5,3363.9 L1058.0,3364.0 L1059.5,3364.0 L1061.0,3364.1 L1062.5,3364.1 L1064.0,3364.2 L1065.5,3364.2 L1067.0,3364.2 L1068.5,3364.3 L1070.0,3364.3 L1071.5,3364.4 L1073.0,3364.4 L1074.5,3364.4 L1076.0,3364.5 L1077.5,3364.5 L1079.0,3364.5 L1080.5,3364.6 L1082.0,3364.6 L1083.5,3364.6 L1085.0,3364.7 L1086.5,3364.7 L1088.0,3364.7 L1089.5,3364.7 L1091.0,3364.8 L1092.5,3364.8 L1094.0,3364.8 L1095.5,3364.9 L1097.0,3364.9 L1098.5,3364.9 L1100.0,3364.9 L1101.5,3365.0 L1103.0,3365.0 L1104.5,3365.0 L1106.0,3365.0 L1107.5,3365.1 L1109.0,3365.1 L1110.5,3365.1 L1112.0,3365.1 L1113.5,3365.2 L1115.0,3365.2 L1116.5,3365.2 L1118.0,3365.2 L1119.5,3365.3 L1121.0,3365.3 L1122.5,3365.3 L1124.0,3365.3 L1125.5,3365.3 L1127.0,3365.4 L1128.5,3365.4 L1130.0,3365.4 L1131.5,3365.4 L1133.0,3365.4 L1134.5,3365.5 L1136.0,3365.5 L1137.5,3365.5 L1139.0,3365.5 L1140.5,3365.5 L1142.0,3365.6 L1143.5,3365.6 L1145.0,3365.6 L1146.5,3365.6 L1148.0,3365.6 L1149.5,3365.7 L1151.0,3365.7 L1152.5,3365.7 L1154.0,3365.7 L1155.5,3365.7 L1157.0,3365.8 L1158.5,3365.8 L1160.0,3365.8 L1161.5,3365.8 L1163.0,3365.8 L1164.5,3365.8 L1166.0,3365.9 L1167.5,3365.9 L1169.0,3365.9 L1170.5,3365.9 L1172.0,3365.9 L1173.5,3365.9 L1175.0,3366.0 L1176.5,3366.0 L1178.0,3366.0 L1179.5,3366.0 L1181.0,3366.0 L1182.5,3366.0 L1184.0,3366.1 L1185.5,3366.1 L1187.0,3366.1 L1188.5,3366.1 L1190.0,3366.1 L1191.5,3366.1 L1193.0,3366.1 L1194.5,3366.2 L1196.0,3366.2 L1197.5,3366.2 L1199.0,3366.2 L1200.5,3366.2 L1202.0,3366.2 L1203.5,3366.2 L1205.0,3366.3 L1206.5,3366.3 L1208.0,3366.3 L1209.5,3366.3 L1211.0,3366.3 L1212.5,3366.3 L1214.0,3366.3 L1215.5,3366.4 L1217.0,3366.4 L1218.5,3366.4 L1220.0,3366.4 L1221.5,3366.4 L1223.0,3366.4 L1224.5,3366.4 L1226.0,3366.5 L1227.5,3366.5 L1229.0,3366.5 L1230.5,3366.5 L1232.0,3366.5 L1233.5,3366.5 L1235.0,3366.5 L1236.5,3366.5 L1238.0,3366.6 L1239.5,3366.6 L1241.0,3366.6 L1242.5,3366.6 L1244.0,3366.6 L1245.5,3366.6 L1247.0,3366.6 L1248.5,3366.6 L1250.0,3366.7 L1251.5,3366.7 L1253.0,3366.7 L1254.5,3366.7 L1256.0,3366.7 L1257.5,3366.7 L1259.0,3366.7 L1260.5,3366.7 L1262.0,3366.7 L1263.5,3366.8 L1265.0,3366.8 L1266.5,3366.8 L1268.0,3366.8 L1269.5,3366.8 L1271.0,3366.8 L1272.5,3366.8 L1274.0,3366.8 L1275.5,3366.8 L1277.0,3366.9 L1278.5,3366.9 L1280.0,3366.9 L1281.5,3366.9 L1283.0,3366.9 L1284.5,3366.9 L1286.0,3366.9 L1287.5,3366.9 L1289.0,3366.9 L1290.5,3367.0 L1292.0,3367.0 L1293.5,3367.0 L1295.0,3367.0 L1296.5,3367.0 L1298.0,3367.0 L1299.5,3367.0 L1301.0,3367.0 L1302.5,3367.0 L1304.0,3367.0 L1305.5,3367.1 L1307.0,3367.1 L1308.5,3367.1 L1310.0,3367.1 L1311.5,3367.1 L1313.0,3367.1 L1314.5,3367.1 L1316.0,3367.1 L1317.5,3367.1 L1319.0,3367.1 L1320.5,3367.1 L1322.0,3367.2 L1323.5,3367.2 L1325.0,3367.2 L1326.5,3367.2 L1328.0,3367.2 L1329.5,3367.2 L1331.0,3367.2 L1332.5,3367.2 L1334.0,3367.2 L1335.5,3367.2 L1337.0,3367.2 L1338.5,3367.3 L1340.0,3367.3 L1341.5,3367.3 L1343.0,3367.3 L1344.5,3367.3 L1346.0,3367.3 L1347.5,3367.3 L1349.0,3367.3 L1350.5,3367.3 L1352.0,3367.3 L1353.5,3367.3 L1355.0,3367.3 L1356.5,3367.4 L1358.0,3367.4 L1359.5,3367.4 L1361.0,3367.4 L1362.5,3367.4 L1364.0,3367.4 L1365.5,3367.4 L1367.0,3367.4 L1368.5,3367.4" fill="none" stroke="#bf6cf5" stroke-width="3.7" stroke-linejoin="round"/>
<path d="M152.0,3146.9 L153.5,3146.7 L155.0,3146.5 L156.5,3146.4 L158.0,3146.2 L159.5,3146.0 L161.0,3145.8 L162.5,3145.6 L164.0,3145.4 L165.5,3145.2 L167.0,3145.0 L168.5,3144.8 L170.0,3144.6 L171.5,3144.4 L173.0,3144.1 L174.5,3143.9 L176.0,3143.7 L177.5,3143.4 L179.0,3143.2 L180.5,3142.9 L182.0,3142.6 L183.5,3142.4 L185.0,3142.1 L186.5,3141.8 L188.0,3141.5 L189.5,3141.2 L191.0,3140.9 L192.5,3140.6 L194.0,3140.3 L195.5,3140.0 L197.0,3139.6 L198.5,3139.3 L200.0,3138.9 L201.5,3138.6 L203.0,3138.2 L204.5,3137.8 L206.0,3137.5 L207.5,3137.1 L209.0,3136.7 L210.5,3136.3 L212.0,3135.8 L213.5,3135.4 L215.0,3135.0 L216.5,3134.5 L218.0,3134.1 L219.5,3133.6 L221.0,3133.1 L222.5,3132.6 L224.0,3132.1 L225.5,3131.6 L227.0,3131.1 L228.5,3130.5 L230.0,3130.0 L231.5,3129.4 L233.0,3128.9 L234.5,3128.3 L236.0,3127.7 L237.5,3127.1 L239.0,3126.5 L240.5,3125.8 L242.0,3125.2 L243.5,3124.5 L245.0,3123.8 L246.5,3123.1 L248.0,3122.4 L249.5,3121.7 L251.0,3121.0 L252.5,3120.3 L254.0,3119.5 L255.5,3118.7 L257.0,3117.9 L258.5,3117.1 L260.0,3116.3 L261.5,3115.5 L263.0,3114.6 L264.5,3113.8 L266.0,3112.9 L267.5,3112.0 L269.0,3111.1 L270.5,3110.2 L272.0,3109.2 L273.5,3108.3 L275.0,3107.3 L276.5,3106.3 L278.0,3105.3 L279.5,3104.3 L281.0,3103.2 L282.5,3102.1 L284.0,3101.1 L285.5,3100.0 L287.0,3098.9 L288.5,3097.7 L290.0,3096.6 L291.5,3095.4 L293.0,3094.2 L294.5,3093.0 L296.0,3091.8 L297.5,3090.6 L299.0,3089.3 L300.5,3088.0 L302.0,3086.7 L303.5,3085.4 L305.0,3084.1 L306.5,3082.7 L308.0,3081.4 L309.5,3080.0 L311.0,3078.6 L312.5,3077.2 L314.0,3075.7 L315.5,3074.3 L317.0,3072.8 L318.5,3071.3 L320.0,3069.8 L321.5,3068.3 L323.0,3066.7 L324.5,3065.2 L326.0,3063.6 L327.5,3062.0 L329.0,3060.4 L330.5,3058.7 L332.0,3057.1 L333.5,3055.4 L335.0,3053.8 L336.5,3052.1 L338.0,3050.3 L339.5,3048.6 L341.0,3046.9 L342.5,3045.1 L344.0,3043.3 L345.5,3041.5 L347.0,3039.7 L348.5,3037.9 L350.0,3036.1 L351.5,3034.2 L353.0,3032.4 L354.5,3030.5 L356.0,3028.6 L357.5,3026.7 L359.0,3024.8 L360.5,3022.9 L362.0,3021.0 L363.5,3019.0 L365.0,3017.1 L366.5,3015.1 L368.0,3013.1 L369.5,3011.1 L371.0,3009.1 L372.5,3007.1 L374.0,3005.1 L375.5,3003.1 L377.0,3001.1 L378.5,2999.1 L380.0,2997.0 L381.5,2995.0 L383.0,2992.9 L384.5,2990.9 L386.0,2988.8 L387.5,2986.8 L389.0,2984.7 L390.5,2982.7 L392.0,2980.6 L393.5,2978.5 L395.0,2976.5 L396.5,2974.4 L398.0,2972.3 L399.5,2970.3 L401.0,2968.2 L402.5,2966.2 L404.0,2964.1 L405.5,2962.1 L407.0,2960.0 L408.5,2958.0 L410.0,2956.0 L411.5,2954.0 L413.0,2952.0 L414.5,2950.0 L416.0,2948.0 L417.5,2946.0 L419.0,2944.0 L420.5,2942.1 L422.0,2940.1 L423.5,2938.2 L425.0,2936.3 L426.5,2934.4 L428.0,2932.5 L429.5,2930.6 L431.0,2928.8 L432.5,2927.0 L434.0,2925.1 L435.5,2923.4 L437.0,2921.6 L438.5,2919.8 L440.0,2918.1 L441.5,2916.4 L443.0,2914.7 L444.5,2913.1 L446.0,2911.4 L447.5,2909.8 L449.0,2908.3 L450.5,2906.7 L452.0,2905.2 L453.5,2903.7 L455.0,2902.3 L456.5,2900.9 L458.0,2899.5 L459.5,2898.1 L461.0,2896.8 L462.5,2895.5 L464.0,2894.3 L465.5,2893.0 L467.0,2891.9 L468.5,2890.7 L470.0,2889.6 L471.5,2888.6 L473.0,2887.5 L474.5,2886.6 L476.0,2885.6 L477.5,2884.7 L479.0,2883.9 L480.5,2883.1 L482.0,2882.3 L483.5,2881.6 L485.0,2880.9 L486.5,2880.3 L488.0,2879.7 L489.5,2879.1 L491.0,2878.6 L492.5,2878.2 L494.0,2877.8 L495.5,2877.4 L497.0,2877.1 L498.5,2876.9 L500.0,2876.7 L501.5,2876.5 L503.0,2876.4 L504.5,2876.3 L506.0,2876.3 L507.5,2876.4 L509.0,2876.5 L510.5,2876.6 L512.0,2876.8 L513.5,2877.0 L515.0,2877.3 L516.5,2877.6 L518.0,2878.0 L519.5,2878.4 L521.0,2878.9 L522.5,2879.4 L524.0,2880.0 L525.5,2880.6 L527.0,2881.3 L528.5,2882.0 L530.0,2882.8 L531.5,2883.6 L533.0,2884.4 L534.5,2885.3 L536.0,2886.2 L537.5,2887.2 L539.0,2888.2 L540.5,2889.3 L542.0,2890.4 L543.5,2891.5 L545.0,2892.7 L546.5,2893.9 L548.0,2895.2 L549.5,2896.4 L551.0,2897.8 L552.5,2899.1 L554.0,2900.5 L555.5,2901.9 L557.0,2903.4 L558.5,2904.8 L560.0,2906.4 L561.5,2907.9 L563.0,2909.4 L564.5,2911.0 L566.0,2912.6 L567.5,2914.3 L569.0,2915.9 L570.5,2917.6 L572.0,2919.3 L573.5,2921.0 L575.0,2922.7 L576.5,2924.4 L578.0,2926.2 L579.5,2927.9 L581.0,2929.7 L582.5,2931.5 L584.0,2933.3 L585.5,2935.1 L587.0,2936.8 L588.5,2938.6 L590.0,2940.4 L591.5,2942.2 L593.0,2944.0 L594.5,2945.8 L596.0,2947.5 L597.5,2949.3 L599.0,2951.0 L600.5,2952.8 L602.0,2954.5 L603.5,2956.2 L605.0,2957.8 L606.5,2959.5 L608.0,2961.1 L609.5,2962.7 L611.0,2964.3 L612.5,2965.8 L614.0,2967.4 L615.5,2968.8 L617.0,2970.3 L618.5,2971.6 L620.0,2973.0 L621.5,2974.3 L623.0,2975.5 L624.5,2976.7 L626.0,2977.9 L627.5,2979.0 L629.0,2980.0 L630.5,2981.0 L632.0,2981.8 L633.5,2982.7 L635.0,2983.4 L636.5,2984.1 L638.0,2984.7 L639.5,2985.2 L641.0,2985.7 L642.5,2986.0 L644.0,2986.3 L645.5,2986.4 L647.0,2986.5 L648.5,2986.4 L650.0,2986.3 L651.5,2986.1 L653.0,2985.7 L654.5,2985.2 L656.0,2984.6 L657.5,2983.9 L659.0,2983.1 L660.5,2982.1 L662.0,2981.1 L663.5,2979.8 L665.0,2978.5 L666.5,2977.0 L668.0,2975.4 L669.5,2973.6 L671.0,2971.6 L672.5,2969.6 L674.0,2967.3 L675.5,2964.9 L677.0,2962.4 L678.5,2959.7 L680.0,2956.8 L681.5,2953.8 L683.0,2950.5 L684.5,2947.2 L686.0,2943.6 L687.5,2939.9 L689.0,2936.0 L690.5,2931.9 L692.0,2927.7 L693.5,2923.3 L695.0,2918.7 L696.5,2913.9 L698.0,2909.0 L699.5,2903.9 L701.0,2898.7 L702.5,2893.3 L704.0,2887.7 L705.5,2882.0 L707.0,2876.2 L708.5,2870.3 L710.0,2864.2 L711.5,2858.0 L713.0,2851.7 L714.5,2845.4 L716.0,2838.9 L717.5,2832.4 L719.0,2825.9 L720.5,2819.3 L722.0,2812.8 L723.5,2806.2 L725.0,2799.6 L726.5,2793.1 L728.0,2786.6 L729.5,2780.2 L731.0,2773.9 L732.5,2767.7 L734.0,2761.5 L735.5,2755.5 L737.0,2749.6 L738.5,2743.8 L740.0,2738.2 L741.5,2732.7 L743.0,2727.3 L744.5,2722.1 L746.0,2717.0 L747.5,2712.1 L749.0,2707.2 L750.5,2702.5 L752.0,2697.9 L753.5,2693.4 L755.0,2689.1 L756.5,2684.8 L758.0,2680.5 L759.5,2676.4 L761.0,2672.3 L762.5,2668.3 L764.0,2664.3 L765.5,2660.4 L767.0,2656.5 L768.5,2652.7 L770.0,2648.9 L771.5,2645.1 L773.0,2641.4 L774.5,2637.7 L776.0,2634.1 L777.5,2630.5 L779.0,2627.0 L780.5,2623.5 L782.0,2620.2 L783.5,2616.9 L785.0,2613.7 L786.5,2610.7 L788.0,2607.7 L789.5,2604.9 L791.0,2602.3 L792.5,2599.8 L794.0,2597.5 L795.5,2595.4 L797.0,2593.6 L798.5,2591.9 L800.0,2590.5 L801.5,2589.3 L803.0,2588.4 L804.5,2587.7 L806.0,2587.3 L807.5,2587.2 L809.0,2587.4 L810.5,2587.9 L812.0,2588.8 L813.5,2589.9 L815.0,2591.4 L816.5,2593.1 L818.0,2595.2 L819.5,2597.6 L821.0,2600.4 L822.5,2603.4 L824.0,2606.8 L825.5,2610.5 L827.0,2614.5 L828.5,2618.8 L830.0,2623.3 L831.5,2628.2 L833.0,2633.3 L834.5,2638.7 L836.0,2644.4 L837.5,2650.3 L839.0,2656.4 L840.5,2662.8 L842.0,2669.3 L843.5,2676.1 L845.0,2683.0 L846.5,2690.1 L848.0,2697.3 L849.5,2704.7 L851.0,2712.2 L852.5,2719.8 L854.0,2727.5 L855.5,2735.3 L857.0,2743.2 L858.5,2751.1 L860.0,2759.0 L861.5,2767.0 L863.0,2775.0 L864.5,2783.0 L866.0,2791.1 L867.5,2799.1 L869.0,2807.1 L870.5,2815.0 L872.0,2823.0 L873.5,2830.9 L875.0,2838.7 L876.5,2846.5 L878.0,2854.2 L879.5,2861.9 L881.0,2869.5 L882.5,2877.0 L884.0,2884.5 L885.5,2891.8 L887.0,2899.1 L888.5,2906.3 L890.0,2913.5 L891.5,2920.6 L893.0,2927.5 L894.5,2934.4 L896.0,2941.3 L897.5,2948.0 L899.0,2954.7 L900.5,2961.3 L902.0,2967.8 L903.5,2974.3 L905.0,2980.6 L906.5,2987.0 L908.0,2993.2 L909.5,2999.4 L911.0,3005.6 L912.5,3011.6 L914.0,3017.7 L915.5,3023.6 L917.0,3029.6 L918.5,3035.4 L920.0,3041.3 L921.5,3047.1 L923.0,3052.8 L924.5,3058.5 L926.0,3064.2 L927.5,3069.8 L929.0,3075.4 L930.5,3080.9 L932.0,3086.4 L933.5,3091.9 L935.0,3097.3 L936.5,3102.7 L938.0,3108.1 L939.5,3113.4 L941.0,3118.7 L942.5,3123.9 L944.0,3129.1 L945.5,3134.3 L947.0,3139.4 L948.5,3144.5 L950.0,3149.5 L951.5,3154.5 L953.0,3159.5 L954.5,3164.4 L956.0,3169.3 L957.5,3174.1 L959.0,3178.8 L960.5,3183.5 L962.0,3188.2 L963.5,3192.8 L965.0,3197.3 L966.5,3201.8 L968.0,3206.2 L969.5,3210.6 L971.0,3214.9 L972.5,3219.1 L974.0,3223.3 L975.5,3227.4 L977.0,3231.4 L978.5,3235.4 L980.0,3239.3 L981.5,3243.1 L983.0,3246.8 L984.5,3250.5 L986.0,3254.1 L987.5,3257.7 L989.0,3261.1 L990.5,3264.5 L992.0,3267.8 L993.5,3271.0 L995.0,3274.2 L996.5,3277.3 L998.0,3280.3 L999.5,3283.2 L1001.0,3286.1 L1002.5,3288.9 L1004.0,3291.6 L1005.5,3294.2 L1007.0,3296.8 L1008.5,3299.3 L1010.0,3301.7 L1011.5,3304.0 L1013.0,3306.3 L1014.5,3308.5 L1016.0,3310.7 L1017.5,3312.7 L1019.0,3314.7 L1020.5,3316.7 L1022.0,3318.6 L1023.5,3320.4 L1025.0,3322.1 L1026.5,3323.8 L1028.0,3325.5 L1029.5,3327.0 L1031.0,3328.6 L1032.5,3330.0 L1034.0,3331.4 L1035.5,3332.8 L1037.0,3334.1 L1038.5,3335.3 L1040.0,3336.5 L1041.5,3337.7 L1043.0,3338.8 L1044.5,3339.9 L1046.0,3340.9 L1047.5,3341.9 L1049.0,3342.8 L1050.5,3343.7 L1052.0,3344.6 L1053.5,3345.4 L1055.0,3346.2 L1056.5,3347.0 L1058.0,3347.7 L1059.5,3348.4 L1061.0,3349.0 L1062.5,3349.7 L1064.0,3350.3 L1065.5,3350.9 L1067.0,3351.4 L1068.5,3351.9 L1070.0,3352.4 L1071.5,3352.9 L1073.0,3353.4 L1074.5,3353.8 L1076.0,3354.2 L1077.5,3354.6 L1079.0,3355.0 L1080.5,3355.4 L1082.0,3355.7 L1083.5,3356.0 L1085.0,3356.3 L1086.5,3356.6 L1088.0,3356.9 L1089.5,3357.2 L1091.0,3357.4 L1092.5,3357.7 L1094.0,3357.9 L1095.5,3358.1 L1097.0,3358.4 L1098.5,3358.6 L1100.0,3358.8 L1101.5,3358.9 L1103.0,3359.1 L1104.5,3359.3 L1106.0,3359.4 L1107.5,3359.6 L1109.0,3359.7 L1110.5,3359.9 L1112.0,3360.0 L1113.5,3360.2 L1115.0,3360.3 L1116.5,3360.4 L1118.0,3360.5 L1119.5,3360.6 L1121.0,3360.7 L1122.5,3360.8 L1124.0,3360.9 L1125.5,3361.0 L1127.0,3361.1 L1128.5,3361.2 L1130.0,3361.3 L1131.5,3361.4 L1133.0,3361.4 L1134.5,3361.5 L1136.0,3361.6 L1137.5,3361.7 L1139.0,3361.7 L1140.5,3361.8 L1142.0,3361.9 L1143.5,3361.9 L1145.0,3362.0 L1146.5,3362.0 L1148.0,3362.1 L1149.5,3362.2 L1151.0,3362.2 L1152.5,3362.3 L1154.0,3362.3 L1155.5,3362.4 L1157.0,3362.4 L1158.5,3362.5 L1160.0,3362.5 L1161.5,3362.6 L1163.0,3362.6 L1164.5,3362.7 L1166.0,3362.7 L1167.5,3362.8 L1169.0,3362.8 L1170.5,3362.9 L1172.0,3362.9 L1173.5,3362.9 L1175.0,3363.0 L1176.5,3363.0 L1178.0,3363.1 L1179.5,3363.1 L1181.0,3363.1 L1182.5,3363.2 L1184.0,3363.2 L1185.5,3363.3 L1187.0,3363.3 L1188.5,3363.3 L1190.0,3363.4 L1191.5,3363.4 L1193.0,3363.4 L1194.5,3363.5 L1196.0,3363.5 L1197.5,3363.6 L1199.0,3363.6 L1200.5,3363.6 L1202.0,3363.7 L1203.5,3363.7 L1205.0,3363.7 L1206.5,3363.8 L1208.0,3363.8 L1209.5,3363.8 L1211.0,3363.9 L1212.5,3363.9 L1214.0,3363.9 L1215.5,3364.0 L1217.0,3364.0 L1218.5,3364.0 L1220.0,3364.0 L1221.5,3364.1 L1223.0,3364.1 L1224.5,3364.1 L1226.0,3364.2 L1227.5,3364.2 L1229.0,3364.2 L1230.5,3364.3 L1232.0,3364.3 L1233.5,3364.3 L1235.0,3364.3 L1236.5,3364.4 L1238.0,3364.4 L1239.5,3364.4 L1241.0,3364.4 L1242.5,3364.5 L1244.0,3364.5 L1245.5,3364.5 L1247.0,3364.6 L1248.5,3364.6 L1250.0,3364.6 L1251.5,3364.6 L1253.0,3364.7 L1254.5,3364.7 L1256.0,3364.7 L1257.5,3364.7 L1259.0,3364.8 L1260.5,3364.8 L1262.0,3364.8 L1263.5,3364.8 L1265.0,3364.9 L1266.5,3364.9 L1268.0,3364.9 L1269.5,3364.9 L1271.0,3364.9 L1272.5,3365.0 L1274.0,3365.0 L1275.5,3365.0 L1277.0,3365.0 L1278.5,3365.1 L1280.0,3365.1 L1281.5,3365.1 L1283.0,3365.1 L1284.5,3365.1 L1286.0,3365.2 L1287.5,3365.2 L1289.0,3365.2 L1290.5,3365.2 L1292.0,3365.3 L1293.5,3365.3 L1295.0,3365.3 L1296.5,3365.3 L1298.0,3365.3 L1299.5,3365.4 L1301.0,3365.4 L1302.5,3365.4 L1304.0,3365.4 L1305.5,3365.4 L1307.0,3365.5 L1308.5,3365.5 L1310.0,3365.5 L1311.5,3365.5 L1313.0,3365.5 L1314.5,3365.6 L1316.0,3365.6 L1317.5,3365.6 L1319.0,3365.6 L1320.5,3365.6 L1322.0,3365.6 L1323.5,3365.7 L1325.0,3365.7 L1326.5,3365.7 L1328.0,3365.7 L1329.5,3365.7 L1331.0,3365.8 L1332.5,3365.8 L1334.0,3365.8 L1335.5,3365.8 L1337.0,3365.8 L1338.5,3365.8 L1340.0,3365.9 L1341.5,3365.9 L1343.0,3365.9 L1344.5,3365.9 L1346.0,3365.9 L1347.5,3365.9 L1349.0,3366.0 L1350.5,3366.0 L1352.0,3366.0 L1353.5,3366.0 L1355.0,3366.0 L1356.5,3366.0 L1358.0,3366.0 L1359.5,3366.1 L1361.0,3366.1 L1362.5,3366.1 L1364.0,3366.1 L1365.5,3366.1 L1367.0,3366.1 L1368.5,3366.2" fill="none" stroke="#ff2a2a" stroke-width="3.9000000000000004" stroke-linejoin="round"/>
<path d="M152.0,3158.7 L153.5,3158.7 L155.0,3158.7 L156.5,3158.7 L158.0,3158.7 L159.5,3158.7 L161.0,3158.7 L162.5,3158.7 L164.0,3158.7 L165.5,3158.7 L167.0,3158.7 L168.5,3158.7 L170.0,3158.7 L171.5,3158.7 L173.0,3158.7 L174.5,3158.7 L176.0,3158.7 L177.5,3158.7 L179.0,3158.7 L180.5,3158.7 L182.0,3158.7 L183.5,3158.7 L185.0,3158.7 L186.5,3158.7 L188.0,3158.7 L189.5,3158.7 L191.0,3158.7 L192.5,3158.7 L194.0,3158.7 L195.5,3158.7 L197.0,3158.7 L198.5,3158.7 L200.0,3158.7 L201.5,3158.7 L203.0,3158.7 L204.5,3158.8 L206.0,3158.8 L207.5,3158.8 L209.0,3158.8 L210.5,3158.8 L212.0,3158.8 L213.5,3158.8 L215.0,3158.8 L216.5,3158.8 L218.0,3158.8 L219.5,3158.8 L221.0,3158.8 L222.5,3158.9 L224.0,3158.9 L225.5,3158.9 L227.0,3158.9 L228.5,3158.9 L230.0,3158.9 L231.5,3158.9 L233.0,3159.0 L234.5,3159.0 L236.0,3159.0 L237.5,3159.0 L239.0,3159.0 L240.5,3159.1 L242.0,3159.1 L243.5,3159.1 L245.0,3159.1 L246.5,3159.1 L248.0,3159.2 L249.5,3159.2 L251.0,3159.2 L252.5,3159.2 L254.0,3159.3 L255.5,3159.3 L257.0,3159.3 L258.5,3159.4 L260.0,3159.4 L261.5,3159.4 L263.0,3159.5 L264.5,3159.5 L266.0,3159.5 L267.5,3159.6 L269.0,3159.6 L270.5,3159.6 L272.0,3159.7 L273.5,3159.7 L275.0,3159.8 L276.5,3159.8 L278.0,3159.9 L279.5,3159.9 L281.0,3160.0 L282.5,3160.0 L284.0,3160.1 L285.5,3160.1 L287.0,3160.2 L288.5,3160.2 L290.0,3160.3 L291.5,3160.4 L293.0,3160.4 L294.5,3160.5 L296.0,3160.6 L297.5,3160.6 L299.0,3160.7 L300.5,3160.8 L302.0,3160.9 L303.5,3160.9 L305.0,3161.0 L306.5,3161.1 L308.0,3161.2 L309.5,3161.3 L311.0,3161.3 L312.5,3161.4 L314.0,3161.5 L315.5,3161.6 L317.0,3161.7 L318.5,3161.8 L320.0,3161.9 L321.5,3162.0 L323.0,3162.1 L324.5,3162.3 L326.0,3162.4 L327.5,3162.5 L329.0,3162.6 L330.5,3162.7 L332.0,3162.8 L333.5,3163.0 L335.0,3163.1 L336.5,3163.2 L338.0,3163.4 L339.5,3163.5 L341.0,3163.7 L342.5,3163.8 L344.0,3163.9 L345.5,3164.1 L347.0,3164.3 L348.5,3164.4 L350.0,3164.6 L351.5,3164.7 L353.0,3164.9 L354.5,3165.1 L356.0,3165.2 L357.5,3165.4 L359.0,3165.6 L360.5,3165.8 L362.0,3166.0 L363.5,3166.2 L365.0,3166.4 L366.5,3166.6 L368.0,3166.8 L369.5,3167.0 L371.0,3167.2 L372.5,3167.4 L374.0,3167.6 L375.5,3167.8 L377.0,3168.0 L378.5,3168.3 L380.0,3168.5 L381.5,3168.7 L383.0,3169.0 L384.5,3169.2 L386.0,3169.5 L387.5,3169.7 L389.0,3170.0 L390.5,3170.2 L392.0,3170.5 L393.5,3170.7 L395.0,3171.0 L396.5,3171.3 L398.0,3171.6 L399.5,3171.8 L401.0,3172.1 L402.5,3172.4 L404.0,3172.7 L405.5,3173.0 L407.0,3173.3 L408.5,3173.6 L410.0,3173.9 L411.5,3174.2 L413.0,3174.5 L414.5,3174.8 L416.0,3175.1 L417.5,3175.5 L419.0,3175.8 L420.5,3176.1 L422.0,3176.5 L423.5,3176.8 L425.0,3177.1 L426.5,3177.5 L428.0,3177.8 L429.5,3178.2 L431.0,3178.5 L432.5,3178.9 L434.0,3179.2 L435.5,3179.6 L437.0,3180.0 L438.5,3180.3 L440.0,3180.7 L441.5,3181.1 L443.0,3181.5 L444.5,3181.8 L446.0,3182.2 L447.5,3182.6 L449.0,3183.0 L450.5,3183.4 L452.0,3183.8 L453.5,3184.2 L455.0,3184.6 L456.5,3185.0 L458.0,3185.4 L459.5,3185.8 L461.0,3186.2 L462.5,3186.6 L464.0,3187.0 L465.5,3187.4 L467.0,3187.8 L468.5,3188.2 L470.0,3188.7 L471.5,3189.1 L473.0,3189.5 L474.5,3189.9 L476.0,3190.3 L477.5,3190.8 L479.0,3191.2 L480.5,3191.6 L482.0,3192.0 L483.5,3192.5 L485.0,3192.9 L486.5,3193.3 L488.0,3193.7 L489.5,3194.2 L491.0,3194.6 L492.5,3195.0 L494.0,3195.5 L495.5,3195.9 L497.0,3196.3 L498.5,3196.7 L500.0,3197.2 L501.5,3197.6 L503.0,3198.0 L504.5,3198.5 L506.0,3198.9 L507.5,3199.3 L509.0,3199.7 L510.5,3200.1 L512.0,3200.6 L513.5,3201.0 L515.0,3201.4 L516.5,3201.8 L518.0,3202.2 L519.5,3202.6 L521.0,3203.1 L522.5,3203.5 L524.0,3203.9 L525.5,3204.3 L527.0,3204.7 L528.5,3205.1 L530.0,3205.5 L531.5,3205.8 L533.0,3206.2 L534.5,3206.6 L536.0,3207.0 L537.5,3207.4 L539.0,3207.7 L540.5,3208.1 L542.0,3208.5 L543.5,3208.8 L545.0,3209.2 L546.5,3209.5 L548.0,3209.9 L549.5,3210.2 L551.0,3210.5 L552.5,3210.8 L554.0,3211.2 L555.5,3211.5 L557.0,3211.8 L558.5,3212.1 L560.0,3212.3 L561.5,3212.6 L563.0,3212.9 L564.5,3213.2 L566.0,3213.4 L567.5,3213.7 L569.0,3213.9 L570.5,3214.1 L572.0,3214.3 L573.5,3214.5 L575.0,3214.7 L576.5,3214.9 L578.0,3215.1 L579.5,3215.2 L581.0,3215.4 L582.5,3215.5 L584.0,3215.6 L585.5,3215.7 L587.0,3215.8 L588.5,3215.9 L590.0,3216.0 L591.5,3216.0 L593.0,3216.0 L594.5,3216.0 L596.0,3216.0 L597.5,3216.0 L599.0,3216.0 L600.5,3215.9 L602.0,3215.8 L603.5,3215.7 L605.0,3215.6 L606.5,3215.4 L608.0,3215.3 L609.5,3215.1 L611.0,3214.9 L612.5,3214.6 L614.0,3214.3 L615.5,3214.1 L617.0,3213.7 L618.5,3213.4 L620.0,3213.0 L621.5,3212.6 L623.0,3212.2 L624.5,3211.7 L626.0,3211.2 L627.5,3210.7 L629.0,3210.1 L630.5,3209.5 L632.0,3208.9 L633.5,3208.2 L635.0,3207.5 L636.5,3206.8 L638.0,3206.0 L639.5,3205.2 L641.0,3204.3 L642.5,3203.4 L644.0,3202.5 L645.5,3201.5 L647.0,3200.5 L648.5,3199.5 L650.0,3198.4 L651.5,3197.2 L653.0,3196.0 L654.5,3194.8 L656.0,3193.5 L657.5,3192.2 L659.0,3190.8 L660.5,3189.3 L662.0,3187.9 L663.5,3186.3 L665.0,3184.8 L666.5,3183.1 L668.0,3181.5 L669.5,3179.7 L671.0,3177.9 L672.5,3176.1 L674.0,3174.2 L675.5,3172.3 L677.0,3170.3 L678.5,3168.2 L680.0,3166.1 L681.5,3164.0 L683.0,3161.8 L684.5,3159.5 L686.0,3157.2 L687.5,3154.8 L689.0,3152.4 L690.5,3149.9 L692.0,3147.4 L693.5,3144.8 L695.0,3142.2 L696.5,3139.5 L698.0,3136.8 L699.5,3134.0 L701.0,3131.1 L702.5,3128.3 L704.0,3125.3 L705.5,3122.3 L707.0,3119.3 L708.5,3116.2 L710.0,3113.1 L711.5,3109.9 L713.0,3106.7 L714.5,3103.4 L716.0,3100.1 L717.5,3096.8 L719.0,3093.4 L720.5,3090.0 L722.0,3086.5 L723.5,3083.0 L725.0,3079.5 L726.5,3076.0 L728.0,3072.4 L729.5,3068.8 L731.0,3065.1 L732.5,3061.5 L734.0,3057.8 L735.5,3054.1 L737.0,3050.4 L738.5,3046.6 L740.0,3042.9 L741.5,3039.1 L743.0,3035.4 L744.5,3031.6 L746.0,3027.8 L747.5,3024.1 L749.0,3020.3 L750.5,3016.5 L752.0,3012.8 L753.5,3009.0 L755.0,3005.3 L756.5,3001.6 L758.0,2997.9 L759.5,2994.2 L761.0,2990.6 L762.5,2987.0 L764.0,2983.4 L765.5,2979.9 L767.0,2976.3 L768.5,2972.9 L770.0,2969.4 L771.5,2966.1 L773.0,2962.7 L774.5,2959.4 L776.0,2956.2 L777.5,2953.0 L779.0,2949.9 L780.5,2946.9 L782.0,2943.9 L783.5,2941.0 L785.0,2938.1 L786.5,2935.3 L788.0,2932.6 L789.5,2930.0 L791.0,2927.4 L792.5,2925.0 L794.0,2922.6 L795.5,2920.2 L797.0,2918.0 L798.5,2915.9 L800.0,2913.8 L801.5,2911.9 L803.0,2910.0 L804.5,2908.2 L806.0,2906.6 L807.5,2905.0 L809.0,2903.5 L810.5,2902.1 L812.0,2900.9 L813.5,2899.7 L815.0,2898.6 L816.5,2897.7 L818.0,2896.8 L819.5,2896.1 L821.0,2895.5 L822.5,2895.0 L824.0,2894.6 L825.5,2894.3 L827.0,2894.2 L828.5,2894.1 L830.0,2894.2 L831.5,2894.4 L833.0,2894.7 L834.5,2895.2 L836.0,2895.8 L837.5,2896.5 L839.0,2897.3 L840.5,2898.2 L842.0,2899.3 L843.5,2900.5 L845.0,2901.8 L846.5,2903.3 L848.0,2904.9 L849.5,2906.6 L851.0,2908.5 L852.5,2910.4 L854.0,2912.5 L855.5,2914.8 L857.0,2917.1 L858.5,2919.6 L860.0,2922.2 L861.5,2924.9 L863.0,2927.8 L864.5,2930.8 L866.0,2933.9 L867.5,2937.1 L869.0,2940.4 L870.5,2943.8 L872.0,2947.3 L873.5,2951.0 L875.0,2954.7 L876.5,2958.6 L878.0,2962.5 L879.5,2966.6 L881.0,2970.7 L882.5,2975.0 L884.0,2979.3 L885.5,2983.7 L887.0,2988.2 L888.5,2992.7 L890.0,2997.3 L891.5,3002.0 L893.0,3006.8 L894.5,3011.6 L896.0,3016.5 L897.5,3021.4 L899.0,3026.4 L900.5,3031.4 L902.0,3036.5 L903.5,3041.6 L905.0,3046.7 L906.5,3051.9 L908.0,3057.1 L909.5,3062.3 L911.0,3067.5 L912.5,3072.8 L914.0,3078.0 L915.5,3083.3 L917.0,3088.6 L918.5,3093.8 L920.0,3099.1 L921.5,3104.3 L923.0,3109.6 L924.5,3114.8 L926.0,3120.0 L927.5,3125.2 L929.0,3130.4 L930.5,3135.5 L932.0,3140.6 L933.5,3145.7 L935.0,3150.8 L936.5,3155.8 L938.0,3160.7 L939.5,3165.6 L941.0,3170.5 L942.5,3175.3 L944.0,3180.1 L945.5,3184.8 L947.0,3189.5 L948.5,3194.1 L950.0,3198.7 L951.5,3203.2 L953.0,3207.6 L954.5,3212.0 L956.0,3216.3 L957.5,3220.5 L959.0,3224.7 L960.5,3228.8 L962.0,3232.8 L963.5,3236.8 L965.0,3240.7 L966.5,3244.5 L968.0,3248.2 L969.5,3251.9 L971.0,3255.5 L972.5,3259.0 L974.0,3262.5 L975.5,3265.9 L977.0,3269.2 L978.5,3272.4 L980.0,3275.5 L981.5,3278.6 L983.0,3281.6 L984.5,3284.6 L986.0,3287.4 L987.5,3290.2 L989.0,3292.9 L990.5,3295.6 L992.0,3298.2 L993.5,3300.7 L995.0,3303.1 L996.5,3305.5 L998.0,3307.8 L999.5,3310.0 L1001.0,3312.2 L1002.5,3314.3 L1004.0,3316.3 L1005.5,3318.3 L1007.0,3320.2 L1008.5,3322.1 L1010.0,3323.9 L1011.5,3325.6 L1013.0,3327.3 L1014.5,3328.9 L1016.0,3330.5 L1017.5,3332.0 L1019.0,3333.4 L1020.5,3334.8 L1022.0,3336.2 L1023.5,3337.5 L1025.0,3338.8 L1026.5,3340.0 L1028.0,3341.1 L1029.5,3342.3 L1031.0,3343.4 L1032.5,3344.4 L1034.0,3345.4 L1035.5,3346.4 L1037.0,3347.3 L1038.5,3348.2 L1040.0,3349.0 L1041.5,3349.8 L1043.0,3350.6 L1044.5,3351.4 L1046.0,3352.1 L1047.5,3352.8 L1049.0,3353.4 L1050.5,3354.1 L1052.0,3354.7 L1053.5,3355.2 L1055.0,3355.8 L1056.5,3356.3 L1058.0,3356.8 L1059.5,3357.3 L1061.0,3357.8 L1062.5,3358.2 L1064.0,3358.6 L1065.5,3359.0 L1067.0,3359.4 L1068.5,3359.8 L1070.0,3360.1 L1071.5,3360.5 L1073.0,3360.8 L1074.5,3361.1 L1076.0,3361.4 L1077.5,3361.6 L1079.0,3361.9 L1080.5,3362.2 L1082.0,3362.4 L1083.5,3362.6 L1085.0,3362.8 L1086.5,3363.0 L1088.0,3363.2 L1089.5,3363.4 L1091.0,3363.6 L1092.5,3363.8 L1094.0,3363.9 L1095.5,3364.1 L1097.0,3364.2 L1098.5,3364.4 L1100.0,3364.5 L1101.5,3364.6 L1103.0,3364.7 L1104.5,3364.9 L1106.0,3365.0 L1107.5,3365.1 L1109.0,3365.2 L1110.5,3365.3 L1112.0,3365.4 L1113.5,3365.4 L1115.0,3365.5 L1116.5,3365.6 L1118.0,3365.7 L1119.5,3365.8 L1121.0,3365.8 L1122.5,3365.9 L1124.0,3366.0 L1125.5,3366.0 L1127.0,3366.1 L1128.5,3366.1 L1130.0,3366.2 L1131.5,3366.2 L1133.0,3366.3 L1134.5,3366.3 L1136.0,3366.4 L1137.5,3366.4 L1139.0,3366.5 L1140.5,3366.5 L1142.0,3366.6 L1143.5,3366.6 L1145.0,3366.6 L1146.5,3366.7 L1148.0,3366.7 L1149.5,3366.7 L1151.0,3366.8 L1152.5,3366.8 L1154.0,3366.8 L1155.5,3366.9 L1157.0,3366.9 L1158.5,3366.9 L1160.0,3367.0 L1161.5,3367.0 L1163.0,3367.0 L1164.5,3367.0 L1166.0,3367.1 L1167.5,3367.1 L1169.0,3367.1 L1170.5,3367.1 L1172.0,3367.2 L1173.5,3367.2 L1175.0,3367.2 L1176.5,3367.2 L1178.0,3367.3 L1179.5,3367.3 L1181.0,3367.3 L1182.5,3367.3 L1184.0,3367.3 L1185.5,3367.4 L1187.0,3367.4 L1188.5,3367.4 L1190.0,3367.4 L1191.5,3367.4 L1193.0,3367.5 L1194.5,3367.5 L1196.0,3367.5 L1197.5,3367.5 L1199.0,3367.5 L1200.5,3367.5 L1202.0,3367.6 L1203.5,3367.6 L1205.0,3367.6 L1206.5,3367.6 L1208.0,3367.6 L1209.5,3367.6 L1211.0,3367.7 L1212.5,3367.7 L1214.0,3367.7 L1215.5,3367.7 L1217.0,3367.7 L1218.5,3367.7 L1220.0,3367.7 L1221.5,3367.8 L1223.0,3367.8 L1224.5,3367.8 L1226.0,3367.8 L1227.5,3367.8 L1229.0,3367.8 L1230.5,3367.8 L1232.0,3367.9 L1233.5,3367.9 L1235.0,3367.9 L1236.5,3367.9 L1238.0,3367.9 L1239.5,3367.9 L1241.0,3367.9 L1242.5,3367.9 L1244.0,3368.0 L1245.5,3368.0 L1247.0,3368.0 L1248.5,3368.0 L1250.0,3368.0 L1251.5,3368.0 L1253.0,3368.0 L1254.5,3368.0 L1256.0,3368.1 L1257.5,3368.1 L1259.0,3368.1 L1260.5,3368.1 L1262.0,3368.1 L1263.5,3368.1 L1265.0,3368.1 L1266.5,3368.1 L1268.0,3368.1 L1269.5,3368.1 L1271.0,3368.2 L1272.5,3368.2 L1274.0,3368.2 L1275.5,3368.2 L1277.0,3368.2 L1278.5,3368.2 L1280.0,3368.2 L1281.5,3368.2 L1283.0,3368.2 L1284.5,3368.2 L1286.0,3368.3 L1287.5,3368.3 L1289.0,3368.3 L1290.5,3368.3 L1292.0,3368.3 L1293.5,3368.3 L1295.0,3368.3 L1296.5,3368.3 L1298.0,3368.3 L1299.5,3368.3 L1301.0,3368.3 L1302.5,3368.3 L1304.0,3368.4 L1305.5,3368.4 L1307.0,3368.4 L1308.5,3368.4 L1310.0,3368.4 L1311.5,3368.4 L1313.0,3368.4 L1314.5,3368.4 L1316.0,3368.4 L1317.5,3368.4 L1319.0,3368.4 L1320.5,3368.4 L1322.0,3368.5 L1323.5,3368.5 L1325.0,3368.5 L1326.5,3368.5 L1328.0,3368.5 L1329.5,3368.5 L1331.0,3368.5 L1332.5,3368.5 L1334.0,3368.5 L1335.5,3368.5 L1337.0,3368.5 L1338.5,3368.5 L1340.0,3368.5 L1341.5,3368.5 L1343.0,3368.5 L1344.5,3368.6 L1346.0,3368.6 L1347.5,3368.6 L1349.0,3368.6 L1350.5,3368.6 L1352.0,3368.6 L1353.5,3368.6 L1355.0,3368.6 L1356.5,3368.6 L1358.0,3368.6 L1359.5,3368.6 L1361.0,3368.6 L1362.5,3368.6 L1364.0,3368.6 L1365.5,3368.6 L1367.0,3368.6 L1368.5,3368.7" fill="none" stroke="#2fe386" stroke-width="3.7" stroke-linejoin="round"/>
<path d="M152.0,3158.6 L153.5,3158.6 L155.0,3158.6 L156.5,3158.6 L158.0,3158.6 L159.5,3158.6 L161.0,3158.6 L162.5,3158.6 L164.0,3158.6 L165.5,3158.6 L167.0,3158.6 L168.5,3158.6 L170.0,3158.6 L171.5,3158.6 L173.0,3158.6 L174.5,3158.6 L176.0,3158.6 L177.5,3158.6 L179.0,3158.6 L180.5,3158.6 L182.0,3158.6 L183.5,3158.6 L185.0,3158.6 L186.5,3158.6 L188.0,3158.6 L189.5,3158.6 L191.0,3158.7 L192.5,3158.7 L194.0,3158.7 L195.5,3158.7 L197.0,3158.7 L198.5,3158.7 L200.0,3158.7 L201.5,3158.7 L203.0,3158.7 L204.5,3158.7 L206.0,3158.7 L207.5,3158.7 L209.0,3158.7 L210.5,3158.7 L212.0,3158.7 L213.5,3158.7 L215.0,3158.7 L216.5,3158.8 L218.0,3158.8 L219.5,3158.8 L221.0,3158.8 L222.5,3158.8 L224.0,3158.8 L225.5,3158.8 L227.0,3158.8 L228.5,3158.8 L230.0,3158.9 L231.5,3158.9 L233.0,3158.9 L234.5,3158.9 L236.0,3158.9 L237.5,3158.9 L239.0,3159.0 L240.5,3159.0 L242.0,3159.0 L243.5,3159.0 L245.0,3159.0 L246.5,3159.1 L248.0,3159.1 L249.5,3159.1 L251.0,3159.1 L252.5,3159.2 L254.0,3159.2 L255.5,3159.2 L257.0,3159.2 L258.5,3159.3 L260.0,3159.3 L261.5,3159.3 L263.0,3159.4 L264.5,3159.4 L266.0,3159.4 L267.5,3159.5 L269.0,3159.5 L270.5,3159.6 L272.0,3159.6 L273.5,3159.6 L275.0,3159.7 L276.5,3159.7 L278.0,3159.8 L279.5,3159.8 L281.0,3159.9 L282.5,3159.9 L284.0,3160.0 L285.5,3160.0 L287.0,3160.1 L288.5,3160.1 L290.0,3160.2 L291.5,3160.3 L293.0,3160.3 L294.5,3160.4 L296.0,3160.5 L297.5,3160.5 L299.0,3160.6 L300.5,3160.7 L302.0,3160.7 L303.5,3160.8 L305.0,3160.9 L306.5,3161.0 L308.0,3161.1 L309.5,3161.1 L311.0,3161.2 L312.5,3161.3 L314.0,3161.4 L315.5,3161.5 L317.0,3161.6 L318.5,3161.7 L320.0,3161.8 L321.5,3161.9 L323.0,3162.0 L324.5,3162.1 L326.0,3162.2 L327.5,3162.4 L329.0,3162.5 L330.5,3162.6 L332.0,3162.7 L333.5,3162.8 L335.0,3163.0 L336.5,3163.1 L338.0,3163.2 L339.5,3163.4 L341.0,3163.5 L342.5,3163.7 L344.0,3163.8 L345.5,3164.0 L347.0,3164.1 L348.5,3164.3 L350.0,3164.4 L351.5,3164.6 L353.0,3164.8 L354.5,3164.9 L356.0,3165.1 L357.5,3165.3 L359.0,3165.4 L360.5,3165.6 L362.0,3165.8 L363.5,3166.0 L365.0,3166.2 L366.5,3166.4 L368.0,3166.6 L369.5,3166.8 L371.0,3167.0 L372.5,3167.2 L374.0,3167.4 L375.5,3167.6 L377.0,3167.9 L378.5,3168.1 L380.0,3168.3 L381.5,3168.6 L383.0,3168.8 L384.5,3169.0 L386.0,3169.3 L387.5,3169.5 L389.0,3169.8 L390.5,3170.0 L392.0,3170.3 L393.5,3170.5 L395.0,3170.8 L396.5,3171.1 L398.0,3171.4 L399.5,3171.6 L401.0,3171.9 L402.5,3172.2 L404.0,3172.5 L405.5,3172.8 L407.0,3173.1 L408.5,3173.4 L410.0,3173.7 L411.5,3174.0 L413.0,3174.3 L414.5,3174.6 L416.0,3174.9 L417.5,3175.2 L419.0,3175.6 L420.5,3175.9 L422.0,3176.2 L423.5,3176.5 L425.0,3176.9 L426.5,3177.2 L428.0,3177.6 L429.5,3177.9 L431.0,3178.3 L432.5,3178.6 L434.0,3179.0 L435.5,3179.3 L437.0,3179.7 L438.5,3180.1 L440.0,3180.4 L441.5,3180.8 L443.0,3181.2 L444.5,3181.5 L446.0,3181.9 L447.5,3182.3 L449.0,3182.7 L450.5,3183.1 L452.0,3183.5 L453.5,3183.9 L455.0,3184.2 L456.5,3184.6 L458.0,3185.0 L459.5,3185.4 L461.0,3185.8 L462.5,3186.2 L464.0,3186.7 L465.5,3187.1 L467.0,3187.5 L468.5,3187.9 L470.0,3188.3 L471.5,3188.7 L473.0,3189.1 L474.5,3189.5 L476.0,3190.0 L477.5,3190.4 L479.0,3190.8 L480.5,3191.2 L482.0,3191.6 L483.5,3192.1 L485.0,3192.5 L486.5,3192.9 L488.0,3193.3 L489.5,3193.8 L491.0,3194.2 L492.5,3194.6 L494.0,3195.0 L495.5,3195.5 L497.0,3195.9 L498.5,3196.3 L500.0,3196.7 L501.5,3197.2 L503.0,3197.6 L504.5,3198.0 L506.0,3198.4 L507.5,3198.9 L509.0,3199.3 L510.5,3199.7 L512.0,3200.1 L513.5,3200.5 L515.0,3201.0 L516.5,3201.4 L518.0,3201.8 L519.5,3202.2 L521.0,3202.6 L522.5,3203.0 L524.0,3203.4 L525.5,3203.8 L527.0,3204.2 L528.5,3204.6 L530.0,3205.0 L531.5,3205.4 L533.0,3205.8 L534.5,3206.2 L536.0,3206.6 L537.5,3207.0 L539.0,3207.4 L540.5,3207.8 L542.0,3208.1 L543.5,3208.5 L545.0,3208.9 L546.5,3209.2 L548.0,3209.6 L549.5,3210.0 L551.0,3210.3 L552.5,3210.7 L554.0,3211.0 L555.5,3211.3 L557.0,3211.7 L558.5,3212.0 L560.0,3212.3 L561.5,3212.7 L563.0,3213.0 L564.5,3213.3 L566.0,3213.6 L567.5,3213.9 L569.0,3214.2 L570.5,3214.5 L572.0,3214.7 L573.5,3215.0 L575.0,3215.3 L576.5,3215.5 L578.0,3215.8 L579.5,3216.0 L581.0,3216.2 L582.5,3216.4 L584.0,3216.6 L585.5,3216.8 L587.0,3217.0 L588.5,3217.2 L590.0,3217.4 L591.5,3217.5 L593.0,3217.6 L594.5,3217.8 L596.0,3217.9 L597.5,3218.0 L599.0,3218.1 L600.5,3218.1 L602.0,3218.2 L603.5,3218.2 L605.0,3218.2 L606.5,3218.2 L608.0,3218.2 L609.5,3218.2 L611.0,3218.1 L612.5,3218.0 L614.0,3217.9 L615.5,3217.8 L617.0,3217.6 L618.5,3217.4 L620.0,3217.2 L621.5,3217.0 L623.0,3216.7 L624.5,3216.4 L626.0,3216.1 L627.5,3215.8 L629.0,3215.4 L630.5,3214.9 L632.0,3214.5 L633.5,3214.0 L635.0,3213.4 L636.5,3212.9 L638.0,3212.2 L639.5,3211.6 L641.0,3210.9 L642.5,3210.1 L644.0,3209.3 L645.5,3208.5 L647.0,3207.6 L648.5,3206.7 L650.0,3205.7 L651.5,3204.6 L653.0,3203.5 L654.5,3202.4 L656.0,3201.2 L657.5,3199.9 L659.0,3198.6 L660.5,3197.2 L662.0,3195.7 L663.5,3194.2 L665.0,3192.6 L666.5,3191.0 L668.0,3189.3 L669.5,3187.5 L671.0,3185.7 L672.5,3183.8 L674.0,3181.8 L675.5,3179.8 L677.0,3177.6 L678.5,3175.5 L680.0,3173.2 L681.5,3170.9 L683.0,3168.5 L684.5,3166.0 L686.0,3163.5 L687.5,3160.9 L689.0,3158.2 L690.5,3155.5 L692.0,3152.7 L693.5,3149.8 L695.0,3146.9 L696.5,3143.9 L698.0,3140.8 L699.5,3137.7 L701.0,3134.5 L702.5,3131.2 L704.0,3127.9 L705.5,3124.6 L707.0,3121.2 L708.5,3117.7 L710.0,3114.2 L711.5,3110.7 L713.0,3107.1 L714.5,3103.5 L716.0,3099.8 L717.5,3096.1 L719.0,3092.4 L720.5,3088.7 L722.0,3084.9 L723.5,3081.2 L725.0,3077.4 L726.5,3073.6 L728.0,3069.9 L729.5,3066.1 L731.0,3062.3 L732.5,3058.6 L734.0,3054.9 L735.5,3051.2 L737.0,3047.5 L738.5,3043.9 L740.0,3040.3 L741.5,3036.7 L743.0,3033.3 L744.5,3029.9 L746.0,3026.5 L747.5,3023.2 L749.0,3020.0 L750.5,3016.9 L752.0,3013.9 L753.5,3011.0 L755.0,3008.2 L756.5,3005.5 L758.0,3003.0 L759.5,3000.5 L761.0,2998.2 L762.5,2996.1 L764.0,2994.1 L765.5,2992.2 L767.0,2990.5 L768.5,2988.9 L770.0,2987.5 L771.5,2986.3 L773.0,2985.3 L774.5,2984.5 L776.0,2983.8 L777.5,2983.3 L779.0,2983.0 L780.5,2982.9 L782.0,2983.1 L783.5,2983.4 L785.0,2983.9 L786.5,2984.6 L788.0,2985.5 L789.5,2986.6 L791.0,2987.9 L792.5,2989.4 L794.0,2991.1 L795.5,2993.0 L797.0,2995.1 L798.5,2997.3 L800.0,2999.8 L801.5,3002.4 L803.0,3005.2 L804.5,3008.2 L806.0,3011.4 L807.5,3014.7 L809.0,3018.1 L810.5,3021.8 L812.0,3025.5 L813.5,3029.4 L815.0,3033.4 L816.5,3037.5 L818.0,3041.8 L819.5,3046.2 L821.0,3050.6 L822.5,3055.2 L824.0,3059.8 L825.5,3064.6 L827.0,3069.4 L828.5,3074.2 L830.0,3079.2 L831.5,3084.1 L833.0,3089.2 L834.5,3094.3 L836.0,3099.4 L837.5,3104.5 L839.0,3109.7 L840.5,3114.8 L842.0,3120.0 L843.5,3125.2 L845.0,3130.4 L846.5,3135.6 L848.0,3140.8 L849.5,3146.0 L851.0,3151.1 L852.5,3156.2 L854.0,3161.3 L855.5,3166.4 L857.0,3171.4 L858.5,3176.4 L860.0,3181.3 L861.5,3186.2 L863.0,3191.0 L864.5,3195.8 L866.0,3200.5 L867.5,3205.1 L869.0,3209.7 L870.5,3214.2 L872.0,3218.7 L873.5,3223.1 L875.0,3227.4 L876.5,3231.6 L878.0,3235.7 L879.5,3239.8 L881.0,3243.8 L882.5,3247.7 L884.0,3251.6 L885.5,3255.3 L887.0,3259.0 L888.5,3262.6 L890.0,3266.0 L891.5,3269.5 L893.0,3272.8 L894.5,3276.0 L896.0,3279.2 L897.5,3282.3 L899.0,3285.3 L900.5,3288.2 L902.0,3291.0 L903.5,3293.8 L905.0,3296.5 L906.5,3299.0 L908.0,3301.6 L909.5,3304.0 L911.0,3306.4 L912.5,3308.7 L914.0,3310.9 L915.5,3313.0 L917.0,3315.1 L918.5,3317.1 L920.0,3319.0 L921.5,3320.9 L923.0,3322.7 L924.5,3324.4 L926.0,3326.1 L927.5,3327.7 L929.0,3329.3 L930.5,3330.8 L932.0,3332.2 L933.5,3333.6 L935.0,3334.9 L936.5,3336.2 L938.0,3337.4 L939.5,3338.6 L941.0,3339.8 L942.5,3340.9 L944.0,3341.9 L945.5,3342.9 L947.0,3343.9 L948.5,3344.8 L950.0,3345.7 L951.5,3346.6 L953.0,3347.4 L954.5,3348.2 L956.0,3348.9 L957.5,3349.6 L959.0,3350.3 L960.5,3351.0 L962.0,3351.6 L963.5,3352.2 L965.0,3352.8 L966.5,3353.4 L968.0,3353.9 L969.5,3354.4 L971.0,3354.9 L972.5,3355.4 L974.0,3355.8 L975.5,3356.2 L977.0,3356.7 L978.5,3357.0 L980.0,3357.4 L981.5,3357.8 L983.0,3358.1 L984.5,3358.5 L986.0,3358.8 L987.5,3359.1 L989.0,3359.4 L990.5,3359.7 L992.0,3359.9 L993.5,3360.2 L995.0,3360.4 L996.5,3360.7 L998.0,3360.9 L999.5,3361.1 L1001.0,3361.3 L1002.5,3361.5 L1004.0,3361.7 L1005.5,3361.9 L1007.0,3362.1 L1008.5,3362.2 L1010.0,3362.4 L1011.5,3362.6 L1013.0,3362.7 L1014.5,3362.9 L1016.0,3363.0 L1017.5,3363.1 L1019.0,3363.3 L1020.5,3363.4 L1022.0,3363.5 L1023.5,3363.6 L1025.0,3363.8 L1026.5,3363.9 L1028.0,3364.0 L1029.5,3364.1 L1031.0,3364.2 L1032.5,3364.3 L1034.0,3364.4 L1035.5,3364.5 L1037.0,3364.6 L1038.5,3364.6 L1040.0,3364.7 L1041.5,3364.8 L1043.0,3364.9 L1044.5,3364.9 L1046.0,3365.0 L1047.5,3365.1 L1049.0,3365.2 L1050.5,3365.2 L1052.0,3365.3 L1053.5,3365.4 L1055.0,3365.4 L1056.5,3365.5 L1058.0,3365.5 L1059.5,3365.6 L1061.0,3365.6 L1062.5,3365.7 L1064.0,3365.8 L1065.5,3365.8 L1067.0,3365.9 L1068.5,3365.9 L1070.0,3365.9 L1071.5,3366.0 L1073.0,3366.0 L1074.5,3366.1 L1076.0,3366.1 L1077.5,3366.2 L1079.0,3366.2 L1080.5,3366.2 L1082.0,3366.3 L1083.5,3366.3 L1085.0,3366.4 L1086.5,3366.4 L1088.0,3366.4 L1089.5,3366.5 L1091.0,3366.5 L1092.5,3366.5 L1094.0,3366.6 L1095.5,3366.6 L1097.0,3366.6 L1098.5,3366.7 L1100.0,3366.7 L1101.5,3366.7 L1103.0,3366.8 L1104.5,3366.8 L1106.0,3366.8 L1107.5,3366.8 L1109.0,3366.9 L1110.5,3366.9 L1112.0,3366.9 L1113.5,3367.0 L1115.0,3367.0 L1116.5,3367.0 L1118.0,3367.0 L1119.5,3367.1 L1121.0,3367.1 L1122.5,3367.1 L1124.0,3367.1 L1125.5,3367.1 L1127.0,3367.2 L1128.5,3367.2 L1130.0,3367.2 L1131.5,3367.2 L1133.0,3367.3 L1134.5,3367.3 L1136.0,3367.3 L1137.5,3367.3 L1139.0,3367.3 L1140.5,3367.4 L1142.0,3367.4 L1143.5,3367.4 L1145.0,3367.4 L1146.5,3367.4 L1148.0,3367.5 L1149.5,3367.5 L1151.0,3367.5 L1152.5,3367.5 L1154.0,3367.5 L1155.5,3367.5 L1157.0,3367.6 L1158.5,3367.6 L1160.0,3367.6 L1161.5,3367.6 L1163.0,3367.6 L1164.5,3367.6 L1166.0,3367.7 L1167.5,3367.7 L1169.0,3367.7 L1170.5,3367.7 L1172.0,3367.7 L1173.5,3367.7 L1175.0,3367.7 L1176.5,3367.8 L1178.0,3367.8 L1179.5,3367.8 L1181.0,3367.8 L1182.5,3367.8 L1184.0,3367.8 L1185.5,3367.8 L1187.0,3367.9 L1188.5,3367.9 L1190.0,3367.9 L1191.5,3367.9 L1193.0,3367.9 L1194.5,3367.9 L1196.0,3367.9 L1197.5,3367.9 L1199.0,3368.0 L1200.5,3368.0 L1202.0,3368.0 L1203.5,3368.0 L1205.0,3368.0 L1206.5,3368.0 L1208.0,3368.0 L1209.5,3368.0 L1211.0,3368.1 L1212.5,3368.1 L1214.0,3368.1 L1215.5,3368.1 L1217.0,3368.1 L1218.5,3368.1 L1220.0,3368.1 L1221.5,3368.1 L1223.0,3368.1 L1224.5,3368.2 L1226.0,3368.2 L1227.5,3368.2 L1229.0,3368.2 L1230.5,3368.2 L1232.0,3368.2 L1233.5,3368.2 L1235.0,3368.2 L1236.5,3368.2 L1238.0,3368.2 L1239.5,3368.3 L1241.0,3368.3 L1242.5,3368.3 L1244.0,3368.3 L1245.5,3368.3 L1247.0,3368.3 L1248.5,3368.3 L1250.0,3368.3 L1251.5,3368.3 L1253.0,3368.3 L1254.5,3368.3 L1256.0,3368.3 L1257.5,3368.4 L1259.0,3368.4 L1260.5,3368.4 L1262.0,3368.4 L1263.5,3368.4 L1265.0,3368.4 L1266.5,3368.4 L1268.0,3368.4 L1269.5,3368.4 L1271.0,3368.4 L1272.5,3368.4 L1274.0,3368.4 L1275.5,3368.5 L1277.0,3368.5 L1278.5,3368.5 L1280.0,3368.5 L1281.5,3368.5 L1283.0,3368.5 L1284.5,3368.5 L1286.0,3368.5 L1287.5,3368.5 L1289.0,3368.5 L1290.5,3368.5 L1292.0,3368.5 L1293.5,3368.5 L1295.0,3368.5 L1296.5,3368.5 L1298.0,3368.6 L1299.5,3368.6 L1301.0,3368.6 L1302.5,3368.6 L1304.0,3368.6 L1305.5,3368.6 L1307.0,3368.6 L1308.5,3368.6 L1310.0,3368.6 L1311.5,3368.6 L1313.0,3368.6 L1314.5,3368.6 L1316.0,3368.6 L1317.5,3368.6 L1319.0,3368.6 L1320.5,3368.6 L1322.0,3368.7 L1323.5,3368.7 L1325.0,3368.7 L1326.5,3368.7 L1328.0,3368.7 L1329.5,3368.7 L1331.0,3368.7 L1332.5,3368.7 L1334.0,3368.7 L1335.5,3368.7 L1337.0,3368.7 L1338.5,3368.7 L1340.0,3368.7 L1341.5,3368.7 L1343.0,3368.7 L1344.5,3368.7 L1346.0,3368.7 L1347.5,3368.7 L1349.0,3368.7 L1350.5,3368.8 L1352.0,3368.8 L1353.5,3368.8 L1355.0,3368.8 L1356.5,3368.8 L1358.0,3368.8 L1359.5,3368.8 L1361.0,3368.8 L1362.5,3368.8 L1364.0,3368.8 L1365.5,3368.8 L1367.0,3368.8 L1368.5,3368.8" fill="none" stroke="#e8b426" stroke-width="3.7" stroke-linejoin="round"/>
</g>
<defs><clipPath id="clipc"><rect x="151" y="2434" width="1219" height="983.5"/></clipPath></defs>
<rect x="151" y="2434" width="1219" height="983.5" fill="none" stroke="#333" stroke-width="4.5"/>
<line x1="1370.00" y1="3417.5" x2="1370.00" y2="3437.0" stroke="#333" stroke-width="4"/>
<g transform="translate(1333.90,3484.55) scale(1,1.0259)" fill="#111" >
<text x="0.00" y="0.00" font-size="43.23" font-weight="normal" stroke="#111" stroke-width="0.90" stroke-linejoin="round" xml:space="preserve">845</text>
</g>
<line x1="1243.02" y1="3417.5" x2="1243.02" y2="3428.5" stroke="#333" stroke-width="4"/>
<line x1="1116.04" y1="3417.5" x2="1116.04" y2="3437.0" stroke="#333" stroke-width="4"/>
<g transform="translate(1079.95,3484.55) scale(1,1.0292)" fill="#111" >
<text x="0.00" y="0.00" font-size="43.09" font-weight="normal" stroke="#111" stroke-width="0.90" stroke-linejoin="round" xml:space="preserve">850</text>
</g>
<line x1="989.06" y1="3417.5" x2="989.06" y2="3428.5" stroke="#333" stroke-width="4"/>
<line x1="862.08" y1="3417.5" x2="862.08" y2="3437.0" stroke="#333" stroke-width="4"/>
<g transform="translate(825.99,3484.55) scale(1,1.0259)" fill="#111" >
<text x="0.00" y="0.00" font-size="43.23" font-weight="normal" stroke="#111" stroke-width="0.90" stroke-linejoin="round" xml:space="preserve">855</text>
</g>
<line x1="735.10" y1="3417.5" x2="735.10" y2="3428.5" stroke="#333" stroke-width="4"/>
<line x1="608.12" y1="3417.5" x2="608.12" y2="3437.0" stroke="#333" stroke-width="4"/>
<g transform="translate(572.04,3484.55) scale(1,1.0292)" fill="#111" >
<text x="0.00" y="0.00" font-size="43.09" font-weight="normal" stroke="#111" stroke-width="0.90" stroke-linejoin="round" xml:space="preserve">860</text>
</g>
<line x1="481.15" y1="3417.5" x2="481.15" y2="3428.5" stroke="#333" stroke-width="4"/>
<line x1="354.17" y1="3417.5" x2="354.17" y2="3437.0" stroke="#333" stroke-width="4"/>
<g transform="translate(318.07,3484.55) scale(1,1.0259)" fill="#111" >
<text x="0.00" y="0.00" font-size="43.23" font-weight="normal" stroke="#111" stroke-width="0.90" stroke-linejoin="round" xml:space="preserve">865</text>
</g>
<line x1="227.19" y1="3417.5" x2="227.19" y2="3428.5" stroke="#333" stroke-width="4"/>
<g transform="translate(156.45,2519.00) scale(1,1.0044)" fill="#000" >
<text x="0.00" y="0.00" font-size="93.07" font-weight="bold" xml:space="preserve">(c)</text>
</g>
<g transform="translate(650.55,2502.60) scale(1,1.0149)" fill="#000" >
<text x="0.00" y="0.00" font-size="73.11" font-weight="bold" xml:space="preserve">Ni2p</text>
<text x="158.43" y="19.45" font-size="48.25" font-weight="bold" xml:space="preserve">3/2</text>
</g>
<g transform="translate(355.07,2730.45) scale(1,1.0080)" fill="#000" >
<text x="0.00" y="0.00" font-size="35.08" font-weight="bold" stroke="#000" stroke-width="1.10" stroke-linejoin="round" xml:space="preserve">Ni2p</text>
<text x="76.02" y="9.40" font-size="23.15" font-weight="bold" stroke="#000" stroke-width="0.70" stroke-linejoin="round" xml:space="preserve">3/2</text>
<text x="108.21" y="0.00" font-size="35.08" font-weight="bold" stroke="#000" stroke-width="1.10" stroke-linejoin="round" xml:space="preserve"> NiAl</text>
<text x="188.11" y="9.40" font-size="23.15" font-weight="bold" stroke="#000" stroke-width="0.70" stroke-linejoin="round" xml:space="preserve">2</text>
<text x="200.99" y="0.00" font-size="35.08" font-weight="bold" stroke="#000" stroke-width="1.10" stroke-linejoin="round" xml:space="preserve">O</text>
<text x="228.28" y="9.40" font-size="23.15" font-weight="bold" stroke="#000" stroke-width="0.70" stroke-linejoin="round" xml:space="preserve">4</text>
<text x="241.15" y="0.00" font-size="35.08" font-weight="bold" stroke="#000" stroke-width="1.10" stroke-linejoin="round" xml:space="preserve"> (856.5 eV)</text>
</g>
<g transform="translate(474.50,2828.45) scale(1,1.0909)" fill="#000" >
<text x="0.00" y="0.00" font-size="35.07" font-weight="bold" stroke="#000" stroke-width="1.10" stroke-linejoin="round" xml:space="preserve">Satelite</text>
</g>
<g transform="translate(747.30,2890.25) scale(1,1.0431)" fill="#000" >
<text x="0.00" y="0.00" font-size="45.43" font-weight="bold" stroke="#000" stroke-width="1.10" stroke-linejoin="round" xml:space="preserve">Ni</text>
<text x="45.43" y="-12.63" font-size="30.44" font-weight="bold" stroke="#000" stroke-width="0.70" stroke-linejoin="round" xml:space="preserve">2+</text>
</g>
<g transform="translate(941.89,2823.45) scale(1,1.0165)" fill="#000" >
<text x="0.00" y="0.00" font-size="34.79" font-weight="bold" stroke="#000" stroke-width="1.10" stroke-linejoin="round" xml:space="preserve">Ni2p</text>
<text x="75.38" y="9.24" font-size="22.96" font-weight="bold" stroke="#000" stroke-width="0.70" stroke-linejoin="round" xml:space="preserve">3/2</text>
<text x="107.30" y="0.00" font-size="34.79" font-weight="bold" stroke="#000" stroke-width="1.10" stroke-linejoin="round" xml:space="preserve"> NiO (855.4 eV)</text>
</g>
<g transform="translate(158.27,3379.50) scale(1,0.8620)" fill="#000" >
<text x="0.00" y="0.00" font-size="95.83" font-weight="bold" stroke="#000" stroke-width="4.00" stroke-linejoin="round" xml:space="preserve">NiO</text>
<text x="170.37" y="0.00" font-size="95.83" font-weight="bold" stroke="#000" stroke-width="1.50" stroke-linejoin="round" xml:space="preserve">/</text>
<text x="196.99" y="0.00" font-size="95.83" font-weight="bold" stroke="#000" stroke-width="4.00" stroke-linejoin="round" xml:space="preserve">ATZ3</text>
<text x="429.47" y="33.35" font-size="77.62" font-weight="bold" stroke="#000" stroke-width="1.00" stroke-linejoin="round" xml:space="preserve">WI</text>
</g>
<g transform="translate(412.14,3583.00) scale(1,1.0557)" fill="#000" >
<text x="0.00" y="0.00" font-size="81.00" font-weight="bold" xml:space="preserve">Binding Energy (eV)</text>
</g>
<line x1="627.9" y1="2780.6" x2="718.6" y2="2980.2" stroke="#222" stroke-width="2.2" stroke-linecap="round"/><path d="M727.7,3000.2 L710.9,2981.5 L724.6,2975.2 Z" fill="#000" stroke="#000" stroke-width="1.5" stroke-linejoin="round"/>
<line x1="1073.8" y1="2981.7" x2="986.1" y2="3096.5" stroke="#222" stroke-width="2.2" stroke-linecap="round"/><path d="M972.8,3114.0 L981.4,3090.4 L993.3,3099.5 Z" fill="#000" stroke="#000" stroke-width="1.5" stroke-linejoin="round"/>
<g transform="translate(87.8,3137.6) rotate(-90)"><g transform="translate(-5.21,0.00) scale(1,1.0672)" fill="#000" >
<text x="0.00" y="0.00" font-size="80.12" font-weight="bold" xml:space="preserve">Intensity (a.u.)</text>
</g></g>
</g></svg></body></html>
